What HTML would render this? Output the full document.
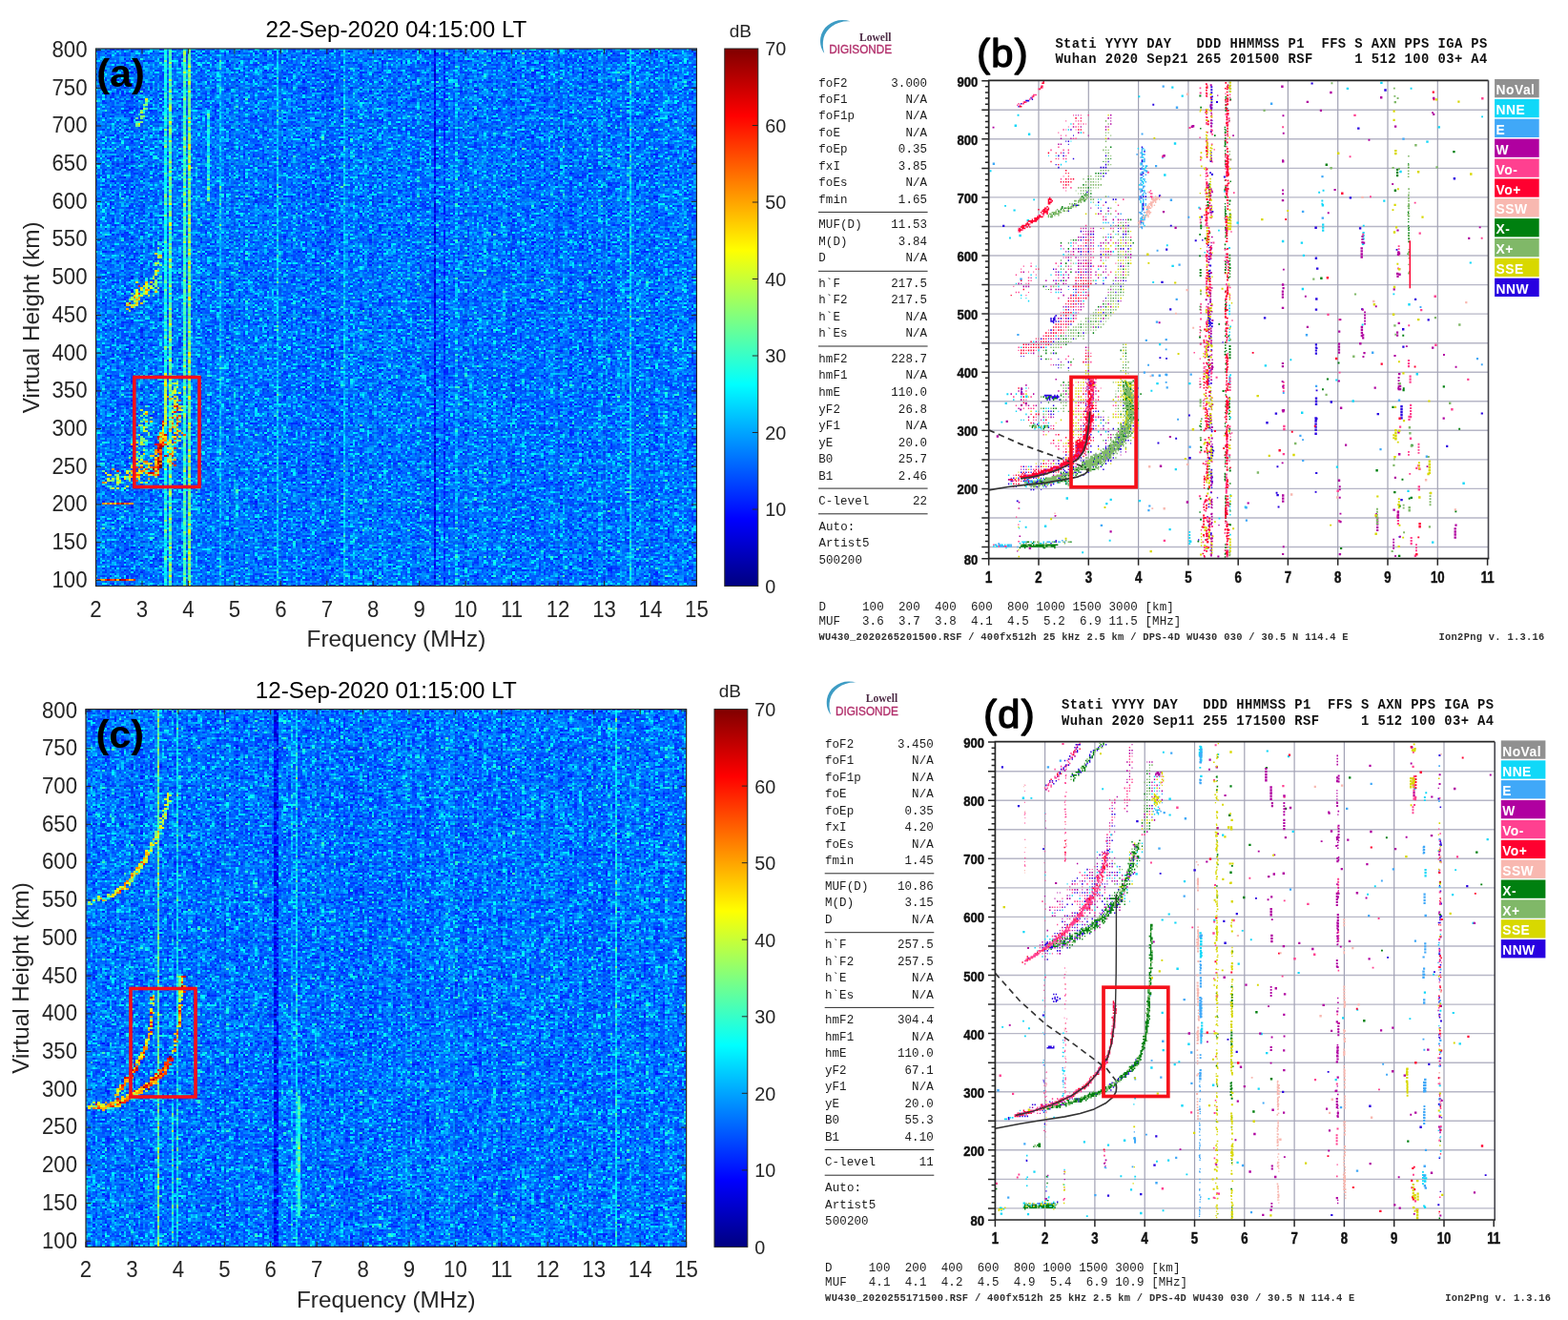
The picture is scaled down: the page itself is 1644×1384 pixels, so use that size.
<!DOCTYPE html>
<html lang="en"><head><meta charset="utf-8"><title>Ionogram comparison</title>
<style>html,body{margin:0;padding:0;background:#fff}body{width:1644px;height:1384px;overflow:hidden}svg{display:block}text{white-space:pre}</style>
</head><body>
<svg width="1644" height="1384" viewBox="0 0 1644 1384" xml:space="preserve">
<defs>
<filter id="ha" x="100" y="51" width="630" height="564" filterUnits="userSpaceOnUse" primitiveUnits="userSpaceOnUse" color-interpolation-filters="sRGB">
<feTurbulence type="fractalNoise" baseFrequency="1.7 1.9" numOctaves="1" seed="3" result="n"/>
<feColorMatrix in="n" type="matrix" values="1 0 0 0 0 1 0 0 0 0 1 0 0 0 0 0 0 0 0 1" result="g"/>
<feFlood x="100" y="51" width="1" height="1" flood-color="#fff" result="fa"/>
<feOffset in="fa" dx="0" dy="0" x="100" y="51" width="5" height="2" result="fa2"/>
<feTile in="fa2" result="ga"/>
<feComposite in="g" in2="ga" operator="in" result="sa"/>
<feConvolveMatrix in="sa" order="2 2" kernelMatrix="1 1 1 1" divisor="1" targetX="1" targetY="1" edgeMode="none" preserveAlpha="false" result="pa"/>
<feFlood x="102" y="51" width="1" height="1" flood-color="#fff" result="fb"/>
<feOffset in="fb" dx="0" dy="0" x="100" y="51" width="5" height="2" result="fb2"/>
<feTile in="fb2" result="gb"/>
<feComposite in="g" in2="gb" operator="in" result="sb"/>
<feConvolveMatrix in="sb" order="3 2" kernelMatrix="1 1 1 1 1 1" divisor="1" targetX="2" targetY="1" edgeMode="none" preserveAlpha="false" result="pb"/>
<feComposite in="pa" in2="pb" operator="over" result="pix"/>
<feComponentTransfer in="pix" result="pix"><feFuncR type="table" tableValues="0.386 0.407 0.429 0.461 0.5 0.564 0.657 0.743 0.814"/><feFuncG type="table" tableValues="0.386 0.407 0.429 0.461 0.5 0.564 0.657 0.743 0.814"/><feFuncB type="table" tableValues="0.386 0.407 0.429 0.461 0.5 0.564 0.657 0.743 0.814"/></feComponentTransfer><feComposite in="SourceGraphic" in2="pix" operator="arithmetic" k1="0" k2="1" k3="1.1" k4="-0.55" result="s"/>
<feGaussianBlur in="s" stdDeviation="0.5" result="s"/><feComponentTransfer in="s">
<feFuncR type="table" tableValues="0 0 0 0 0.5 1 1 1 0.5"/>
<feFuncG type="table" tableValues="0 0 0.5 1 1 1 0.5 0 0"/>
<feFuncB type="table" tableValues="0.5 1 1 1 0.5 0 0 0 0"/>
</feComponentTransfer>
</filter>
<linearGradient id="haj" x1="0" y1="1" x2="0" y2="0"><stop offset="0" stop-color="#000080"/><stop offset=".125" stop-color="#00f"/><stop offset=".375" stop-color="#0ff"/><stop offset=".625" stop-color="#ff0"/><stop offset=".875" stop-color="#f00"/><stop offset="1" stop-color="#800000"/></linearGradient>
<filter id="hc" x="90" y="743" width="630" height="564" filterUnits="userSpaceOnUse" primitiveUnits="userSpaceOnUse" color-interpolation-filters="sRGB">
<feTurbulence type="fractalNoise" baseFrequency="1.7 1.9" numOctaves="1" seed="11" result="n"/>
<feColorMatrix in="n" type="matrix" values="1 0 0 0 0 1 0 0 0 0 1 0 0 0 0 0 0 0 0 1" result="g"/>
<feFlood x="90" y="743" width="1" height="1" flood-color="#fff" result="fa"/>
<feOffset in="fa" dx="0" dy="0" x="90" y="743" width="5" height="2" result="fa2"/>
<feTile in="fa2" result="ga"/>
<feComposite in="g" in2="ga" operator="in" result="sa"/>
<feConvolveMatrix in="sa" order="2 2" kernelMatrix="1 1 1 1" divisor="1" targetX="1" targetY="1" edgeMode="none" preserveAlpha="false" result="pa"/>
<feFlood x="92" y="743" width="1" height="1" flood-color="#fff" result="fb"/>
<feOffset in="fb" dx="0" dy="0" x="90" y="743" width="5" height="2" result="fb2"/>
<feTile in="fb2" result="gb"/>
<feComposite in="g" in2="gb" operator="in" result="sb"/>
<feConvolveMatrix in="sb" order="3 2" kernelMatrix="1 1 1 1 1 1" divisor="1" targetX="2" targetY="1" edgeMode="none" preserveAlpha="false" result="pb"/>
<feComposite in="pa" in2="pb" operator="over" result="pix"/>
<feComponentTransfer in="pix" result="pix"><feFuncR type="table" tableValues="0.386 0.407 0.429 0.461 0.5 0.564 0.657 0.743 0.814"/><feFuncG type="table" tableValues="0.386 0.407 0.429 0.461 0.5 0.564 0.657 0.743 0.814"/><feFuncB type="table" tableValues="0.386 0.407 0.429 0.461 0.5 0.564 0.657 0.743 0.814"/></feComponentTransfer><feComposite in="SourceGraphic" in2="pix" operator="arithmetic" k1="0" k2="1" k3="1.1" k4="-0.55" result="s"/>
<feGaussianBlur in="s" stdDeviation="0.5" result="s"/><feComponentTransfer in="s">
<feFuncR type="table" tableValues="0 0 0 0 0.5 1 1 1 0.5"/>
<feFuncG type="table" tableValues="0 0 0.5 1 1 1 0.5 0 0"/>
<feFuncB type="table" tableValues="0.5 1 1 1 0.5 0 0 0 0"/>
</feComponentTransfer>
</filter>
<linearGradient id="hcj" x1="0" y1="1" x2="0" y2="0"><stop offset="0" stop-color="#000080"/><stop offset=".125" stop-color="#00f"/><stop offset=".375" stop-color="#0ff"/><stop offset=".625" stop-color="#ff0"/><stop offset=".875" stop-color="#f00"/><stop offset="1" stop-color="#800000"/></linearGradient>


</defs>
<rect width="1644" height="1384" fill="#fff"/>
<g filter="url(#ha)" shape-rendering="crispEdges">
<rect x="100" y="51" width="630" height="564" fill="#3c3c3c"/>
<path d="M137 51h3v564h-3zM477 51h3v564h-3zM570 51h2v564h-2zM610 51h2v564h-2z" fill="#373737"/>
<path d="M130 51h2v564h-2zM132 51h3v564h-3zM172 51h3v564h-3zM255 51h2v564h-2zM290 51h2v564h-2zM305 51h2v564h-2zM320 51h2v564h-2zM330 51h2v564h-2zM342 51h3v564h-3zM345 51h2v564h-2zM347 51h3v564h-3zM475 51h2v564h-2zM515 51h2v564h-2zM537 51h3v564h-3zM545 51h2v564h-2zM585 51h2v564h-2zM597 51h3v564h-3zM625 51h2v564h-2zM685 51h2v564h-2zM725 51h2v564h-2z" fill="#383838"/>
<path d="M115 51h2v564h-2zM117 51h3v564h-3zM122 51h3v564h-3zM135 51h2v564h-2zM147 51h3v564h-3zM157 51h3v564h-3zM162 51h3v564h-3zM170 51h2v564h-2zM180 51h2v564h-2zM197 51h3v564h-3zM210 51h2v564h-2zM215 51h2v564h-2zM222 51h3v564h-3zM225 51h2v564h-2zM235 51h2v564h-2zM240 51h2v564h-2zM242 51h3v564h-3zM250 51h2v564h-2zM275 51h2v564h-2zM280 51h2v564h-2zM297 51h3v564h-3zM312 51h3v564h-3zM317 51h3v564h-3zM335 51h2v564h-2zM337 51h3v564h-3zM355 51h2v564h-2zM357 51h3v564h-3zM365 51h2v564h-2zM387 51h3v564h-3zM395 51h2v564h-2zM400 51h2v564h-2zM407 51h3v564h-3zM425 51h2v564h-2zM432 51h3v564h-3zM447 51h3v564h-3zM452 51h3v564h-3zM482 51h3v564h-3zM485 51h2v564h-2zM490 51h2v564h-2zM500 51h2v564h-2zM512 51h3v564h-3zM520 51h2v564h-2zM532 51h3v564h-3zM535 51h2v564h-2zM552 51h3v564h-3zM557 51h3v564h-3zM565 51h2v564h-2zM582 51h3v564h-3zM595 51h2v564h-2zM617 51h3v564h-3zM620 51h2v564h-2zM622 51h3v564h-3zM632 51h3v564h-3zM637 51h3v564h-3zM640 51h2v564h-2zM642 51h3v564h-3zM665 51h2v564h-2zM675 51h2v564h-2zM682 51h3v564h-3zM687 51h3v564h-3zM700 51h2v564h-2zM722 51h3v564h-3z" fill="#3a3a3a"/>
<path d="M100 51h2v564h-2zM107 51h3v564h-3zM112 51h3v564h-3zM120 51h2v564h-2zM125 51h2v564h-2zM145 51h2v564h-2zM152 51h3v564h-3zM155 51h2v564h-2zM190 51h2v564h-2zM200 51h2v564h-2zM207 51h3v564h-3zM217 51h3v564h-3zM220 51h2v564h-2zM227 51h3v564h-3zM252 51h3v564h-3zM260 51h2v564h-2zM270 51h2v564h-2zM282 51h3v564h-3zM307 51h3v564h-3zM310 51h2v564h-2zM315 51h2v564h-2zM350 51h2v564h-2zM360 51h2v564h-2zM372 51h3v564h-3zM382 51h3v564h-3zM385 51h2v564h-2zM392 51h3v564h-3zM410 51h2v564h-2zM422 51h3v564h-3zM427 51h3v564h-3zM437 51h3v564h-3zM450 51h2v564h-2zM455 51h2v564h-2zM502 51h3v564h-3zM505 51h2v564h-2zM510 51h2v564h-2zM527 51h3v564h-3zM530 51h2v564h-2zM540 51h2v564h-2zM547 51h3v564h-3zM567 51h3v564h-3zM575 51h2v564h-2zM577 51h3v564h-3zM580 51h2v564h-2zM605 51h2v564h-2zM615 51h2v564h-2zM647 51h3v564h-3zM652 51h3v564h-3zM662 51h3v564h-3zM670 51h2v564h-2zM672 51h3v564h-3zM677 51h3v564h-3zM690 51h2v564h-2zM697 51h3v564h-3zM705 51h2v564h-2zM707 51h3v564h-3zM712 51h3v564h-3zM717 51h3v564h-3z" fill="#3e3e3e"/>
<path d="M160 51h2v564h-2zM165 51h2v564h-2zM182 51h3v564h-3zM185 51h2v564h-2zM192 51h3v564h-3zM232 51h3v564h-3zM247 51h3v564h-3zM257 51h3v564h-3zM325 51h2v564h-2zM362 51h3v564h-3zM402 51h3v564h-3zM405 51h2v564h-2zM492 51h3v564h-3zM507 51h3v564h-3zM517 51h3v564h-3zM630 51h2v564h-2zM635 51h2v564h-2z" fill="#404040"/>
<path d="M177 51h3v564h-3zM205 51h2v564h-2zM245 51h2v564h-2zM370 51h2v564h-2zM590 51h2v564h-2zM627 51h3v564h-3zM650 51h2v564h-2zM695 51h2v564h-2z" fill="#424242"/>
<path d="M105 51h2v564h-2zM715 51h2v564h-2z" fill="#434343"/>
<rect x="172" y="51" width="3" height="564" fill="#626262"/>
<rect x="177" y="51" width="3" height="564" fill="#757575"/>
<rect x="192" y="51" width="3" height="564" fill="#717171"/>
<rect x="197" y="51" width="3" height="564" fill="#808080"/>
<rect x="230" y="51" width="2" height="564" fill="#505050"/>
<rect x="290" y="51" width="2" height="564" fill="#545454"/>
<rect x="360" y="51" width="2" height="564" fill="#505050"/>
<rect x="455" y="51" width="2" height="564" fill="#1d1d1d"/>
<rect x="465" y="51" width="2" height="564" fill="#2c2c2c"/>
<rect x="477" y="51" width="3" height="564" fill="#494949"/>
<rect x="660" y="51" width="2" height="564" fill="#575757"/>
<rect x="172" y="391" width="3" height="54" fill="#8e8e8e"/>
<rect x="217" y="115" width="3" height="96" fill="#626262"/>
<path d="M115 528h2M120 528h2" stroke="#8e8e8e" stroke-width="2" fill="none"/><path d="M107 528h3M110 528h2" stroke="#afafaf" stroke-width="2" fill="none"/><path d="M130 528h2M135 528h2M137 528h3" stroke="#bababa" stroke-width="2" fill="none"/><path d="M117 528h3M125 528h2" stroke="#c5c5c5" stroke-width="2" fill="none"/><path d="M112 528h3M132 528h3" stroke="#d0d0d0" stroke-width="2" fill="none"/><path d="M122 528h3" stroke="#dbdbdb" stroke-width="2" fill="none"/><path d="M127 528h3" stroke="#e6e6e6" stroke-width="2" fill="none"/>
<path d="M105 608h2M117 608h3M137 608h3" stroke="#afafaf" stroke-width="2" fill="none"/><path d="M122 608h3M135 608h2" stroke="#bababa" stroke-width="2" fill="none"/><path d="M107 608h3" stroke="#c5c5c5" stroke-width="2" fill="none"/><path d="M110 608h2M115 608h2M127 608h3M132 608h3M140 608h2" stroke="#d0d0d0" stroke-width="2" fill="none"/><path d="M102 608h3M120 608h2" stroke="#dbdbdb" stroke-width="2" fill="none"/><path d="M112 608h3M125 608h2" stroke="#f0f0f0" stroke-width="2" fill="none"/><path d="M130 608h2" stroke="#fbfbfb" stroke-width="2" fill="none"/>
<path d="M120 494h2M137 494h3M140 496h2M127 500h3M137 506h3M112 510h3M115 512h2" stroke="#626262" stroke-width="2" fill="none"/><path d="M142 488h3M120 498h2M132 502h3M127 506h3" stroke="#6d6d6d" stroke-width="2" fill="none"/><path d="M125 496h2M132 500h3M122 508h3M115 510h2" stroke="#787878" stroke-width="2" fill="none"/><path d="M135 480h2M137 488h3M135 494h2M137 496h3M130 500h2M117 504h3M125 504h2M117 512h3M130 512h2" stroke="#838383" stroke-width="2" fill="none"/><path d="M110 496h2M122 498h3M122 500h3M112 502h3M112 504h3M115 504h2M122 504h3M135 504h2M122 506h3" stroke="#8e8e8e" stroke-width="2" fill="none"/><path d="M132 494h3M112 498h3M140 500h2M117 502h3M122 502h3M135 502h2M125 506h2M132 510h3M122 512h3" stroke="#999999" stroke-width="2" fill="none"/><path d="M132 496h3M135 500h2" stroke="#a4a4a4" stroke-width="2" fill="none"/><path d="M117 492h3M115 498h2M137 500h3M130 502h2M107 506h3M110 506h2" stroke="#afafaf" stroke-width="2" fill="none"/><path d="M122 494h3" stroke="#d0d0d0" stroke-width="2" fill="none"/>
<path d="M155 494h2" stroke="#626262" stroke-width="2" fill="none"/><path d="M142 480h3M152 490h3" stroke="#6d6d6d" stroke-width="2" fill="none"/><path d="M150 498h2M147 506h3" stroke="#787878" stroke-width="2" fill="none"/><path d="M147 488h3M137 490h3M150 492h2M157 492h3M152 494h3M145 496h2" stroke="#838383" stroke-width="2" fill="none"/><path d="M145 494h2M140 500h2M152 506h3" stroke="#8e8e8e" stroke-width="2" fill="none"/><path d="M145 484h2M155 486h2M155 490h2M145 492h2" stroke="#999999" stroke-width="2" fill="none"/><path d="M152 484h3M152 486h3M147 496h3M155 498h2M142 500h3M135 502h2M145 502h2" stroke="#a4a4a4" stroke-width="2" fill="none"/><path d="M147 494h3M142 496h3M145 500h2" stroke="#afafaf" stroke-width="2" fill="none"/><path d="M155 488h2M157 490h3M150 494h2M152 496h3M135 498h2M145 498h2M140 504h2" stroke="#bababa" stroke-width="2" fill="none"/><path d="M150 484h2M152 492h3M137 494h3M155 496h2M142 498h3M155 502h2M142 504h3" stroke="#c5c5c5" stroke-width="2" fill="none"/><path d="M142 490h3M147 490h3" stroke="#d0d0d0" stroke-width="2" fill="none"/><path d="M150 486h2" stroke="#fbfbfb" stroke-width="2" fill="none"/>
<path d="M150 438h2M155 446h2M147 448h3M157 450h3M147 452h3M142 456h3M152 464h3M145 466h2M147 466h3M152 466h3M145 470h2M150 470h2M142 478h3M147 480h3" stroke="#626262" stroke-width="2" fill="none"/><path d="M160 432h2M152 436h3M152 440h3M152 444h3M152 446h3M155 454h2M142 468h3M152 472h3M145 480h2M150 486h2M145 488h2" stroke="#6d6d6d" stroke-width="2" fill="none"/><path d="M152 426h3M147 450h3M147 458h3M147 460h3M150 460h2M142 462h3M147 462h3M152 462h3M145 476h2M142 480h3M140 482h2M147 484h3" stroke="#787878" stroke-width="2" fill="none"/><path d="M150 434h2M147 442h3M145 446h2M152 448h3M150 450h2M150 452h2M152 452h3M150 462h2M142 464h3M137 466h3M150 466h2M150 472h2M150 476h2M140 480h2M147 482h3" stroke="#838383" stroke-width="2" fill="none"/><path d="M147 436h3M157 438h3M150 440h2M157 442h3M147 446h3M150 448h2M145 456h2M155 456h2M147 464h3M147 478h3M142 482h3" stroke="#8e8e8e" stroke-width="2" fill="none"/><path d="M147 430h3M152 432h3M142 474h3M142 486h3" stroke="#999999" stroke-width="2" fill="none"/><path d="M152 434h3" stroke="#a4a4a4" stroke-width="2" fill="none"/><path d="M152 442h3" stroke="#afafaf" stroke-width="2" fill="none"/>
<path d="M170 484h2" stroke="#787878" stroke-width="2" fill="none"/><path d="M167 460h3M165 478h2M162 496h3M162 500h3" stroke="#838383" stroke-width="2" fill="none"/><path d="M167 464h3M157 486h3M157 498h3" stroke="#8e8e8e" stroke-width="2" fill="none"/><path d="M167 458h3M162 492h3" stroke="#999999" stroke-width="2" fill="none"/><path d="M172 458h3M162 480h3" stroke="#a4a4a4" stroke-width="2" fill="none"/><path d="M172 460h3M167 462h3M162 472h3M162 476h3M160 478h2M162 482h3M162 484h3M162 486h3M157 490h3M165 494h2M165 496h2M160 498h2" stroke="#afafaf" stroke-width="2" fill="none"/><path d="M170 462h2M172 462h3M165 466h2M167 472h3M162 474h3M157 478h3M162 488h3M160 490h2" stroke="#bababa" stroke-width="2" fill="none"/><path d="M170 458h2M170 460h2M170 466h2M167 478h3M167 480h3M165 482h2M167 482h3M167 486h3M162 490h3M162 498h3" stroke="#c5c5c5" stroke-width="2" fill="none"/><path d="M167 456h3M162 466h3M165 468h2M165 474h2M167 474h3M165 488h2M165 490h2M160 496h2M165 498h2" stroke="#d0d0d0" stroke-width="2" fill="none"/><path d="M172 456h3M165 460h2M172 466h3M165 486h2M162 494h3" stroke="#dbdbdb" stroke-width="2" fill="none"/><path d="M170 464h2M167 468h3M170 468h2M167 470h3M165 472h2" stroke="#e6e6e6" stroke-width="2" fill="none"/><path d="M165 458h2M167 466h3M165 470h2M167 476h3M165 480h2M165 484h2M167 490h3M165 492h2" stroke="#f0f0f0" stroke-width="2" fill="none"/><path d="M167 484h3M167 488h3M160 492h2M157 496h3" stroke="#fbfbfb" stroke-width="2" fill="none"/>
<path d="M172 446h3" stroke="#838383" stroke-width="2" fill="none"/><path d="M170 458h2" stroke="#8e8e8e" stroke-width="2" fill="none"/><path d="M167 456h3" stroke="#999999" stroke-width="2" fill="none"/><path d="M170 448h2M170 450h2M170 452h2" stroke="#a4a4a4" stroke-width="2" fill="none"/><path d="M170 454h2M170 456h2" stroke="#afafaf" stroke-width="2" fill="none"/><path d="M170 444h2" stroke="#bababa" stroke-width="2" fill="none"/><path d="M167 454h3" stroke="#c5c5c5" stroke-width="2" fill="none"/><path d="M170 442h2M170 446h2" stroke="#d0d0d0" stroke-width="2" fill="none"/>
<path d="M180 420h2M182 430h3M180 436h2M182 438h3M187 440h3M182 452h3M177 458h3M180 460h2M182 462h3M172 490h3M177 494h3" stroke="#626262" stroke-width="2" fill="none"/><path d="M180 410h2M185 434h2M180 446h2M185 464h2M175 472h2M177 474h3M172 482h3M172 484h3M175 486h2" stroke="#6d6d6d" stroke-width="2" fill="none"/><path d="M180 426h2M180 430h2M182 434h3M187 434h3M182 446h3M182 450h3M177 470h3M187 470h3M182 480h3" stroke="#787878" stroke-width="2" fill="none"/><path d="M185 416h2M190 426h2M187 430h3M185 454h2M180 470h2M180 472h2M182 474h3M177 478h3M175 480h2M180 482h2" stroke="#838383" stroke-width="2" fill="none"/><path d="M180 414h2M185 420h2M182 424h3M187 426h3M182 428h3M187 438h3M180 440h2M185 442h2M177 446h3M185 462h2M187 462h3M177 480h3M177 482h3M177 486h3" stroke="#8e8e8e" stroke-width="2" fill="none"/><path d="M182 422h3M187 428h3M190 430h2M180 442h2M177 450h3M187 458h3M177 464h3M175 466h2M175 484h2M172 492h3" stroke="#999999" stroke-width="2" fill="none"/><path d="M180 412h2M180 418h2M182 420h3M185 424h2M185 450h2M177 452h3M180 458h2M182 458h3M180 466h2M175 470h2M175 474h2M180 476h2" stroke="#a4a4a4" stroke-width="2" fill="none"/><path d="M182 412h3M180 432h2M182 436h3M187 442h3M185 446h2M180 448h2M182 448h3M182 454h3M177 462h3M175 464h2M175 482h2M182 482h3" stroke="#afafaf" stroke-width="2" fill="none"/><path d="M177 418h3M187 452h3M190 454h2M177 484h3" stroke="#bababa" stroke-width="2" fill="none"/><path d="M175 416h2M187 420h3M180 444h2M185 456h2M182 460h3M180 474h2M177 476h3M180 478h2M180 486h2" stroke="#c5c5c5" stroke-width="2" fill="none"/><path d="M182 416h3M182 426h3M182 432h3M187 436h3M185 440h2M185 452h2M192 456h3M182 464h3M182 488h3" stroke="#d0d0d0" stroke-width="2" fill="none"/><path d="M185 426h2M185 430h2M185 444h2M182 470h3" stroke="#dbdbdb" stroke-width="2" fill="none"/><path d="M180 438h2M172 478h3" stroke="#e6e6e6" stroke-width="2" fill="none"/><path d="M185 438h2" stroke="#f0f0f0" stroke-width="2" fill="none"/>
<path d="M180 414h2" stroke="#6d6d6d" stroke-width="2" fill="none"/><path d="M180 394h2M185 400h2M185 404h2M180 412h2M177 414h3" stroke="#787878" stroke-width="2" fill="none"/><path d="M177 400h3M182 402h3M185 402h2M182 406h3M177 410h3" stroke="#838383" stroke-width="2" fill="none"/><path d="M180 402h2M182 408h3M187 412h3M182 416h3" stroke="#8e8e8e" stroke-width="2" fill="none"/><path d="M177 404h3M185 406h2M182 410h3M182 412h3M185 418h2" stroke="#999999" stroke-width="2" fill="none"/>
<path d="M152 292h3M145 310h2" stroke="#626262" stroke-width="2" fill="none"/><path d="M152 294h3M155 300h2M140 304h2M150 308h2M140 322h2" stroke="#6d6d6d" stroke-width="2" fill="none"/><path d="M150 304h2M137 308h3M142 312h3" stroke="#787878" stroke-width="2" fill="none"/><path d="M152 300h3M147 304h3M147 308h3M140 314h2M142 316h3M150 316h2" stroke="#838383" stroke-width="2" fill="none"/><path d="M157 300h3M152 302h3M142 306h3M150 306h2M135 314h2M137 314h3M140 316h2M132 318h3M135 320h2M137 320h3M142 320h3M137 322h3M135 326h2" stroke="#8e8e8e" stroke-width="2" fill="none"/><path d="M142 296h3M157 302h3M152 306h3M142 308h3M140 310h2M142 310h3M147 310h3M155 310h2M137 312h3M147 318h3" stroke="#999999" stroke-width="2" fill="none"/><path d="M157 296h3M152 298h3M147 302h3M142 304h3M152 304h3M140 312h2M145 314h2M142 318h3M140 320h2" stroke="#a4a4a4" stroke-width="2" fill="none"/><path d="M150 300h2M155 304h2M152 308h3M132 320h3" stroke="#afafaf" stroke-width="2" fill="none"/><path d="M152 296h3M145 312h2M142 314h3M132 324h3" stroke="#bababa" stroke-width="2" fill="none"/><path d="M145 308h2" stroke="#c5c5c5" stroke-width="2" fill="none"/><path d="M145 300h2M135 318h2" stroke="#dbdbdb" stroke-width="2" fill="none"/>
<path d="M167 264h3M165 274h2M160 298h2" stroke="#626262" stroke-width="2" fill="none"/><path d="M165 264h2M170 280h2M165 282h2M165 296h2M167 296h3M160 310h2" stroke="#6d6d6d" stroke-width="2" fill="none"/><path d="M165 260h2M165 266h2M167 266h3M167 270h3M165 292h2M162 294h3M162 300h3" stroke="#787878" stroke-width="2" fill="none"/><path d="M170 262h2M162 278h3M162 286h3M160 290h2M167 290h3M162 296h3M162 298h3M162 304h3" stroke="#838383" stroke-width="2" fill="none"/><path d="M162 266h3M165 268h2M162 276h3M165 276h2M167 278h3M162 284h3M165 284h2M160 302h2M165 302h2" stroke="#8e8e8e" stroke-width="2" fill="none"/><path d="M165 270h2M162 288h3M160 292h2M162 306h3" stroke="#999999" stroke-width="2" fill="none"/><path d="M167 268h3" stroke="#a4a4a4" stroke-width="2" fill="none"/>
<path d="M155 106h2M150 118h2M145 128h2" stroke="#626262" stroke-width="2" fill="none"/><path d="M150 116h2M145 120h2M142 128h3M142 132h3" stroke="#6d6d6d" stroke-width="2" fill="none"/><path d="M152 106h3M152 108h3M152 114h3M147 122h3" stroke="#787878" stroke-width="2" fill="none"/><path d="M152 110h3M147 116h3M150 122h2M142 124h3M147 128h3M142 130h3M145 132h2" stroke="#838383" stroke-width="2" fill="none"/><path d="M152 104h3M150 110h2M150 114h2M147 118h3M147 124h3" stroke="#8e8e8e" stroke-width="2" fill="none"/><path d="M145 130h2" stroke="#999999" stroke-width="2" fill="none"/>
</g>
<path d="M100.5 568.7H730.4M100.5 529H730.4M100.5 489.3H730.4M100.5 449.6H730.4M100.5 409.9H730.4M100.5 370.2H730.4M100.5 330.5H730.4M100.5 290.8H730.4M100.5 251.1H730.4M100.5 211.4H730.4M100.5 171.7H730.4M100.5 132H730.4M100.5 92.3H730.4M149 51V614.5M197.4 51V614.5M245.9 51V614.5M294.3 51V614.5M342.8 51V614.5M391.2 51V614.5M439.7 51V614.5M488.1 51V614.5M536.6 51V614.5M585 51V614.5M633.5 51V614.5M681.9 51V614.5" stroke="#262626" stroke-opacity=".11" stroke-width="1" fill="none"/>
<path d="M100.5 608.4h5.5M730.4 608.4h-5.5M100.5 568.7h5.5M730.4 568.7h-5.5M100.5 529h5.5M730.4 529h-5.5M100.5 489.3h5.5M730.4 489.3h-5.5M100.5 449.6h5.5M730.4 449.6h-5.5M100.5 409.9h5.5M730.4 409.9h-5.5M100.5 370.2h5.5M730.4 370.2h-5.5M100.5 330.5h5.5M730.4 330.5h-5.5M100.5 290.8h5.5M730.4 290.8h-5.5M100.5 251.1h5.5M730.4 251.1h-5.5M100.5 211.4h5.5M730.4 211.4h-5.5M100.5 171.7h5.5M730.4 171.7h-5.5M100.5 132h5.5M730.4 132h-5.5M100.5 92.3h5.5M730.4 92.3h-5.5M100.5 52.6h5.5M730.4 52.6h-5.5M100.5 614.5v-5.5M100.5 51v5.5M149 614.5v-5.5M149 51v5.5M197.4 614.5v-5.5M197.4 51v5.5M245.9 614.5v-5.5M245.9 51v5.5M294.3 614.5v-5.5M294.3 51v5.5M342.8 614.5v-5.5M342.8 51v5.5M391.2 614.5v-5.5M391.2 51v5.5M439.7 614.5v-5.5M439.7 51v5.5M488.1 614.5v-5.5M488.1 51v5.5M536.6 614.5v-5.5M536.6 51v5.5M585 614.5v-5.5M585 51v5.5M633.5 614.5v-5.5M633.5 51v5.5M681.9 614.5v-5.5M681.9 51v5.5M730.4 614.5v-5.5M730.4 51v5.5" stroke="#262626" stroke-width="1" fill="none"/>
<rect x="100.5" y="51" width="629.9" height="563.5" fill="none" stroke="#262626" stroke-width="1.2"/>
<g font-family="'Liberation Sans',Arial,Helvetica,sans-serif" font-size="22.2" fill="#262626">
<g text-anchor="end">
<text transform="translate(91.5 615.7) scale(1 1.06)">100</text>
<text transform="translate(91.5 576) scale(1 1.06)">150</text>
<text transform="translate(91.5 536.3) scale(1 1.06)">200</text>
<text transform="translate(91.5 496.6) scale(1 1.06)">250</text>
<text transform="translate(91.5 456.9) scale(1 1.06)">300</text>
<text transform="translate(91.5 417.2) scale(1 1.06)">350</text>
<text transform="translate(91.5 377.5) scale(1 1.06)">400</text>
<text transform="translate(91.5 337.8) scale(1 1.06)">450</text>
<text transform="translate(91.5 298.1) scale(1 1.06)">500</text>
<text transform="translate(91.5 258.4) scale(1 1.06)">550</text>
<text transform="translate(91.5 218.7) scale(1 1.06)">600</text>
<text transform="translate(91.5 179) scale(1 1.06)">650</text>
<text transform="translate(91.5 139.3) scale(1 1.06)">700</text>
<text transform="translate(91.5 99.6) scale(1 1.06)">750</text>
<text transform="translate(91.5 59.9) scale(1 1.06)">800</text>
</g><g text-anchor="middle">
<text transform="translate(100.5 646.5) scale(1 1.06)">2</text>
<text transform="translate(149 646.5) scale(1 1.06)">3</text>
<text transform="translate(197.4 646.5) scale(1 1.06)">4</text>
<text transform="translate(245.9 646.5) scale(1 1.06)">5</text>
<text transform="translate(294.3 646.5) scale(1 1.06)">6</text>
<text transform="translate(342.8 646.5) scale(1 1.06)">7</text>
<text transform="translate(391.2 646.5) scale(1 1.06)">8</text>
<text transform="translate(439.7 646.5) scale(1 1.06)">9</text>
<text transform="translate(488.1 646.5) scale(1 1.06)">10</text>
<text transform="translate(536.6 646.5) scale(1 1.06)">11</text>
<text transform="translate(585 646.5) scale(1 1.06)">12</text>
<text transform="translate(633.5 646.5) scale(1 1.06)">13</text>
<text transform="translate(681.9 646.5) scale(1 1.06)">14</text>
<text transform="translate(730.4 646.5) scale(1 1.06)">15</text>
</g>
<text x="415.4" y="678.3" text-anchor="middle" font-size="24.3">Frequency (MHz)</text>
<text transform="translate(40.6 332.8) rotate(-90)" text-anchor="middle" font-size="24.3">Virtual Height (km)</text>
<text x="415.4" y="39" text-anchor="middle" font-size="24.2" fill="#000">22-Sep-2020 04:15:00 LT</text>
<rect x="759.8" y="51" width="35" height="563.5" fill="url(#haj)" stroke="#262626" stroke-width="1"/>
<path d="M794.8 534h-6M794.8 453.5h-6M794.8 373h-6M794.8 292.5h-6M794.8 212h-6M794.8 131.5h-6" stroke="#262626" stroke-width="1" fill="none"/>
<text transform="translate(802.3 621.9) scale(1 1.06)" font-size="19.8">0</text>
<text transform="translate(802.3 541.4) scale(1 1.06)" font-size="19.8">10</text>
<text transform="translate(802.3 460.9) scale(1 1.06)" font-size="19.8">20</text>
<text transform="translate(802.3 380.4) scale(1 1.06)" font-size="19.8">30</text>
<text transform="translate(802.3 299.9) scale(1 1.06)" font-size="19.8">40</text>
<text transform="translate(802.3 219.4) scale(1 1.06)" font-size="19.8">50</text>
<text transform="translate(802.3 138.9) scale(1 1.06)" font-size="19.8">60</text>
<text transform="translate(802.3 58.4) scale(1 1.06)" font-size="19.8">70</text>
<text x="776.3" y="38.5" text-anchor="middle" font-size="19">dB</text>
</g>
<rect x="140.8" y="395.5" width="68.2" height="115" fill="none" stroke="#f5101a" stroke-width="3.6"/>
<text x="101.2" y="90.9" font-family="'Liberation Sans',Arial,Helvetica,sans-serif" font-weight="bold" font-size="41.5" fill="#000">(a)</text>
<g filter="url(#hc)" shape-rendering="crispEdges">
<rect x="90" y="743" width="630" height="564" fill="#3c3c3c"/>
<path d="M235 743h2v564h-2zM247 743h3v564h-3zM312 743h3v564h-3zM432 743h3v564h-3zM632 743h3v564h-3zM675 743h2v564h-2z" fill="#373737"/>
<path d="M112 743h3v564h-3zM147 743h3v564h-3zM175 743h2v564h-2zM182 743h3v564h-3zM205 743h2v564h-2zM360 743h2v564h-2zM372 743h3v564h-3zM387 743h3v564h-3zM447 743h3v564h-3zM497 743h3v564h-3zM502 743h3v564h-3zM525 743h2v564h-2zM532 743h3v564h-3zM565 743h2v564h-2zM595 743h2v564h-2zM612 743h3v564h-3zM685 743h2v564h-2zM695 743h2v564h-2z" fill="#383838"/>
<path d="M97 743h3v564h-3zM110 743h2v564h-2zM120 743h2v564h-2zM127 743h3v564h-3zM142 743h3v564h-3zM150 743h2v564h-2zM167 743h3v564h-3zM195 743h2v564h-2zM217 743h3v564h-3zM220 743h2v564h-2zM225 743h2v564h-2zM227 743h3v564h-3zM245 743h2v564h-2zM255 743h2v564h-2zM257 743h3v564h-3zM270 743h2v564h-2zM275 743h2v564h-2zM280 743h2v564h-2zM302 743h3v564h-3zM322 743h3v564h-3zM332 743h3v564h-3zM337 743h3v564h-3zM340 743h2v564h-2zM352 743h3v564h-3zM355 743h2v564h-2zM362 743h3v564h-3zM365 743h2v564h-2zM367 743h3v564h-3zM370 743h2v564h-2zM375 743h2v564h-2zM377 743h3v564h-3zM385 743h2v564h-2zM392 743h3v564h-3zM400 743h2v564h-2zM402 743h3v564h-3zM412 743h3v564h-3zM415 743h2v564h-2zM417 743h3v564h-3zM420 743h2v564h-2zM437 743h3v564h-3zM445 743h2v564h-2zM450 743h2v564h-2zM452 743h3v564h-3zM460 743h2v564h-2zM480 743h2v564h-2zM482 743h3v564h-3zM485 743h2v564h-2zM487 743h3v564h-3zM510 743h2v564h-2zM512 743h3v564h-3zM522 743h3v564h-3zM545 743h2v564h-2zM555 743h2v564h-2zM562 743h3v564h-3zM575 743h2v564h-2zM587 743h3v564h-3zM597 743h3v564h-3zM602 743h3v564h-3zM615 743h2v564h-2zM642 743h3v564h-3zM645 743h2v564h-2zM647 743h3v564h-3zM692 743h3v564h-3zM710 743h2v564h-2zM712 743h3v564h-3zM715 743h2v564h-2z" fill="#3a3a3a"/>
<path d="M102 743h3v564h-3zM105 743h2v564h-2zM115 743h2v564h-2zM122 743h3v564h-3zM130 743h2v564h-2zM132 743h3v564h-3zM135 743h2v564h-2zM152 743h3v564h-3zM155 743h2v564h-2zM165 743h2v564h-2zM170 743h2v564h-2zM207 743h3v564h-3zM240 743h2v564h-2zM250 743h2v564h-2zM260 743h2v564h-2zM265 743h2v564h-2zM267 743h3v564h-3zM287 743h3v564h-3zM292 743h3v564h-3zM300 743h2v564h-2zM305 743h2v564h-2zM307 743h3v564h-3zM330 743h2v564h-2zM347 743h3v564h-3zM350 743h2v564h-2zM382 743h3v564h-3zM410 743h2v564h-2zM440 743h2v564h-2zM442 743h3v564h-3zM462 743h3v564h-3zM465 743h2v564h-2zM472 743h3v564h-3zM495 743h2v564h-2zM500 743h2v564h-2zM505 743h2v564h-2zM515 743h2v564h-2zM520 743h2v564h-2zM537 743h3v564h-3zM540 743h2v564h-2zM542 743h3v564h-3zM552 743h3v564h-3zM557 743h3v564h-3zM560 743h2v564h-2zM567 743h3v564h-3zM570 743h2v564h-2zM572 743h3v564h-3zM590 743h2v564h-2zM600 743h2v564h-2zM605 743h2v564h-2zM607 743h3v564h-3zM610 743h2v564h-2zM620 743h2v564h-2zM652 743h3v564h-3zM660 743h2v564h-2zM662 743h3v564h-3zM667 743h3v564h-3zM677 743h3v564h-3zM680 743h2v564h-2zM700 743h2v564h-2zM702 743h3v564h-3zM705 743h2v564h-2zM717 743h3v564h-3z" fill="#3e3e3e"/>
<path d="M95 743h2v564h-2zM117 743h3v564h-3zM162 743h3v564h-3zM180 743h2v564h-2zM237 743h3v564h-3zM295 743h2v564h-2zM335 743h2v564h-2zM407 743h3v564h-3zM430 743h2v564h-2zM457 743h3v564h-3zM467 743h3v564h-3zM475 743h2v564h-2zM517 743h3v564h-3zM547 743h3v564h-3zM582 743h3v564h-3zM640 743h2v564h-2zM682 743h3v564h-3z" fill="#404040"/>
<path d="M470 743h2v564h-2zM697 743h3v564h-3z" fill="#424242"/>
<path d="M425 743h2v564h-2z" fill="#434343"/>
<rect x="165" y="743" width="2" height="564" fill="#787878"/>
<rect x="185" y="743" width="2" height="564" fill="#5b5b5b"/>
<rect x="287" y="743" width="3" height="564" fill="#212121"/>
<rect x="290" y="743" width="2" height="564" fill="#242424"/>
<rect x="305" y="743" width="2" height="564" fill="#494949"/>
<rect x="310" y="743" width="2" height="564" fill="#575757"/>
<rect x="645" y="743" width="2" height="564" fill="#5b5b5b"/>
<rect x="180" y="1157" width="2" height="144" fill="#626262"/>
<rect x="312" y="1149" width="3" height="128" fill="#6d6d6d"/>
<rect x="187" y="1023" width="3" height="24" fill="#838383"/>
<path d="M125 1154h2M122 1158h3M115 1160h2M117 1160h3M112 1162h3" stroke="#787878" stroke-width="2" fill="none"/><path d="M95 1158h2M100 1160h2" stroke="#838383" stroke-width="2" fill="none"/><path d="M110 1156h2M122 1156h3M105 1158h2M95 1160h2M92 1162h3M107 1162h3" stroke="#8e8e8e" stroke-width="2" fill="none"/><path d="M97 1156h3M115 1156h2M117 1156h3M107 1158h3M117 1158h3M125 1158h2M97 1160h3M120 1160h2M125 1160h2M100 1162h2" stroke="#999999" stroke-width="2" fill="none"/><path d="M102 1156h3M102 1158h3M112 1158h3M92 1160h3M105 1160h2M107 1160h3M110 1160h2M107 1164h3" stroke="#a4a4a4" stroke-width="2" fill="none"/><path d="M115 1158h2M122 1160h3M97 1162h3M110 1162h2" stroke="#afafaf" stroke-width="2" fill="none"/><path d="M102 1160h3M112 1160h3M105 1162h2" stroke="#bababa" stroke-width="2" fill="none"/><path d="M100 1158h2M102 1162h3" stroke="#c5c5c5" stroke-width="2" fill="none"/>
<path d="M120 1150h2" stroke="#6d6d6d" stroke-width="2" fill="none"/><path d="M152 1096h3" stroke="#838383" stroke-width="2" fill="none"/><path d="M152 1092h3M150 1106h2M125 1144h2" stroke="#8e8e8e" stroke-width="2" fill="none"/><path d="M152 1094h3M135 1128h2M122 1144h3M122 1146h3" stroke="#999999" stroke-width="2" fill="none"/><path d="M152 1098h3M147 1106h3M147 1108h3M142 1112h3M137 1124h3M132 1134h3M122 1142h3" stroke="#a4a4a4" stroke-width="2" fill="none"/><path d="M150 1098h2M145 1108h2M145 1110h2M142 1114h3M145 1116h2M140 1120h2M137 1130h3M130 1132h2M125 1138h2M130 1138h2M125 1140h2M120 1148h2" stroke="#afafaf" stroke-width="2" fill="none"/><path d="M152 1100h3M150 1102h2M147 1110h3M145 1114h2M142 1118h3M140 1122h2M135 1130h2M132 1132h3M122 1148h3" stroke="#bababa" stroke-width="2" fill="none"/><path d="M150 1100h2M147 1104h3M150 1104h2M150 1108h2M140 1116h2M135 1126h2M130 1134h2M130 1136h2M125 1142h2M127 1142h3" stroke="#c5c5c5" stroke-width="2" fill="none"/><path d="M145 1112h2M137 1122h3M137 1128h3M127 1140h3" stroke="#d0d0d0" stroke-width="2" fill="none"/><path d="M140 1124h2M132 1130h3" stroke="#dbdbdb" stroke-width="2" fill="none"/><path d="M142 1122h3M127 1138h3" stroke="#e6e6e6" stroke-width="2" fill="none"/><path d="M142 1120h3M130 1130h2" stroke="#f0f0f0" stroke-width="2" fill="none"/>
<path d="M157 1068h3" stroke="#787878" stroke-width="2" fill="none"/><path d="M160 1054h2M152 1090h3" stroke="#838383" stroke-width="2" fill="none"/><path d="M157 1052h3M157 1078h3" stroke="#8e8e8e" stroke-width="2" fill="none"/><path d="M157 1074h3M155 1090h2" stroke="#999999" stroke-width="2" fill="none"/><path d="M160 1044h2M160 1062h2M157 1070h3" stroke="#a4a4a4" stroke-width="2" fill="none"/><path d="M160 1052h2M157 1058h3M157 1060h3M157 1066h3M155 1078h2M155 1084h2M157 1084h3" stroke="#afafaf" stroke-width="2" fill="none"/><path d="M157 1048h3M160 1048h2M157 1062h3M157 1076h3M155 1080h2M157 1082h3M155 1088h2" stroke="#bababa" stroke-width="2" fill="none"/><path d="M157 1046h3M160 1046h2M157 1072h3M155 1086h2" stroke="#c5c5c5" stroke-width="2" fill="none"/>
<path d="M115 1162h2" stroke="#6d6d6d" stroke-width="2" fill="none"/><path d="M120 1154h2M120 1158h2" stroke="#787878" stroke-width="2" fill="none"/><path d="M152 1144h3M140 1148h2M137 1152h3" stroke="#838383" stroke-width="2" fill="none"/><path d="M157 1134h3M135 1146h2M142 1148h3M137 1150h3M115 1156h2" stroke="#8e8e8e" stroke-width="2" fill="none"/><path d="M155 1136h2M147 1142h3M140 1146h2M145 1146h2M132 1148h3M127 1152h3M117 1156h3" stroke="#999999" stroke-width="2" fill="none"/><path d="M145 1142h2M150 1142h2M142 1144h3M127 1150h3M122 1154h3M127 1154h3M120 1156h2" stroke="#a4a4a4" stroke-width="2" fill="none"/><path d="M152 1136h3M145 1144h2M137 1146h3M142 1146h3M147 1146h3M137 1148h3M122 1156h3M130 1156h2M112 1160h3" stroke="#afafaf" stroke-width="2" fill="none"/><path d="M155 1138h2M155 1140h2M135 1148h2M132 1150h3M130 1152h2M130 1154h2M127 1156h3M117 1158h3" stroke="#bababa" stroke-width="2" fill="none"/><path d="M150 1138h2M147 1140h3M140 1144h2M147 1144h3M132 1152h3M125 1154h2M112 1158h3M122 1158h3" stroke="#c5c5c5" stroke-width="2" fill="none"/><path d="M157 1138h3M122 1152h3M135 1152h2M125 1156h2M115 1158h2M115 1160h2" stroke="#d0d0d0" stroke-width="2" fill="none"/><path d="M152 1140h3M135 1150h2M132 1154h3" stroke="#dbdbdb" stroke-width="2" fill="none"/><path d="M157 1136h3M152 1138h3M117 1160h3" stroke="#e6e6e6" stroke-width="2" fill="none"/><path d="M155 1142h2" stroke="#f0f0f0" stroke-width="2" fill="none"/><path d="M150 1140h2" stroke="#fbfbfb" stroke-width="2" fill="none"/>
<path d="M172 1122h3M167 1124h3M162 1128h3M157 1130h3M160 1134h2" stroke="#a4a4a4" stroke-width="2" fill="none"/><path d="M157 1134h3M162 1134h3M160 1136h2" stroke="#afafaf" stroke-width="2" fill="none"/><path d="M172 1120h3M167 1122h3M165 1130h2M157 1132h3" stroke="#bababa" stroke-width="2" fill="none"/><path d="M177 1110h3M175 1112h2M177 1116h3M172 1118h3M165 1122h2M167 1128h3M167 1130h3M162 1136h3" stroke="#c5c5c5" stroke-width="2" fill="none"/><path d="M172 1114h3M172 1124h3M170 1126h2M172 1126h3M170 1128h2M162 1132h3M157 1136h3" stroke="#d0d0d0" stroke-width="2" fill="none"/><path d="M177 1112h3M175 1114h2M172 1116h3M175 1116h2M175 1120h2M170 1122h2M160 1130h2M162 1130h3" stroke="#dbdbdb" stroke-width="2" fill="none"/><path d="M175 1110h2M180 1110h2M180 1112h2M175 1118h2M162 1126h3M160 1132h2" stroke="#e6e6e6" stroke-width="2" fill="none"/><path d="M155 1136h2" stroke="#f0f0f0" stroke-width="2" fill="none"/><path d="M177 1108h3M170 1120h2M167 1126h3M165 1128h2" stroke="#fbfbfb" stroke-width="2" fill="none"/>
<path d="M190 1032h2" stroke="#787878" stroke-width="2" fill="none"/><path d="M190 1042h2M187 1054h3M180 1104h2" stroke="#838383" stroke-width="2" fill="none"/><path d="M190 1028h2M187 1058h3M187 1068h3" stroke="#8e8e8e" stroke-width="2" fill="none"/><path d="M190 1038h2M190 1040h2M190 1048h2M187 1050h3M185 1076h2M187 1076h3M185 1086h2M182 1092h3M182 1096h3" stroke="#999999" stroke-width="2" fill="none"/><path d="M190 1026h2M190 1044h2M187 1048h3M187 1070h3M182 1084h3" stroke="#a4a4a4" stroke-width="2" fill="none"/><path d="M190 1054h2M187 1066h3M185 1080h2M180 1102h2" stroke="#afafaf" stroke-width="2" fill="none"/><path d="M190 1024h2M190 1030h2M192 1034h3M187 1064h3M185 1082h2M185 1092h2M182 1102h3" stroke="#bababa" stroke-width="2" fill="none"/><path d="M187 1056h3M187 1074h3M185 1084h2M185 1088h2M182 1100h3" stroke="#c5c5c5" stroke-width="2" fill="none"/><path d="M190 1036h2M187 1060h3M187 1062h3M187 1072h3" stroke="#d0d0d0" stroke-width="2" fill="none"/><path d="M192 1024h3M190 1034h2M192 1040h3M182 1090h3" stroke="#dbdbdb" stroke-width="2" fill="none"/>
<path d="M107 942h3M112 942h3M92 946h3M97 946h3" stroke="#626262" stroke-width="2" fill="none"/><path d="M117 938h3" stroke="#6d6d6d" stroke-width="2" fill="none"/><path d="M92 948h3M95 948h2" stroke="#787878" stroke-width="2" fill="none"/><path d="M112 938h3M112 940h3M102 942h3M110 944h2" stroke="#838383" stroke-width="2" fill="none"/><path d="M102 940h3M97 944h3M102 944h3M107 944h3" stroke="#8e8e8e" stroke-width="2" fill="none"/><path d="M115 940h2" stroke="#999999" stroke-width="2" fill="none"/><path d="M105 942h2" stroke="#bababa" stroke-width="2" fill="none"/>
<path d="M142 914h3" stroke="#6d6d6d" stroke-width="2" fill="none"/><path d="M135 926h2M120 938h2" stroke="#787878" stroke-width="2" fill="none"/><path d="M147 906h3M137 922h3M135 924h2M135 928h2M125 932h2" stroke="#838383" stroke-width="2" fill="none"/><path d="M152 896h3M152 902h3M147 910h3M145 912h2M140 918h2M137 924h3M127 930h3M120 934h2" stroke="#8e8e8e" stroke-width="2" fill="none"/><path d="M152 898h3M147 904h3M150 904h2M152 904h3M145 906h2M145 914h2M140 916h2M125 930h2M122 932h3M127 932h3M120 936h2M125 936h2" stroke="#999999" stroke-width="2" fill="none"/><path d="M150 902h2M145 908h2M147 908h3M142 912h3M142 916h3M137 920h3M130 928h2M130 930h2M130 932h2M122 934h3M117 938h3M117 940h3" stroke="#a4a4a4" stroke-width="2" fill="none"/><path d="M150 900h2M152 900h3M145 910h2M140 914h2M137 918h3M130 926h2M132 926h3M132 932h3" stroke="#afafaf" stroke-width="2" fill="none"/><path d="M150 906h2M142 910h3M137 916h3M135 922h2M125 934h2" stroke="#bababa" stroke-width="2" fill="none"/><path d="M132 924h3M122 936h3" stroke="#c5c5c5" stroke-width="2" fill="none"/>
<path d="M172 850h3M170 854h2M160 882h2M160 884h2" stroke="#626262" stroke-width="2" fill="none"/><path d="M162 880h3M155 892h2" stroke="#6d6d6d" stroke-width="2" fill="none"/><path d="M177 832h3M165 870h2M162 872h3M157 888h3M157 894h3" stroke="#787878" stroke-width="2" fill="none"/><path d="M175 842h2M172 852h3M172 856h3M167 862h3M170 862h2M165 868h2M167 874h3M157 884h3M157 890h3M152 898h3" stroke="#838383" stroke-width="2" fill="none"/><path d="M177 834h3M175 836h2M175 838h2M175 840h2M177 840h3M175 848h2M170 850h2M170 856h2M167 858h3M172 858h3M167 866h3M167 868h3M162 874h3M162 876h3M162 878h3M165 878h2M152 892h3M155 894h2" stroke="#8e8e8e" stroke-width="2" fill="none"/><path d="M175 834h2M172 838h3M172 844h3M172 848h3M172 854h3M170 860h2M170 864h2M170 868h2M165 872h2M157 886h3M160 886h2" stroke="#999999" stroke-width="2" fill="none"/><path d="M175 832h2M175 844h2M165 876h2M160 880h2M157 892h3M152 894h3" stroke="#a4a4a4" stroke-width="2" fill="none"/><path d="M155 896h2" stroke="#afafaf" stroke-width="2" fill="none"/><path d="M162 884h3" stroke="#bababa" stroke-width="2" fill="none"/>
</g>
<path d="M90 1261.5H719.6M90 1221.8H719.6M90 1182.1H719.6M90 1142.3H719.6M90 1102.6H719.6M90 1062.9H719.6M90 1023.2H719.6M90 983.5H719.6M90 943.8H719.6M90 904.1H719.6M90 864.3H719.6M90 824.6H719.6M90 784.9H719.6M138.4 743.6V1307.4M186.9 743.6V1307.4M235.3 743.6V1307.4M283.7 743.6V1307.4M332.2 743.6V1307.4M380.6 743.6V1307.4M429 743.6V1307.4M477.4 743.6V1307.4M525.9 743.6V1307.4M574.3 743.6V1307.4M622.7 743.6V1307.4M671.2 743.6V1307.4" stroke="#262626" stroke-opacity=".11" stroke-width="1" fill="none"/>
<path d="M90 1301.2h5.5M719.6 1301.2h-5.5M90 1261.5h5.5M719.6 1261.5h-5.5M90 1221.8h5.5M719.6 1221.8h-5.5M90 1182.1h5.5M719.6 1182.1h-5.5M90 1142.3h5.5M719.6 1142.3h-5.5M90 1102.6h5.5M719.6 1102.6h-5.5M90 1062.9h5.5M719.6 1062.9h-5.5M90 1023.2h5.5M719.6 1023.2h-5.5M90 983.5h5.5M719.6 983.5h-5.5M90 943.8h5.5M719.6 943.8h-5.5M90 904.1h5.5M719.6 904.1h-5.5M90 864.3h5.5M719.6 864.3h-5.5M90 824.6h5.5M719.6 824.6h-5.5M90 784.9h5.5M719.6 784.9h-5.5M90 745.2h5.5M719.6 745.2h-5.5M90 1307.4v-5.5M90 743.6v5.5M138.4 1307.4v-5.5M138.4 743.6v5.5M186.9 1307.4v-5.5M186.9 743.6v5.5M235.3 1307.4v-5.5M235.3 743.6v5.5M283.7 1307.4v-5.5M283.7 743.6v5.5M332.2 1307.4v-5.5M332.2 743.6v5.5M380.6 1307.4v-5.5M380.6 743.6v5.5M429 1307.4v-5.5M429 743.6v5.5M477.4 1307.4v-5.5M477.4 743.6v5.5M525.9 1307.4v-5.5M525.9 743.6v5.5M574.3 1307.4v-5.5M574.3 743.6v5.5M622.7 1307.4v-5.5M622.7 743.6v5.5M671.2 1307.4v-5.5M671.2 743.6v5.5M719.6 1307.4v-5.5M719.6 743.6v5.5" stroke="#262626" stroke-width="1" fill="none"/>
<rect x="90" y="743.6" width="629.6" height="563.8" fill="none" stroke="#262626" stroke-width="1.2"/>
<g font-family="'Liberation Sans',Arial,Helvetica,sans-serif" font-size="22.2" fill="#262626">
<g text-anchor="end">
<text transform="translate(81 1308.5) scale(1 1.06)">100</text>
<text transform="translate(81 1268.8) scale(1 1.06)">150</text>
<text transform="translate(81 1229.1) scale(1 1.06)">200</text>
<text transform="translate(81 1189.4) scale(1 1.06)">250</text>
<text transform="translate(81 1149.6) scale(1 1.06)">300</text>
<text transform="translate(81 1109.9) scale(1 1.06)">350</text>
<text transform="translate(81 1070.2) scale(1 1.06)">400</text>
<text transform="translate(81 1030.5) scale(1 1.06)">450</text>
<text transform="translate(81 990.8) scale(1 1.06)">500</text>
<text transform="translate(81 951.1) scale(1 1.06)">550</text>
<text transform="translate(81 911.4) scale(1 1.06)">600</text>
<text transform="translate(81 871.6) scale(1 1.06)">650</text>
<text transform="translate(81 831.9) scale(1 1.06)">700</text>
<text transform="translate(81 792.2) scale(1 1.06)">750</text>
<text transform="translate(81 752.5) scale(1 1.06)">800</text>
</g><g text-anchor="middle">
<text transform="translate(90 1339.4) scale(1 1.06)">2</text>
<text transform="translate(138.4 1339.4) scale(1 1.06)">3</text>
<text transform="translate(186.9 1339.4) scale(1 1.06)">4</text>
<text transform="translate(235.3 1339.4) scale(1 1.06)">5</text>
<text transform="translate(283.7 1339.4) scale(1 1.06)">6</text>
<text transform="translate(332.2 1339.4) scale(1 1.06)">7</text>
<text transform="translate(380.6 1339.4) scale(1 1.06)">8</text>
<text transform="translate(429 1339.4) scale(1 1.06)">9</text>
<text transform="translate(477.4 1339.4) scale(1 1.06)">10</text>
<text transform="translate(525.9 1339.4) scale(1 1.06)">11</text>
<text transform="translate(574.3 1339.4) scale(1 1.06)">12</text>
<text transform="translate(622.7 1339.4) scale(1 1.06)">13</text>
<text transform="translate(671.2 1339.4) scale(1 1.06)">14</text>
<text transform="translate(719.6 1339.4) scale(1 1.06)">15</text>
</g>
<text x="404.8" y="1371.2" text-anchor="middle" font-size="24.3">Frequency (MHz)</text>
<text transform="translate(30.2 1025.5) rotate(-90)" text-anchor="middle" font-size="24.3">Virtual Height (km)</text>
<text x="404.8" y="731.6" text-anchor="middle" font-size="24.2" fill="#000">12-Sep-2020 01:15:00 LT</text>
<rect x="749" y="743.6" width="34.8" height="563.8" fill="url(#hcj)" stroke="#262626" stroke-width="1"/>
<path d="M783.8 1226.9h-6M783.8 1146.3h-6M783.8 1065.8h-6M783.8 985.2h-6M783.8 904.7h-6M783.8 824.1h-6" stroke="#262626" stroke-width="1" fill="none"/>
<text transform="translate(791.3 1314.8) scale(1 1.06)" font-size="19.8">0</text>
<text transform="translate(791.3 1234.3) scale(1 1.06)" font-size="19.8">10</text>
<text transform="translate(791.3 1153.7) scale(1 1.06)" font-size="19.8">20</text>
<text transform="translate(791.3 1073.2) scale(1 1.06)" font-size="19.8">30</text>
<text transform="translate(791.3 992.6) scale(1 1.06)" font-size="19.8">40</text>
<text transform="translate(791.3 912.1) scale(1 1.06)" font-size="19.8">50</text>
<text transform="translate(791.3 831.5) scale(1 1.06)" font-size="19.8">60</text>
<text transform="translate(791.3 751) scale(1 1.06)" font-size="19.8">70</text>
<text x="765.4" y="731.1" text-anchor="middle" font-size="19">dB</text>
</g>
<rect x="137" y="1036.5" width="68" height="113.5" fill="none" stroke="#f5101a" stroke-width="3.6"/>
<text x="100.4" y="783.9" font-family="'Liberation Sans',Arial,Helvetica,sans-serif" font-weight="bold" font-size="41.5" fill="#000">(c)</text>
<g transform="translate(0 0)">
<path d="M891.5 22.3C876 17.5 862.5 27 860.3 39.5C859.4 46 861 51.5 864.3 55.8C862.6 50.5 862.3 45 863.6 39.8C866.3 29.5 877.5 21.2 891.5 22.3Z" fill="#3d9cc4"/>
<text x="934.4" y="42.6" text-anchor="end" font-family="'Liberation Serif','Times New Roman',serif" font-weight="bold" font-size="12.4" fill="#4d2c46" textLength="33.4" lengthAdjust="spacingAndGlyphs">Lowell</text>
<text x="869.2" y="56.2" font-family="'Liberation Sans',Arial,Helvetica,sans-serif" font-size="12.6" fill="#b2306c" stroke="#b2306c" stroke-width=".35" textLength="66" lengthAdjust="spacingAndGlyphs">DIGISONDE</text>
<g font-family="'Liberation Mono','Courier New',Courier,monospace" font-size="12.5" letter-spacing="0.1" fill="#1c1c1c">
<text x="858.2" y="90.5">foF2      3.000</text>
<text x="858.2" y="107.9">foF1        N/A</text>
<text x="858.2" y="125.4">foF1p       N/A</text>
<text x="858.2" y="142.9">foE         N/A</text>
<text x="858.2" y="160.3">foEp       0.35</text>
<text x="858.2" y="177.8">fxI        3.85</text>
<text x="858.2" y="195.2">foEs        N/A</text>
<text x="858.2" y="212.7">fmin       1.65</text>
<text x="858.2" y="239.4">MUF(D)    11.53</text>
<text x="858.2" y="256.8">M(D)       3.84</text>
<text x="858.2" y="274.3">D           N/A</text>
<text x="858.2" y="301">h`F       217.5</text>
<text x="858.2" y="318.4">h`F2      217.5</text>
<text x="858.2" y="335.9">h`E         N/A</text>
<text x="858.2" y="353.4">h`Es        N/A</text>
<text x="858.2" y="379.9">hmF2      228.7</text>
<text x="858.2" y="397.4">hmF1        N/A</text>
<text x="858.2" y="415">hmE       110.0</text>
<text x="858.2" y="432.5">yF2        26.8</text>
<text x="858.2" y="450.1">yF1         N/A</text>
<text x="858.2" y="467.6">yE         20.0</text>
<text x="858.2" y="485.1">B0         25.7</text>
<text x="858.2" y="502.6">B1         2.46</text>
<text x="858.2" y="528.9">C-level      22</text>
<text x="858.4" y="555.9">Auto:</text>
<text x="858.4" y="573.2">Artist5</text>
<text x="858.4" y="590.5">500200</text>
<text x="858.4" y="640">D     100  200  400  600  800 1000 1500 3000 [km]</text>
<text x="858.4" y="654.6">MUF   3.6  3.7  3.8  4.1  4.5  5.2  6.9 11.5 [MHz]</text>
</g>
<path d="M858 222.4H972.6M858 284.3H972.6M858 363H972.6M858 512.1H972.6M858 538.8H972.6" stroke="#2a2a2a" stroke-width="1" fill="none"/>
<g font-family="'Liberation Mono','Courier New',Courier,monospace" font-weight="bold" font-size="10.4" letter-spacing="0.3" fill="#303030">
<text x="858.4" y="670.6">WU430_2020265201500.RSF / 400fx512h 25 kHz 2.5 km / DPS-4D WU430 030 / 30.5 N 114.4 E</text>
<text x="1508.5" y="670.6">Ion2Png v. 1.3.16</text>
</g>
<g font-family="'Liberation Mono','Courier New',Courier,monospace" font-weight="bold" font-size="13.8" letter-spacing="0.44" fill="#111">
<text x="1106.4" y="50">Stati YYYY DAY   DDD HHMMSS P1  FFS S AXN PPS IGA PS</text>
<text x="1106.4" y="66.3">Wuhan 2020 Sep21 265 201500 RSF     1 512 100 03+ A4</text>
</g>
</g>
<rect x="1036.7" y="84.3" width="523.8" height="501.3" fill="#fff"/>
<path d="M1036.7 573.5H1560.5M1036.7 543H1560.5M1036.7 512.4H1560.5M1036.7 481.9H1560.5M1036.7 451.3H1560.5M1036.7 420.8H1560.5M1036.7 390.2H1560.5M1036.7 359.7H1560.5M1036.7 329.1H1560.5M1036.7 298.6H1560.5M1036.7 268H1560.5M1036.7 237.5H1560.5M1036.7 206.9H1560.5M1036.7 176.4H1560.5M1036.7 145.8H1560.5M1036.7 115.3H1560.5" stroke="#b6b6c6" stroke-width="1.4" fill="none"/>
<path d="M1089 84.3V585.6M1141.3 84.3V585.6M1193.6 84.3V585.6M1245.9 84.3V585.6M1298.2 84.3V585.6M1350.4 84.3V585.6M1402.7 84.3V585.6M1455 84.3V585.6M1507.3 84.3V585.6" stroke="#a2a2b4" stroke-width="1.2" fill="none"/>
<path d="M1125 142.1h1M1117.2 148.2h1M1119.8 151.3h1M1151.1 218.2h1M1177.2 230.4h1M1172 239.5h1M1143.3 251.7h1M1145.9 257.8h1M1153.7 260.9h1M1156.4 260.9h1M1159 266.9h1M1169.4 294.3h1M1179.9 294.3h1M1166.8 297.4h1M1119.8 300.4h1M1125 303.5h1M1111.9 306.5h1M1127.6 315.6h1M1130.2 318.7h1M1156.4 321.7h1M1125 324.8h1M1127.6 327.8h1M1114.6 330.9h1M1140.7 337h1M1117.2 352.2h1M1098.9 355.2h1M1101.5 361.3h1M1070.2 373.5h1M1072.8 373.5h1M1109.3 376.5h1M1106.7 382.6h1M1109.3 385.7h1M1192.9 407h1M1091.1 422.2h1M1145.9 431.3h1M1153.7 437.4h1M1148.5 446.5h1M1135.5 449.6h1M1185.1 464.8h1M1159 467.8h1M1166.8 467.8h1M1135.5 473.9h1M1174.6 473.9h1M1125 477h1M1132.8 483.1h1M1159 483.1h1M1091.1 486.1h1M1106.7 486.1h1M1072.8 492.2h1M1080.6 492.2h1M1130.2 495.2h1M1132.8 495.2h1M1059.7 501.3h1M1085.8 501.3h1M1091.1 501.3h1M1093.7 501.3h1M1088.4 504.4h1M1064.9 510.5h1M1085.8 510.5h1M1091.1 513.5h1" stroke="#2800e0" stroke-width="1.2" fill="none"/>
<path d="M1114.5 160.4h1.2M1161.5 169.5h1.2M1106.6 172.6h1.2M1153.6 181.7h1.2M1171.9 242.6h1.2M1177.1 248.7h1.2M1185 257.8h1.2M1132.7 260.9h1.2M1119.7 263.9h1.2M1132.7 266.9h1.2M1158.9 279.1h1.2M1104 282.2h1.2M1109.2 285.2h1.2M1106.6 294.3h1.2M1148.4 297.4h1.2M1096.2 300.4h1.2M1127.5 306.5h1.2M1169.3 306.5h1.2M1158.9 312.6h1.2M1117.1 321.7h1.2M1119.7 324.8h1.2M1153.6 337h1.2M1151 343h1.2M1124.9 355.2h1.2M1109.2 382.6h1.2M1138 413.1h1.2M1192.8 416.1h1.2M1138 425.2h1.2M1098.8 431.3h1.2M1151 431.3h1.2M1104 434.4h1.2M1156.3 446.5h1.2M1161.5 452.6h1.2M1135.4 455.7h1.2M1158.9 461.8h1.2M1151 467.8h1.2M1161.5 467.8h1.2M1114.5 480h1.2M1080.5 489.2h1.2M1088.3 489.2h1.2M1080.5 495.2h1.2M1104 495.2h1.2M1093.6 498.3h1.2M1135.4 498.3h1.2M1067.4 501.3h1.2M1096.2 510.5h1.2" stroke="#2800e0" stroke-width="1.4" fill="none"/>
<path d="M1080.4 102.6h1.4M1081.7 104.1h1.4M1075.2 105.6h1.4M1076.5 105.6h1.4M1077.8 105.6h1.4M1070 108.7h1.4M1067.4 111.7h1.4M1122.2 136h1.4M1119.6 148.2h1.4M1196.7 154.3h1.4M1199.3 158.9h1.4M1109.2 163.4h1.4M1114.4 163.4h1.4M1158.8 163.4h1.4M1124.8 166.5h1.4M1196.7 168h1.4M1196.7 169.5h1.4M1158.8 172.6h1.4M1109.2 175.6h1.4M1153.6 175.6h1.4M1156.2 175.6h1.4M1158.8 175.6h1.4M1195.4 177.1h1.4M1158.8 181.7h1.4M1198 181.7h1.4M1195.4 183.2h1.4M1196.7 183.2h1.4M1156.2 184.8h1.4M1196.7 200h1.4M1139.2 201.5h1.4M1195.4 206.1h1.4M1198 206.1h1.4M1200.6 206.1h1.4M1195.4 207.6h1.4M1166.6 209.1h1.4M1169.2 209.1h1.4M1151 212.1h1.4M1158.8 212.1h1.4M1198 213.7h1.4M1124.8 215.2h1.4M1127.4 215.2h1.4M1128.8 215.2h1.4M1198 215.2h1.4M1161.4 218.2h1.4M1198 218.2h1.4M1198 219.8h1.4M1119.6 221.3h1.4M1153.6 221.3h1.4M1195.4 231.9h1.4M1195.4 233.5h1.4M1182.3 236.5h1.4M1132.7 242.6h1.4M1143.1 245.6h1.4M1145.7 245.6h1.4M1177.1 245.6h1.4M1179.7 245.6h1.4M1135.3 248.7h1.4M1164 248.7h1.4M1132.7 251.7h1.4M1137.9 257.8h1.4M1130.1 260.9h1.4M1174.5 260.9h1.4M1177.1 260.9h1.4M1182.3 260.9h1.4M1132.7 263.9h1.4M1140.5 263.9h1.4M1153.6 266.9h1.4M1119.6 273h1.4M1143.1 279.1h1.4M1174.5 279.1h1.4M1130.1 285.2h1.4M1137.9 285.2h1.4M1132.7 291.3h1.4M1158.8 291.3h1.4M1111.8 294.3h1.4M1177.1 294.3h1.4M1156.2 297.4h1.4M1174.5 300.4h1.4M1127.4 303.5h1.4M1124.8 309.6h1.4M1171.8 315.6h1.4M1156.2 327.8h1.4M1106.5 330.9h1.4M1105.2 332.4h1.4M1101.3 333.9h1.4M1103.9 333.9h1.4M1105.2 333.9h1.4M1111.8 333.9h1.4M1119.6 333.9h1.4M1101.3 335.4h1.4M1103.9 335.4h1.4M1105.2 335.4h1.4M1101.3 337h1.4M1102.6 337h1.4M1103.9 337h1.4M1106.5 337h1.4M1109.2 337h1.4M1103.9 338.5h1.4M1122.2 340h1.4M1101.3 346.1h1.4M1135.3 349.1h1.4M1090.9 355.2h1.4M1109.2 355.2h1.4M1103.9 358.3h1.4M1090.9 364.3h1.4M1103.9 370.4h1.4M1090.9 376.5h1.4M1119.6 379.6h1.4M1119.6 385.7h1.4M1148.3 394.8h1.4M1140.5 397.8h1.4M1094.8 414.6h1.4M1096.1 414.6h1.4M1097.4 414.6h1.4M1098.7 414.6h1.4M1100 414.6h1.4M1101.3 414.6h1.4M1105.2 414.6h1.4M1107.9 414.6h1.4M1096.1 416.1h1.4M1100 416.1h1.4M1102.6 416.1h1.4M1103.9 416.1h1.4M1105.2 416.1h1.4M1106.5 416.1h1.4M1107.9 416.1h1.4M1109.2 416.1h1.4M1098.7 417.6h1.4M1100 417.6h1.4M1102.6 417.6h1.4M1103.9 417.6h1.4M1107.9 417.6h1.4M1097.4 419.1h1.4M1100 419.1h1.4M1110.5 419.1h1.4M1103.9 425.2h1.4M1177.1 425.2h1.4M1101.3 431.3h1.4M1137.9 431.3h1.4M1148.3 431.3h1.4M1101.3 434.4h1.4M1156.2 440.4h1.4M1177.1 443.5h1.4M1087 445h1.4M1135.3 446.5h1.4M1177.1 446.5h1.4M1187.5 446.5h1.4M1098.7 448.1h1.4M1145.7 449.6h1.4M1166.6 449.6h1.4M1175.8 449.6h1.4M1178.4 449.6h1.4M1184.9 449.6h1.4M1178.4 454.1h1.4M1143.1 455.7h1.4M1179.7 457.2h1.4M1169.2 458.7h1.4M1171.8 458.7h1.4M1173.2 458.7h1.4M1179.7 461.8h1.4M1182.3 461.8h1.4M1170.5 463.3h1.4M1175.8 463.3h1.4M1171.8 464.8h1.4M1127.4 467.8h1.4M1143.1 467.8h1.4M1174.5 467.8h1.4M1158.8 469.4h1.4M1130.1 470.9h1.4M1158.8 470.9h1.4M1161.4 470.9h1.4M1167.9 470.9h1.4M1173.2 470.9h1.4M1174.5 470.9h1.4M1143.1 473.9h1.4M1162.7 473.9h1.4M1153.6 475.5h1.4M1166.6 475.5h1.4M1117 477h1.4M1148.3 477h1.4M1158.8 477h1.4M1122.2 480h1.4M1132.7 480h1.4M1151 480h1.4M1160.1 480h1.4M1166.6 480h1.4M1147 481.5h1.4M1156.2 481.5h1.4M1161.4 481.5h1.4M1109.2 483.1h1.4M1135.3 483.1h1.4M1161.4 483.1h1.4M1164 483.1h1.4M1145.7 484.6h1.4M1109.2 486.1h1.4M1136.6 486.1h1.4M1151 486.1h1.4M1158.8 486.1h1.4M1072.6 489.2h1.4M1119.6 489.2h1.4M1124.8 489.2h1.4M1145.7 489.2h1.4M1153.6 489.2h1.4M1096.1 492.2h1.4M1114.4 492.2h1.4M1122.2 492.2h1.4M1124.8 492.2h1.4M1156.2 492.2h1.4M1115.7 493.7h1.4M1070 495.2h1.4M1075.2 495.2h1.4M1117 495.2h1.4M1118.3 495.2h1.4M1126.1 495.2h1.4M1127.4 495.2h1.4M1140.5 495.2h1.4M1111.8 496.8h1.4M1114.4 498.3h1.4M1117 498.3h1.4M1122.2 498.3h1.4M1062.1 501.3h1.4M1083 501.3h1.4M1109.2 501.3h1.4M1110.5 501.3h1.4M1076.5 502.9h1.4M1115.7 502.9h1.4M1059.5 504.4h1.4M1072.6 504.4h1.4M1075.2 504.4h1.4M1080.4 504.4h1.4M1087 504.4h1.4M1092.2 504.4h1.4M1101.3 504.4h1.4M1077.8 505.9h1.4M1081.7 505.9h1.4M1085.7 505.9h1.4M1087 505.9h1.4M1056.9 507.4h1.4M1079.1 507.4h1.4M1085.7 507.4h1.4M1088.3 507.4h1.4M1090.9 507.4h1.4M1092.2 507.4h1.4M1103.9 507.4h1.4M1080.4 508.9h1.4M1094.8 508.9h1.4M1101.3 508.9h1.4M1087 510.5h1.4M1080.4 513.5h1.4M1083 513.5h1.4M1106.5 566.8h1.4M1106.5 568.3h1.4M1101.3 569.8h1.4" stroke="#2800e0" stroke-width="1.6" fill="none"/>
<path d="M1270.1 126.4h1.4M1270.1 129.5h1.4M1269.3 160h1.4M1269.3 163h1.4M1266.1 196.8h1.4M1269.2 223h1.4M1260.1 251.8h1.4M1267.3 259.6h1.4M1269.2 261h1.4M1267.3 262.6h1.4M1267.3 265.7h1.4M1267.3 268.7h1.4M1267.3 271.8h1.4M1268.5 315.8h1.4M1266.8 328.7h1.4M1267.1 331.9h1.4M1269.2 354.2h1.4M1267.8 355.2h1.4M1281.4 358.9h1.4M1269.3 361.2h1.4M1268.9 362.5h1.4M1266.9 428.9h1.4M1269.7 444.5h1.4M1269.7 447.5h1.4M1269.7 450.6h1.4M1269.3 496.9h1.4M1269.8 508.3h1.4M1269.8 511.3h1.4M1275.8 521.9h1.4M1269 560.7h1.4M1256 566h1.4M1269.6 575.1h1.4M1269.6 578.1h1.4M1269.6 581.2h1.4" stroke="#2800e0" stroke-width="1.4" fill="none"/>
<path d="M1270.2 101.4h1.7M1269.1 101.8h1.7M1268.4 112h1.7M1269 167h1.7M1268.6 169.1h1.7M1268.2 181.2h1.7M1270.2 182.5h1.7M1266 248h1.7M1266 251.1h1.7M1266 254.1h1.7M1266 257.2h1.7M1267.8 283.5h1.7M1267.5 283.8h1.7M1266.8 284h1.7M1267.5 286.9h1.7M1266.8 287h1.7M1267.5 289.9h1.7M1266.8 290.1h1.7M1267.5 293h1.7M1266.1 326.6h1.7M1266.1 329.6h1.7M1266.1 332.7h1.7M1268 334.7h1.7M1266.6 336.1h1.7M1267.3 336.5h1.7M1268 337.7h1.7M1268.3 338.8h1.7M1266.6 339.1h1.7M1268 340.8h1.7M1266.6 342.2h1.7M1266.6 345.2h1.7M1266.6 348.3h1.7M1268.7 352.6h1.7M1269.4 357.2h1.7M1269.4 398.5h1.7M1269.1 401.9h1.7M1268.2 410.6h1.7M1268.6 418.6h1.7M1268.1 434h1.7M1266.9 439.5h1.7M1266.9 442.5h1.7M1266.9 445.6h1.7M1266.9 448.6h1.7M1269.8 452.3h1.7M1271.5 472.6h1.7M1269.4 474.4h1.7M1269.4 477.5h1.7M1269.4 480.5h1.7M1267.6 481.4h1.7M1269.5 492.7h1.7M1269.5 495.7h1.7M1269.5 498.8h1.7M1270.2 500.4h1.7M1269.5 501.8h1.7M1269.5 504.9h1.7M1266.6 528.5h1.7M1266.6 531.5h1.7M1265.3 542.1h1.7M1269 559.2h1.7" stroke="#2800e0" stroke-width="1.7" fill="none"/>
<path d="M1208.3 109.7h1.9M1226.8 236.6h1.9M1463.6 261.9h1.9M1427.1 324.1h1.9M1379.6 365.1h1.9M1215.4 375.1h1.9M1222.1 375.9h1.9M1379.6 409.4h1.9M1246 435.5h1.9M1232.2 459.8h1.9M1213.5 464.5h1.9M1338.5 489.2h1.9M1378.6 515.9h1.9M1337.6 516.7h1.9M1065.8 525.4h1.9M1339.6 531.5h1.9M1466.5 562.9h1.9" stroke="#2800e0" stroke-width="1.9" fill="none"/>
<path d="M1269.3 91.2h2M1269.3 94.3h2M1269.3 97.3h2M1269.4 104.2h2M1275 107h2M1269.4 107.2h2M1269.4 110.3h2M1269.4 113.3h2M1268.9 113.5h2M1268.9 138.1h2M1269.9 182.9h2M1282.9 185.5h2M1270.3 221.9h2M1259.1 227.4h2M1252.7 252.2h2M1268.2 271.2h2M1268.1 278.5h2M1266.7 284.1h2M1266.7 287.1h2M1266.7 290.2h2M1266.4 326.8h2M1266.4 329.9h2M1266.4 332.9h2M1265.8 334.7h2M1265.8 337.7h2M1269.7 339.1h2M1269.7 342.2h2M1269.2 367.2h2M1266.5 374h2M1268.2 388.5h2M1266.4 390.3h2M1266.4 393.4h2M1266.4 396.4h2M1266 398.9h2M1266.4 399.5h2M1266.4 402.5h2M1070.2 407.8h2M1070.2 411.3h2M1069.9 412.6h2M1270.1 468.7h2M1270.1 471.7h2M1268.8 472.1h2M1267.6 474.1h2M1270.1 474.8h2M1270.1 477.8h2M1266.8 480.2h2M1268.8 496.5h2M1269.8 504.7h2M1269 516.3h2M1266.6 551.3h2" stroke="#2800e0" stroke-width="2" fill="none"/>
<path d="M1374.5 87.5h2.2M1214.9 205.3h2.2M1051.1 236.8h2.2M1222.1 261.6h2.2M1483 313.8h2.2M1226.1 324.4h2.2M1496.6 335.3h2.2M1378.8 361.4h2.2M1470.3 363.6h2.2M1378.8 364.5h2.2M1378.8 367.5h2.2M1378.8 370.6h2.2M1552.7 433.5h2.2M1516.1 467.9h2.2M1379.1 496h2.2" stroke="#2800e0" stroke-width="2.2" fill="none"/>
<path d="M1451.3 94.5h2.4M1423.1 134.6h2.4M1523.7 187.3h2.4M1414.7 207.4h2.4M1378.4 238.8h2.4M1424.9 239.4h2.4M1378.7 270.7h2.4M1380 281.6h2.4M1217.3 295.9h2.4M1379.1 313.5h2.4M1378.8 324.6h2.4M1324.9 333.4h2.4M1470 345.2h2.4M1378.8 417.6h2.4M1378.8 420.6h2.4M1394.6 421.5h2.4M1378.8 423.7h2.4M1468.3 426.2h2.4M1468.3 429.2h2.4M1468.3 432.3h2.4M1336.7 433.6h2.4M1443.6 434.1h2.4M1468.3 435.3h2.4M1468.3 438.4h2.4M1378.4 438.5h2.4M1379.1 439h2.4M1378.4 441.5h2.4M1327.3 443.2h2.4M1378.4 444.6h2.4M1378.4 447.6h2.4M1378.4 450.7h2.4M1378.4 454.7h2.4M1246.3 480.3h2.4M1338.4 519.1h2.4M1468.3 524.1h2.4" stroke="#2800e0" stroke-width="2.4" fill="none"/>
<path d="M1122.4 148.2h1M1098.9 163.4h1M1106.7 163.4h1M1151.1 209.1h1M1148.5 215.2h1M1153.7 218.2h1M1169.4 257.8h1M1156.4 273h1M1085.8 279.1h1M1117.2 288.2h1M1156.4 291.3h1M1119.8 303.5h1M1140.7 303.5h1M1125 306.5h1M1070.2 312.6h1M1075.4 312.6h1M1114.6 324.8h1M1122.4 330.9h1M1078 370.4h1M1109.3 431.3h1M1125 498.3h1" stroke="#10d8f8" stroke-width="1.2" fill="none"/>
<path d="M1122.3 130h1.2M1153.6 209.1h1.2M1143.2 212.1h1.2M1151 215.2h1.2M1156.3 233.5h1.2M1169.3 245.6h1.2M1111.8 260.9h1.2M1127.5 276.1h1.2M1111.8 285.2h1.2M1101.4 288.2h1.2M1085.7 291.3h1.2M1064.8 297.4h1.2M1109.2 306.5h1.2M1130.1 309.6h1.2M1075.3 407h1.2M1098.8 428.3h1.2M1070.1 440.4h1.2M1072.7 440.4h1.2M1109.2 504.4h1.2M1093.6 510.5h1.2" stroke="#10d8f8" stroke-width="1.4" fill="none"/>
<path d="M1068.6 546.7h1.3M1067.9 553.9h1.3" stroke="#10d8f8" stroke-width="1.3" fill="none"/>
<path d="M1119.6 136h1.4M1132.7 139.1h1.4M1192.7 155.8h1.4M1199.3 157.4h1.4M1196.7 160.4h1.4M1198 161.9h1.4M1196.7 165h1.4M1198 165h1.4M1198 168h1.4M1117 169.5h1.4M1111.8 172.6h1.4M1195.4 172.6h1.4M1200.6 174.1h1.4M1200.6 175.6h1.4M1199.3 177.1h1.4M1200.6 178.7h1.4M1195.4 187.8h1.4M1198 187.8h1.4M1196.7 189.3h1.4M1199.3 189.3h1.4M1198 190.8h1.4M1198 192.4h1.4M1194.1 193.9h1.4M1196.7 193.9h1.4M1195.4 198.4h1.4M1198 200h1.4M1199.3 200h1.4M1198 204.5h1.4M1195.4 210.6h1.4M1198 210.6h1.4M1195.4 212.1h1.4M1196.7 219.8h1.4M1201.9 219.8h1.4M1200.6 225.8h1.4M1199.3 227.4h1.4M1195.4 228.9h1.4M1196.7 230.4h1.4M1198 230.4h1.4M1158.8 233.5h1.4M1196.7 233.5h1.4M1199.3 236.5h1.4M1161.4 248.7h1.4M1122.2 254.8h1.4M1122.2 257.8h1.4M1166.6 263.9h1.4M1114.4 266.9h1.4M1111.8 279.1h1.4M1151 282.2h1.4M1080.4 288.2h1.4M1111.8 288.2h1.4M1148.3 294.3h1.4M1156.2 294.3h1.4M1109.2 300.4h1.4M1106.5 306.5h1.4M1135.3 306.5h1.4M1070 309.6h1.4M1077.8 315.6h1.4M1135.3 315.6h1.4M1124.8 327.8h1.4M1122.2 333.9h1.4M1106.5 352.2h1.4M1083 358.3h1.4M1070 364.3h1.4M1096.1 364.3h1.4M1088.3 367.4h1.4M1064.8 413.1h1.4M1070 416.1h1.4M1062.1 419.1h1.4M1096.1 428.3h1.4M1064.8 431.3h1.4M1085.7 431.3h1.4M1093.5 431.3h1.4M1075.2 434.4h1.4M1093.5 440.4h1.4M1148.3 440.4h1.4M1088.3 443.5h1.4M1098.7 443.5h1.4M1153.6 443.5h1.4M1084.3 445h1.4M1093.5 446.5h1.4M1098.7 446.5h1.4M1088.3 448.1h1.4M1089.6 448.1h1.4M1093.5 448.1h1.4M1084.3 449.6h1.4M1090.9 449.6h1.4M1151 452.6h1.4M1158.8 452.6h1.4M1122.2 477h1.4M1077.8 489.2h1.4M1056.9 498.3h1.4M1077.8 502.9h1.4M1087 502.9h1.4M1089.6 502.9h1.4M1093.5 502.9h1.4M1111.8 502.9h1.4M1118.3 502.9h1.4M1073.9 504.4h1.4M1079.1 504.4h1.4M1081.7 504.4h1.4M1110.5 504.4h1.4M1076.5 505.9h1.4M1080.4 505.9h1.4M1103.9 505.9h1.4M1117 505.9h1.4M1120.9 505.9h1.4M1059.5 507.4h1.4M1098.7 507.4h1.4M1075.2 508.9h1.4M1075.2 510.5h1.4M1071.3 568.3h1.4M1072.6 568.3h1.4M1073.9 568.3h1.4M1080.4 568.3h1.4M1093.5 568.3h1.4M1100 568.3h1.4M1110.5 568.3h1.4M1068.7 569.8h1.4M1083 569.8h1.4M1089.6 569.8h1.4M1090.9 569.8h1.4M1042.6 571.3h1.4M1049.1 571.3h1.4M1050.4 571.3h1.4M1053 571.3h1.4M1055.6 571.3h1.4M1058.2 571.3h1.4M1041.2 572.9h1.4M1043.9 572.9h1.4M1045.2 572.9h1.4M1055.6 572.9h1.4M1058.2 572.9h1.4M1054.3 574.4h1.4" stroke="#10d8f8" stroke-width="1.6" fill="none"/>
<path d="M1262.5 264.7h1.4M1288.5 345.2h1.4M1264.9 345.8h1.4M1288.5 348.3h1.4M1288.5 351.3h1.4M1288.5 354.4h1.4M1287.6 356.7h1.4M1288.5 357.4h1.4M1287.9 430.1h1.4M1288.9 522.1h1.4M1288.9 525.1h1.4M1288.9 528.2h1.4M1288.9 531.2h1.4M1288.9 534.3h1.4M1289.1 539.7h1.4M1263.1 565.7h1.4M1288.5 573.8h1.4M1288.5 576.9h1.4" stroke="#10d8f8" stroke-width="1.4" fill="none"/>
<path d="M1277.1 241.6h1.7M1288.3 320.3h1.7M1288.3 323.3h1.7M1288.3 326.4h1.7M1288.3 329.4h1.7M1289.3 342.3h1.7M1289.3 393.2h1.7M1289.2 437.9h1.7M1289.3 519.1h1.7M1277.6 543.6h1.7M1289 560.6h1.7" stroke="#10d8f8" stroke-width="1.7" fill="none"/>
<path d="M1478.6 92.7h1.9M1193.4 101.3h1.9M1066.6 120.8h1.9M1553.1 122.4h1.9M1037.6 179.3h1.9M1386.6 199.7h1.9M1382.2 201.8h1.9M1083.2 209.4h1.9M1385.4 210.5h1.9M1385.4 213.6h1.9M1053.1 215.9h1.9M1428.8 236.6h1.9M1058 249.5h1.9M1222.8 257.2h1.9M1208.2 296h1.9M1460.4 308.4h1.9M1427.7 340.5h1.9M1352.4 377.2h1.9M1206.4 409.7h1.9M1055.4 413.3h1.9M1049.4 442.6h1.9M1478.3 522.1h1.9M1074.7 552.7h1.9M1246.3 557.9h1.9M1246.3 561h1.9M1246.3 564h1.9M1162.7 566.8h1.9M1246.3 567.1h1.9M1246.3 570.1h1.9M1134.2 579.2h1.9" stroke="#10d8f8" stroke-width="1.9" fill="none"/>
<path d="M1289.1 93.1h2M1285.6 113.7h2M1283.1 200.6h2M1256.3 217.8h2M1288 260h2M1288.3 395.2h2M1288.3 395.9h2M1288.3 398.3h2M1288.3 401.3h2M1288 477.7h2" stroke="#10d8f8" stroke-width="2" fill="none"/>
<path d="M1228.2 91.6h2.2M1238.6 100.7h2.2M1450.2 210.6h2.2M1062.5 220.5h2.2M1296.5 233.6h2.2M1386.1 235.6h2.2M1386.1 238.7h2.2M1386.1 241.7h2.2M1428.5 244.2h2.2M1428.5 247.2h2.2M1428.5 250.3h2.2M1365.8 267.9h2.2M1540.7 275.5h2.2M1215 361.1h2.2M1400.2 398.5h2.2M1400.8 489.7h2.2M1231.7 492.2h2.2M1475.4 514.9h2.2M1163.6 523.8h2.2M1159.2 528.2h2.2M1304.7 531.7h2.2M1225.5 555.1h2.2" stroke="#10d8f8" stroke-width="2.2" fill="none"/>
<path d="M1447.2 86.9h2.4M1411.7 92.9h2.4M1063.6 131.7h2.4M1507.6 133.4h2.4M1077.9 140.7h2.4M1495.3 148.6h2.4M1230.8 150.5h2.4M1467.3 180h2.4M1220.1 183.5h2.4M1385.7 215.3h2.4M1076.6 231.1h2.4M1068.4 247h2.4M1343.9 253h2.4M1363.7 254.6h2.4M1427.9 255.7h2.4M1228.4 278.9h2.4M1364.7 303h2.4M1476.3 319.2h2.4M1325.7 383.4h2.4M1484.6 392.2h2.4M1212.3 402.1h2.4M1246.1 402.1h2.4M1075.1 415.7h2.4M1417.5 420.5h2.4M1053.6 422.9h2.4M1364 432.7h2.4M1075.6 506.1h2.4M1533.4 506.7h2.4M1117.6 522.5h2.4M1193.7 525.1h2.4M1094.9 551.7h2.4M1247 567.7h2.4M1501 568.6h2.4" stroke="#10d8f8" stroke-width="2.4" fill="none"/>
<path d="M1159 227.4h1" stroke="#40a8f8" stroke-width="1.2" fill="none"/>
<path d="M1161.5 206.1h1.2M1161.5 224.3h1.2M1169.3 227.4h1.2M1161.5 245.6h1.2" stroke="#40a8f8" stroke-width="1.4" fill="none"/>
<path d="M1068.1 533.2h1.3M1066.3 573.5h1.3" stroke="#40a8f8" stroke-width="1.3" fill="none"/>
<path d="M1196.7 155.8h1.4M1198 155.8h1.4M1196.7 157.4h1.4M1196.7 158.9h1.4M1195.4 160.4h1.4M1191.4 161.9h1.4M1196.7 161.9h1.4M1199.3 161.9h1.4M1196.7 163.4h1.4M1195.4 165h1.4M1199.3 166.5h1.4M1199.3 168h1.4M1198 169.5h1.4M1199.3 169.5h1.4M1195.4 171.1h1.4M1196.7 171.1h1.4M1196.7 172.6h1.4M1198 174.1h1.4M1201.9 174.1h1.4M1196.7 175.6h1.4M1196.7 177.1h1.4M1198 177.1h1.4M1199.3 178.7h1.4M1196.7 180.2h1.4M1198 180.2h1.4M1195.4 181.7h1.4M1196.7 181.7h1.4M1200.6 183.2h1.4M1198 184.8h1.4M1195.4 186.3h1.4M1196.7 186.3h1.4M1199.3 187.8h1.4M1195.4 189.3h1.4M1196.7 190.8h1.4M1200.6 190.8h1.4M1195.4 192.4h1.4M1195.4 193.9h1.4M1198 195.4h1.4M1199.3 195.4h1.4M1198 196.9h1.4M1194.1 198.4h1.4M1196.7 198.4h1.4M1195.4 200h1.4M1195.4 201.5h1.4M1199.3 201.5h1.4M1198 203h1.4M1200.6 203h1.4M1196.7 204.5h1.4M1194.1 206.1h1.4M1194.1 207.6h1.4M1196.7 207.6h1.4M1194.1 209.1h1.4M1198 209.1h1.4M1200.6 209.1h1.4M1198 212.1h1.4M1196.7 213.7h1.4M1200.6 213.7h1.4M1196.7 215.2h1.4M1200.6 215.2h1.4M1196.7 216.7h1.4M1198 216.7h1.4M1196.7 218.2h1.4M1196.7 221.3h1.4M1194.1 222.8h1.4M1195.4 222.8h1.4M1199.3 222.8h1.4M1174.5 224.3h1.4M1195.4 224.3h1.4M1196.7 224.3h1.4M1198 225.8h1.4M1196.7 227.4h1.4M1196.7 228.9h1.4M1199.3 228.9h1.4M1195.4 230.4h1.4M1199.3 230.4h1.4M1161.4 233.5h1.4M1166.6 233.5h1.4M1198 233.5h1.4M1195.4 235h1.4M1198 235h1.4M1164 236.5h1.4M1195.4 238h1.4M1196.7 238h1.4M1196.7 239.5h1.4M1151 257.8h1.4M1114.4 502.9h1.4M1076.5 504.4h1.4M1084.3 504.4h1.4M1107.9 505.9h1.4M1118.3 507.4h1.4M1113.1 566.8h1.4M1075.2 568.3h1.4M1097.4 568.3h1.4M1098.7 568.3h1.4M1103.9 568.3h1.4M1109.2 568.3h1.4M1115.7 568.3h1.4M1046.5 569.8h1.4M1072.6 569.8h1.4M1093.5 569.8h1.4M1043.9 571.3h1.4M1046.5 571.3h1.4M1047.8 571.3h1.4M1056.9 571.3h1.4M1059.5 571.3h1.4M1047.8 572.9h1.4M1049.1 572.9h1.4M1050.4 572.9h1.4M1051.7 572.9h1.4M1056.9 572.9h1.4M1059.5 572.9h1.4" stroke="#40a8f8" stroke-width="1.6" fill="none"/>
<path d="M1196.6 140.5h1.9M1245.4 227.7h1.9M1212.6 262.7h1.9M1488.5 322h1.9M1221.7 366.4h1.9M1552.8 382.2h1.9M1203.1 382.8h1.9M1221.3 392.7h1.9M1221.7 400.9h1.9M1344.8 412h1.9M1234.1 439.8h1.9M1365.1 461.1h1.9" stroke="#40a8f8" stroke-width="1.9" fill="none"/>
<path d="M1218.6 90.6h2.2M1217.9 165.1h2.2M1211 174.2h2.2M1201.2 179.6h2.2M1385.4 185.2h2.2M1235.5 277.7h2.2M1232.6 313.9h2.2M1066.3 351h2.2M1221.6 356.2h2.2M1200.7 356.9h2.2M1547.9 376.1h2.2M1198.8 390.7h2.2M1247.6 392.6h2.2M1379 404.9h2.2M1222.6 406.4h2.2M1362.3 456.9h2.2M1446.4 471.2h2.2M1365.1 483h2.2M1204.2 530.5h2.2M1203.3 535.1h2.2M1305.8 545.6h2.2" stroke="#40a8f8" stroke-width="2.2" fill="none"/>
<path d="M1331.9 108.7h2.4M1232.8 112.8h2.4M1470.3 145.6h2.4M1040.7 171.7h2.4M1226.7 209.8h2.4M1364.9 221.9h2.4M1385.6 228.6h2.4M1069.3 292.6h2.4M1211.8 337.6h2.4M1368.8 351.3h2.4M1438 369.7h2.4M1221.9 393h2.4M1207.3 393.6h2.4M1214.6 393.7h2.4M1465.8 419.8h2.4M1246.4 468.6h2.4M1494.7 478.7h2.4M1305.4 532.3h2.4M1153.7 550.9h2.4" stroke="#40a8f8" stroke-width="2.4" fill="none"/>
<path d="M1164.2 166.5h1M1156.4 169.5h1M1153.7 184.8h1M1151.1 187.8h1M1143.3 196.9h1M1140.7 200h1M1132.8 203h1M1143.3 206.1h1M1179.9 248.7h1M1119.8 254.8h1M1172 270h1M1117.2 279.1h1M1182.5 279.1h1M1111.9 282.2h1M1109.3 297.4h1M1098.9 303.5h1M1148.5 324.8h1M1164.2 324.8h1M1153.7 330.9h1M1119.8 352.2h1M1109.3 358.3h1M1179.9 373.5h1M1174.6 376.5h1M1179.9 382.6h1M1177.2 385.7h1M1117.2 403.9h1M1177.2 407h1M1190.3 407h1M1172 410h1M1190.3 410h1M1187.7 416.1h1M1098.9 422.2h1M1179.9 425.2h1M1192.9 428.3h1M1119.8 431.3h1M1185.1 434.4h1" stroke="#008010" stroke-width="1.2" fill="none"/>
<path d="M1161.5 166.5h1.2M1138 203h1.2M1171.9 236.5h1.2M1177.1 236.5h1.2M1182.4 263.9h1.2M1182.4 270h1.2M1174.5 306.5h1.2M1166.7 312.6h1.2M1164.1 327.8h1.2M1143.2 337h1.2M1132.7 340h1.2M1122.3 346.1h1.2M1127.5 346.1h1.2M1130.1 352.2h1.2M1104 367.4h1.2M1119.7 403.9h1.2M1114.5 416.1h1.2M1093.6 428.3h1.2M1104 431.3h1.2M1156.3 470.9h1.2M1111.8 495.2h1.2" stroke="#008010" stroke-width="1.4" fill="none"/>
<path d="M1284.6 103.5h1.3M1284.6 106.5h1.3M1284.6 109.6h1.3M1284.4 110.2h1.3M1284.6 112.6h1.3M1284.4 113.3h1.3M1284.6 115.7h1.3M1284.4 116.3h1.3M1283.6 135.6h1.3M1284.6 136.3h1.3M1284.2 138.2h1.3M1283.9 139h1.3M1284.1 145.2h1.3M1283.7 147.6h1.3M1283.3 153.1h1.3M1284 158h1.3M1284 161h1.3M1284 164.1h1.3M1476 172h1.3M1284.7 174.5h1.3M1476.1 175.4h1.3M1283.7 189.1h1.3M1284.4 195.8h1.3M1283.6 198.2h1.3M1283.8 206.1h1.3M1283.9 213.6h1.3M1476.5 215.5h1.3M1476.8 215.9h1.3M1283.9 216.7h1.3M1284.2 218.1h1.3M1476.5 218.6h1.3M1283.9 219.7h1.3M1284.2 221.1h1.3M1475.8 222.4h1.3M1283.9 222.8h1.3M1476.1 223.6h1.3M1284.2 224.2h1.3M1285 224.7h1.3M1283.9 225.8h1.3M1476.1 226.6h1.3M1284.2 227.2h1.3M1476.1 229.7h1.3M1284.2 230.3h1.3M1476.1 232.7h1.3M1476.1 236.6h1.3M1476.6 238.7h1.3M1476.1 239.7h1.3M1476.2 246.5h1.3M1284.3 248.7h1.3M1283.7 260.5h1.3M1284.4 276.5h1.3M1284 315h1.3M1284.5 319.6h1.3M1283.9 319.7h1.3M1283.9 347.1h1.3M1284.3 351.9h1.3M1284 352.4h1.3M1285.1 367.6h1.3M1284.4 371.5h1.3M1284.6 381.1h1.3M1284.3 387h1.3M1284.3 390h1.3M1284.3 409.3h1.3M1284.5 414h1.3M1284.6 420.7h1.3M1284.6 423.8h1.3M1284.2 426h1.3M1284 432.6h1.3M1283.9 444h1.3M1283.9 447h1.3M1284.3 474h1.3M1284.3 477h1.3M1283.6 477.1h1.3M1283.9 479.6h1.3M1284.3 480.1h1.3M1284.3 483.1h1.3M1284.1 484.9h1.3M1283.9 489h1.3M1283.7 496.5h1.3M1284.3 521.8h1.3M1284.4 522.9h1.3M1284.7 534.2h1.3M1284.7 537.2h1.3M1284.7 540.3h1.3M1284.7 543.3h1.3M1284.7 546.4h1.3M1283.8 581h1.3M1283.8 584h1.3" stroke="#008010" stroke-width="1.3" fill="none"/>
<path d="M1164 154.3h1.4M1148.3 181.7h1.4M1151 181.7h1.4M1156.2 181.7h1.4M1140.5 187.8h1.4M1135.3 193.9h1.4M1140.5 196.9h1.4M1143.1 203h1.4M1136.6 204.5h1.4M1139.2 204.5h1.4M1134 206.1h1.4M1135.3 207.6h1.4M1136.6 210.6h1.4M1126.1 213.7h1.4M1130.1 215.2h1.4M1113.1 216.7h1.4M1113.1 218.2h1.4M1115.7 218.2h1.4M1119.6 218.2h1.4M1122.2 218.2h1.4M1111.8 219.8h1.4M1109.2 221.3h1.4M1103.9 224.3h1.4M1101.3 227.4h1.4M1182.3 230.4h1.4M1184.9 230.4h1.4M1182.3 242.6h1.4M1124.8 251.7h1.4M1127.4 251.7h1.4M1184.9 251.7h1.4M1111.8 254.8h1.4M1187.5 254.8h1.4M1171.8 257.8h1.4M1119.6 260.9h1.4M1117 276.1h1.4M1182.3 276.1h1.4M1177.1 282.2h1.4M1122.2 285.2h1.4M1177.1 291.3h1.4M1114.4 294.3h1.4M1093.5 300.4h1.4M1174.5 303.5h1.4M1156.2 318.7h1.4M1151 321.7h1.4M1158.8 321.7h1.4M1158.8 330.9h1.4M1148.3 337h1.4M1132.7 343h1.4M1148.3 343h1.4M1130.1 349.1h1.4M1145.7 349.1h1.4M1111.8 352.2h1.4M1114.4 355.2h1.4M1117 355.2h1.4M1117 361.3h1.4M1096.1 367.4h1.4M1174.5 367.4h1.4M1096.1 370.4h1.4M1106.5 370.4h1.4M1179.7 370.4h1.4M1090.9 373.5h1.4M1096.1 376.5h1.4M1122.2 379.6h1.4M1179.7 394.8h1.4M1187.5 399.4h1.4M1114.4 400.9h1.4M1177.1 400.9h1.4M1179.7 400.9h1.4M1179.7 402.4h1.4M1183.6 402.4h1.4M1184.9 402.4h1.4M1177.1 403.9h1.4M1181 403.9h1.4M1177.1 405.4h1.4M1181 405.4h1.4M1182.3 407h1.4M1184.9 407h1.4M1179.7 408.5h1.4M1184.9 408.5h1.4M1117 410h1.4M1181 410h1.4M1187.5 410h1.4M1178.4 411.5h1.4M1178.4 413.1h1.4M1179.7 413.1h1.4M1195.4 413.1h1.4M1111.8 414.6h1.4M1093.5 416.1h1.4M1098.7 416.1h1.4M1101.3 416.1h1.4M1182.3 416.1h1.4M1183.6 416.1h1.4M1096.1 417.6h1.4M1097.4 417.6h1.4M1105.2 417.6h1.4M1106.5 417.6h1.4M1179.7 417.6h1.4M1181 417.6h1.4M1103.9 419.1h1.4M1177.1 419.1h1.4M1179.7 419.1h1.4M1186.2 419.1h1.4M1183.6 420.7h1.4M1186.2 420.7h1.4M1184.9 422.2h1.4M1183.6 423.7h1.4M1181 425.2h1.4M1182.3 425.2h1.4M1186.2 425.2h1.4M1187.5 425.2h1.4M1184.9 426.8h1.4M1103.9 428.3h1.4M1106.5 428.3h1.4M1177.1 428.3h1.4M1186.2 428.3h1.4M1187.5 428.3h1.4M1181 429.8h1.4M1182.3 429.8h1.4M1184.9 429.8h1.4M1179.7 431.3h1.4M1174.5 434.4h1.4M1182.3 434.4h1.4M1186.2 434.4h1.4M1182.3 435.9h1.4M1184.9 437.4h1.4M1187.5 437.4h1.4M1183.6 438.9h1.4M1187.5 438.9h1.4M1182.3 440.4h1.4M1192.7 440.4h1.4M1174.5 445h1.4M1179.7 445h1.4M1181 445h1.4M1081.7 446.5h1.4M1083 446.5h1.4M1088.3 446.5h1.4M1094.8 446.5h1.4M1097.4 446.5h1.4M1182.3 446.5h1.4M1184.9 446.5h1.4M1081.7 448.1h1.4M1094.8 448.1h1.4M1182.3 448.1h1.4M1093.5 449.6h1.4M1171.8 449.6h1.4M1182.3 449.6h1.4M1178.4 451.1h1.4M1175.8 452.6h1.4M1183.6 452.6h1.4M1186.2 454.1h1.4M1174.5 455.7h1.4M1177.1 455.7h1.4M1173.2 457.2h1.4M1177.1 457.2h1.4M1178.4 457.2h1.4M1171.8 460.2h1.4M1177.1 460.2h1.4M1174.5 461.8h1.4M1166.6 463.3h1.4M1169.2 463.3h1.4M1169.2 466.3h1.4M1162.7 467.8h1.4M1164 470.9h1.4M1171.8 470.9h1.4M1140.5 473.9h1.4M1162.7 477h1.4M1151 478.5h1.4M1154.9 478.5h1.4M1144.4 480h1.4M1147 480h1.4M1153.6 480h1.4M1162.7 480h1.4M1145.7 483.1h1.4M1135.3 484.6h1.4M1151 484.6h1.4M1134 487.6h1.4M1135.3 487.6h1.4M1144.4 487.6h1.4M1154.9 487.6h1.4M1136.6 489.2h1.4M1137.9 489.2h1.4M1148.3 489.2h1.4M1124.8 490.7h1.4M1130.1 490.7h1.4M1136.6 490.7h1.4M1137.9 490.7h1.4M1127.4 492.2h1.4M1128.8 492.2h1.4M1134 492.2h1.4M1144.4 492.2h1.4M1145.7 492.2h1.4M1147 492.2h1.4M1130.1 493.7h1.4M1114.4 495.2h1.4M1122.2 495.2h1.4M1131.4 495.2h1.4M1123.5 496.8h1.4M1128.8 496.8h1.4M1119.6 498.3h1.4M1127.4 498.3h1.4M1113.1 499.8h1.4M1115.7 499.8h1.4M1096.1 501.3h1.4M1117 501.3h1.4M1094.8 502.9h1.4M1110.5 502.9h1.4M1089.6 504.4h1.4M1090.9 504.4h1.4M1103.9 504.4h1.4M1105.2 504.4h1.4M1107.9 504.4h1.4M1111.8 504.4h1.4M1113.1 504.4h1.4M1115.7 504.4h1.4M1117 504.4h1.4M1119.6 504.4h1.4M1084.3 505.9h1.4M1090.9 505.9h1.4M1092.2 505.9h1.4M1093.5 505.9h1.4M1100 505.9h1.4M1109.2 505.9h1.4M1076.5 507.4h1.4M1087 507.4h1.4M1094.8 507.4h1.4M1117 507.4h1.4M1073.9 508.9h1.4M1076.5 568.3h1.4M1077.8 568.3h1.4M1083 568.3h1.4M1105.2 568.3h1.4M1122.2 568.3h1.4M1081.7 569.8h1.4M1071.3 571.3h1.4M1072.6 571.3h1.4M1073.9 571.3h1.4M1075.2 571.3h1.4M1077.8 571.3h1.4M1079.1 571.3h1.4M1080.4 571.3h1.4M1083 571.3h1.4M1085.7 571.3h1.4M1087 571.3h1.4M1088.3 571.3h1.4M1089.6 571.3h1.4M1090.9 571.3h1.4M1092.2 571.3h1.4M1093.5 571.3h1.4M1096.1 571.3h1.4M1097.4 571.3h1.4M1098.7 571.3h1.4M1100 571.3h1.4M1101.3 571.3h1.4M1102.6 571.3h1.4M1103.9 571.3h1.4M1105.2 571.3h1.4M1106.5 571.3h1.4M1107.9 571.3h1.4M1070 572.9h1.4M1071.3 572.9h1.4M1072.6 572.9h1.4M1073.9 572.9h1.4M1075.2 572.9h1.4M1076.5 572.9h1.4M1079.1 572.9h1.4M1080.4 572.9h1.4M1081.7 572.9h1.4M1083 572.9h1.4M1084.3 572.9h1.4M1085.7 572.9h1.4M1087 572.9h1.4M1088.3 572.9h1.4M1089.6 572.9h1.4M1090.9 572.9h1.4M1092.2 572.9h1.4M1093.5 572.9h1.4M1096.1 572.9h1.4M1097.4 572.9h1.4M1101.3 572.9h1.4M1102.6 572.9h1.4M1103.9 572.9h1.4M1105.2 572.9h1.4M1068.7 574.4h1.4M1073.9 574.4h1.4M1093.5 574.4h1.4M1094.8 574.4h1.4M1105.2 574.4h1.4" stroke="#008010" stroke-width="1.6" fill="none"/>
<path d="M1288.2 126.4h1.4M1258.1 134.8h1.4M1289.5 190.2h1.4M1288.5 214.3h1.4M1267.8 244.3h1.4M1288.8 267.4h1.4M1288.5 267.6h1.4M1288.8 270.5h1.4M1288.8 273.5h1.4M1288.8 276.6h1.4M1288.9 277.9h1.4M1288.9 281h1.4M1288.9 284h1.4M1288.9 287.1h1.4M1288.9 290.1h1.4M1258.2 346.5h1.4M1258.3 360.3h1.4M1266.3 374.3h1.4M1266.3 377.3h1.4M1266.3 380.4h1.4M1266.3 383.4h1.4M1266.6 384.8h1.4M1288.5 427.4h1.4M1288.5 430.5h1.4M1288.5 433.5h1.4M1287.5 434h1.4M1288.5 436.6h1.4M1259.2 439.1h1.4M1288.5 439.6h1.4M1258.5 441.4h1.4M1258.5 444.4h1.4M1258.5 447.5h1.4M1267.5 448h1.4M1258.5 450.5h1.4M1288.6 451.2h1.4M1288.6 454.2h1.4M1289.6 461.3h1.4M1258.1 468.5h1.4M1265.4 472.5h1.4M1265.4 475.5h1.4M1267.2 485.7h1.4M1267.2 488.8h1.4M1288.7 491h1.4M1267.2 491.8h1.4M1267.2 494.9h1.4M1267.2 497.9h1.4M1289.1 507h1.4M1289.2 535.9h1.4M1257.4 537h1.4M1258.3 544.4h1.4M1288.1 549.8h1.4M1266.9 562.7h1.4" stroke="#008010" stroke-width="1.4" fill="none"/>
<path d="M1284.5 101.8h1.6M1283.6 133.5h1.6M1283.9 138.9h1.6M1283.9 142h1.6M1283.9 145h1.6M1283.9 148.1h1.6M1283.8 149.6h1.6M1283.9 151.1h1.6M1283.9 153.4h1.6M1283.9 168.9h1.6M1283.9 172h1.6M1284.3 196.6h1.6M1283.5 199.1h1.6M1284.4 207h1.6M1284.1 221.2h1.6M1284.1 223.8h1.6M1284.1 224.3h1.6M1284 238.9h1.6M1284.5 240.9h1.6M1476.3 241.2h1.6M1284.5 244h1.6M1476.3 244.3h1.6M1284.5 247h1.6M1476.3 247.3h1.6M1476.3 250.4h1.6M1476.3 253.4h1.6M1283.7 256.4h1.6M1476.5 264.3h1.6M1475.5 266.3h1.6M1284.2 274.2h1.6M1284.2 277.2h1.6M1284.2 280.3h1.6M1283.8 282.9h1.6M1284.2 283.3h1.6M1283.8 285.9h1.6M1284.3 305.5h1.6M1284.4 318.8h1.6M1284.4 321.8h1.6M1283.9 324.1h1.6M1284.4 324.9h1.6M1284.4 339.5h1.6M1284.5 339.9h1.6M1284 359h1.6M1284 362h1.6M1284 365.1h1.6M1283.6 368.7h1.6M1283.6 371.8h1.6M1284.1 371.8h1.6M1284.7 381.6h1.6M1284 454.5h1.6M1284.1 468h1.6M1283.8 497.6h1.6M1283.5 499.7h1.6M1283.9 500.4h1.6M1283.8 500.6h1.6M1283.5 502.8h1.6M1283.8 503.7h1.6M1284.4 520.1h1.6M1284.4 523.1h1.6M1284.4 526.2h1.6M1284.3 527.4h1.6M1284.3 530.4h1.6M1284.3 533.5h1.6M1284.3 536.5h1.6M1284.3 539.6h1.6M1284.2 571h1.6M1284.2 574.1h1.6M1284.2 577.1h1.6M1284.2 580.2h1.6" stroke="#008010" stroke-width="1.6" fill="none"/>
<path d="M1258.3 112.6h1.7M1272.9 142.1h1.7M1265.9 215.8h1.7M1288.2 230.3h1.7M1258.4 233.4h1.7M1258.4 236.4h1.7M1258.4 239.5h1.7M1257.3 245.9h1.7M1257.2 268.3h1.7M1287.2 291.2h1.7M1257.6 321.5h1.7M1257.6 324.5h1.7M1277.4 339.9h1.7M1287.4 352.4h1.7M1257.7 402.9h1.7M1288.2 417.2h1.7M1288.2 420.3h1.7M1288.2 423.3h1.7M1288.2 426.4h1.7M1267.8 437.1h1.7M1257.3 446.6h1.7M1288.5 449.7h1.7M1258.1 461.3h1.7M1258.6 469.1h1.7M1258.6 472.1h1.7M1257.9 522.8h1.7M1288.8 528.7h1.7M1258.2 544.8h1.7M1255.5 567.6h1.7M1265.1 574.6h1.7" stroke="#008010" stroke-width="1.7" fill="none"/>
<path d="M1470.3 351.8h1.9M1402.6 380.5h1.9M1470.8 407.1h1.9M1386 408.3h1.9M1529.2 449.7h1.9M1469.5 502.7h1.9M1476.7 522.8h1.9M1525.4 536.3h1.9" stroke="#008010" stroke-width="1.9" fill="none"/>
<path d="M1257.4 100.6h2M1289.1 104.6h2M1267.2 193.3h2M1267.2 196.3h2M1267.2 199.4h2M1267.2 202.4h2M1267.2 205.5h2M1288.5 210.6h2M1265.5 211.9h2M1265.5 215h2M1265.5 218h2M1288.7 224.4h2M1288.7 227.4h2M1258.3 237.5h2M1262.8 250.1h2M1288.5 281.1h2M1257.7 283h2M1257.7 286h2M1257.7 289.1h2M1257.1 353.4h2M1288.5 363.1h2M1288.5 366.1h2M1288.5 369.2h2M1288.5 372.2h2M1288.5 375.3h2M1281.6 410.1h2M1288.7 493.4h2M1265.9 512.4h2M1288.9 550.3h2" stroke="#008010" stroke-width="2" fill="none"/>
<path d="M1464 178.1h2.2M1464 181.1h2.2M1464 184.2h2.2M1390.9 397.5h2.2M1512.7 405.3h2.2M1470.5 409.2h2.2M1459.4 426.8h2.2M1466.5 530.7h2.2M1405 575h2.2" stroke="#008010" stroke-width="2.2" fill="none"/>
<path d="M1523.2 159.1h2.4M1389.6 172.8h2.4M1461.7 199.7h2.4M1384.2 291.7h2.4M1479.2 467h2.4M1442.4 493.3h2.4M1461.1 516.1h2.4M1478.6 521.9h2.4M1465.9 582.9h2.4" stroke="#008010" stroke-width="2.4" fill="none"/>
<path d="M1125 120.8h1M1132.8 120.8h1M1117.2 126.9h1M1132.8 130h1M1138.1 130h1M1119.8 133h1M1117.2 136h1M1127.6 136h1M1109.3 139.1h1M1111.9 142.1h1M1114.6 184.8h1M1117.2 200h1M1172 233.5h1M1140.7 248.7h1M1135.5 254.8h1M1140.7 254.8h1M1125 257.8h1M1135.5 266.9h1M1140.7 266.9h1M1140.7 270h1M1080.6 276.1h1M1122.4 276.1h1M1169.4 276.1h1M1109.3 279.1h1M1070.2 282.2h1M1078 285.2h1M1083.2 285.2h1M1085.8 288.2h1M1109.3 291.3h1M1075.4 297.4h1M1062.3 300.4h1M1078 306.5h1M1101.5 306.5h1M1140.7 306.5h1M1075.4 309.6h1M1122.4 324.8h1M1111.9 327.8h1M1130.2 327.8h1M1098.9 346.1h1M1106.7 346.1h1M1117.2 346.1h1M1109.3 349.1h1M1088.4 355.2h1M1088.4 358.3h1M1140.7 364.3h1M1085.8 367.4h1M1143.3 370.4h1M1088.4 373.5h1M1101.5 382.6h1M1125 403.9h1M1070.2 407h1M1078 407h1M1153.7 407h1M1135.5 410h1M1138.1 416.1h1M1127.6 425.2h1M1130.2 428.3h1M1140.7 428.3h1M1132.8 431.3h1M1085.8 437.4h1M1098.9 437.4h1M1083.2 440.4h1M1096.3 443.5h1M1153.7 449.6h1M1098.9 452.6h1M1130.2 452.6h1M1143.3 458.7h1M1109.3 464.8h1M1117.2 467.8h1M1140.7 467.8h1M1138.1 470.9h1M1119.8 477h1M1098.9 486.1h1M1114.6 489.2h1M1122.4 489.2h1M1062.3 498.3h1M1106.7 498.3h1" stroke="#ff4090" stroke-width="1.2" fill="none"/>
<path d="M1127.5 126.9h1.2M1130.1 126.9h1.2M1135.4 130h1.2M1117.1 142.1h1.2M1117.1 163.4h1.2M1109.2 166.5h1.2M1119.7 187.8h1.2M1156.3 215.2h1.2M1153.6 224.3h1.2M1143.2 239.5h1.2M1166.7 239.5h1.2M1164.1 245.6h1.2M1124.9 254.8h1.2M1130.1 257.8h1.2M1138 260.9h1.2M1122.3 263.9h1.2M1145.8 263.9h1.2M1153.6 263.9h1.2M1164.1 266.9h1.2M1122.3 270h1.2M1158.9 270h1.2M1072.7 279.1h1.2M1156.3 279.1h1.2M1085.7 282.2h1.2M1119.7 282.2h1.2M1064.8 288.2h1.2M1161.5 288.2h1.2M1143.2 291.3h1.2M1080.5 294.3h1.2M1130.1 303.5h1.2M1064.8 306.5h1.2M1130.1 321.7h1.2M1119.7 330.9h1.2M1114.5 333.9h1.2M1114.5 337h1.2M1093.6 361.3h1.2M1067.4 367.4h1.2M1101.4 376.5h1.2M1117.1 376.5h1.2M1148.4 400.9h1.2M1138 407h1.2M1075.3 410h1.2M1075.3 419.1h1.2M1075.3 422.2h1.2M1148.4 422.2h1.2M1064.8 425.2h1.2M1075.3 425.2h1.2M1166.7 425.2h1.2M1072.7 428.3h1.2M1127.5 431.3h1.2M1169.3 434.4h1.2M1135.4 437.4h1.2M1085.7 440.4h1.2M1135.4 440.4h1.2M1093.6 443.5h1.2M1124.9 446.5h1.2M1101.4 449.6h1.2M1161.5 449.6h1.2M1093.6 452.6h1.2M1093.6 455.7h1.2M1101.4 464.8h1.2M1114.5 473.9h1.2M1075.3 489.2h1.2M1062.2 504.4h1.2M1062.2 510.5h1.2" stroke="#ff4090" stroke-width="1.4" fill="none"/>
<path d="M1284.3 98.1h1.3M1284.3 120h1.3M1283.9 140.9h1.3M1284 164.9h1.3M1284 167.9h1.3M1284 171h1.3M1284 174h1.3M1284 177.1h1.3M1284.6 188.9h1.3M1283.6 261.7h1.3M1283.7 262.1h1.3M1283.4 273.3h1.3M1284.2 345.9h1.3M1284.9 455.7h1.3M1106.3 540.6h1.3M1065 542.2h1.3M1284 548.1h1.3M1067.2 550.1h1.3" stroke="#ff4090" stroke-width="1.3" fill="none"/>
<path d="M1090.9 90.4h1.4M1092.2 91.9h1.4M1088.3 93.4h1.4M1083 99.5h1.4M1084.3 99.5h1.4M1085.7 99.5h1.4M1081.7 101h1.4M1081.7 102.6h1.4M1079.1 104.1h1.4M1072.6 107.1h1.4M1075.2 107.1h1.4M1067.4 108.7h1.4M1071.3 108.7h1.4M1072.6 108.7h1.4M1066.1 110.2h1.4M1068.7 110.2h1.4M1140.5 120.8h1.4M1132.7 123.9h1.4M1124.8 130h1.4M1130.1 130h1.4M1127.4 133h1.4M1114.4 136h1.4M1124.8 145.2h1.4M1127.4 145.2h1.4M1109.2 154.3h1.4M1101.3 157.4h1.4M1114.4 157.4h1.4M1119.6 157.4h1.4M1111.8 160.4h1.4M1119.6 160.4h1.4M1114.4 166.5h1.4M1117 166.5h1.4M1111.8 187.8h1.4M1114.4 196.9h1.4M1122.2 196.9h1.4M1205.8 200h1.4M1204.5 201.5h1.4M1205.8 203h1.4M1207.1 203h1.4M1205.8 206.1h1.4M1207.1 206.1h1.4M1207.1 207.6h1.4M1177.1 209.1h1.4M1101.3 210.6h1.4M1171.8 215.2h1.4M1096.1 219.8h1.4M1169.2 221.3h1.4M1092.2 224.3h1.4M1088.3 225.8h1.4M1093.5 225.8h1.4M1156.2 227.4h1.4M1156.2 230.4h1.4M1079.1 235h1.4M1137.9 236.5h1.4M1075.2 238h1.4M1067.4 239.5h1.4M1132.7 239.5h1.4M1164 239.5h1.4M1179.7 239.5h1.4M1071.3 241.1h1.4M1067.4 242.6h1.4M1137.9 245.6h1.4M1184.9 248.7h1.4M1164 251.7h1.4M1145.7 254.8h1.4M1132.7 257.8h1.4M1135.3 260.9h1.4M1169.2 260.9h1.4M1135.3 263.9h1.4M1137.9 263.9h1.4M1158.8 263.9h1.4M1124.8 266.9h1.4M1117 270h1.4M1143.1 270h1.4M1145.7 270h1.4M1161.4 270h1.4M1143.1 273h1.4M1153.6 273h1.4M1106.5 276.1h1.4M1135.3 276.1h1.4M1080.4 279.1h1.4M1137.9 279.1h1.4M1145.7 279.1h1.4M1151 279.1h1.4M1132.7 282.2h1.4M1143.1 282.2h1.4M1070 285.2h1.4M1164 285.2h1.4M1106.5 288.2h1.4M1135.3 288.2h1.4M1143.1 288.2h1.4M1077.8 291.3h1.4M1077.8 294.3h1.4M1109.2 294.3h1.4M1077.8 297.4h1.4M1101.3 300.4h1.4M1132.7 303.5h1.4M1067.4 306.5h1.4M1109.2 312.6h1.4M1119.6 318.7h1.4M1127.4 324.8h1.4M1130.1 324.8h1.4M1093.5 352.2h1.4M1090.9 361.3h1.4M1067.4 364.3h1.4M1111.8 364.3h1.4M1137.9 367.4h1.4M1140.5 370.4h1.4M1119.6 373.5h1.4M1143.1 379.6h1.4M1122.2 382.6h1.4M1137.9 397.8h1.4M1143.1 397.8h1.4M1144.4 397.8h1.4M1148.3 397.8h1.4M1141.8 399.4h1.4M1145.7 399.4h1.4M1144.4 400.9h1.4M1147 402.4h1.4M1141.8 405.4h1.4M1144.4 405.4h1.4M1135.3 407h1.4M1143.1 407h1.4M1144.4 407h1.4M1145.7 407h1.4M1148.3 407h1.4M1145.7 408.5h1.4M1143.1 410h1.4M1072.6 413.1h1.4M1144.4 413.1h1.4M1140.5 414.6h1.4M1145.7 414.6h1.4M1062.1 416.1h1.4M1080.4 416.1h1.4M1130.1 416.1h1.4M1151 416.1h1.4M1171.8 416.1h1.4M1144.4 417.6h1.4M1137.9 419.1h1.4M1144.4 419.1h1.4M1143.1 420.7h1.4M1130.1 422.2h1.4M1143.1 423.7h1.4M1144.4 423.7h1.4M1083 425.2h1.4M1169.2 425.2h1.4M1077.8 428.3h1.4M1080.4 428.3h1.4M1083 428.3h1.4M1137.9 428.3h1.4M1139.2 428.3h1.4M1137.9 429.8h1.4M1141.8 429.8h1.4M1130.1 431.3h1.4M1140.5 431.3h1.4M1139.2 435.9h1.4M1141.8 435.9h1.4M1127.4 437.4h1.4M1148.3 437.4h1.4M1139.2 438.9h1.4M1140.5 438.9h1.4M1132.7 440.4h1.4M1135.3 443.5h1.4M1139.2 443.5h1.4M1140.5 443.5h1.4M1145.7 443.5h1.4M1139.2 445h1.4M1141.8 445h1.4M1103.9 446.5h1.4M1143.1 448.1h1.4M1136.6 449.6h1.4M1141.8 454.1h1.4M1106.5 455.7h1.4M1140.5 457.2h1.4M1124.8 458.7h1.4M1132.7 458.7h1.4M1161.4 458.7h1.4M1111.8 461.8h1.4M1136.6 461.8h1.4M1103.9 464.8h1.4M1136.6 466.3h1.4M1106.5 467.8h1.4M1109.2 467.8h1.4M1122.2 467.8h1.4M1109.2 470.9h1.4M1132.7 470.9h1.4M1098.7 483.1h1.4M1096.1 486.1h1.4M1101.3 486.1h1.4M1070 489.2h1.4M1085.7 489.2h1.4M1083 492.2h1.4M1088.3 492.2h1.4M1111.8 498.3h1.4M1080.4 501.3h1.4M1041.2 571.3h1.4M1046.5 572.9h1.4M1053 572.9h1.4M1054.3 572.9h1.4" stroke="#ff4090" stroke-width="1.6" fill="none"/>
<path d="M1288.8 90.6h1.4M1288.9 99.2h1.4M1264.9 101.1h1.4M1288.9 102.3h1.4M1288.9 105.3h1.4M1286 109.6h1.4M1269.8 120h1.4M1285.6 121.1h1.4M1269.8 123.1h1.4M1286.3 125h1.4M1257.4 144.2h1.4M1285.7 145.7h1.4M1264.8 149.9h1.4M1285.5 153.7h1.4M1285.5 156.7h1.4M1272.5 156.9h1.4M1270.3 169.8h1.4M1263.7 175.9h1.4M1263.7 178.9h1.4M1264.5 181.1h1.4M1263.7 182h1.4M1265 184.7h1.4M1263.7 185h1.4M1263.7 188.1h1.4M1284.6 194.6h1.4M1286.2 195.9h1.4M1286.2 198.9h1.4M1286.2 202h1.4M1263.4 203h1.4M1286.2 205h1.4M1263.9 231.3h1.4M1263.9 234.4h1.4M1287 238.1h1.4M1290.3 243h1.4M1265 258.9h1.4M1264.8 262.8h1.4M1285 272.6h1.4M1285 275.6h1.4M1285 278.7h1.4M1285 281.7h1.4M1265.5 285.6h1.4M1269.1 298.6h1.4M1269.1 301.7h1.4M1285.9 303h1.4M1269.1 304.7h1.4M1264.4 304.8h1.4M1288.8 309.7h1.4M1288.8 312.8h1.4M1291.3 336h1.4M1287.1 341h1.4M1257.6 342.7h1.4M1263.8 345.7h1.4M1257.6 345.8h1.4M1257.6 348.8h1.4M1285.7 350.5h1.4M1257.6 351.9h1.4M1285.7 353.5h1.4M1286.2 355.1h1.4M1285.7 356.6h1.4M1251.5 369.7h1.4M1286.6 370.8h1.4M1257.6 376.1h1.4M1263.6 384.4h1.4M1261.9 384.6h1.4M1263.6 387.5h1.4M1263.6 390.5h1.4M1263.6 393.6h1.4M1257.5 396.9h1.4M1257.5 400h1.4M1285.2 401.5h1.4M1286.3 402.7h1.4M1257.5 403h1.4M1258 405.6h1.4M1257.5 406.1h1.4M1284.8 411.1h1.4M1262.4 418.3h1.4M1261.3 419.7h1.4M1261.3 422.8h1.4M1261.3 425.8h1.4M1267.9 426.3h1.4M1261.3 428.9h1.4M1264.7 432.4h1.4M1264.7 435.5h1.4M1269 437.1h1.4M1264.7 438.5h1.4M1264.7 441.6h1.4M1290.9 454h1.4M1289.3 455h1.4M1285.6 457h1.4M1289.3 458.1h1.4M1285.6 460.1h1.4M1289.3 461.1h1.4M1285.6 463.1h1.4M1285.6 465h1.4M1285.6 466.2h1.4M1285.6 468h1.4M1285.6 469.2h1.4M1285.6 471.1h1.4M1286.3 473.4h1.4M1265.6 474h1.4M1285.6 474.1h1.4M1286.3 476.5h1.4M1265.6 477h1.4M1285.6 477.2h1.4M1285.3 478.5h1.4M1286.3 479.5h1.4M1265.6 480.1h1.4M1286.3 482.6h1.4M1265.6 483.1h1.4M1288.3 483.3h1.4M1265.3 483.6h1.4M1263.6 483.8h1.4M1286.3 485.6h1.4M1265.6 486.2h1.4M1265.3 486.6h1.4M1262.8 486.7h1.4M1265.8 488.3h1.4M1269 494.1h1.4M1263.9 500.5h1.4M1287.5 509.2h1.4M1285.3 515.2h1.4M1269.6 515.6h1.4M1284.9 533.7h1.4M1258.8 555.7h1.4M1288.3 555.7h1.4M1261.6 562.6h1.4M1286.7 577.3h1.4M1285.4 580.6h1.4M1285.4 583.7h1.4" stroke="#ff4090" stroke-width="1.4" fill="none"/>
<path d="M1284.1 142h1.6M1283.5 228.8h1.6M1284.9 266.4h1.6M1284.2 455.8h1.6M1284.3 467.4h1.6M1067.4 533h1.6M1283.6 558.9h1.6M1067.3 567.7h1.6M1283.6 577h1.6" stroke="#ff4090" stroke-width="1.6" fill="none"/>
<path d="M1263.9 87.8h1.7M1257.6 92.3h1.7M1286.9 92.4h1.7M1284.5 107.1h1.7M1264.1 116.7h1.7M1285.4 119.3h1.7M1264.1 119.7h1.7M1285.4 122.3h1.7M1263.8 122.8h1.7M1264.1 122.8h1.7M1285.4 125.4h1.7M1264.1 125.8h1.7M1285.4 128.4h1.7M1264.1 128.9h1.7M1264.1 130h1.7M1285.4 131.5h1.7M1269.1 136h1.7M1269.1 139h1.7M1270.2 140.8h1.7M1264.8 146.3h1.7M1264.8 149.4h1.7M1285.8 149.7h1.7M1269.8 151.4h1.7M1265 152.4h1.7M1285.5 162.3h1.7M1258 164.5h1.7M1289.2 167.4h1.7M1258 167.6h1.7M1286.1 174.5h1.7M1286.3 178h1.7M1292.9 202.1h1.7M1257.5 218.5h1.7M1257.6 219.1h1.7M1269.1 225.3h1.7M1269.1 228.3h1.7M1264.9 229.2h1.7M1257.8 230.4h1.7M1257.8 233.4h1.7M1265.1 236.7h1.7M1285.9 242.2h1.7M1269.5 259.9h1.7M1285.1 261.5h1.7M1268.7 270.9h1.7M1286.4 300.2h1.7M1288.8 301.5h1.7M1286.6 308.1h1.7M1284 313.7h1.7M1258.3 318.9h1.7M1269.6 320.5h1.7M1264.3 321.6h1.7M1258.3 322h1.7M1264.3 324.7h1.7M1258.3 325h1.7M1264.3 327.7h1.7M1258.3 328.1h1.7M1265 336.4h1.7M1286 337.2h1.7M1263.9 337.6h1.7M1265.4 345h1.7M1286.1 353.5h1.7M1264.1 357h1.7M1264.1 360h1.7M1264.1 363.1h1.7M1264.1 366.1h1.7M1269.1 368.2h1.7M1262.7 368.7h1.7M1264.1 369.2h1.7M1262.7 371.7h1.7M1262.7 374.8h1.7M1285.9 379h1.7M1261.3 380.9h1.7M1285.9 382.1h1.7M1285.9 385.1h1.7M1269.1 385.8h1.7M1261.5 386h1.7M1261.9 386h1.7M1269.1 388.9h1.7M1261.5 389h1.7M1261.9 389.1h1.7M1266.1 389.4h1.7M1263.8 391.2h1.7M1269.1 391.9h1.7M1261.5 392.1h1.7M1261.9 392.1h1.7M1266.1 392.4h1.7M1269.1 395h1.7M1261.5 395.1h1.7M1261.9 395.2h1.7M1266.1 395.5h1.7M1269.1 398h1.7M1266.1 398.5h1.7M1266.1 401.6h1.7M1285.7 408.5h1.7M1269.8 417.1h1.7M1264.4 417.6h1.7M1263.5 425.1h1.7M1262.8 427.8h1.7M1285.1 449h1.7M1286.4 455.9h1.7M1270 484h1.7M1263.9 496.1h1.7M1285 501.2h1.7M1261.9 503.2h1.7M1264.9 524.8h1.7M1262.4 525.3h1.7M1261.9 526.8h1.7M1261.3 528.9h1.7M1261.2 531.8h1.7M1286 535.4h1.7M1286.4 566.1h1.7M1260.5 568.3h1.7M1285.1 570.3h1.7M1286.5 581.2h1.7" stroke="#ff4090" stroke-width="1.7" fill="none"/>
<path d="M1344.2 133.2h1.9M1414.6 164.3h1.9M1202.9 180.8h1.9M1436 206.2h1.9M1482.7 212.6h1.9M1428.2 245.8h1.9M1552.7 249.8h1.9M1465.7 258.1h1.9M1465.7 261.1h1.9M1465.7 264.2h1.9M1465.7 267.2h1.9M1465.1 281.5h1.9M1476.3 341.2h1.9M1403.6 390.6h1.9M1344.8 400.9h1.9M1344.8 404h1.9M1344.8 407h1.9M1344.8 410.1h1.9M1486.5 465.8h1.9M1486.5 468.8h1.9M1486.5 471.9h1.9M1476 473.9h1.9M1486.5 474.9h1.9M1476 476.9h1.9M1477.3 496.9h1.9M1484 571.1h1.9M1484 574.2h1.9M1484 577.2h1.9" stroke="#ff4090" stroke-width="1.9" fill="none"/>
<path d="M1257.7 97.6h2M1264.4 98.4h2M1286.4 120.6h2M1287.6 124.2h2M1287.6 127.2h2M1286.3 130.4h2M1269.8 136.7h2M1263.9 148.1h2M1285.9 164.5h2M1285.3 173.7h2M1285.3 176.8h2M1285.3 179.8h2M1264.4 181.7h2M1285.3 182.9h2M1264.3 191.1h2M1264.3 194.2h2M1264.3 197.2h2M1284.9 197.8h2M1262.8 199.4h2M1269.5 200.3h2M1284.6 200.7h2M1264.4 224.7h2M1264.4 227.8h2M1285.9 230.4h2M1264.4 230.8h2M1264.4 233.9h2M1263.6 235.9h2M1285.8 240.1h2M1271.4 254.5h2M1265.1 264h2M1263.6 268.9h2M1284.3 269.7h2M1263.6 291.5h2M1264 294.7h2M1264.1 297.3h2M1264 297.7h2M1284.9 298.3h2M1264 300.8h2M1264 303.8h2M1264 306.9h2M1258.1 334.5h2M1264.5 338.3h2M1264.1 338.9h2M1263.1 352.5h2M1269 357.5h2M1261.6 359.2h2M1257.8 360.7h2M1262.2 363.4h2M1263.4 370.6h2M1265 381.8h2M1269.5 390.7h2M1274.6 395.7h2M1288.6 396.8h2M1288.6 399.8h2M1288.6 402.9h2M1288.6 405.9h2M1288.6 409h2M1069.9 412.4h2M1286.6 417.8h2M1286.6 420.8h2M1264 442.2h2M1288.4 447.3h2M1285.7 456.9h2M1285.7 460h2M1262.6 460.9h2M1285.7 463h2M1285.7 466.1h2M1286 466.6h2M1285.7 469.1h2M1285.9 469.1h2M1285.9 472.2h2M1257.4 474.2h2M1288.3 477.3h2M1263.8 486.6h2M1284.9 497.4h2M1284.9 500.4h2M1284.9 503.5h2M1285.6 503.7h2M1284.9 506.5h2M1284.8 507.6h2M1284.9 509.6h2M1284.8 510.7h2M1284.8 513.7h2M1284.7 515.8h2M1284.8 516.8h2M1256.9 520.2h2M1286.2 527.3h2M1287.2 527.4h2M1287.2 530.4h2M1263.2 535.6h2M1264.6 542.5h2M1264.6 545.6h2M1285.2 547.4h2M1285.2 550.4h2M1269.9 552h2M1264.3 561.1h2M1269.4 567.4h2M1261.9 573.9h2M1261.9 576.9h2M1285.8 577.2h2M1285.2 577.9h2M1285.8 579.3h2M1285.8 580.2h2M1268.6 581.6h2M1285.8 582.3h2M1285.8 583.3h2M1262 583.7h2" stroke="#ff4090" stroke-width="2" fill="none"/>
<path d="M1246.4 134h2.2M1487.6 244.6h2.2M1489.1 325.2h2.2M1391.4 329.9h2.2M1403.4 335.2h2.2M1475.9 378h2.2M1475.9 381.1h2.2M1475.9 384.1h2.2M1477.5 394.6h2.2M1477.5 397.7h2.2M1538.2 397.8h2.2M1477.5 400.7h2.2M1478 424.9h2.2M1478 428h2.2M1478 431h2.2M1478 434.1h2.2M1476.4 436.8h2.2M1478 437.1h2.2M1476.4 439.8h2.2M1467 447.6h2.2M1484.2 490.9h2.2M1464.8 536.9h2.2M1464.8 539.9h2.2M1464.8 543h2.2M1464.8 546h2.2M1464.8 549.1h2.2M1478.6 564h2.2M1478.6 567.1h2.2M1478.6 570.1h2.2" stroke="#ff4090" stroke-width="2.2" fill="none"/>
<path d="M1553.1 103.3h2.4M1419.3 120.9h2.4M1218.1 164h2.4M1503.5 310.8h2.4M1504.2 361.8h2.4M1521.2 429.2h2.4M1345.2 446.9h2.4M1345.2 450h2.4M1477.8 459.7h2.4M1344.7 476.1h2.4M1486.2 488.2h2.4M1487.2 491.8h2.4M1486.6 510.4h2.4M1486.6 513.4h2.4M1401.5 514.8h2.4M1464.2 541.8h2.4M1403 546.2h2.4M1219.7 566.9h2.4M1482.7 582.7h2.4" stroke="#ff4090" stroke-width="2.4" fill="none"/>
<path d="M1130.2 133h1M1135.5 139.1h1M1106.7 160.4h1M1106.7 166.5h1M1117.2 181.7h1M1119.8 181.7h1M1119.8 184.8h1M1117.2 196.9h1M1135.5 257.8h1M1145.9 260.9h1M1138.1 270h1M1140.7 273h1M1088.4 282.2h1M1130.2 288.2h1M1138.1 291.3h1M1140.7 294.3h1M1143.3 294.3h1M1130.2 297.4h1M1132.8 297.4h1M1138.1 303.5h1M1132.8 306.5h1M1125 312.6h1M1132.8 312.6h1M1117.2 318.7h1M1135.5 318.7h1M1127.6 330.9h1M1114.6 343h1M1114.6 346.1h1M1098.9 349.1h1M1109.3 352.2h1M1085.8 355.2h1M1104.1 355.2h1M1080.6 361.3h1M1085.8 361.3h1M1078 364.3h1M1075.4 367.4h1M1143.3 373.5h1M1140.7 379.6h1M1145.9 394.8h1M1145.9 397.8h1M1130.2 400.9h1M1140.7 400.9h1M1145.9 416.1h1M1072.8 419.1h1M1148.5 419.1h1M1135.5 431.3h1M1130.2 443.5h1M1148.5 449.6h1M1130.2 458.7h1M1145.9 461.8h1M1125 464.8h1M1114.6 467.8h1M1125 467.8h1M1122.4 470.9h1M1138.1 473.9h1M1091.1 492.2h1M1106.7 495.2h1M1109.3 495.2h1M1067.5 504.4h1M1070.2 504.4h1M1064.9 507.4h1" stroke="#ff0030" stroke-width="1.2" fill="none"/>
<path d="M1132.7 126.9h1.2M1132.7 136h1.2M1101.4 169.5h1.2M1109.2 172.6h1.2M1122.3 187.8h1.2M1111.8 190.8h1.2M1114.5 190.8h1.2M1122.3 190.8h1.2M1114.5 193.9h1.2M1119.7 193.9h1.2M1143.2 248.7h1.2M1140.6 251.7h1.2M1143.2 260.9h1.2M1127.5 291.3h1.2M1130.1 291.3h1.2M1135.4 291.3h1.2M1135.4 294.3h1.2M1138 297.4h1.2M1130.1 306.5h1.2M1059.6 309.6h1.2M1132.7 309.6h1.2M1135.4 312.6h1.2M1122.3 315.6h1.2M1122.3 318.7h1.2M1122.3 321.7h1.2M1114.5 327.8h1.2M1111.8 330.9h1.2M1127.5 333.9h1.2M1111.8 337h1.2M1124.9 337h1.2M1109.2 340h1.2M1114.5 340h1.2M1104 343h1.2M1117.1 343h1.2M1111.8 349.1h1.2M1114.5 349.1h1.2M1101.4 352.2h1.2M1104 352.2h1.2M1096.2 355.2h1.2M1091 358.3h1.2M1088.3 361.3h1.2M1096.2 361.3h1.2M1085.7 364.3h1.2M1072.7 370.4h1.2M1075.3 370.4h1.2M1138 370.4h1.2M1145.8 419.1h1.2M1151 419.1h1.2M1072.7 422.2h1.2M1135.4 422.2h1.2M1148.4 425.2h1.2M1143.2 431.3h1.2M1080.5 434.4h1.2M1077.9 440.4h1.2M1104 449.6h1.2M1117.1 458.7h1.2M1127.5 464.8h1.2M1117.1 470.9h1.2M1127.5 470.9h1.2M1117.1 489.2h1.2M1093.6 492.2h1.2M1077.9 495.2h1.2M1064.8 498.3h1.2M1070.1 498.3h1.2" stroke="#ff0030" stroke-width="1.4" fill="none"/>
<path d="M1284.2 147.2h1.3M1284.4 147.7h1.3M1284.1 306.5h1.3M1284.7 344.3h1.3M1283.6 437.5h1.3M1284.6 453.6h1.3M1284.5 466.8h1.3M1284 486.4h1.3M1284.5 511.6h1.3M1284.1 534.2h1.3M1284.1 537.3h1.3M1284.1 540.3h1.3M1284.1 543.4h1.3M1284.1 546.4h1.3M1284.2 554.6h1.3" stroke="#ff0030" stroke-width="1.3" fill="none"/>
<path d="M1093.5 85.8h1.4M1092.2 87.3h1.4M1093.5 87.3h1.4M1092.2 90.4h1.4M1090.9 91.9h1.4M1089.6 93.4h1.4M1083 101h1.4M1073.9 107.1h1.4M1068.7 111.7h1.4M1070 111.7h1.4M1127.4 123.9h1.4M1130.1 136h1.4M1098.7 160.4h1.4M1117 178.7h1.4M1117 187.8h1.4M1124.8 187.8h1.4M1117 190.8h1.4M1119.6 190.8h1.4M1117 193.9h1.4M1100 207.6h1.4M1098.7 209.1h1.4M1100 209.1h1.4M1101.3 209.1h1.4M1098.7 210.6h1.4M1102.6 210.6h1.4M1098.7 212.1h1.4M1100 212.1h1.4M1101.3 212.1h1.4M1098.7 213.7h1.4M1100 213.7h1.4M1097.4 216.7h1.4M1094.8 218.2h1.4M1096.1 218.2h1.4M1098.7 218.2h1.4M1088.3 219.8h1.4M1093.5 219.8h1.4M1094.8 219.8h1.4M1097.4 219.8h1.4M1098.7 219.8h1.4M1092.2 221.3h1.4M1093.5 221.3h1.4M1094.8 221.3h1.4M1096.1 221.3h1.4M1097.4 221.3h1.4M1090.9 222.8h1.4M1093.5 222.8h1.4M1094.8 222.8h1.4M1096.1 222.8h1.4M1097.4 222.8h1.4M1093.5 224.3h1.4M1097.4 224.3h1.4M1089.6 225.8h1.4M1087 227.4h1.4M1088.3 227.4h1.4M1089.6 227.4h1.4M1090.9 227.4h1.4M1092.2 227.4h1.4M1084.3 228.9h1.4M1085.7 228.9h1.4M1087 228.9h1.4M1088.3 228.9h1.4M1081.7 230.4h1.4M1084.3 230.4h1.4M1085.7 230.4h1.4M1087 230.4h1.4M1077.8 231.9h1.4M1079.1 231.9h1.4M1080.4 231.9h1.4M1081.7 231.9h1.4M1083 231.9h1.4M1084.3 231.9h1.4M1085.7 231.9h1.4M1076.5 233.5h1.4M1080.4 233.5h1.4M1081.7 233.5h1.4M1075.2 235h1.4M1076.5 235h1.4M1077.8 235h1.4M1071.3 236.5h1.4M1072.6 236.5h1.4M1073.9 236.5h1.4M1075.2 236.5h1.4M1077.8 236.5h1.4M1070 238h1.4M1071.3 238h1.4M1072.6 238h1.4M1076.5 238h1.4M1079.1 238h1.4M1068.7 239.5h1.4M1071.3 239.5h1.4M1072.6 239.5h1.4M1073.9 239.5h1.4M1067.4 241.1h1.4M1068.7 241.1h1.4M1070 241.1h1.4M1068.7 242.6h1.4M1137.9 251.7h1.4M1137.9 254.8h1.4M1137.9 276.1h1.4M1132.7 285.2h1.4M1070 294.3h1.4M1127.4 294.3h1.4M1132.7 294.3h1.4M1137.9 294.3h1.4M1135.3 297.4h1.4M1140.5 297.4h1.4M1143.1 297.4h1.4M1124.8 300.4h1.4M1127.4 300.4h1.4M1130.1 300.4h1.4M1132.7 300.4h1.4M1140.5 300.4h1.4M1072.6 303.5h1.4M1135.3 303.5h1.4M1122.2 309.6h1.4M1127.4 309.6h1.4M1140.5 309.6h1.4M1122.2 312.6h1.4M1127.4 312.6h1.4M1130.1 312.6h1.4M1137.9 312.6h1.4M1119.6 315.6h1.4M1124.8 315.6h1.4M1130.1 315.6h1.4M1127.4 318.7h1.4M1124.8 321.7h1.4M1117 324.8h1.4M1117 327.8h1.4M1119.6 327.8h1.4M1122.2 327.8h1.4M1117 330.9h1.4M1119.6 337h1.4M1122.2 337h1.4M1106.5 340h1.4M1111.8 340h1.4M1117 340h1.4M1106.5 343h1.4M1109.2 343h1.4M1103.9 346.1h1.4M1109.2 346.1h1.4M1111.8 346.1h1.4M1096.1 349.1h1.4M1103.9 349.1h1.4M1106.5 349.1h1.4M1096.1 352.2h1.4M1098.7 352.2h1.4M1093.5 355.2h1.4M1080.4 358.3h1.4M1093.5 358.3h1.4M1096.1 358.3h1.4M1101.3 358.3h1.4M1072.6 361.3h1.4M1075.2 361.3h1.4M1083 361.3h1.4M1098.7 361.3h1.4M1072.6 364.3h1.4M1075.2 364.3h1.4M1080.4 364.3h1.4M1083 364.3h1.4M1088.3 364.3h1.4M1093.5 364.3h1.4M1070 367.4h1.4M1072.6 367.4h1.4M1077.8 367.4h1.4M1080.4 367.4h1.4M1083 367.4h1.4M1070 370.4h1.4M1137.9 373.5h1.4M1140.5 373.5h1.4M1137.9 376.5h1.4M1135.3 379.6h1.4M1141.8 396.3h1.4M1143.1 396.3h1.4M1144.4 396.3h1.4M1141.8 397.8h1.4M1143.1 399.4h1.4M1144.4 399.4h1.4M1143.1 400.9h1.4M1145.7 400.9h1.4M1139.2 402.4h1.4M1144.4 402.4h1.4M1145.7 402.4h1.4M1140.5 403.9h1.4M1141.8 403.9h1.4M1143.1 403.9h1.4M1144.4 403.9h1.4M1143.1 405.4h1.4M1145.7 405.4h1.4M1067.4 407h1.4M1141.8 407h1.4M1143.1 408.5h1.4M1144.4 408.5h1.4M1137.9 410h1.4M1140.5 410h1.4M1141.8 410h1.4M1144.4 410h1.4M1145.7 410h1.4M1151 410h1.4M1140.5 411.5h1.4M1141.8 411.5h1.4M1135.3 413.1h1.4M1140.5 413.1h1.4M1141.8 413.1h1.4M1143.1 413.1h1.4M1145.7 413.1h1.4M1143.1 414.6h1.4M1072.6 416.1h1.4M1140.5 416.1h1.4M1143.1 416.1h1.4M1144.4 416.1h1.4M1141.8 417.6h1.4M1143.1 417.6h1.4M1140.5 419.1h1.4M1141.8 419.1h1.4M1143.1 419.1h1.4M1139.2 420.7h1.4M1140.5 420.7h1.4M1141.8 420.7h1.4M1140.5 422.2h1.4M1141.8 422.2h1.4M1143.1 422.2h1.4M1140.5 423.7h1.4M1141.8 423.7h1.4M1070 425.2h1.4M1130.1 425.2h1.4M1140.5 425.2h1.4M1143.1 425.2h1.4M1144.4 425.2h1.4M1145.7 425.2h1.4M1139.2 426.8h1.4M1140.5 426.8h1.4M1144.4 426.8h1.4M1141.8 428.3h1.4M1143.1 428.3h1.4M1144.4 428.3h1.4M1145.7 428.3h1.4M1148.3 428.3h1.4M1140.5 429.8h1.4M1143.1 429.8h1.4M1136.6 431.3h1.4M1139.2 431.3h1.4M1141.8 431.3h1.4M1139.2 432.8h1.4M1140.5 432.8h1.4M1143.1 432.8h1.4M1085.7 434.4h1.4M1088.3 434.4h1.4M1135.3 434.4h1.4M1139.2 434.4h1.4M1140.5 434.4h1.4M1141.8 434.4h1.4M1143.1 434.4h1.4M1145.7 434.4h1.4M1140.5 435.9h1.4M1143.1 435.9h1.4M1144.4 435.9h1.4M1145.7 435.9h1.4M1083 437.4h1.4M1136.6 437.4h1.4M1137.9 437.4h1.4M1139.2 437.4h1.4M1140.5 437.4h1.4M1143.1 437.4h1.4M1144.4 437.4h1.4M1137.9 438.9h1.4M1141.8 438.9h1.4M1143.1 438.9h1.4M1144.4 438.9h1.4M1096.1 440.4h1.4M1137.9 440.4h1.4M1139.2 440.4h1.4M1140.5 440.4h1.4M1141.8 440.4h1.4M1143.1 440.4h1.4M1144.4 440.4h1.4M1145.7 440.4h1.4M1139.2 442h1.4M1140.5 442h1.4M1141.8 442h1.4M1143.1 442h1.4M1144.4 442h1.4M1080.4 443.5h1.4M1137.9 443.5h1.4M1141.8 443.5h1.4M1143.1 443.5h1.4M1136.6 445h1.4M1140.5 445h1.4M1143.1 445h1.4M1137.9 446.5h1.4M1139.2 446.5h1.4M1140.5 446.5h1.4M1141.8 446.5h1.4M1143.1 446.5h1.4M1137.9 448.1h1.4M1139.2 448.1h1.4M1140.5 448.1h1.4M1141.8 448.1h1.4M1132.7 449.6h1.4M1137.9 449.6h1.4M1139.2 449.6h1.4M1140.5 449.6h1.4M1141.8 449.6h1.4M1143.1 449.6h1.4M1144.4 449.6h1.4M1136.6 451.1h1.4M1137.9 451.1h1.4M1139.2 451.1h1.4M1140.5 451.1h1.4M1141.8 451.1h1.4M1143.1 451.1h1.4M1135.3 452.6h1.4M1137.9 452.6h1.4M1139.2 452.6h1.4M1140.5 452.6h1.4M1141.8 452.6h1.4M1143.1 452.6h1.4M1137.9 454.1h1.4M1139.2 454.1h1.4M1140.5 454.1h1.4M1109.2 455.7h1.4M1132.7 455.7h1.4M1136.6 455.7h1.4M1137.9 455.7h1.4M1139.2 455.7h1.4M1140.5 455.7h1.4M1135.3 457.2h1.4M1136.6 457.2h1.4M1137.9 457.2h1.4M1139.2 457.2h1.4M1141.8 457.2h1.4M1135.3 458.7h1.4M1136.6 458.7h1.4M1137.9 458.7h1.4M1139.2 458.7h1.4M1140.5 458.7h1.4M1141.8 458.7h1.4M1131.4 460.2h1.4M1135.3 460.2h1.4M1136.6 460.2h1.4M1137.9 460.2h1.4M1139.2 460.2h1.4M1140.5 460.2h1.4M1141.8 460.2h1.4M1103.9 461.8h1.4M1128.8 461.8h1.4M1130.1 461.8h1.4M1131.4 461.8h1.4M1134 461.8h1.4M1137.9 461.8h1.4M1139.2 461.8h1.4M1140.5 461.8h1.4M1143.1 461.8h1.4M1127.4 463.3h1.4M1128.8 463.3h1.4M1131.4 463.3h1.4M1132.7 463.3h1.4M1134 463.3h1.4M1135.3 463.3h1.4M1136.6 463.3h1.4M1137.9 463.3h1.4M1139.2 463.3h1.4M1119.6 464.8h1.4M1128.8 464.8h1.4M1130.1 464.8h1.4M1131.4 464.8h1.4M1132.7 464.8h1.4M1134 464.8h1.4M1135.3 464.8h1.4M1136.6 464.8h1.4M1137.9 464.8h1.4M1139.2 464.8h1.4M1140.5 464.8h1.4M1141.8 464.8h1.4M1127.4 466.3h1.4M1128.8 466.3h1.4M1130.1 466.3h1.4M1131.4 466.3h1.4M1132.7 466.3h1.4M1134 466.3h1.4M1135.3 466.3h1.4M1137.9 466.3h1.4M1139.2 466.3h1.4M1128.8 467.8h1.4M1130.1 467.8h1.4M1131.4 467.8h1.4M1132.7 467.8h1.4M1134 467.8h1.4M1135.3 467.8h1.4M1136.6 467.8h1.4M1137.9 467.8h1.4M1127.4 469.4h1.4M1128.8 469.4h1.4M1130.1 469.4h1.4M1131.4 469.4h1.4M1132.7 469.4h1.4M1134 469.4h1.4M1135.3 469.4h1.4M1136.6 469.4h1.4M1137.9 469.4h1.4M1124.8 470.9h1.4M1128.8 470.9h1.4M1131.4 470.9h1.4M1134 470.9h1.4M1135.3 470.9h1.4M1136.6 470.9h1.4M1139.2 470.9h1.4M1127.4 472.4h1.4M1128.8 472.4h1.4M1130.1 472.4h1.4M1131.4 472.4h1.4M1132.7 472.4h1.4M1134 472.4h1.4M1135.3 472.4h1.4M1136.6 472.4h1.4M1117 473.9h1.4M1127.4 473.9h1.4M1128.8 473.9h1.4M1131.4 473.9h1.4M1132.7 473.9h1.4M1134 473.9h1.4M1127.4 475.5h1.4M1130.1 475.5h1.4M1132.7 475.5h1.4M1134 475.5h1.4M1136.6 475.5h1.4M1126.1 477h1.4M1127.4 477h1.4M1128.8 477h1.4M1130.1 477h1.4M1131.4 477h1.4M1132.7 477h1.4M1124.8 478.5h1.4M1126.1 478.5h1.4M1127.4 478.5h1.4M1128.8 478.5h1.4M1130.1 478.5h1.4M1131.4 478.5h1.4M1135.3 478.5h1.4M1119.6 480h1.4M1124.8 480h1.4M1126.1 480h1.4M1128.8 480h1.4M1117 481.5h1.4M1119.6 481.5h1.4M1120.9 481.5h1.4M1122.2 481.5h1.4M1123.5 481.5h1.4M1126.1 481.5h1.4M1127.4 481.5h1.4M1128.8 481.5h1.4M1114.4 483.1h1.4M1117 483.1h1.4M1119.6 483.1h1.4M1120.9 483.1h1.4M1122.2 483.1h1.4M1124.8 483.1h1.4M1127.4 483.1h1.4M1114.4 484.6h1.4M1115.7 484.6h1.4M1117 484.6h1.4M1118.3 484.6h1.4M1119.6 484.6h1.4M1120.9 484.6h1.4M1123.5 484.6h1.4M1093.5 486.1h1.4M1111.8 486.1h1.4M1113.1 486.1h1.4M1114.4 486.1h1.4M1115.7 486.1h1.4M1117 486.1h1.4M1118.3 486.1h1.4M1119.6 486.1h1.4M1120.9 486.1h1.4M1122.2 486.1h1.4M1124.8 486.1h1.4M1110.5 487.6h1.4M1111.8 487.6h1.4M1113.1 487.6h1.4M1114.4 487.6h1.4M1115.7 487.6h1.4M1117 487.6h1.4M1118.3 487.6h1.4M1090.9 489.2h1.4M1103.9 489.2h1.4M1105.2 489.2h1.4M1106.5 489.2h1.4M1107.9 489.2h1.4M1109.2 489.2h1.4M1111.8 489.2h1.4M1113.1 489.2h1.4M1101.3 490.7h1.4M1102.6 490.7h1.4M1103.9 490.7h1.4M1106.5 490.7h1.4M1107.9 490.7h1.4M1109.2 490.7h1.4M1110.5 490.7h1.4M1111.8 490.7h1.4M1085.7 492.2h1.4M1094.8 492.2h1.4M1097.4 492.2h1.4M1098.7 492.2h1.4M1100 492.2h1.4M1101.3 492.2h1.4M1102.6 492.2h1.4M1105.2 492.2h1.4M1106.5 492.2h1.4M1107.9 492.2h1.4M1109.2 492.2h1.4M1111.8 492.2h1.4M1084.3 493.7h1.4M1088.3 493.7h1.4M1090.9 493.7h1.4M1092.2 493.7h1.4M1093.5 493.7h1.4M1094.8 493.7h1.4M1096.1 493.7h1.4M1097.4 493.7h1.4M1098.7 493.7h1.4M1100 493.7h1.4M1101.3 493.7h1.4M1102.6 493.7h1.4M1103.9 493.7h1.4M1105.2 493.7h1.4M1109.2 493.7h1.4M1072.6 495.2h1.4M1083 495.2h1.4M1085.7 495.2h1.4M1088.3 495.2h1.4M1089.6 495.2h1.4M1090.9 495.2h1.4M1092.2 495.2h1.4M1093.5 495.2h1.4M1096.1 495.2h1.4M1098.7 495.2h1.4M1100 495.2h1.4M1101.3 495.2h1.4M1071.3 496.8h1.4M1081.7 496.8h1.4M1083 496.8h1.4M1084.3 496.8h1.4M1085.7 496.8h1.4M1087 496.8h1.4M1088.3 496.8h1.4M1089.6 496.8h1.4M1092.2 496.8h1.4M1093.5 496.8h1.4M1094.8 496.8h1.4M1096.1 496.8h1.4M1097.4 496.8h1.4M1067.4 498.3h1.4M1072.6 498.3h1.4M1073.9 498.3h1.4M1075.2 498.3h1.4M1077.8 498.3h1.4M1079.1 498.3h1.4M1080.4 498.3h1.4M1081.7 498.3h1.4M1083 498.3h1.4M1084.3 498.3h1.4M1085.7 498.3h1.4M1087 498.3h1.4M1088.3 498.3h1.4M1090.9 498.3h1.4M1068.7 499.8h1.4M1070 499.8h1.4M1071.3 499.8h1.4M1072.6 499.8h1.4M1073.9 499.8h1.4M1075.2 499.8h1.4M1076.5 499.8h1.4M1077.8 499.8h1.4M1079.1 499.8h1.4M1080.4 499.8h1.4M1081.7 499.8h1.4M1083 499.8h1.4M1084.3 499.8h1.4M1085.7 499.8h1.4M1088.3 499.8h1.4M1070 501.3h1.4M1071.3 501.3h1.4M1072.6 501.3h1.4M1073.9 501.3h1.4M1077.8 501.3h1.4M1079.1 501.3h1.4M1058.2 502.9h1.4M1059.5 502.9h1.4M1060.8 502.9h1.4M1063.5 502.9h1.4M1067.4 502.9h1.4M1073.9 502.9h1.4M1064.8 504.4h1.4M1077.8 504.4h1.4M1062.1 507.4h1.4M1067.4 507.4h1.4" stroke="#ff0030" stroke-width="1.6" fill="none"/>
<path d="M1265.2 90.1h1.4M1285.8 91h1.4M1286.7 91.3h1.4M1285.7 113.4h1.4M1263.9 115.2h1.4M1264 116h1.4M1285.7 116.5h1.4M1285.7 119.5h1.4M1285.7 122.6h1.4M1265 123.2h1.4M1285.8 123.7h1.4M1285.7 125.6h1.4M1265.2 138.7h1.4M1286.7 142.6h1.4M1286 149.3h1.4M1265.3 150.4h1.4M1265.6 184.2h1.4M1264.5 196.3h1.4M1267 198.6h1.4M1267 201.6h1.4M1285.5 204.7h1.4M1264.2 215.5h1.4M1264.2 218.6h1.4M1264.2 221.6h1.4M1264.2 224.7h1.4M1262.1 225.5h1.4M1285.6 227h1.4M1266.9 239h1.4M1266.9 242h1.4M1265.2 242.2h1.4M1266.9 245.1h1.4M1265.3 247.2h1.4M1266.9 248.1h1.4M1265.3 250.3h1.4M1266.9 251.2h1.4M1265.3 253.3h1.4M1265.3 256.4h1.4M1286 272.6h1.4M1264.5 273.2h1.4M1286.2 288.1h1.4M1265 294.6h1.4M1284.5 305.3h1.4M1286.8 306.6h1.4M1267.6 323.8h1.4M1267.8 332.7h1.4M1285 337.8h1.4M1285 340.9h1.4M1285 343.9h1.4M1285.4 344.7h1.4M1267.2 345.7h1.4M1285 347h1.4M1264.1 347.3h1.4M1285.4 347.7h1.4M1267.2 348.7h1.4M1285 350h1.4M1285.4 350.8h1.4M1267.2 351.8h1.4M1285.4 353.8h1.4M1267.2 354.8h1.4M1285.4 356.9h1.4M1267.2 357.9h1.4M1261.8 358.6h1.4M1285.3 358.9h1.4M1265.3 372.3h1.4M1286 374.6h1.4M1286.7 375.5h1.4M1286.5 376.7h1.4M1285.1 377.7h1.4M1286.7 378.6h1.4M1285.6 379.9h1.4M1286.7 381.6h1.4M1285.6 382.9h1.4M1286.7 384.7h1.4M1285.6 386h1.4M1264.5 388.6h1.4M1285.6 389h1.4M1261.6 394.6h1.4M1261.6 397.6h1.4M1265.6 398.7h1.4M1261.6 400.7h1.4M1265.6 401.7h1.4M1285 403.5h1.4M1261.6 403.7h1.4M1263.7 406.1h1.4M1261.6 406.8h1.4M1263.7 409.2h1.4M1263.7 412.2h1.4M1263.7 415.3h1.4M1285.7 416.6h1.4M1285.7 419.6h1.4M1285.7 422.7h1.4M1286.6 423.5h1.4M1285.3 427.7h1.4M1263.8 427.7h1.4M1263.2 429.3h1.4M1285.3 430.8h1.4M1265.2 431.4h1.4M1263.2 432.3h1.4M1285.3 433.8h1.4M1264.6 434.6h1.4M1263.2 435.4h1.4M1285.3 436.9h1.4M1264.5 438.1h1.4M1263.2 438.4h1.4M1285.3 439.9h1.4M1264.5 441.1h1.4M1263.2 441.5h1.4M1264.5 444.2h1.4M1287 445.9h1.4M1286.6 446.2h1.4M1286.1 446.9h1.4M1264.5 447.2h1.4M1285.6 447.6h1.4M1287 448.9h1.4M1264.4 449.4h1.4M1285.6 450.7h1.4M1285.6 453.7h1.4M1285.3 456.1h1.4M1285.6 456.8h1.4M1285.6 459.8h1.4M1267.6 465.8h1.4M1264.7 472h1.4M1264.9 474.3h1.4M1285.4 479.7h1.4M1285.2 480h1.4M1285.8 480.6h1.4M1285.4 482.8h1.4M1285.7 483.3h1.4M1285.8 483.6h1.4M1285.4 485.8h1.4M1285.7 486.3h1.4M1285.8 486.7h1.4M1285.8 489.7h1.4M1289.4 490.3h1.4M1264.5 491.4h1.4M1285.8 492.8h1.4M1264.5 494.5h1.4M1261.9 499.4h1.4M1266.1 501.8h1.4M1261.9 502.5h1.4M1263.6 503h1.4M1261.9 505.5h1.4M1261.9 508.6h1.4M1261.9 511.6h1.4M1285.1 520.3h1.4M1285.1 523.4h1.4M1285 524.2h1.4M1285.1 526.4h1.4M1284.9 526.9h1.4M1285.1 529.5h1.4M1284.9 530h1.4M1261.8 531.5h1.4M1285.1 532.5h1.4M1284.9 533h1.4M1261.8 534.6h1.4M1284.9 536.1h1.4M1284.9 539.1h1.4M1261.8 543.1h1.4M1286.1 549.5h1.4M1287.6 555.5h1.4M1287.6 558.6h1.4M1286 559h1.4M1266.5 561.4h1.4M1287.6 561.6h1.4M1286 562h1.4M1264.2 562.2h1.4M1287.6 564.7h1.4M1286.1 573.9h1.4M1285.7 581.7h1.4M1261.8 582.8h1.4" stroke="#ff0030" stroke-width="1.4" fill="none"/>
<path d="M1284 92.7h1.6M1284.1 104.9h1.6M1284.1 162.4h1.6M1284.4 188.7h1.6M1284.5 194.5h1.6M1284.5 197.8h1.6M1284.8 253.3h1.6M1284.3 333h1.6M1284.4 375.3h1.6M1283.7 477.5h1.6M1283.8 555.5h1.6" stroke="#ff0030" stroke-width="1.6" fill="none"/>
<path d="M1284.4 86.8h1.7M1264.1 88.5h1.7M1286.6 89.3h1.7M1264.1 91.6h1.7M1285.8 93.4h1.7M1264.1 94.6h1.7M1285.8 96.5h1.7M1264.1 97.7h1.7M1264.1 100.7h1.7M1268.8 102.7h1.7M1286.5 104.5h1.7M1284.6 110.3h1.7M1285.5 113.9h1.7M1263.4 117.9h1.7M1286.2 128.5h1.7M1286.2 131.5h1.7M1286.2 131.9h1.7M1286.2 134.6h1.7M1286.2 135h1.7M1286.2 137.6h1.7M1286.2 138h1.7M1286.2 140.7h1.7M1264.4 153.9h1.7M1264.1 154.9h1.7M1264.7 155.5h1.7M1286.2 155.8h1.7M1264.1 158h1.7M1264.7 158.6h1.7M1286.3 159.2h1.7M1264.7 161.6h1.7M1264.7 164.7h1.7M1286.6 171.5h1.7M1285.8 172.1h1.7M1286.2 174h1.7M1286.6 174.6h1.7M1285.8 175.2h1.7M1286.2 177.1h1.7M1286.2 180.1h1.7M1286.6 189.4h1.7M1287.6 192h1.7M1286.6 192.5h1.7M1286.1 194.3h1.7M1265.5 196.6h1.7M1284.5 198.8h1.7M1268.1 199.6h1.7M1268.1 202.6h1.7M1268.1 205.7h1.7M1286.4 206.9h1.7M1268.1 208.7h1.7M1267.5 209.9h1.7M1286.4 209.9h1.7M1285.8 209.9h1.7M1267.5 212.9h1.7M1286.4 213h1.7M1267.5 216h1.7M1286.4 216h1.7M1264.5 218.4h1.7M1286.4 219.1h1.7M1285 227.3h1.7M1285.5 230.1h1.7M1285 230.4h1.7M1263.3 230.9h1.7M1284.9 232.3h1.7M1285.3 233h1.7M1285 233.4h1.7M1285.3 236h1.7M1285 236.5h1.7M1285.3 239.1h1.7M1285 239.5h1.7M1285.6 241h1.7M1285.3 242.1h1.7M1267.3 243.2h1.7M1285.6 244.1h1.7M1285.3 245.2h1.7M1285.6 247.1h1.7M1265.3 248.5h1.7M1285.6 250.2h1.7M1264.4 252.1h1.7M1285.6 253.2h1.7M1266 254.4h1.7M1264.4 255.1h1.7M1286.2 260.9h1.7M1264.7 267.9h1.7M1264.7 271h1.7M1287.1 273.9h1.7M1264.7 274h1.7M1287.1 277h1.7M1264.6 280h1.7M1287.1 280h1.7M1264.6 283.1h1.7M1287.1 283.1h1.7M1264.6 286.1h1.7M1287.1 286.1h1.7M1284 286.5h1.7M1266.1 286.6h1.7M1264.6 289.2h1.7M1266.1 289.7h1.7M1264.6 292.2h1.7M1266.1 292.7h1.7M1286.3 304h1.7M1286 308.1h1.7M1284.8 310.9h1.7M1284.8 313.4h1.7M1284.8 314h1.7M1284.8 317h1.7M1284.8 320.1h1.7M1266 323h1.7M1266 326.1h1.7M1266 329.1h1.7M1286 333.7h1.7M1285.6 339h1.7M1264.6 340.1h1.7M1264.6 342.4h1.7M1286.2 344.2h1.7M1261.5 356.8h1.7M1265.5 359.9h1.7M1285.2 372h1.7M1285.6 375.2h1.7M1285.4 380.1h1.7M1264.1 380.6h1.7M1285.3 387.3h1.7M1285.3 390.3h1.7M1285.3 393.4h1.7M1264.5 394.6h1.7M1285.3 396.4h1.7M1265.2 397.5h1.7M1285.3 399.5h1.7M1265.2 400.6h1.7M1262.8 401.5h1.7M1265.2 403.6h1.7M1286.4 405h1.7M1265.2 406.7h1.7M1284.5 409.9h1.7M1285 415.7h1.7M1285.9 422.8h1.7M1285.9 425.9h1.7M1284.7 426.5h1.7M1285.9 428.9h1.7M1264.5 429.8h1.7M1284.7 430.3h1.7M1285.9 432h1.7M1284.7 433.3h1.7M1264.9 433.7h1.7M1265.8 435.9h1.7M1284.7 436.4h1.7M1265.8 439h1.7M1284.7 439.4h1.7M1265.8 442h1.7M1284.7 442.5h1.7M1265.8 445.1h1.7M1264.4 445.9h1.7M1265.8 448.1h1.7M1261.8 451.3h1.7M1285.4 454.9h1.7M1285.4 458h1.7M1266.6 458.9h1.7M1285.4 461h1.7M1285.7 465.8h1.7M1285.3 467.7h1.7M1285.7 468.8h1.7M1264.2 469.9h1.7M1285.7 471.9h1.7M1285.4 472h1.7M1267.2 473.5h1.7M1285.4 474.7h1.7M1285.7 474.9h1.7M1265.8 479.5h1.7M1286.3 480.3h1.7M1260.8 486h1.7M1286.2 503.1h1.7M1264.1 503.3h1.7M1264.2 520.2h1.7M1286.4 520.4h1.7M1286.4 523.4h1.7M1263 525.8h1.7M1286.4 526.5h1.7M1286.4 529.5h1.7M1285.5 537.5h1.7M1285.9 539.1h1.7M1265.6 547.1h1.7M1286.7 549.8h1.7M1286.7 556.2h1.7M1285.9 558.6h1.7M1265.1 559.3h1.7M1285.9 561.6h1.7M1285.3 562.3h1.7M1265.1 562.3h1.7M1267.1 563.5h1.7M1285.9 564.7h1.7M1265.1 565.4h1.7M1285.9 567.7h1.7M1265.1 568.4h1.7M1285.9 570.8h1.7M1264.3 573.4h1.7M1264.3 577.8h1.7M1260.5 580.5h1.7" stroke="#ff0030" stroke-width="1.7" fill="none"/>
<path d="M1502.5 104.3h1.9M1347.2 230h1.9M1312.7 369.9h1.9M1482.6 384.5h1.9M1377.8 446.8h1.9M1353.8 452.8h1.9M1486.3 563.4h1.9" stroke="#ff0030" stroke-width="1.9" fill="none"/>
<path d="M1264.5 92.1h2M1286.1 100.1h2M1286.1 103.2h2M1286.1 106.2h2M1286.1 109.3h2M1284.7 114.1h2M1286.5 115.9h2M1264.2 117.7h2M1286.5 118.9h2M1265.7 127.2h2M1285 129.3h2M1265.7 130.3h2M1264.4 158.5h2M1286.6 163.6h2M1285.6 165.7h2M1286.6 166.7h2M1285.6 168.8h2M1285 168.9h2M1286.6 169.7h2M1285.6 171.8h2M1285 172h2M1286.4 174.7h2M1285 175h2M1264.4 177.5h2M1286.4 177.8h2M1286.4 180.8h2M1285.3 181.3h2M1287 182.7h2M1286.4 183.9h2M1285.3 184.4h2M1264.4 192.5h2M1286.5 197.9h2M1285.6 200.3h2M1264.5 202.8h2M1285.1 203.1h2M1264.5 205.9h2M1264.5 208.9h2M1266 218.1h2M1263.8 219.4h2M1263.8 222.4h2M1265.8 223.5h2M1263.8 225.5h2M1263.8 228.5h2M1263.8 231.6h2M1284.5 232.8h2M1265.4 244.9h2M1265.4 248h2M1264.9 250.7h2M1268.2 259.2h2M1268.2 262.3h2M1268.2 265.3h2M1285.9 266.6h2M1264.1 267.6h2M1268.2 268.4h2M1285.9 269.7h2M1286 290.3h2M1267.5 292.1h2M1286 293.4h2M1267.5 295.1h2M1267.5 298.2h2M1267.5 301.2h2M1264.9 301.4h2M1286.2 301.8h2M1265.4 303h2M1267.5 304.3h2M1286.2 304.8h2M1285.8 307.3h2M1268 307.8h2M1286.2 307.9h2M1265.2 309.9h2M1285.2 310.2h2M1283.9 323.1h2M1285.6 325.1h2M1283.9 326.2h2M1267 328.2h2M1283.9 329.2h2M1283.9 332.3h2M1262.2 345.4h2M1264.8 346.7h2M1285.3 373.2h2M1266.8 377.5h2M1267 382.9h2M1267 385.9h2M1285.5 387.5h2M1265 388.3h2M1264.8 388.3h2M1264.2 390.5h2M1265 391.3h2M1264.2 399.9h2M1264.7 402.3h2M1287 402.4h2M1285.5 407.3h2M1286.4 409h2M1267.2 411.1h2M1285.2 421h2M1286.7 421.6h2M1264.3 423.4h2M1285.2 424h2M1286.7 424.7h2M1286.7 427.7h2M1263.2 449.6h2M1272.9 451.9h2M1285.1 452.5h2M1285.1 455.5h2M1285.9 457.4h2M1264.8 464.2h2M1264.8 467.2h2M1282.1 470.1h2M1265.1 473h2M1262.3 473.4h2M1284.8 474.3h2M1284.8 475.4h2M1265 489.3h2M1265 492.3h2M1285.8 492.6h2M1265 495.4h2M1265 498.4h2M1262 501.4h2M1265 501.5h2M1285.9 505h2M1285.9 508h2M1266.9 510h2M1285.9 511.1h2M1267 511.2h2M1266.6 523.2h2M1263.4 524.2h2M1263.9 529.7h2M1284.2 532.5h2M1263.9 532.7h2M1284.2 535.6h2M1284.2 538.6h2M1261.1 540.5h2M1284.2 541.7h2M1262.7 543.1h2M1267.2 543.5h2M1261.1 543.6h2M1267.2 546.5h2M1261.1 546.6h2M1267.2 549.6h2M1261.1 549.7h2M1285.5 551.9h2M1259.7 552.6h2M1267.2 552.6h2M1261.1 552.7h2M1286.2 554.9h2M1266.3 555.3h2M1267.2 555.7h2M1263.9 556.5h2M1263.9 559.6h2M1261 560.9h2M1263.5 566.2h2M1265.4 568.2h2M1266 574h2M1285.6 578.8h2M1285 579.9h2" stroke="#ff0030" stroke-width="2" fill="none"/>
<path d="M1501.7 96.7h2.2M1447.6 381.6h2.2" stroke="#ff0030" stroke-width="2.2" fill="none"/>
<path d="M1406.1 202.7h2.4M1390.7 291.3h2.4M1400 376h2.4M1466.4 438.7h2.4M1340.5 472.3h2.4M1487.4 549.2h2.4M1487.4 552.2h2.4M1484.1 581.3h2.4" stroke="#ff0030" stroke-width="2.4" fill="none"/>
<path d="M1105.3 538.1h1.3M1105.5 538.3h1.3" stroke="#f8b8b0" stroke-width="1.3" fill="none"/>
<path d="M1203.2 201.5h1.4M1211 206.1h1.4M1216.3 206.1h1.4M1208.4 207.6h1.4M1211 207.6h1.4M1212.3 207.6h1.4M1213.6 207.6h1.4M1207.1 209.1h1.4M1208.4 209.1h1.4M1209.7 209.1h1.4M1211 209.1h1.4M1212.3 209.1h1.4M1214.9 209.1h1.4M1208.4 210.6h1.4M1209.7 210.6h1.4M1211 210.6h1.4M1205.8 212.1h1.4M1207.1 212.1h1.4M1208.4 212.1h1.4M1211 212.1h1.4M1204.5 213.7h1.4M1205.8 213.7h1.4M1207.1 213.7h1.4M1203.2 215.2h1.4M1205.8 215.2h1.4M1207.1 215.2h1.4M1209.7 215.2h1.4M1199.3 216.7h1.4M1201.9 216.7h1.4M1203.2 216.7h1.4M1204.5 216.7h1.4M1207.1 216.7h1.4M1201.9 218.2h1.4M1203.2 218.2h1.4M1204.5 218.2h1.4M1205.8 218.2h1.4M1203.2 219.8h1.4M1201.9 221.3h1.4M1203.2 221.3h1.4M1204.5 221.3h1.4M1200.6 222.8h1.4M1201.9 222.8h1.4M1203.2 222.8h1.4M1204.5 222.8h1.4M1205.8 222.8h1.4M1201.9 224.3h1.4M1204.5 224.3h1.4M1199.3 225.8h1.4M1201.9 225.8h1.4M1203.2 225.8h1.4M1198 227.4h1.4M1200.6 227.4h1.4M1203.2 227.4h1.4M1198 228.9h1.4M1194.1 231.9h1.4M1196.7 231.9h1.4M1198 231.9h1.4M1192.7 233.5h1.4M1194.1 233.5h1.4M1194.1 235h1.4M1194.1 238h1.4" stroke="#f8b8b0" stroke-width="1.6" fill="none"/>
<path d="M1232 328.8h1.9M1250.2 343.7h1.9M1205.5 394.4h1.9M1207.3 533.1h1.9" stroke="#f8b8b0" stroke-width="1.9" fill="none"/>
<path d="M1536.2 317.1h2.2M1524.7 534.4h2.2" stroke="#f8b8b0" stroke-width="2.2" fill="none"/>
<path d="M1243.8 98.7h2.4M1427.3 206.9h2.4M1243.5 304.1h2.4M1439.1 316h2.4M1243.9 486.9h2.4M1204 489.2h2.4M1493.9 503.3h2.4M1353 518.5h2.4M1401 521.5h2.4M1219.5 533.2h2.4" stroke="#f8b8b0" stroke-width="2.4" fill="none"/>
<path d="M1127.6 120.8h1M1130.2 120.8h1M1164.2 126.9h1M1140.7 142.1h1M1143.3 218.2h1M1179.9 230.4h1M1179.9 233.5h1M1169.4 236.5h1M1179.9 236.5h1M1153.7 239.5h1M1135.5 242.6h1M1138.1 242.6h1M1135.5 245.6h1M1159 248.7h1M1135.5 251.7h1M1145.9 251.7h1M1177.2 251.7h1M1127.6 254.8h1M1172 254.8h1M1140.7 257.8h1M1114.6 260.9h1M1143.3 263.9h1M1156.4 263.9h1M1122.4 266.9h1M1138.1 266.9h1M1182.5 266.9h1M1114.6 270h1M1130.2 270h1M1132.8 270h1M1135.5 270h1M1132.8 273h1M1132.8 279.1h1M1135.5 282.2h1M1140.7 282.2h1M1159 282.2h1M1159 285.2h1M1138.1 288.2h1M1140.7 288.2h1M1080.6 291.3h1M1130.2 294.3h1M1172 294.3h1M1117.2 297.4h1M1161.6 306.5h1M1156.4 315.6h1M1174.6 315.6h1M1127.6 321.7h1M1135.5 321.7h1M1151.1 324.8h1M1080.6 370.4h1M1111.9 379.6h1M1104.1 382.6h1M1138.1 400.9h1M1138.1 422.2h1M1098.9 434.4h1M1104.1 437.4h1M1156.4 437.4h1M1091.1 440.4h1M1101.5 446.5h1M1172 452.6h1M1135.5 461.8h1M1174.6 477h1M1070.2 492.2h1M1104.1 492.2h1M1119.8 501.3h1" stroke="#b000a0" stroke-width="1.2" fill="none"/>
<path d="M1164.1 123.9h1.2M1132.7 133h1.2M1161.5 133h1.2M1122.3 145.2h1.2M1111.8 151.3h1.2M1174.5 230.4h1.2M1135.4 239.5h1.2M1138 239.5h1.2M1174.5 239.5h1.2M1140.6 242.6h1.2M1138 248.7h1.2M1130.1 251.7h1.2M1153.6 254.8h1.2M1169.3 254.8h1.2M1111.8 257.8h1.2M1143.2 257.8h1.2M1127.5 260.9h1.2M1117.1 263.9h1.2M1179.8 263.9h1.2M1143.2 266.9h1.2M1185 270h1.2M1135.4 273h1.2M1174.5 276.1h1.2M1119.7 279.1h1.2M1106.6 282.2h1.2M1122.3 282.2h1.2M1106.6 285.2h1.2M1148.4 285.2h1.2M1109.2 288.2h1.2M1114.5 288.2h1.2M1119.7 288.2h1.2M1148.4 288.2h1.2M1177.1 288.2h1.2M1140.6 291.3h1.2M1151 291.3h1.2M1104 294.3h1.2M1174.5 294.3h1.2M1070.1 297.4h1.2M1164.1 303.5h1.2M1135.4 309.6h1.2M1138 309.6h1.2M1119.7 312.6h1.2M1132.7 315.6h1.2M1114.5 321.7h1.2M1132.7 324.8h1.2M1111.8 343h1.2M1145.8 343h1.2M1106.6 355.2h1.2M1098.8 358.3h1.2M1114.5 403.9h1.2M1114.5 410h1.2M1070.1 413.1h1.2M1122.3 413.1h1.2M1148.4 413.1h1.2M1119.7 416.1h1.2M1117.1 419.1h1.2M1132.7 422.2h1.2M1083.1 443.5h1.2M1132.7 446.5h1.2M1145.8 458.7h1.2M1124.9 473.9h1.2M1179.8 473.9h1.2M1127.5 486.1h1.2M1098.8 489.2h1.2M1101.4 489.2h1.2M1127.5 489.2h1.2M1075.3 492.2h1.2M1101.4 507.4h1.2" stroke="#b000a0" stroke-width="1.4" fill="none"/>
<path d="M1105.5 540.8h1.3M1105.8 541.2h1.3M1066.1 577.8h1.3" stroke="#b000a0" stroke-width="1.3" fill="none"/>
<path d="M1164 120.8h1.4M1161.4 123.9h1.4M1164 130h1.4M1124.8 133h1.4M1158.8 133h1.4M1158.8 136h1.4M1130.1 139.1h1.4M1111.8 145.2h1.4M1161.4 145.2h1.4M1109.2 151.3h1.4M1161.4 221.3h1.4M1151 224.3h1.4M1171.8 224.3h1.4M1158.8 230.4h1.4M1166.6 230.4h1.4M1171.8 230.4h1.4M1145.7 239.5h1.4M1143.1 242.6h1.4M1145.7 242.6h1.4M1179.7 242.6h1.4M1140.5 245.6h1.4M1130.1 248.7h1.4M1132.7 248.7h1.4M1145.7 248.7h1.4M1158.8 251.7h1.4M1143.1 254.8h1.4M1156.2 254.8h1.4M1161.4 254.8h1.4M1179.7 254.8h1.4M1153.6 257.8h1.4M1124.8 260.9h1.4M1140.5 260.9h1.4M1124.8 263.9h1.4M1130.1 263.9h1.4M1161.4 263.9h1.4M1164 263.9h1.4M1184.9 266.9h1.4M1119.6 270h1.4M1127.4 270h1.4M1153.6 270h1.4M1179.7 270h1.4M1130.1 273h1.4M1137.9 273h1.4M1111.8 276.1h1.4M1130.1 276.1h1.4M1132.7 276.1h1.4M1140.5 276.1h1.4M1143.1 276.1h1.4M1130.1 279.1h1.4M1135.3 279.1h1.4M1140.5 279.1h1.4M1153.6 279.1h1.4M1177.1 279.1h1.4M1130.1 282.2h1.4M1137.9 282.2h1.4M1072.6 285.2h1.4M1117 285.2h1.4M1127.4 285.2h1.4M1135.3 285.2h1.4M1140.5 285.2h1.4M1143.1 285.2h1.4M1156.2 285.2h1.4M1177.1 285.2h1.4M1132.7 288.2h1.4M1114.4 291.3h1.4M1119.6 291.3h1.4M1169.2 291.3h1.4M1096.1 294.3h1.4M1117 294.3h1.4M1067.4 297.4h1.4M1106.5 297.4h1.4M1114.4 297.4h1.4M1127.4 297.4h1.4M1072.6 300.4h1.4M1075.2 300.4h1.4M1077.8 300.4h1.4M1135.3 300.4h1.4M1137.9 300.4h1.4M1101.3 303.5h1.4M1106.5 303.5h1.4M1109.2 303.5h1.4M1111.8 303.5h1.4M1137.9 306.5h1.4M1114.4 309.6h1.4M1124.8 318.7h1.4M1132.7 318.7h1.4M1161.4 318.7h1.4M1119.6 321.7h1.4M1132.7 321.7h1.4M1153.6 321.7h1.4M1164 321.7h1.4M1124.8 330.9h1.4M1109.2 333.9h1.4M1117 333.9h1.4M1124.8 333.9h1.4M1156.2 333.9h1.4M1117 337h1.4M1119.6 340h1.4M1101.3 349.1h1.4M1101.3 355.2h1.4M1085.7 358.3h1.4M1077.8 361.3h1.4M1137.9 364.3h1.4M1083 370.4h1.4M1137.9 379.6h1.4M1140.5 388.7h1.4M1106.5 397.8h1.4M1141.8 400.9h1.4M1147 400.9h1.4M1141.8 402.4h1.4M1143.1 402.4h1.4M1075.2 403.9h1.4M1139.2 405.4h1.4M1147 405.4h1.4M1119.6 407h1.4M1140.5 407h1.4M1139.2 408.5h1.4M1067.4 410h1.4M1070 410h1.4M1109.2 410h1.4M1148.3 410h1.4M1145.7 411.5h1.4M1059.5 413.1h1.4M1083 413.1h1.4M1117 413.1h1.4M1144.4 414.6h1.4M1145.7 417.6h1.4M1070 419.1h1.4M1144.4 422.2h1.4M1137.9 423.7h1.4M1077.8 425.2h1.4M1085.7 425.2h1.4M1141.8 425.2h1.4M1141.8 426.8h1.4M1067.4 428.3h1.4M1141.8 432.8h1.4M1077.8 437.4h1.4M1093.5 437.4h1.4M1101.3 437.4h1.4M1145.7 437.4h1.4M1151 437.4h1.4M1161.4 443.5h1.4M1145.7 446.5h1.4M1156.2 449.6h1.4M1153.6 455.7h1.4M1164 455.7h1.4M1164 458.7h1.4M1158.8 464.8h1.4M1130.1 473.9h1.4M1128.8 475.5h1.4M1131.4 475.5h1.4M1137.9 477h1.4M1123.5 480h1.4M1127.4 480h1.4M1130.1 480h1.4M1124.8 481.5h1.4M1103.9 483.1h1.4M1123.5 483.1h1.4M1110.5 489.2h1.4M1105.2 490.7h1.4M1119.6 492.2h1.4M1094.8 495.2h1.4M1073.9 496.8h1.4M1090.9 496.8h1.4M1076.5 498.3h1.4M1089.6 498.3h1.4M1103.9 498.3h1.4M1087 499.8h1.4M1056.9 502.9h1.4M1060.8 504.4h1.4" stroke="#b000a0" stroke-width="1.6" fill="none"/>
<path d="M1276 100.1h1.4M1269.7 110h1.4M1269.4 165.7h1.4M1269.7 168.8h1.4M1269.2 197.9h1.4M1269.3 215.5h1.4M1268.8 218.5h1.4M1269.3 218.5h1.4M1270.2 222.9h1.4M1269.3 254.5h1.4M1269.3 257.6h1.4M1269.3 260.6h1.4M1270.1 302h1.4M1266.2 318.8h1.4M1270 319.8h1.4M1268.8 320.3h1.4M1266.2 321.9h1.4M1268.8 323.4h1.4M1266.2 324.9h1.4M1268.8 326.4h1.4M1270 326.7h1.4M1266.2 328h1.4M1266.9 329.4h1.4M1268.8 329.5h1.4M1266.2 331h1.4M1269.8 372h1.4M1268.1 373h1.4M1270.4 377.3h1.4M1268.8 409.7h1.4M1269.6 426.2h1.4M1268.9 426.5h1.4M1269.6 428.9h1.4M1269.6 429.2h1.4M1268.5 441.5h1.4M1268.5 449.1h1.4M1269.1 463h1.4M1270.2 465.7h1.4M1270.1 523.4h1.4M1270.1 526.5h1.4M1269.2 527.1h1.4M1270.1 529.5h1.4M1270.1 532.6h1.4M1277.3 550.6h1.4M1270.2 561.5h1.4M1270.2 564.5h1.4M1270.2 567.6h1.4M1269.5 567.9h1.4M1269.5 570.9h1.4M1269.5 574h1.4M1269.5 577h1.4M1269.5 580.1h1.4" stroke="#b000a0" stroke-width="1.4" fill="none"/>
<path d="M1067.7 526.8h1.6M1068.5 562.3h1.6" stroke="#b000a0" stroke-width="1.6" fill="none"/>
<path d="M1268.4 110.3h1.7M1269.3 112.6h1.7M1269.2 115.4h1.7M1269.2 118.5h1.7M1269.2 121.5h1.7M1269.4 132.7h1.7M1292.2 142.1h1.7M1270.2 201.3h1.7M1268.6 204.8h1.7M1269.9 248.5h1.7M1266.5 268.8h1.7M1266.5 271.9h1.7M1266.5 274.9h1.7M1266.5 278h1.7M1266.2 288.8h1.7M1269 347.2h1.7M1269 359.6h1.7M1266.3 363.2h1.7M1268.5 435.3h1.7M1268.5 438.3h1.7M1268.5 441.4h1.7M1266 465.3h1.7M1269.1 474.4h1.7M1269.5 500.3h1.7M1268.9 501.1h1.7M1268.9 504.1h1.7M1270.1 506.3h1.7M1269.4 525.8h1.7M1269.4 528.8h1.7M1269.4 531.9h1.7M1269.8 538.6h1.7M1269.2 539.1h1.7M1269.8 541.7h1.7M1269.8 544.7h1.7M1266.2 546.9h1.7M1269.8 547.8h1.7M1269.2 549.7h1.7M1268.5 577h1.7M1269.1 582.7h1.7" stroke="#b000a0" stroke-width="1.7" fill="none"/>
<path d="M1501.1 118.1h1.9M1344.5 121.3h1.9M1040.6 133.6h1.9M1344.8 139.7h1.9M1434.5 146.8h1.9M1344.1 168.3h1.9M1459.2 193h1.9M1344.1 199.5h1.9M1344.2 203.2h1.9M1391.8 223.3h1.9M1550.7 238.4h1.9M1344.9 282.6h1.9M1367.9 310.7h1.9M1441.8 321.3h1.9M1430.1 327.4h1.9M1430.1 330.5h1.9M1430.1 333.5h1.9M1404.5 335.1h1.9M1430.1 336.6h1.9M1214.7 338.3h1.9M1430.1 339.6h1.9M1473.9 363.1h1.9M1513 372h1.9M1428.5 374h1.9M1525.6 384.8h1.9M1465.6 395.9h1.9M1465.6 396.1h1.9M1465.6 399.1h1.9M1343.7 400h1.9M1465.6 402.2h1.9M1465.6 405.2h1.9M1465.2 407.3h1.9M1465.6 408.3h1.9M1343.8 430.3h1.9M1343.7 485.4h1.9M1495.6 489.1h1.9M1403.8 510.2h1.9M1403.8 513.2h1.9M1403.8 521.8h1.9M1404.5 538.6h1.9M1442.2 538.9h1.9M1442.2 541.9h1.9M1467 562.6h1.9M1460.2 565.6h1.9M1460.2 568.6h1.9M1460.2 571.7h1.9M1344.8 573.3h1.9M1460.2 574.7h1.9M1462.1 583h1.9" stroke="#b000a0" stroke-width="1.9" fill="none"/>
<path d="M1268.7 89.3h2M1268.9 109.7h2M1269 115.2h2M1268.9 126.2h2M1268.9 129.3h2M1268.9 132.3h2M1268.6 167.7h2M1265.8 194.4h2M1268.5 198.9h2M1268.2 220h2M1268.3 222.6h2M1284.5 241.3h2M1268.9 266.6h2M1286.4 274.8h2M1268.9 286.1h2M1266.6 306.4h2M1268.1 307.6h2M1266.8 310.5h2M1268.1 310.6h2M1268.1 313.7h2M1263.7 314.3h2M1268.1 316.7h2M1270.3 336.1h2M1268.5 344.4h2M1268.8 349.8h2M1267 353.4h2M1265.6 358h2M1265.6 361.1h2M1265.6 364.1h2M1265.6 367.2h2M1269.8 380.8h2M1268.1 381.7h2M1269.8 383.9h2M1270.4 385.1h2M1269.8 386.9h2M1070.1 407.6h2M1070.4 413.3h2M1267.3 415.1h2M1270.2 423.9h2M1070.1 424.8h2M1069.2 429.6h2M1268.8 440.5h2M1269.9 448.1h2M1269.7 459.5h2M1268.9 468h2M1269 483.3h2M1268.8 508.7h2M1269 524.8h2M1269.7 564.2h2M1269 564.7h2M1269.3 571.5h2M1276.4 583.5h2" stroke="#b000a0" stroke-width="2" fill="none"/>
<path d="M1383.8 115.9h2.2M1502.1 119.9h2.2M1398.5 199h2.2M1218.9 222.2h2.2M1231.5 238.9h2.2M1464.4 241.5h2.2M1427.4 248h2.2M1539.1 249.9h2.2M1427.4 251h2.2M1427.4 254.1h2.2M1429 254.7h2.2M1465 264.5h2.2M1464.8 266.9h2.2M1466 282h2.2M1464.4 289.8h2.2M1344.5 302.1h2.2M1460.6 303.4h2.2M1343.8 305.6h2.2M1343.8 308.6h2.2M1343.8 311.7h2.2M1427.6 324.7h2.2M1465.6 338.9h2.2M1369.8 342.8h2.2M1403.1 347.7h2.2M1464 348.6h2.2M1428.1 351.4h2.2M1464 351.7h2.2M1428.1 354.4h2.2M1402.9 360.6h2.2M1402.9 363.6h2.2M1402.9 366.7h2.2M1402.9 369.7h2.2M1429.4 370.2h2.2M1461.4 373h2.2M1343.8 381h2.2M1343.8 384.1h2.2M1402.7 399.5h2.2M1344.2 405.3h2.2M1440.6 406.7h2.2M1074.7 423.2h2.2M1344.3 431.5h2.2M1512.6 438.7h2.2M1465.3 453.3h2.2M1225.8 458h2.2M1410 466.6h2.2M1461.8 500.9h2.2M1307.6 527.5h2.2M1443.1 543.6h2.2M1443.1 546.7h2.2M1404.4 547.1h2.2M1443.1 549.7h2.2M1525.4 550.6h2.2M1443.1 552.8h2.2M1443.1 555.8h2.2M1163.5 557.4h2.2M1344 581h2.2" stroke="#b000a0" stroke-width="2.2" fill="none"/>
<path d="M1343.2 90.7h2.4M1394.2 97h2.4M1447 102.3h2.4M1502 102.9h2.4M1369.7 106.9h2.4M1249.9 132.2h2.4M1461.9 132.6h2.4M1248.7 132.7h2.4M1219.4 163.2h2.4M1344 169.2h2.4M1343.8 210.1h2.4M1426.5 260.4h2.4M1426.5 263.4h2.4M1465.8 265.7h2.4M1426.5 266.5h2.4M1426.5 269.5h2.4M1464 287h2.4M1466.3 287.8h2.4M1343.9 298.5h2.4M1343.8 322.9h2.4M1426.7 343h2.4M1426.7 346h2.4M1426.7 349.1h2.4M1426.7 352.1h2.4M1425.1 360.3h2.4M1501 364.6h2.4M1466 392.1h2.4M1466.8 404.9h2.4M1466.8 408h2.4M1404.9 427.7h2.4M1344.7 430.2h2.4M1054.6 441.9h2.4M1044.7 457.5h2.4M1466 476.3h2.4M1215.8 488.8h2.4M1402.8 503.7h2.4M1344 519.5h2.4M1344 522.6h2.4M1344 525.6h2.4M1243.7 526.5h2.4M1460.4 534.6h2.4M1464.7 536.6h2.4M1464.7 539.7h2.4M1464.7 542.7h2.4M1524.5 554.4h2.4M1524.5 557.5h2.4M1524.5 560.5h2.4M1524.5 563.6h2.4M1078.7 574.9h2.4M1403.7 581.1h2.4" stroke="#b000a0" stroke-width="2.4" fill="none"/>
<path d="M1159 139.1h1M1159 142.1h1M1164.2 142.1h1M1159 160.4h1M1164.2 163.4h1M1164.2 172.6h1M1148.5 187.8h1M1148.5 190.8h1M1151.1 190.8h1M1140.7 193.9h1M1145.9 196.9h1M1148.5 196.9h1M1151.1 196.9h1M1127.6 200h1M1130.2 203h1M1132.8 206.1h1M1177.2 233.5h1M1182.5 233.5h1M1166.8 236.5h1M1122.4 251.7h1M1182.5 251.7h1M1177.2 254.8h1M1185.1 263.9h1M1177.2 270h1M1159 273h1M1179.9 273h1M1179.9 279.1h1M1182.5 282.2h1M1172 285.2h1M1169.4 297.4h1M1174.6 297.4h1M1106.7 300.4h1M1166.8 300.4h1M1169.4 300.4h1M1172 300.4h1M1096.3 303.5h1M1166.8 309.6h1M1177.2 309.6h1M1161.6 312.6h1M1172 312.6h1M1169.4 315.6h1M1169.4 318.7h1M1145.9 327.8h1M1161.6 327.8h1M1143.3 330.9h1M1132.8 337h1M1156.4 337h1M1159 337h1M1153.7 340h1M1135.5 343h1M1130.2 346.1h1M1135.5 346.1h1M1143.3 346.1h1M1145.9 346.1h1M1148.5 346.1h1M1117.2 349.1h1M1119.8 349.1h1M1132.8 349.1h1M1138.1 349.1h1M1140.7 349.1h1M1127.6 352.2h1M1119.8 355.2h1M1106.7 358.3h1M1122.4 358.3h1M1104.1 361.3h1M1106.7 361.3h1M1111.9 361.3h1M1177.2 370.4h1M1111.9 385.7h1M1119.8 388.7h1M1182.5 391.7h1M1190.3 400.9h1M1119.8 410h1M1169.4 410h1M1169.4 413.1h1M1117.2 416.1h1M1190.3 416.1h1M1114.6 419.1h1M1114.6 422.2h1M1190.3 422.2h1M1192.9 425.2h1M1111.9 428.3h1M1169.4 428.3h1M1190.3 428.3h1M1088.4 431.3h1M1172 431.3h1M1096.3 434.4h1M1096.3 437.4h1M1161.6 437.4h1M1190.3 440.4h1M1179.9 446.5h1M1190.3 458.7h1M1161.6 461.8h1M1140.7 480h1M1135.5 486.1h1M1138.1 492.2h1M1151.1 492.2h1M1085.8 504.4h1" stroke="#80b868" stroke-width="1.2" fill="none"/>
<path d="M1161.5 130h1.2M1161.5 139.1h1.2M1158.9 157.4h1.2M1161.5 157.4h1.2M1161.5 163.4h1.2M1158.9 178.7h1.2M1143.2 184.8h1.2M1148.4 184.8h1.2M1135.4 187.8h1.2M1145.8 187.8h1.2M1153.6 187.8h1.2M1138 190.8h1.2M1140.6 190.8h1.2M1132.7 200h1.2M1138 200h1.2M1143.2 200h1.2M1140.6 203h1.2M1145.8 212.1h1.2M1164.1 218.2h1.2M1158.9 224.3h1.2M1182.4 239.5h1.2M1182.4 245.6h1.2M1182.4 248.7h1.2M1171.9 251.7h1.2M1158.9 254.8h1.2M1179.8 257.8h1.2M1119.7 266.9h1.2M1174.5 266.9h1.2M1174.5 270h1.2M1122.3 273h1.2M1124.9 276.1h1.2M1171.9 276.1h1.2M1179.8 276.1h1.2M1122.3 279.1h1.2M1171.9 279.1h1.2M1114.5 282.2h1.2M1174.5 282.2h1.2M1169.3 288.2h1.2M1179.8 291.3h1.2M1177.1 297.4h1.2M1177.1 300.4h1.2M1161.5 303.5h1.2M1166.7 303.5h1.2M1169.3 303.5h1.2M1171.9 306.5h1.2M1174.5 309.6h1.2M1158.9 315.6h1.2M1161.5 315.6h1.2M1158.9 318.7h1.2M1153.6 324.8h1.2M1158.9 324.8h1.2M1166.7 324.8h1.2M1164.1 330.9h1.2M1143.2 333.9h1.2M1145.8 333.9h1.2M1158.9 333.9h1.2M1161.5 333.9h1.2M1130.1 340h1.2M1138 340h1.2M1124.9 343h1.2M1140.6 343h1.2M1132.7 346.1h1.2M1138 346.1h1.2M1140.6 346.1h1.2M1127.5 349.1h1.2M1122.3 352.2h1.2M1132.7 352.2h1.2M1111.8 355.2h1.2M1127.5 355.2h1.2M1135.4 355.2h1.2M1111.8 358.3h1.2M1114.5 361.3h1.2M1177.1 361.3h1.2M1104 364.3h1.2M1106.6 364.3h1.2M1109.2 364.3h1.2M1093.6 367.4h1.2M1124.9 376.5h1.2M1179.8 379.6h1.2M1114.5 382.6h1.2M1177.1 382.6h1.2M1179.8 385.7h1.2M1166.7 400.9h1.2M1114.5 407h1.2M1171.9 407h1.2M1122.3 419.1h1.2M1174.5 419.1h1.2M1117.1 422.2h1.2M1114.5 425.2h1.2M1171.9 425.2h1.2M1179.8 458.7h1.2M1164.1 464.8h1.2M1177.1 464.8h1.2M1145.8 477h1.2" stroke="#80b868" stroke-width="1.4" fill="none"/>
<path d="M1476.6 201.8h1.3M1476.2 205.5h1.3M1476.2 208.6h1.3M1476.3 218.2h1.3M1476.3 221.3h1.3M1476.3 224.3h1.3M1475.7 224.7h1.3M1475.5 225.7h1.3M1477 226.6h1.3M1476.4 226.8h1.3M1475.7 237.6h1.3M1476.6 246.3h1.3M1476.4 247.7h1.3M1476.6 249.4h1.3M1476.5 261.6h1.3M1476.5 264.6h1.3M1475.7 266h1.3M1476.5 267.7h1.3M1476.5 270.7h1.3M1476.2 277.3h1.3M1476.9 285h1.3M1476.2 286.1h1.3" stroke="#80b868" stroke-width="1.3" fill="none"/>
<path d="M1158.8 126.9h1.4M1158.8 148.2h1.4M1158.8 154.3h1.4M1156.2 157.4h1.4M1161.4 160.4h1.4M1158.8 166.5h1.4M1158.8 169.5h1.4M1161.4 172.6h1.4M1153.6 178.7h1.4M1156.2 178.7h1.4M1161.4 178.7h1.4M1140.5 184.8h1.4M1151 184.8h1.4M1143.1 187.8h1.4M1143.1 190.8h1.4M1145.7 190.8h1.4M1137.9 193.9h1.4M1143.1 193.9h1.4M1145.7 193.9h1.4M1148.3 193.9h1.4M1151 193.9h1.4M1153.6 193.9h1.4M1130.1 196.9h1.4M1132.7 196.9h1.4M1135.3 196.9h1.4M1137.9 196.9h1.4M1135.3 200h1.4M1135.3 203h1.4M1137.9 204.5h1.4M1135.3 206.1h1.4M1137.9 206.1h1.4M1140.5 206.1h1.4M1158.8 206.1h1.4M1132.7 207.6h1.4M1139.2 207.6h1.4M1131.4 209.1h1.4M1132.7 209.1h1.4M1134 209.1h1.4M1135.3 209.1h1.4M1136.6 209.1h1.4M1137.9 209.1h1.4M1143.1 209.1h1.4M1145.7 209.1h1.4M1126.1 210.6h1.4M1127.4 210.6h1.4M1130.1 210.6h1.4M1131.4 210.6h1.4M1132.7 210.6h1.4M1135.3 210.6h1.4M1130.1 212.1h1.4M1132.7 212.1h1.4M1120.9 213.7h1.4M1123.5 213.7h1.4M1127.4 213.7h1.4M1123.5 215.2h1.4M1126.1 215.2h1.4M1119.6 216.7h1.4M1122.2 216.7h1.4M1123.5 216.7h1.4M1124.8 216.7h1.4M1127.4 216.7h1.4M1111.8 218.2h1.4M1117 218.2h1.4M1118.3 218.2h1.4M1120.9 218.2h1.4M1107.9 219.8h1.4M1114.4 219.8h1.4M1119.6 219.8h1.4M1106.5 221.3h1.4M1110.5 221.3h1.4M1114.4 221.3h1.4M1115.7 221.3h1.4M1118.3 221.3h1.4M1102.6 222.8h1.4M1103.9 222.8h1.4M1105.2 222.8h1.4M1106.5 222.8h1.4M1109.2 222.8h1.4M1110.5 222.8h1.4M1111.8 222.8h1.4M1100 224.3h1.4M1101.3 224.3h1.4M1105.2 224.3h1.4M1106.5 224.3h1.4M1107.9 224.3h1.4M1109.2 224.3h1.4M1164 224.3h1.4M1098.7 225.8h1.4M1101.3 225.8h1.4M1102.6 225.8h1.4M1105.2 225.8h1.4M1109.2 225.8h1.4M1098.7 227.4h1.4M1102.6 227.4h1.4M1174.5 233.5h1.4M1166.6 242.6h1.4M1177.1 242.6h1.4M1171.8 245.6h1.4M1156.2 248.7h1.4M1166.6 248.7h1.4M1174.5 248.7h1.4M1179.7 251.7h1.4M1174.5 257.8h1.4M1182.3 257.8h1.4M1171.8 260.9h1.4M1171.8 263.9h1.4M1161.4 266.9h1.4M1171.8 266.9h1.4M1179.7 266.9h1.4M1111.8 273h1.4M1182.3 285.2h1.4M1153.6 288.2h1.4M1174.5 288.2h1.4M1182.3 288.2h1.4M1171.8 291.3h1.4M1174.5 291.3h1.4M1145.7 294.3h1.4M1166.6 294.3h1.4M1171.8 297.4h1.4M1103.9 300.4h1.4M1164 300.4h1.4M1171.8 303.5h1.4M1164 306.5h1.4M1166.6 306.5h1.4M1177.1 306.5h1.4M1161.4 309.6h1.4M1164 309.6h1.4M1169.2 309.6h1.4M1171.8 309.6h1.4M1164 312.6h1.4M1169.2 312.6h1.4M1164 315.6h1.4M1166.6 315.6h1.4M1164 318.7h1.4M1171.8 318.7h1.4M1169.2 321.7h1.4M1161.4 324.8h1.4M1169.2 324.8h1.4M1148.3 327.8h1.4M1158.8 327.8h1.4M1145.7 330.9h1.4M1148.3 330.9h1.4M1151 330.9h1.4M1137.9 333.9h1.4M1140.5 333.9h1.4M1148.3 333.9h1.4M1153.6 333.9h1.4M1137.9 337h1.4M1145.7 337h1.4M1151 337h1.4M1135.3 340h1.4M1140.5 340h1.4M1143.1 340h1.4M1145.7 340h1.4M1151 340h1.4M1156.2 340h1.4M1119.6 343h1.4M1127.4 343h1.4M1130.1 343h1.4M1137.9 343h1.4M1143.1 343h1.4M1153.6 343h1.4M1119.6 346.1h1.4M1124.8 346.1h1.4M1122.2 349.1h1.4M1124.8 349.1h1.4M1114.4 352.2h1.4M1124.8 352.2h1.4M1135.3 352.2h1.4M1122.2 355.2h1.4M1114.4 358.3h1.4M1117 358.3h1.4M1119.6 358.3h1.4M1109.2 361.3h1.4M1101.3 364.3h1.4M1177.1 364.3h1.4M1179.7 364.3h1.4M1179.7 367.4h1.4M1101.3 370.4h1.4M1098.7 376.5h1.4M1179.7 376.5h1.4M1182.3 379.6h1.4M1111.8 382.6h1.4M1182.3 385.7h1.4M1174.5 388.7h1.4M1179.7 388.7h1.4M1175.8 399.4h1.4M1179.7 399.4h1.4M1119.6 400.9h1.4M1178.4 400.9h1.4M1182.3 400.9h1.4M1183.6 400.9h1.4M1184.9 400.9h1.4M1186.2 400.9h1.4M1188.8 400.9h1.4M1181 402.4h1.4M1111.8 403.9h1.4M1173.2 403.9h1.4M1178.4 403.9h1.4M1179.7 403.9h1.4M1186.2 403.9h1.4M1178.4 405.4h1.4M1182.3 405.4h1.4M1117 407h1.4M1122.2 407h1.4M1178.4 407h1.4M1179.7 407h1.4M1181 407h1.4M1183.6 407h1.4M1191.4 407h1.4M1177.1 408.5h1.4M1178.4 408.5h1.4M1181 408.5h1.4M1182.3 408.5h1.4M1183.6 408.5h1.4M1186.2 408.5h1.4M1178.4 410h1.4M1179.7 410h1.4M1182.3 410h1.4M1183.6 410h1.4M1179.7 411.5h1.4M1181 411.5h1.4M1182.3 411.5h1.4M1183.6 411.5h1.4M1184.9 411.5h1.4M1186.2 411.5h1.4M1111.8 413.1h1.4M1114.4 413.1h1.4M1119.6 413.1h1.4M1177.1 413.1h1.4M1181 413.1h1.4M1182.3 413.1h1.4M1183.6 413.1h1.4M1184.9 413.1h1.4M1186.2 413.1h1.4M1175.8 414.6h1.4M1179.7 414.6h1.4M1181 414.6h1.4M1182.3 414.6h1.4M1183.6 414.6h1.4M1184.9 414.6h1.4M1187.5 414.6h1.4M1190.1 414.6h1.4M1090.9 416.1h1.4M1122.2 416.1h1.4M1169.2 416.1h1.4M1179.7 416.1h1.4M1184.9 416.1h1.4M1186.2 416.1h1.4M1188.8 416.1h1.4M1183.6 417.6h1.4M1184.9 417.6h1.4M1186.2 417.6h1.4M1187.5 417.6h1.4M1111.8 419.1h1.4M1181 419.1h1.4M1182.3 419.1h1.4M1179.7 420.7h1.4M1181 420.7h1.4M1182.3 420.7h1.4M1111.8 422.2h1.4M1177.1 422.2h1.4M1178.4 422.2h1.4M1179.7 422.2h1.4M1181 422.2h1.4M1182.3 422.2h1.4M1183.6 422.2h1.4M1187.5 422.2h1.4M1192.7 422.2h1.4M1178.4 423.7h1.4M1179.7 423.7h1.4M1181 423.7h1.4M1182.3 423.7h1.4M1184.9 423.7h1.4M1186.2 423.7h1.4M1192.7 423.7h1.4M1117 425.2h1.4M1122.2 425.2h1.4M1183.6 425.2h1.4M1184.9 425.2h1.4M1179.7 426.8h1.4M1181 426.8h1.4M1182.3 426.8h1.4M1183.6 426.8h1.4M1186.2 426.8h1.4M1187.5 426.8h1.4M1090.9 428.3h1.4M1101.3 428.3h1.4M1114.4 428.3h1.4M1171.8 428.3h1.4M1178.4 428.3h1.4M1179.7 428.3h1.4M1181 428.3h1.4M1182.3 428.3h1.4M1183.6 428.3h1.4M1183.6 429.8h1.4M1186.2 429.8h1.4M1188.8 429.8h1.4M1096.1 431.3h1.4M1114.4 431.3h1.4M1156.2 431.3h1.4M1177.1 431.3h1.4M1182.3 431.3h1.4M1183.6 431.3h1.4M1184.9 431.3h1.4M1186.2 431.3h1.4M1187.5 431.3h1.4M1190.1 431.3h1.4M1179.7 432.8h1.4M1182.3 432.8h1.4M1183.6 432.8h1.4M1184.9 432.8h1.4M1186.2 432.8h1.4M1187.5 432.8h1.4M1188.8 432.8h1.4M1093.5 434.4h1.4M1179.7 434.4h1.4M1183.6 434.4h1.4M1187.5 434.4h1.4M1188.8 434.4h1.4M1178.4 435.9h1.4M1181 435.9h1.4M1183.6 435.9h1.4M1184.9 435.9h1.4M1186.2 435.9h1.4M1179.7 437.4h1.4M1182.3 437.4h1.4M1183.6 437.4h1.4M1186.2 437.4h1.4M1188.8 437.4h1.4M1179.7 438.9h1.4M1181 438.9h1.4M1184.9 438.9h1.4M1186.2 438.9h1.4M1188.8 438.9h1.4M1153.6 440.4h1.4M1181 440.4h1.4M1184.9 440.4h1.4M1186.2 440.4h1.4M1187.5 440.4h1.4M1178.4 442h1.4M1181 442h1.4M1182.3 442h1.4M1183.6 442h1.4M1184.9 442h1.4M1186.2 442h1.4M1158.8 443.5h1.4M1178.4 443.5h1.4M1181 443.5h1.4M1182.3 443.5h1.4M1184.9 443.5h1.4M1187.5 443.5h1.4M1083 445h1.4M1182.3 445h1.4M1183.6 445h1.4M1184.9 445h1.4M1079.1 446.5h1.4M1084.3 446.5h1.4M1085.7 446.5h1.4M1090.9 446.5h1.4M1096.1 446.5h1.4M1174.5 446.5h1.4M1175.8 446.5h1.4M1178.4 446.5h1.4M1183.6 446.5h1.4M1084.3 448.1h1.4M1085.7 448.1h1.4M1090.9 448.1h1.4M1097.4 448.1h1.4M1174.5 448.1h1.4M1175.8 448.1h1.4M1177.1 448.1h1.4M1178.4 448.1h1.4M1179.7 448.1h1.4M1181 448.1h1.4M1183.6 448.1h1.4M1184.9 448.1h1.4M1174.5 449.6h1.4M1177.1 449.6h1.4M1179.7 449.6h1.4M1181 449.6h1.4M1173.2 451.1h1.4M1174.5 451.1h1.4M1175.8 451.1h1.4M1177.1 451.1h1.4M1179.7 451.1h1.4M1181 451.1h1.4M1182.3 451.1h1.4M1173.2 452.6h1.4M1174.5 452.6h1.4M1177.1 452.6h1.4M1178.4 452.6h1.4M1179.7 452.6h1.4M1181 452.6h1.4M1182.3 452.6h1.4M1184.9 452.6h1.4M1170.5 454.1h1.4M1173.2 454.1h1.4M1174.5 454.1h1.4M1175.8 454.1h1.4M1177.1 454.1h1.4M1179.7 454.1h1.4M1181 454.1h1.4M1182.3 454.1h1.4M1183.6 454.1h1.4M1161.4 455.7h1.4M1166.6 455.7h1.4M1169.2 455.7h1.4M1170.5 455.7h1.4M1171.8 455.7h1.4M1173.2 455.7h1.4M1175.8 455.7h1.4M1178.4 455.7h1.4M1179.7 455.7h1.4M1182.3 455.7h1.4M1184.9 455.7h1.4M1170.5 457.2h1.4M1171.8 457.2h1.4M1174.5 457.2h1.4M1175.8 457.2h1.4M1181 457.2h1.4M1182.3 457.2h1.4M1183.6 457.2h1.4M1184.9 457.2h1.4M1167.9 458.7h1.4M1170.5 458.7h1.4M1174.5 458.7h1.4M1175.8 458.7h1.4M1177.1 458.7h1.4M1178.4 458.7h1.4M1181 458.7h1.4M1182.3 458.7h1.4M1164 460.2h1.4M1169.2 460.2h1.4M1170.5 460.2h1.4M1173.2 460.2h1.4M1174.5 460.2h1.4M1175.8 460.2h1.4M1178.4 460.2h1.4M1179.7 460.2h1.4M1156.2 461.8h1.4M1164 461.8h1.4M1166.6 461.8h1.4M1169.2 461.8h1.4M1171.8 461.8h1.4M1173.2 461.8h1.4M1175.8 461.8h1.4M1177.1 461.8h1.4M1178.4 461.8h1.4M1184.9 461.8h1.4M1165.3 463.3h1.4M1167.9 463.3h1.4M1171.8 463.3h1.4M1173.2 463.3h1.4M1174.5 463.3h1.4M1177.1 463.3h1.4M1178.4 463.3h1.4M1166.6 464.8h1.4M1167.9 464.8h1.4M1169.2 464.8h1.4M1170.5 464.8h1.4M1173.2 464.8h1.4M1174.5 464.8h1.4M1175.8 464.8h1.4M1179.7 464.8h1.4M1162.7 466.3h1.4M1164 466.3h1.4M1165.3 466.3h1.4M1166.6 466.3h1.4M1167.9 466.3h1.4M1170.5 466.3h1.4M1171.8 466.3h1.4M1173.2 466.3h1.4M1174.5 466.3h1.4M1175.8 466.3h1.4M1177.1 466.3h1.4M1164 467.8h1.4M1165.3 467.8h1.4M1167.9 467.8h1.4M1169.2 467.8h1.4M1170.5 467.8h1.4M1171.8 467.8h1.4M1173.2 467.8h1.4M1177.1 467.8h1.4M1161.4 469.4h1.4M1162.7 469.4h1.4M1164 469.4h1.4M1165.3 469.4h1.4M1166.6 469.4h1.4M1167.9 469.4h1.4M1170.5 469.4h1.4M1171.8 469.4h1.4M1173.2 469.4h1.4M1179.7 469.4h1.4M1160.1 470.9h1.4M1162.7 470.9h1.4M1165.3 470.9h1.4M1166.6 470.9h1.4M1169.2 470.9h1.4M1170.5 470.9h1.4M1153.6 472.4h1.4M1157.5 472.4h1.4M1158.8 472.4h1.4M1160.1 472.4h1.4M1161.4 472.4h1.4M1162.7 472.4h1.4M1164 472.4h1.4M1165.3 472.4h1.4M1166.6 472.4h1.4M1167.9 472.4h1.4M1169.2 472.4h1.4M1171.8 472.4h1.4M1154.9 473.9h1.4M1156.2 473.9h1.4M1157.5 473.9h1.4M1158.8 473.9h1.4M1160.1 473.9h1.4M1161.4 473.9h1.4M1164 473.9h1.4M1165.3 473.9h1.4M1166.6 473.9h1.4M1169.2 473.9h1.4M1148.3 475.5h1.4M1152.3 475.5h1.4M1154.9 475.5h1.4M1156.2 475.5h1.4M1157.5 475.5h1.4M1158.8 475.5h1.4M1160.1 475.5h1.4M1161.4 475.5h1.4M1162.7 475.5h1.4M1164 475.5h1.4M1165.3 475.5h1.4M1167.9 475.5h1.4M1170.5 475.5h1.4M1147 477h1.4M1149.6 477h1.4M1151 477h1.4M1152.3 477h1.4M1153.6 477h1.4M1156.2 477h1.4M1157.5 477h1.4M1160.1 477h1.4M1161.4 477h1.4M1164 477h1.4M1166.6 477h1.4M1143.1 478.5h1.4M1144.4 478.5h1.4M1147 478.5h1.4M1148.3 478.5h1.4M1149.6 478.5h1.4M1152.3 478.5h1.4M1153.6 478.5h1.4M1156.2 478.5h1.4M1157.5 478.5h1.4M1158.8 478.5h1.4M1160.1 478.5h1.4M1161.4 478.5h1.4M1162.7 478.5h1.4M1164 478.5h1.4M1137.9 480h1.4M1139.2 480h1.4M1143.1 480h1.4M1145.7 480h1.4M1148.3 480h1.4M1149.6 480h1.4M1152.3 480h1.4M1154.9 480h1.4M1156.2 480h1.4M1157.5 480h1.4M1158.8 480h1.4M1161.4 480h1.4M1164 480h1.4M1169.2 480h1.4M1141.8 481.5h1.4M1143.1 481.5h1.4M1144.4 481.5h1.4M1145.7 481.5h1.4M1148.3 481.5h1.4M1149.6 481.5h1.4M1151 481.5h1.4M1152.3 481.5h1.4M1153.6 481.5h1.4M1154.9 481.5h1.4M1157.5 481.5h1.4M1158.8 481.5h1.4M1160.1 481.5h1.4M1137.9 483.1h1.4M1139.2 483.1h1.4M1140.5 483.1h1.4M1141.8 483.1h1.4M1143.1 483.1h1.4M1144.4 483.1h1.4M1147 483.1h1.4M1148.3 483.1h1.4M1149.6 483.1h1.4M1151 483.1h1.4M1152.3 483.1h1.4M1153.6 483.1h1.4M1156.2 483.1h1.4M1157.5 483.1h1.4M1134 484.6h1.4M1136.6 484.6h1.4M1137.9 484.6h1.4M1139.2 484.6h1.4M1140.5 484.6h1.4M1141.8 484.6h1.4M1143.1 484.6h1.4M1144.4 484.6h1.4M1147 484.6h1.4M1148.3 484.6h1.4M1149.6 484.6h1.4M1152.3 484.6h1.4M1153.6 484.6h1.4M1154.9 484.6h1.4M1157.5 484.6h1.4M1134 486.1h1.4M1137.9 486.1h1.4M1139.2 486.1h1.4M1140.5 486.1h1.4M1141.8 486.1h1.4M1143.1 486.1h1.4M1144.4 486.1h1.4M1145.7 486.1h1.4M1147 486.1h1.4M1148.3 486.1h1.4M1149.6 486.1h1.4M1152.3 486.1h1.4M1153.6 486.1h1.4M1156.2 486.1h1.4M1136.6 487.6h1.4M1137.9 487.6h1.4M1139.2 487.6h1.4M1140.5 487.6h1.4M1141.8 487.6h1.4M1143.1 487.6h1.4M1145.7 487.6h1.4M1147 487.6h1.4M1148.3 487.6h1.4M1149.6 487.6h1.4M1130.1 489.2h1.4M1132.7 489.2h1.4M1134 489.2h1.4M1135.3 489.2h1.4M1139.2 489.2h1.4M1140.5 489.2h1.4M1141.8 489.2h1.4M1143.1 489.2h1.4M1151 489.2h1.4M1127.4 490.7h1.4M1128.8 490.7h1.4M1131.4 490.7h1.4M1132.7 490.7h1.4M1134 490.7h1.4M1135.3 490.7h1.4M1140.5 490.7h1.4M1141.8 490.7h1.4M1143.1 490.7h1.4M1145.7 490.7h1.4M1148.3 490.7h1.4M1149.6 490.7h1.4M1151 490.7h1.4M1123.5 492.2h1.4M1126.1 492.2h1.4M1130.1 492.2h1.4M1131.4 492.2h1.4M1132.7 492.2h1.4M1135.3 492.2h1.4M1136.6 492.2h1.4M1139.2 492.2h1.4M1140.5 492.2h1.4M1141.8 492.2h1.4M1143.1 492.2h1.4M1120.9 493.7h1.4M1122.2 493.7h1.4M1123.5 493.7h1.4M1126.1 493.7h1.4M1127.4 493.7h1.4M1128.8 493.7h1.4M1139.2 493.7h1.4M1140.5 493.7h1.4M1141.8 493.7h1.4M1143.1 493.7h1.4M1119.6 495.2h1.4M1120.9 495.2h1.4M1123.5 495.2h1.4M1124.8 495.2h1.4M1113.1 496.8h1.4M1114.4 496.8h1.4M1115.7 496.8h1.4M1117 496.8h1.4M1118.3 496.8h1.4M1119.6 496.8h1.4M1120.9 496.8h1.4M1122.2 496.8h1.4M1124.8 496.8h1.4M1127.4 496.8h1.4M1107.9 498.3h1.4M1109.2 498.3h1.4M1110.5 498.3h1.4M1113.1 498.3h1.4M1115.7 498.3h1.4M1118.3 498.3h1.4M1120.9 498.3h1.4M1132.7 498.3h1.4M1102.6 499.8h1.4M1103.9 499.8h1.4M1105.2 499.8h1.4M1106.5 499.8h1.4M1107.9 499.8h1.4M1109.2 499.8h1.4M1110.5 499.8h1.4M1111.8 499.8h1.4M1114.4 499.8h1.4M1117 499.8h1.4M1119.6 499.8h1.4M1097.4 501.3h1.4M1098.7 501.3h1.4M1100 501.3h1.4M1101.3 501.3h1.4M1102.6 501.3h1.4M1103.9 501.3h1.4M1105.2 501.3h1.4M1106.5 501.3h1.4M1111.8 501.3h1.4M1113.1 501.3h1.4M1114.4 501.3h1.4M1115.7 501.3h1.4M1124.8 501.3h1.4M1090.9 502.9h1.4M1096.1 502.9h1.4M1097.4 502.9h1.4M1098.7 502.9h1.4M1100 502.9h1.4M1101.3 502.9h1.4M1102.6 502.9h1.4M1103.9 502.9h1.4M1105.2 502.9h1.4M1106.5 502.9h1.4M1107.9 502.9h1.4M1109.2 502.9h1.4M1113.1 502.9h1.4M1117 502.9h1.4M1093.5 504.4h1.4M1094.8 504.4h1.4M1096.1 504.4h1.4M1097.4 504.4h1.4M1098.7 504.4h1.4M1100 504.4h1.4M1102.6 504.4h1.4M1106.5 504.4h1.4M1114.4 504.4h1.4M1073.9 505.9h1.4M1075.2 505.9h1.4M1083 505.9h1.4M1088.3 505.9h1.4M1089.6 505.9h1.4M1094.8 505.9h1.4M1096.1 505.9h1.4M1097.4 505.9h1.4M1098.7 505.9h1.4M1101.3 505.9h1.4M1102.6 505.9h1.4M1110.5 505.9h1.4M1118.3 505.9h1.4M1080.4 507.4h1.4M1081.7 507.4h1.4M1083 507.4h1.4M1084.3 507.4h1.4M1089.6 507.4h1.4M1093.5 507.4h1.4M1096.1 507.4h1.4M1097.4 507.4h1.4M1119.6 507.4h1.4M1079.1 508.9h1.4M1081.7 508.9h1.4M1083 508.9h1.4M1084.3 508.9h1.4M1085.7 508.9h1.4M1088.3 508.9h1.4M1089.6 508.9h1.4M1092.2 508.9h1.4M1093.5 508.9h1.4M1097.4 508.9h1.4M1119.6 508.9h1.4M1080.4 510.5h1.4M1083 510.5h1.4M1084.3 510.5h1.4M1088.3 510.5h1.4M1117 566.8h1.4M1084.3 568.3h1.4M1087 568.3h1.4M1088.3 568.3h1.4M1102.6 568.3h1.4M1114.4 568.3h1.4M1119.6 568.3h1.4M1120.9 568.3h1.4M1075.2 569.8h1.4M1088.3 569.8h1.4M1096.1 569.8h1.4M1115.7 569.8h1.4M1070 571.3h1.4M1076.5 571.3h1.4M1084.3 571.3h1.4M1094.8 571.3h1.4M1077.8 572.9h1.4M1094.8 572.9h1.4M1098.7 572.9h1.4M1100 572.9h1.4" stroke="#80b868" stroke-width="1.6" fill="none"/>
<path d="M1288.6 158.8h1.4M1288.6 161.9h1.4M1288.2 299.9h1.4M1289 581.1h1.4" stroke="#80b868" stroke-width="1.4" fill="none"/>
<path d="M1476.1 163.7h1.6M1475.9 173.1h1.6M1475.9 176.1h1.6M1475.9 179.2h1.6M1475.9 182.2h1.6M1475.9 185.3h1.6M1476.3 198.1h1.6M1476.1 204.3h1.6M1476.2 207.7h1.6M1476.2 210.7h1.6M1476.2 213.8h1.6M1476.5 215.1h1.6M1475.6 216.3h1.6M1476.2 216.8h1.6M1476 226.4h1.6M1476.2 286.7h1.6" stroke="#80b868" stroke-width="1.6" fill="none"/>
<path d="M1289 92.8h1.7M1289.7 167.3h1.7M1288.3 406h1.7M1288.4 479.6h1.7" stroke="#80b868" stroke-width="1.7" fill="none"/>
<path d="M1395.5 87.2h1.9M1460.9 92.6h1.9M1461.4 100.9h1.9M1464.6 103h1.9M1462.3 350.8h1.9M1460.9 481.5h1.9M1498.6 517h1.9M1498.6 520.1h1.9M1498.6 523.1h1.9M1498.6 526.2h1.9M1498.6 529.2h1.9M1470.7 529.6h1.9M1470.7 532.6h1.9M1443 533.8h1.9M1443 536.8h1.9M1443 539.9h1.9M1471.1 558.3h1.9" stroke="#80b868" stroke-width="1.9" fill="none"/>
<path d="M1288.4 86.6h2M1288.4 89.7h2M1288.4 92.7h2M1288.4 95.8h2M1288.3 270.9h2M1258 305.2h2M1258 308.2h2M1288.9 356.2h2M1257.6 419.3h2M1257.8 421.3h2M1257.6 422.4h2M1257.6 425.4h2M1257.8 458.9h2M1288.2 579.3h2M1288.2 582.3h2" stroke="#80b868" stroke-width="2" fill="none"/>
<path d="M1324.5 115.9h2.2M1505.4 175.4h2.2M1459.5 176h2.2M1465.7 177h2.2M1376.2 292.6h2.2M1419.9 308.5h2.2M1503.8 333.1h2.2M1389.5 413.8h2.2M1496.6 479h2.2M1460.3 487.8h2.2M1497.8 552.3h2.2M1458.6 578h2.2" stroke="#80b868" stroke-width="2.2" fill="none"/>
<path d="M1461.6 107.1h2.4M1483.2 152.2h2.4M1394.4 176.3h2.4M1529.1 340.5h2.4M1461.2 341.4h2.4M1418.1 373.8h2.4M1466.5 402.2h2.4M1519 422.8h2.4M1476.7 448.3h2.4M1477.2 454.2h2.4M1357 465h2.4M1478.7 467.6h2.4M1317.7 495.5h2.4M1476.5 532.2h2.4M1476.5 535.3h2.4M1442.8 542.8h2.4M1442.8 545.8h2.4M1442.8 548.9h2.4" stroke="#80b868" stroke-width="2.4" fill="none"/>
<path d="M1169.4 212.1h1M1174.6 236.5h1M1185.1 242.6h1M1185.1 254.8h1M1177.2 266.9h1M1185.1 273h1M1174.6 285.2h1M1179.9 285.2h1M1172 288.2h1M1166.8 318.7h1M1166.8 327.8h1M1156.4 330.9h1M1161.6 330.9h1M1148.5 340h1M1177.2 379.6h1M1177.2 388.7h1M1135.5 397.8h1M1127.6 400.9h1M1132.8 400.9h1M1130.2 403.9h1M1148.5 403.9h1M1174.6 407h1M1174.6 413.1h1M1187.7 413.1h1M1078 416.1h1M1130.2 419.1h1M1172 419.1h1M1187.7 419.1h1M1174.6 422.2h1M1174.6 425.2h1M1190.3 425.2h1M1135.5 428.3h1M1169.4 431.3h1M1174.6 431.3h1M1138.1 434.4h1M1125 440.4h1M1106.7 443.5h1M1130.2 446.5h1M1192.9 446.5h1M1127.6 455.7h1M1127.6 461.8h1M1132.8 461.8h1M1114.6 464.8h1M1085.8 486.1h1M1067.5 495.2h1M1075.4 501.3h1M1083.2 504.4h1" stroke="#d8d800" stroke-width="1.2" fill="none"/>
<path d="M1161.5 120.8h1.2M1156.3 239.5h1.2M1182.4 254.8h1.2M1174.5 263.9h1.2M1177.1 263.9h1.2M1171.9 273h1.2M1174.5 273h1.2M1177.1 273h1.2M1182.4 273h1.2M1177.1 276.1h1.2M1179.8 282.2h1.2M1169.3 285.2h1.2M1161.5 321.7h1.2M1166.7 321.7h1.2M1171.9 321.7h1.2M1151 333.9h1.2M1140.6 367.4h1.2M1177.1 373.5h1.2M1140.6 376.5h1.2M1138 382.6h1.2M1140.6 385.7h1.2M1138 391.7h1.2M1174.5 397.8h1.2M1169.3 400.9h1.2M1132.7 403.9h1.2M1135.4 403.9h1.2M1130.1 407h1.2M1187.6 407h1.2M1127.5 410h1.2M1127.5 416.1h1.2M1145.8 422.2h1.2M1132.7 428.3h1.2M1127.5 434.4h1.2M1132.7 434.4h1.2M1171.9 434.4h1.2M1177.1 434.4h1.2M1190.2 434.4h1.2M1177.1 437.4h1.2M1161.5 440.4h1.2M1177.1 440.4h1.2M1124.9 443.5h1.2M1171.9 443.5h1.2M1192.8 443.5h1.2M1127.5 449.6h1.2M1132.7 452.6h1.2M1096.2 455.7h1.2M1124.9 455.7h1.2M1119.7 473.9h1.2M1164.1 486.1h1.2" stroke="#d8d800" stroke-width="1.4" fill="none"/>
<path d="M1067.2 552.7h1.3M1067.3 576.7h1.3" stroke="#d8d800" stroke-width="1.3" fill="none"/>
<path d="M1161.4 136h1.4M1158.8 145.2h1.4M1137.9 224.3h1.4M1148.3 224.3h1.4M1177.1 239.5h1.4M1174.5 251.7h1.4M1166.6 254.8h1.4M1174.5 254.8h1.4M1158.8 257.8h1.4M1164 257.8h1.4M1177.1 257.8h1.4M1158.8 260.9h1.4M1161.4 260.9h1.4M1184.9 260.9h1.4M1156.2 266.9h1.4M1156.2 276.1h1.4M1184.9 276.1h1.4M1171.8 282.2h1.4M1151 288.2h1.4M1179.7 288.2h1.4M1177.1 303.5h1.4M1174.5 312.6h1.4M1156.2 324.8h1.4M1151 327.8h1.4M1153.6 327.8h1.4M1179.7 361.3h1.4M1177.1 367.4h1.4M1140.5 382.6h1.4M1137.9 388.7h1.4M1140.5 391.7h1.4M1179.7 391.7h1.4M1178.4 399.4h1.4M1135.3 400.9h1.4M1171.8 400.9h1.4M1174.5 400.9h1.4M1181 400.9h1.4M1182.3 402.4h1.4M1145.7 403.9h1.4M1171.8 403.9h1.4M1174.5 403.9h1.4M1182.3 403.9h1.4M1184.9 403.9h1.4M1187.5 403.9h1.4M1190.1 403.9h1.4M1183.6 405.4h1.4M1184.9 405.4h1.4M1127.4 407h1.4M1132.7 407h1.4M1130.1 410h1.4M1132.7 410h1.4M1174.5 410h1.4M1177.1 410h1.4M1184.9 410h1.4M1075.2 413.1h1.4M1127.4 413.1h1.4M1130.1 413.1h1.4M1178.4 414.6h1.4M1186.2 414.6h1.4M1132.7 416.1h1.4M1174.5 416.1h1.4M1177.1 416.1h1.4M1181 416.1h1.4M1178.4 417.6h1.4M1182.3 417.6h1.4M1124.8 419.1h1.4M1132.7 419.1h1.4M1135.3 419.1h1.4M1166.6 419.1h1.4M1178.4 419.1h1.4M1183.6 419.1h1.4M1184.9 419.1h1.4M1184.9 420.7h1.4M1127.4 422.2h1.4M1169.2 422.2h1.4M1186.2 422.2h1.4M1127.4 428.3h1.4M1184.9 428.3h1.4M1187.5 429.8h1.4M1080.4 431.3h1.4M1124.8 431.3h1.4M1181 431.3h1.4M1181 432.8h1.4M1124.8 434.4h1.4M1130.1 434.4h1.4M1151 434.4h1.4M1166.6 434.4h1.4M1181 434.4h1.4M1132.7 437.4h1.4M1166.6 437.4h1.4M1169.2 437.4h1.4M1171.8 437.4h1.4M1174.5 437.4h1.4M1181 437.4h1.4M1182.3 438.9h1.4M1111.8 440.4h1.4M1130.1 440.4h1.4M1179.7 440.4h1.4M1179.7 442h1.4M1127.4 443.5h1.4M1174.5 443.5h1.4M1179.7 443.5h1.4M1186.2 443.5h1.4M1178.4 445h1.4M1127.4 446.5h1.4M1151 446.5h1.4M1181 446.5h1.4M1190.1 446.5h1.4M1130.1 449.6h1.4M1183.6 449.6h1.4M1187.5 449.6h1.4M1190.1 449.6h1.4M1124.8 452.6h1.4M1187.5 452.6h1.4M1130.1 455.7h1.4M1187.5 458.7h1.4M1109.2 461.8h1.4M1119.6 461.8h1.4M1117 464.8h1.4M1119.6 467.8h1.4M1151 470.9h1.4M1179.7 470.9h1.4M1117 480h1.4M1093.5 483.1h1.4M1103.9 486.1h1.4M1093.5 489.2h1.4M1096.1 489.2h1.4M1077.8 492.2h1.4M1064.8 501.3h1.4M1088.3 501.3h1.4" stroke="#d8d800" stroke-width="1.6" fill="none"/>
<path d="M1289.2 93.4h1.4M1269.5 105.6h1.4M1257.6 116.9h1.4M1264.1 138.4h1.4M1264.1 141.5h1.4M1288.6 144.3h1.4M1264.1 144.5h1.4M1269.8 152.5h1.4M1270.1 155.8h1.4M1257.9 183.9h1.4M1267.3 200.9h1.4M1257.7 202.6h1.4M1267.3 203.9h1.4M1267.3 207h1.4M1268 228h1.4M1267 250.4h1.4M1267 253.4h1.4M1258.1 260.6h1.4M1270.5 265.1h1.4M1285.1 286.3h1.4M1266.2 288.3h1.4M1270.2 290.2h1.4M1266.2 291.4h1.4M1267.2 292h1.4M1266.2 294.4h1.4M1287.7 298h1.4M1264.7 301.3h1.4M1288.6 308.3h1.4M1288.6 311.3h1.4M1288.6 314.4h1.4M1290.8 317.8h1.4M1267.7 322.7h1.4M1267.7 325.8h1.4M1267.7 328.8h1.4M1265.9 331.8h1.4M1267.7 331.9h1.4M1265.9 334.8h1.4M1265.9 337.9h1.4M1265.9 340.9h1.4M1267.7 344.4h1.4M1269.3 354.5h1.4M1265 358.1h1.4M1264.5 358.7h1.4M1265.5 359.3h1.4M1269 361.7h1.4M1268.5 368.3h1.4M1261.3 370.7h1.4M1261.3 373.7h1.4M1268.6 382.1h1.4M1268.7 406.5h1.4M1268.7 409.6h1.4M1268.7 412.6h1.4M1262.8 414.9h1.4M1268.7 415.7h1.4M1270 417.3h1.4M1264.1 417.7h1.4M1268.7 418.7h1.4M1270 420.3h1.4M1270 423.4h1.4M1270 426.4h1.4M1269.4 427.6h1.4M1270 429.5h1.4M1289.5 431.6h1.4M1258.2 441.8h1.4M1283.1 456.8h1.4M1289.1 470.2h1.4M1268.7 471.8h1.4M1269.6 472.7h1.4M1269.6 475.8h1.4M1269.6 478.8h1.4M1269.6 481.9h1.4M1266.5 489.4h1.4M1269.3 495.2h1.4M1265.8 497.4h1.4M1265.3 497.6h1.4M1269.3 498.3h1.4M1267.4 500.8h1.4M1264.4 503.8h1.4M1267.4 503.8h1.4M1264.5 505.8h1.4M1267.4 506.9h1.4M1267.4 509.9h1.4M1258.9 559.8h1.4M1258.9 562.8h1.4M1258.9 565.9h1.4M1258.9 568.9h1.4M1269.3 569h1.4M1258.9 572h1.4" stroke="#d8d800" stroke-width="1.4" fill="none"/>
<path d="M1067.5 583.6h1.6" stroke="#d8d800" stroke-width="1.6" fill="none"/>
<path d="M1289.3 86.7h1.7M1289.3 89.7h1.7M1289.3 92.8h1.7M1289.3 95.8h1.7M1258.2 115.4h1.7M1264.3 118.1h1.7M1264.6 142.5h1.7M1264.6 145.6h1.7M1264.6 148.6h1.7M1265.4 150.7h1.7M1264.6 151.7h1.7M1265.4 153.8h1.7M1268.6 155.2h1.7M1265.4 156.8h1.7M1268.5 157.9h1.7M1268.6 158.3h1.7M1265.4 159.9h1.7M1258.6 160.1h1.7M1268.5 160.9h1.7M1268.6 161.3h1.7M1264.5 162.8h1.7M1268.6 164.4h1.7M1268.6 167.4h1.7M1258.9 174.4h1.7M1288.8 176.9h1.7M1268.2 187.5h1.7M1268.2 190.5h1.7M1268.2 193.6h1.7M1268.2 196.6h1.7M1268.2 199.7h1.7M1263.9 201.6h1.7M1269.6 216.8h1.7M1269.6 219.8h1.7M1264.6 245.4h1.7M1264.6 248.4h1.7M1264.6 251.5h1.7M1264.9 253.9h1.7M1265.5 283.1h1.7M1264.1 302.2h1.7M1258 304.3h1.7M1269.7 318.9h1.7M1269 322.8h1.7M1269 325.5h1.7M1263.9 327.3h1.7M1288.7 343.8h1.7M1266.5 361.9h1.7M1269.8 362.4h1.7M1264.7 389.1h1.7M1262 392.1h1.7M1266.3 395.5h1.7M1260.8 397.2h1.7M1261.7 413.4h1.7M1264.9 417.5h1.7M1288.6 418.2h1.7M1261.3 428h1.7M1268.7 443.6h1.7M1265.9 446.9h1.7M1267.2 460.9h1.7M1267.2 463.9h1.7M1288 470.2h1.7M1266.9 482.9h1.7M1266.9 486h1.7M1264.5 499.8h1.7M1264.5 502.8h1.7M1267 505.7h1.7M1266.5 506.6h1.7M1267.8 521.7h1.7M1267.8 524.8h1.7M1289.1 525.6h1.7M1267.8 527.8h1.7M1273 547.1h1.7M1270.8 562.4h1.7M1269.8 570.5h1.7M1269.8 573.5h1.7M1264.8 574.6h1.7M1263.6 575.3h1.7M1269.8 576.6h1.7M1269.8 579.6h1.7" stroke="#d8d800" stroke-width="1.7" fill="none"/>
<path d="M1209.4 144.9h1.9M1464.9 198.3h1.9M1459.5 220.1h1.9M1349.3 221h1.9M1203.4 275.9h1.9M1464.4 276.7h1.9M1234.6 371h1.9M1465.9 379.2h1.9M1460.3 456.2h1.9M1460.3 459.3h1.9M1464.8 463.6h1.9M1486.9 485.2h1.9M1486.9 488.3h1.9M1486.9 491.3h1.9M1465.8 523.1h1.9M1465.8 526.2h1.9M1465.8 529.2h1.9M1157.5 532h1.9M1465.8 532.3h1.9M1101.2 544.3h1.9M1394.2 550.6h1.9M1466.5 550.7h1.9M1470.2 563.6h1.9M1116.6 564.8h1.9" stroke="#d8d800" stroke-width="1.9" fill="none"/>
<path d="M1287.9 91.7h2M1268.5 99.1h2M1264.6 115.1h2M1268.4 116h2M1269.3 122.2h2M1264.5 125.9h2M1258.5 165.4h2M1262 176.7h2M1263.6 198.2h2M1264.4 206.2h2M1268.9 209.8h2M1263.6 220.1h2M1288.4 220.3h2M1289.3 225.4h2M1269.6 227.2h2M1257.2 227.7h2M1286.8 228h2M1289.3 228.5h2M1286.8 231.1h2M1289.3 231.5h2M1286.8 234.1h2M1288.9 234.2h2M1289.3 234.6h2M1286.8 237.2h2M1288.9 237.3h2M1289.3 237.6h2M1264.7 239.1h2M1286.8 240.2h2M1288.9 240.3h2M1264.7 242.2h2M1264.6 277.7h2M1280.6 302.7h2M1264.2 307.6h2M1266.9 310h2M1263.8 325.2h2M1267.7 331.9h2M1264.2 345.4h2M1266.7 353.1h2M1266.4 361.3h2M1264.3 363.1h2M1269.4 363.3h2M1263.5 365.2h2M1264 367.7h2M1264 370.8h2M1264.3 371.4h2M1264 373.8h2M1268.7 374.4h2M1264.2 394h2M1264.2 396h2M1266.6 405.5h2M1264.3 421.4h2M1266.6 422.4h2M1269.4 423.4h2M1267.4 425.6h2M1268.3 434h2M1263.9 436.3h2M1268.3 437.1h2M1268.3 440.1h2M1268.3 443.2h2M1287.7 452h2M1269 456.4h2M1262.6 463.9h2M1261.6 465.5h2M1288.2 466.9h2M1288.2 470h2M1269.2 470.2h2M1265.1 472.8h2M1269.2 473.3h2M1269.2 476.3h2M1269.2 479.4h2M1268.9 482.8h2M1265.4 485.6h2M1265.3 517.6h2M1289.6 520h2M1262.4 552.7h2M1263.8 553.4h2M1292.1 554.3h2M1262.4 555.8h2M1266.9 558.2h2M1266.9 561.3h2M1266.9 564.3h2M1288.8 565.5h2M1288.8 568.6h2M1288.8 571.6h2M1262.1 572.1h2M1288.8 574.7h2M1288.8 577.7h2M1258.1 581.4h2" stroke="#d8d800" stroke-width="2" fill="none"/>
<path d="M1528.3 106.6h2.2M1460.5 116.6h2.2M1460.5 125.8h2.2M1461.5 214.8h2.2M1490.4 227.7h2.2M1463 238.4h2.2M1231.1 296.5h2.2M1470.3 391.3h2.2M1497.3 420.5h2.2M1461.9 426.9h2.2M1470.9 441.2h2.2M1329.7 477.8h2.2M1241.8 481h2.2M1443.2 520.5h2.2M1465.3 529.1h2.2M1465.5 573h2.2" stroke="#d8d800" stroke-width="2.2" fill="none"/>
<path d="M1504.9 104.4h2.4M1462.1 158.1h2.4M1402 160.8h2.4M1462.1 161.1h2.4M1485.9 180.2h2.4M1541.1 182.5h2.4M1322.1 230.1h2.4M1460.8 243.5h2.4M1202.1 266.8h2.4M1465.9 282.2h2.4M1460.8 301h2.4M1439.7 319.2h2.4M1459.9 329.8h2.4M1486 335.1h2.4M1317.5 415.1h2.4M1249.7 450.3h2.4M1462.2 451.2h2.4M1465.9 451.7h2.4M1462.2 454.2h2.4M1462.2 457.3h2.4M1462.2 460.3h2.4M1355.3 477h2.4M1461.3 479.1h2.4M1497.6 483.6h2.4M1497.6 486.7h2.4M1497.6 489.7h2.4M1497.6 492.8h2.4M1497.6 495.8h2.4M1496.4 497h2.4M1498.9 517h2.4M1487.1 521.5h2.4M1441.3 540.5h2.4M1441.5 559.8h2.4M1205.5 578.1h2.4" stroke="#d8d800" stroke-width="2.4" fill="none"/>
<path d="M1478.3 252.3V302.3" stroke="#ff0030" stroke-width="1.5" fill="none"/>
<path d="M1036.7 513.8L1056.8 510.5L1076.8 508.1L1096.9 506.1L1117 502.7L1130.4 499.8L1137.7 496.7L1141.1 493.7L1141.3 492.1L1140.5 491.1" stroke="#333" stroke-width="1.7" fill="none" stroke-linejoin="round"/>
<path d="M1070.1 501.8L1083.5 499.8L1096.9 496.7L1110.3 492.1L1121 487.1L1130.4 481L1135.7 473.7L1139.1 463L1141.1 449.6L1142.1 438.9L1142.7 431.5" stroke="#333" stroke-width="1.7" fill="none" stroke-linejoin="round"/>
<path d="M1036.7 450.9L1070.1 465.6L1096.9 475.3L1117 482.4L1131.7 487.7L1141.1 493.5" stroke="#333" stroke-width="1.7" fill="none" stroke-dasharray="6.5 4.5"/>
<path d="M1036.7 585.6V84.3H1560.5" stroke="#262626" stroke-width="1.7" fill="none"/>
<path d="M1560.5 84.3V585.6" stroke="#46464e" stroke-width="1.6" fill="none"/><path d="M1561.3 585.6H1035.9" stroke="#262626" stroke-width="1.7" fill="none"/>
<path d="M1036.7 585.8h-7.4M1036.7 579.6h-3.8M1036.7 573.5h-7.4M1036.7 567.4h-3.8M1036.7 561.3h-3.8M1036.7 555.2h-3.8M1036.7 549.1h-3.8M1036.7 543h-7.4M1036.7 536.9h-3.8M1036.7 530.8h-3.8M1036.7 524.6h-3.8M1036.7 518.5h-3.8M1036.7 512.4h-7.4M1036.7 506.3h-3.8M1036.7 500.2h-3.8M1036.7 494.1h-3.8M1036.7 488h-3.8M1036.7 481.9h-7.4M1036.7 475.8h-3.8M1036.7 469.7h-3.8M1036.7 463.6h-3.8M1036.7 457.4h-3.8M1036.7 451.3h-7.4M1036.7 445.2h-3.8M1036.7 439.1h-3.8M1036.7 433h-3.8M1036.7 426.9h-3.8M1036.7 420.8h-7.4M1036.7 414.7h-3.8M1036.7 408.6h-3.8M1036.7 402.5h-3.8M1036.7 396.3h-3.8M1036.7 390.2h-7.4M1036.7 384.1h-3.8M1036.7 378h-3.8M1036.7 371.9h-3.8M1036.7 365.8h-3.8M1036.7 359.7h-7.4M1036.7 353.6h-3.8M1036.7 347.5h-3.8M1036.7 341.4h-3.8M1036.7 335.2h-3.8M1036.7 329.1h-7.4M1036.7 323h-3.8M1036.7 316.9h-3.8M1036.7 310.8h-3.8M1036.7 304.7h-3.8M1036.7 298.6h-7.4M1036.7 292.5h-3.8M1036.7 286.4h-3.8M1036.7 280.2h-3.8M1036.7 274.1h-3.8M1036.7 268h-7.4M1036.7 261.9h-3.8M1036.7 255.8h-3.8M1036.7 249.7h-3.8M1036.7 243.6h-3.8M1036.7 237.5h-7.4M1036.7 231.4h-3.8M1036.7 225.3h-3.8M1036.7 219.2h-3.8M1036.7 213h-3.8M1036.7 206.9h-7.4M1036.7 200.8h-3.8M1036.7 194.7h-3.8M1036.7 188.6h-3.8M1036.7 182.5h-3.8M1036.7 176.4h-7.4M1036.7 170.3h-3.8M1036.7 164.2h-3.8M1036.7 158.1h-3.8M1036.7 151.9h-3.8M1036.7 145.8h-7.4M1036.7 139.7h-3.8M1036.7 133.6h-3.8M1036.7 127.5h-3.8M1036.7 121.4h-3.8M1036.7 115.3h-7.4M1036.7 109.2h-3.8M1036.7 103.1h-3.8M1036.7 96.9h-3.8M1036.7 90.8h-3.8M1036.7 84.7h-7.4M1036.7 585.6v7.2M1089 585.6v7.2M1141.3 585.6v7.2M1193.6 585.6v7.2M1245.9 585.6v7.2M1298.2 585.6v7.2M1350.4 585.6v7.2M1402.7 585.6v7.2M1455 585.6v7.2M1507.3 585.6v7.2M1559.6 585.6v7.2" stroke="#262626" stroke-width="1.5" fill="none"/>
<g font-family="'Liberation Sans',Arial,Helvetica,sans-serif" font-weight="bold" font-size="15.3" fill="#111" stroke="#111" stroke-width=".45">
<g text-anchor="end">
<text transform="translate(1025.4 591.8) scale(.86 1)">80</text>
<text transform="translate(1025.4 518.4) scale(.86 1)">200</text>
<text transform="translate(1025.4 457.3) scale(.86 1)">300</text>
<text transform="translate(1025.4 396.2) scale(.86 1)">400</text>
<text transform="translate(1025.4 335.1) scale(.86 1)">500</text>
<text transform="translate(1025.4 274) scale(.86 1)">600</text>
<text transform="translate(1025.4 212.9) scale(.86 1)">700</text>
<text transform="translate(1025.4 151.8) scale(.86 1)">800</text>
<text transform="translate(1025.4 90.7) scale(.86 1)">900</text>
</g><g text-anchor="middle">
<text transform="translate(1036.7 610.8) scale(.86 1.03)">1</text>
<text transform="translate(1089 610.8) scale(.86 1.03)">2</text>
<text transform="translate(1141.3 610.8) scale(.86 1.03)">3</text>
<text transform="translate(1193.6 610.8) scale(.86 1.03)">4</text>
<text transform="translate(1245.9 610.8) scale(.86 1.03)">5</text>
<text transform="translate(1298.2 610.8) scale(.86 1.03)">6</text>
<text transform="translate(1350.4 610.8) scale(.86 1.03)">7</text>
<text transform="translate(1402.7 610.8) scale(.86 1.03)">8</text>
<text transform="translate(1455 610.8) scale(.86 1.03)">9</text>
<text transform="translate(1507.3 610.8) scale(.86 1.03)">10</text>
<text transform="translate(1559.6 610.8) scale(.86 1.03)">11</text>
</g></g>
<g font-family="'Liberation Sans',Arial,Helvetica,sans-serif" font-weight="bold" font-size="13.8" letter-spacing=".5" fill="#fff">
<rect x="1567.1" y="83" width="46.6" height="19.3" fill="#909090"/>
<text x="1568.6" y="99.2">NoVal</text>
<rect x="1567.1" y="103.9" width="46.6" height="19.3" fill="#10d8f8"/>
<text x="1568.6" y="120.1">NNE</text>
<rect x="1567.1" y="124.7" width="46.6" height="19.3" fill="#40a8f8"/>
<text x="1568.6" y="140.9">E</text>
<rect x="1567.1" y="145.6" width="46.6" height="19.3" fill="#b000a0"/>
<text x="1568.6" y="161.8">W</text>
<rect x="1567.1" y="166.5" width="46.6" height="19.3" fill="#ff4090"/>
<text x="1568.6" y="182.7">Vo-</text>
<rect x="1567.1" y="187.4" width="46.6" height="19.3" fill="#ff0030"/>
<text x="1568.6" y="203.6">Vo+</text>
<rect x="1567.1" y="208.2" width="46.6" height="19.3" fill="#f8b8b0"/>
<text x="1568.6" y="224.4">SSW</text>
<rect x="1567.1" y="229.1" width="46.6" height="19.3" fill="#008010"/>
<text x="1568.6" y="245.3">X-</text>
<rect x="1567.1" y="250" width="46.6" height="19.3" fill="#80b868"/>
<text x="1568.6" y="266.2">X+</text>
<rect x="1567.1" y="270.8" width="46.6" height="19.3" fill="#d8d800"/>
<text x="1568.6" y="287">SSE</text>
<rect x="1567.1" y="291.7" width="46.6" height="19.3" fill="#2800e0"/>
<text x="1568.6" y="307.9">NNW</text>
</g>
<rect x="1123" y="395.4" width="68.1" height="115.3" fill="none" stroke="#f5101a" stroke-width="3.7"/>
<text x="1024.2" y="70" font-family="'Liberation Sans',Arial,Helvetica,sans-serif" font-size="41.5" letter-spacing="1.3" fill="#000" stroke="#000" stroke-width="1.4" stroke-linejoin="round">(b)</text>
<g transform="translate(6.7 693.4)">
<path d="M891.5 22.3C876 17.5 862.5 27 860.3 39.5C859.4 46 861 51.5 864.3 55.8C862.6 50.5 862.3 45 863.6 39.8C866.3 29.5 877.5 21.2 891.5 22.3Z" fill="#3d9cc4"/>
<text x="934.4" y="42.6" text-anchor="end" font-family="'Liberation Serif','Times New Roman',serif" font-weight="bold" font-size="12.4" fill="#4d2c46" textLength="33.4" lengthAdjust="spacingAndGlyphs">Lowell</text>
<text x="869.2" y="56.2" font-family="'Liberation Sans',Arial,Helvetica,sans-serif" font-size="12.6" fill="#b2306c" stroke="#b2306c" stroke-width=".35" textLength="66" lengthAdjust="spacingAndGlyphs">DIGISONDE</text>
<g font-family="'Liberation Mono','Courier New',Courier,monospace" font-size="12.5" letter-spacing="0.1" fill="#1c1c1c">
<text x="858.2" y="90.5">foF2      3.450</text>
<text x="858.2" y="107.9">foF1        N/A</text>
<text x="858.2" y="125.4">foF1p       N/A</text>
<text x="858.2" y="142.9">foE         N/A</text>
<text x="858.2" y="160.3">foEp       0.35</text>
<text x="858.2" y="177.8">fxI        4.20</text>
<text x="858.2" y="195.2">foEs        N/A</text>
<text x="858.2" y="212.7">fmin       1.45</text>
<text x="858.2" y="239.4">MUF(D)    10.86</text>
<text x="858.2" y="256.8">M(D)       3.15</text>
<text x="858.2" y="274.3">D           N/A</text>
<text x="858.2" y="301">h`F       257.5</text>
<text x="858.2" y="318.4">h`F2      257.5</text>
<text x="858.2" y="335.9">h`E         N/A</text>
<text x="858.2" y="353.4">h`Es        N/A</text>
<text x="858.2" y="379.9">hmF2      304.4</text>
<text x="858.2" y="397.4">hmF1        N/A</text>
<text x="858.2" y="415">hmE       110.0</text>
<text x="858.2" y="432.5">yF2        67.1</text>
<text x="858.2" y="450.1">yF1         N/A</text>
<text x="858.2" y="467.6">yE         20.0</text>
<text x="858.2" y="485.1">B0         55.3</text>
<text x="858.2" y="502.6">B1         4.10</text>
<text x="858.2" y="528.9">C-level      11</text>
<text x="858.4" y="555.9">Auto:</text>
<text x="858.4" y="573.2">Artist5</text>
<text x="858.4" y="590.5">500200</text>
<text x="858.4" y="640">D     100  200  400  600  800 1000 1500 3000 [km]</text>
<text x="858.4" y="654.6">MUF   4.1  4.1  4.2  4.5  4.9  5.4  6.9 10.9 [MHz]</text>
</g>
<path d="M858 222.4H972.6M858 284.3H972.6M858 363H972.6M858 512.1H972.6M858 538.8H972.6" stroke="#2a2a2a" stroke-width="1" fill="none"/>
<g font-family="'Liberation Mono','Courier New',Courier,monospace" font-weight="bold" font-size="10.4" letter-spacing="0.3" fill="#303030">
<text x="858.4" y="670.6">WU430_2020255171500.RSF / 400fx512h 25 kHz 2.5 km / DPS-4D WU430 030 / 30.5 N 114.4 E</text>
<text x="1508.5" y="670.6">Ion2Png v. 1.3.16</text>
</g>
<g font-family="'Liberation Mono','Courier New',Courier,monospace" font-weight="bold" font-size="13.8" letter-spacing="0.44" fill="#111">
<text x="1106.4" y="50">Stati YYYY DAY   DDD HHMMSS P1  FFS S AXN PPS IGA PS</text>
<text x="1106.4" y="66.3">Wuhan 2020 Sep11 255 171500 RSF     1 512 100 03+ A4</text>
</g>
</g>
<rect x="1043.4" y="777.7" width="523.8" height="501.3" fill="#fff"/>
<path d="M1043.4 1266.9H1567.2M1043.4 1236.4H1567.2M1043.4 1205.8H1567.2M1043.4 1175.3H1567.2M1043.4 1144.7H1567.2M1043.4 1114.2H1567.2M1043.4 1083.6H1567.2M1043.4 1053.1H1567.2M1043.4 1022.5H1567.2M1043.4 992H1567.2M1043.4 961.4H1567.2M1043.4 930.9H1567.2M1043.4 900.3H1567.2M1043.4 869.8H1567.2M1043.4 839.2H1567.2M1043.4 808.7H1567.2" stroke="#b6b6c6" stroke-width="1.4" fill="none"/>
<path d="M1095.6 777.7V1279M1147.9 777.7V1279M1200.2 777.7V1279M1252.5 777.7V1279M1304.8 777.7V1279M1357.1 777.7V1279M1409.4 777.7V1279M1461.7 777.7V1279M1514 777.7V1279" stroke="#a2a2b4" stroke-width="1.2" fill="none"/>
<path d="M1094.5 1135.7h0.9" stroke="#2800e0" stroke-width="0.9" fill="none"/>
<path d="M1165.6 847.7h1M1207.4 856.8h1M1168.2 866h1M1155.2 902.5h1M1160.4 902.5h1M1123.8 923.8h1M1136.9 923.8h1M1147.3 923.8h1M1157.8 926.9h1M1160.4 926.9h1M1121.2 939h1M1173.5 942.1h1M1113.4 945.1h1M1142.1 948.2h1M1144.7 948.2h1M1116 951.2h1M1108.2 954.3h1M1110.8 954.3h1M1136.9 963.4h1M1116 972.5h1M1123.8 972.5h1M1134.3 972.5h1M1108.2 990.8h1M1113.4 990.8h1M1108.2 993.8h1M1095.1 996.9h1M1123.8 1152.1h1M1079.4 1161.2h1M1069 1167.3h1" stroke="#2800e0" stroke-width="1.2" fill="none"/>
<path d="M1093.7 1116.8h1.1M1093.5 1132.3h1.1M1095.4 1164.4h1.1" stroke="#2800e0" stroke-width="1.1" fill="none"/>
<path d="M1165.5 866h1.2M1160.3 884.2h1.2M1162.9 890.3h1.2M1160.3 899.5h1.2M1149.8 908.6h1.2M1173.4 908.6h1.2M1183.8 914.7h1.2M1170.7 917.7h1.2M1128.9 920.8h1.2M1142 920.8h1.2M1144.6 926.9h1.2M1149.8 926.9h1.2M1155.1 926.9h1.2M1170.7 926.9h1.2M1144.6 929.9h1.2M1126.3 936h1.2M1128.9 936h1.2M1134.2 936h1.2M1136.8 936h1.2M1149.8 936h1.2M1139.4 939h1.2M1165.5 945.1h1.2M1168.1 951.2h1.2M1131.6 963.4h1.2M1134.2 969.5h1.2M1149.8 969.5h1.2M1126.3 972.5h1.2M1105.4 978.6h1.2M1108.1 978.6h1.2M1121.1 978.6h1.2M1113.3 981.6h1.2M1128.9 984.7h1.2M1113.3 987.7h1.2M1121.1 1152.1h1.2M1100.2 1155.2h1.2M1092.4 1164.3h1.2" stroke="#2800e0" stroke-width="1.4" fill="none"/>
<path d="M1509.6 882.7h1.3M1508.8 928.3h1.3M1509.3 962.2h1.3M1507.7 967.5h1.3M1508.5 994.4h1.3M1508.9 1002.7h1.3M1509.5 1019.7h1.3M1508.4 1026.2h1.3M1509 1027.8h1.3M1508.1 1085h1.3M1508.2 1087.4h1.3M1093.7 1133.8h1.3M1093.7 1166.2h1.3M1510.9 1171.9h1.3M1094.7 1178.5h1.3M1508.7 1182.7h1.3M1509.5 1185.6h1.3M1509 1194.8h1.3M1096.3 1248.8h1.3M1509.6 1249.3h1.3" stroke="#2800e0" stroke-width="1.3" fill="none"/>
<path d="M1127.6 780.7h1.4M1130.2 780.7h1.4M1131.5 780.7h1.4M1158.9 780.7h1.4M1155 782.3h1.4M1126.3 783.8h1.4M1128.9 783.8h1.4M1151.1 783.8h1.4M1128.9 786.8h1.4M1145.8 786.8h1.4M1149.8 786.8h1.4M1128.9 788.4h1.4M1143.2 788.4h1.4M1141.9 791.4h1.4M1121 792.9h1.4M1141.9 792.9h1.4M1143.2 794.4h1.4M1119.7 796h1.4M1123.6 796h1.4M1115.8 797.5h1.4M1141.9 797.5h1.4M1141.9 799h1.4M1139.3 800.5h1.4M1117.1 802.1h1.4M1119.7 802.1h1.4M1138 802.1h1.4M1114.5 805.1h1.4M1111.9 806.6h1.4M1114.5 806.6h1.4M1130.2 806.6h1.4M1131.5 808.1h1.4M1110.6 809.7h1.4M1132.8 809.7h1.4M1110.6 811.2h1.4M1130.2 811.2h1.4M1123.6 812.7h1.4M1100.1 818.8h1.4M1102.8 818.8h1.4M1106.7 818.8h1.4M1104.1 821.8h1.4M1096.2 823.4h1.4M1207.2 844.7h1.4M1165.4 853.8h1.4M1168.1 853.8h1.4M1160.2 881.2h1.4M1165.4 881.2h1.4M1190.3 888.8h1.4M1160.2 891.8h1.4M1161.5 891.8h1.4M1160.2 894.9h1.4M1152.4 896.4h1.4M1187.6 901h1.4M1187.6 902.5h1.4M1165.4 905.5h1.4M1185 907.1h1.4M1139.3 911.6h1.4M1152.4 914.7h1.4M1165.4 914.7h1.4M1170.7 914.7h1.4M1187.6 916.2h1.4M1139.3 917.7h1.4M1181.1 917.7h1.4M1185 917.7h1.4M1144.5 920.8h1.4M1147.2 920.8h1.4M1182.4 922.3h1.4M1126.3 923.8h1.4M1134.1 926.9h1.4M1147.2 926.9h1.4M1177.2 931.4h1.4M1172 932.9h1.4M1144.5 939h1.4M1155 939h1.4M1162.8 939h1.4M1174.6 939h1.4M1162.8 942.1h1.4M1175.9 943.6h1.4M1136.7 945.1h1.4M1155 945.1h1.4M1174.6 945.1h1.4M1118.4 948.2h1.4M1123.6 948.2h1.4M1157.6 948.2h1.4M1162.8 948.2h1.4M1170.7 948.2h1.4M1172 948.2h1.4M1164.1 949.7h1.4M1162.8 951.2h1.4M1170.7 951.2h1.4M1155 954.3h1.4M1162.8 954.3h1.4M1156.3 955.8h1.4M1126.3 957.3h1.4M1128.9 957.3h1.4M1162.8 957.3h1.4M1168.1 957.3h1.4M1153.7 958.8h1.4M1118.4 960.3h1.4M1157.6 960.3h1.4M1128.9 963.4h1.4M1144.5 963.4h1.4M1113.2 966.4h1.4M1139.3 966.4h1.4M1148.5 966.4h1.4M1149.8 966.4h1.4M1118.4 969.5h1.4M1128.9 969.5h1.4M1143.2 969.5h1.4M1140.6 971h1.4M1128.9 975.6h1.4M1131.5 975.6h1.4M1134.1 978.6h1.4M1135.4 978.6h1.4M1141.9 978.6h1.4M1128.9 980.1h1.4M1134.1 980.1h1.4M1121 981.6h1.4M1128.9 981.6h1.4M1123.6 983.2h1.4M1126.3 983.2h1.4M1118.4 984.7h1.4M1121 986.2h1.4M1097.5 987.7h1.4M1115.8 987.7h1.4M1096.2 989.3h1.4M1097.5 989.3h1.4M1094.9 990.8h1.4M1096.2 990.8h1.4M1114.5 990.8h1.4M1101.4 992.3h1.4M1102.8 992.3h1.4M1092.3 993.8h1.4M1100.1 993.8h1.4M1101.4 993.8h1.4M1102.8 993.8h1.4M1118.4 993.8h1.4M1097.5 996.9h1.4M1108 996.9h1.4M1110.6 996.9h1.4M1097.5 1006h1.4M1104.1 1042.5h1.4M1106.7 1042.5h1.4M1105.4 1045.6h1.4M1108 1045.6h1.4M1102.8 1047.1h1.4M1105.4 1047.1h1.4M1110.6 1047.1h1.4M1106.7 1048.6h1.4M1108 1048.6h1.4M1104.1 1050.1h1.4M1106.7 1050.1h1.4M1098.8 1097.3h1.4M1100.1 1097.3h1.4M1101.4 1097.3h1.4M1104.1 1097.3h1.4M1097.5 1098.8h1.4M1098.8 1098.8h1.4M1100.1 1098.8h1.4M1101.4 1098.8h1.4M1102.8 1098.8h1.4M1104.1 1098.8h1.4M1190.3 1111h1.4M1191.6 1114.1h1.4M1187.6 1117.1h1.4M1185 1123.2h1.4M1182.4 1124.7h1.4M1182.4 1126.2h1.4M1179.8 1127.8h1.4M1177.2 1129.3h1.4M1172 1130.8h1.4M1174.6 1130.8h1.4M1172 1132.3h1.4M1165.4 1135.4h1.4M1169.4 1135.4h1.4M1162.8 1136.9h1.4M1166.7 1139.9h1.4M1157.6 1143h1.4M1164.1 1143h1.4M1148.5 1147.5h1.4M1127.6 1152.1h1.4M1130.2 1152.1h1.4M1130.2 1153.6h1.4M1130.2 1155.2h1.4M1081.9 1158.2h1.4M1084.5 1158.2h1.4M1111.9 1158.2h1.4M1114.5 1158.2h1.4M1100.1 1162.8h1.4M1068.8 1170.4h1.4M1071.4 1170.4h1.4M1074 1170.4h1.4M1076.6 1170.4h1.4M1108 1260.2h1.4M1088.4 1261.7h1.4M1094.9 1261.7h1.4M1083.2 1263.2h1.4" stroke="#2800e0" stroke-width="1.6" fill="none"/>
<path d="M1509.5 846.2h1.6M1509.9 884h1.6M1509.7 902.4h1.6M1509.2 902.5h1.6M1509.6 934.4h1.6M1509.1 967.5h1.6M1509.6 1011.8h1.6M1508.3 1046.1h1.6M1508.1 1050.7h1.6M1509.7 1054.9h1.6M1508.7 1066.7h1.6M1509 1077.7h1.6M1508.7 1088.4h1.6M1509.7 1102.3h1.6M1508.9 1159h1.6M1508.5 1214.3h1.6M1075.6 1216.5h1.6M1075.7 1217.3h1.6" stroke="#2800e0" stroke-width="1.6" fill="none"/>
<path d="M1056.8 1171.9h1.8M1056.8 1173.4h1.8" stroke="#2800e0" stroke-width="1.8" fill="none"/>
<path d="M1093.1 890.1h1.9M1215.7 915.9h1.9M1316 941.9h1.9M1454.1 1003.9h1.9M1503 1019.1h1.9M1286.5 1089.9h1.9M1391.7 1123.9h1.9M1556.7 1232.1h1.9" stroke="#2800e0" stroke-width="1.9" fill="none"/>
<path d="M1508.4 791.9h2M1507.5 837.6h2M1508.9 881.6h2M1509.4 885.4h2M1509.8 885.9h2M1509.9 947.4h2M1510.1 960.4h2M1509.1 961.4h2M1509.2 964.2h2M1508.2 1000.3h2M1509.7 1055h2M1508.3 1063.8h2M1509.9 1070.6h2M1509.2 1109.4h2M1508.9 1117.3h2M1507.8 1157.8h2M1507.3 1263.2h2" stroke="#2800e0" stroke-width="2" fill="none"/>
<path d="M1049.8 804.3h2.2M1066.9 845.1h2.2M1537.2 929.1h2.2M1295.7 958.2h2.2M1282.2 965.9h2.2M1092.8 1064.5h2.2M1295.6 1102.8h2.2M1497.2 1115.9h2.2M1344.1 1144.8h2.2M1211.2 1191.3h2.2M1160.9 1253.6h2.2M1395.2 1274h2.2" stroke="#2800e0" stroke-width="2.2" fill="none"/>
<path d="M1191.2 861.1h2.4M1251.4 912.4h2.4M1283.4 988.7h2.4M1223.8 1069.3h2.4M1435.2 1159.7h2.4M1488.4 1181.8h2.4M1209.3 1221.6h2.4M1195 1252.1h2.4" stroke="#2800e0" stroke-width="2.4" fill="none"/>
<path d="M1095 852.6h0.9M1095.1 961.9h0.9M1093.3 1082.6h0.9M1095.3 1083.6h0.9M1094.8 1117.2h0.9M1094.6 1181.5h0.9" stroke="#10d8f8" stroke-width="0.9" fill="none"/>
<path d="M1215.2 820.3h1M1215.2 823.4h1M1210 829.4h1M1215.2 829.4h1M1212.6 832.5h1M1165.6 917.7h1M1186.5 923.8h1M1142.1 929.9h1M1142.1 932.9h1M1183.9 945.1h1M1147.3 951.2h1M1136.9 954.3h1M1131.7 969.5h1M1102.9 984.7h1M1087.3 996.9h1M1069 1164.3h1" stroke="#10d8f8" stroke-width="1.2" fill="none"/>
<path d="M1095.3 917.6h1.1M1095.2 1022.2h1.1M1094.3 1027.8h1.1" stroke="#10d8f8" stroke-width="1.1" fill="none"/>
<path d="M1215.1 814.2h1.2M1149.8 893.4h1.2M1183.8 896.4h1.2M1160.3 920.8h1.2M1162.9 920.8h1.2M1168.1 920.8h1.2M1118.5 926.9h1.2M1142 936h1.2M1176 936h1.2M1178.6 939h1.2M1134.2 948.2h1.2M1126.3 969.5h1.2M1100.2 999.9h1.2M1113.3 1149.1h1.2" stroke="#10d8f8" stroke-width="1.4" fill="none"/>
<path d="M1509 886.1h1.3M1507.9 913.2h1.3M1509.8 975.7h1.3M1509.7 979.7h1.3M1508.5 1037.6h1.3M1092.7 1048.9h1.3M1509.9 1051.8h1.3M1094.3 1066.2h1.3M1508.1 1075.6h1.3M1114.4 1093.2h1.3M1114.1 1098.6h1.3M1113.7 1103.3h1.3M1114.5 1103.6h1.3M1093.1 1114.2h1.3M1114.6 1123.7h1.3M1114.1 1125.8h1.3M1114.4 1130.1h1.3M1114.3 1137.1h1.3M1114.3 1139.8h1.3M1188.2 1157.8h1.3M1094 1165.2h1.3M1509.4 1166h1.3M1507.6 1185.4h1.3M1509.8 1191.8h1.3M1188.3 1193.5h1.3M1115.4 1226.5h1.3M1115.2 1230.7h1.3M1097.9 1234.2h1.3M1189.4 1236.3h1.3M1096.8 1244.3h1.3M1099.1 1254.8h1.3M1096 1258h1.3" stroke="#10d8f8" stroke-width="1.3" fill="none"/>
<path d="M1209.8 814.2h1.4M1209.8 820.3h1.4M1209.8 826.4h1.4M1207.2 832.5h1.4M1209.8 841.6h1.4M1213.8 846.2h1.4M1209.8 847.7h1.4M1212.5 849.2h1.4M1213.8 849.2h1.4M1213.8 852.3h1.4M1209.8 853.8h1.4M1213.8 853.8h1.4M1196.8 884.2h1.4M1162.8 893.4h1.4M1165.4 893.4h1.4M1191.6 893.4h1.4M1196.8 893.4h1.4M1194.2 899.5h1.4M1191.6 905.5h1.4M1170.7 908.6h1.4M1136.7 914.7h1.4M1149.8 914.7h1.4M1157.6 914.7h1.4M1173.3 914.7h1.4M1178.5 917.7h1.4M1152.4 929.9h1.4M1144.5 932.9h1.4M1181.1 932.9h1.4M1152.4 936h1.4M1123.6 939h1.4M1131.5 942.1h1.4M1178.5 942.1h1.4M1113.2 954.3h1.4M1147.2 954.3h1.4M1102.8 957.3h1.4M1097.5 981.6h1.4M1094.9 984.7h1.4M1100.1 984.7h1.4M1084.5 993.8h1.4M1092.3 1003h1.4M1092.3 1260.2h1.4M1104.1 1260.2h1.4M1096.2 1261.7h1.4M1098.8 1261.7h1.4M1075.3 1263.2h1.4M1077.9 1263.2h1.4M1080.5 1263.2h1.4M1088.4 1263.2h1.4M1105.4 1263.2h1.4M1072.7 1264.7h1.4M1080.5 1264.7h1.4M1094.9 1264.7h1.4M1100.1 1264.7h1.4M1101.4 1264.7h1.4M1047.9 1266.3h1.4M1049.2 1266.3h1.4M1091 1266.3h1.4M1104.1 1266.3h1.4M1051.8 1267.8h1.4M1049.2 1269.3h1.4" stroke="#10d8f8" stroke-width="1.6" fill="none"/>
<path d="M1507.4 892.3h1.6M1507.6 990.8h1.6M1508.1 1065h1.6M1114.1 1083.3h1.6M1113.7 1107.5h1.6M1113.5 1122.1h1.6M1115.2 1122.9h1.6M1114.1 1146.8h1.6M1113.7 1148.8h1.6M1509.2 1158.5h1.6M1509.8 1206.9h1.6M1075.9 1211.6h1.6M1076.4 1234.3h1.6M1075.3 1236.2h1.6M1114.8 1242.2h1.6M1075.9 1243.2h1.6M1098.7 1255.6h1.6M1096.4 1258.4h1.6" stroke="#10d8f8" stroke-width="1.6" fill="none"/>
<path d="M1189.2 1151.5h1.8M1058.1 1171.9h1.8M1060.7 1171.9h1.8M1052.9 1173.4h1.8M1054.2 1173.4h1.8M1189.3 1233.7h1.8" stroke="#10d8f8" stroke-width="1.8" fill="none"/>
<path d="M1257.3 782.8h1.9M1258 782.9h1.9M1218.9 788.8h1.9M1257.4 804.9h1.9M1155.2 827.2h1.9M1494.3 831.3h1.9M1492.9 836h1.9M1080.4 836.9h1.9M1492.9 839.1h1.9M1164.2 875.3h1.9M1525.2 912.1h1.9M1440.8 929.3h1.9M1433.1 937.7h1.9M1301.8 975.9h1.9M1310.8 985.3h1.9M1502.1 1021.8h1.9M1257.3 1053.6h1.9M1422.3 1058.9h1.9M1477.4 1068.1h1.9M1072 1070.6h1.9M1050.2 1076.9h1.9M1078 1078.3h1.9M1258.5 1079.7h1.9M1258.5 1082.8h1.9M1258.5 1085.8h1.9M1073.9 1086.4h1.9M1258.5 1088.9h1.9M1258.5 1091.9h1.9M1235.4 1113.2h1.9M1104.2 1171.6h1.9M1212 1217.7h1.9M1491 1228.9h1.9M1243.4 1231.4h1.9M1491 1232h1.9M1174.4 1233.2h1.9M1491 1235h1.9M1491 1238.1h1.9M1491 1241.1h1.9M1266.5 1256.9h1.9M1218.6 1269.3h1.9M1138.8 1275.1h1.9" stroke="#10d8f8" stroke-width="1.9" fill="none"/>
<path d="M1508.6 929.9h2M1509.3 1059.7h2M1508.7 1138.2h2M1509.5 1181.8h2" stroke="#10d8f8" stroke-width="2" fill="none"/>
<path d="M1256.8 786.1h2.2M1327.7 787.5h2.2M1258.2 788.6h2.2M1256.8 789.2h2.2M1276 791h2.2M1256.7 791.2h2.2M1256.8 792.2h2.2M1349.9 793.2h2.2M1225.5 854.5h2.2M1354.6 871.9h2.2M1281.1 875.7h2.2M1558.6 880.2h2.2M1493.5 912.2h2.2M1493.5 915.2h2.2M1493.5 918.3h2.2M1240.9 924.2h2.2M1522 938.1h2.2M1224.6 958.5h2.2M1217.6 964.5h2.2M1272.2 964.8h2.2M1231.3 967.5h2.2M1543.5 967.9h2.2M1072.3 977.1h2.2M1257.7 983h2.2M1257.8 994.2h2.2M1257.8 997.2h2.2M1257.8 1000.3h2.2M1257.8 1003.3h2.2M1297.6 1010.6h2.2M1360.5 1020h2.2M1492.8 1040.7h2.2M1258.2 1057h2.2M1217.6 1061.9h2.2M1522.7 1062h2.2M1407 1067.3h2.2M1259.1 1072.5h2.2M1259.1 1075.5h2.2M1259.1 1078.6h2.2M1259.1 1081.6h2.2M1218.6 1101.2h2.2M1230.6 1116.1h2.2M1399.6 1132.1h2.2M1318.6 1141.6h2.2M1135.8 1197.3h2.2M1160.9 1200.6h2.2M1224 1216.6h2.2M1296.5 1218.9h2.2M1083.4 1228.6h2.2M1184.9 1247.4h2.2M1492.1 1264.5h2.2M1493 1265.9h2.2M1076.9 1273.1h2.2" stroke="#10d8f8" stroke-width="2.2" fill="none"/>
<path d="M1257.9 783.4h2.4M1258.1 785h2.4M1258.1 788.1h2.4M1258.1 791.1h2.4M1258.1 794.2h2.4M1258.1 797.2h2.4M1258.2 813.9h2.4M1482.1 826.7h2.4M1071.7 836.8h2.4M1225.4 837.8h2.4M1190.4 916.4h2.4M1257.4 978.4h2.4M1258.1 981.1h2.4M1257.4 981.5h2.4M1258.1 984.1h2.4M1258.1 987.2h2.4M1258.1 990.2h2.4M1258.3 999.1h2.4M1205.8 999.3h2.4M1258.3 1002.1h2.4M1233.4 1015.8h2.4M1321.4 1084h2.4M1529.5 1094.4h2.4M1245.2 1094.8h2.4M1327 1104.1h2.4M1206.2 1119.5h2.4M1270.9 1137.8h2.4M1238.3 1159.2h2.4M1072.6 1167.6h2.4M1177.9 1195.8h2.4M1493 1232.4h2.4M1493.9 1235.4h2.4M1493 1235.4h2.4M1493 1238.5h2.4M1072.6 1261.6h2.4M1195.1 1272h2.4M1048.7 1272.6h2.4" stroke="#10d8f8" stroke-width="2.4" fill="none"/>
<path d="M1095.1 1084.1h0.9" stroke="#40a8f8" stroke-width="0.9" fill="none"/>
<path d="M1217.9 841.6h1" stroke="#40a8f8" stroke-width="1.2" fill="none"/>
<path d="M1094 1084.8h1.1M1093.7 1111.6h1.1" stroke="#40a8f8" stroke-width="1.1" fill="none"/>
<path d="M1204.7 823.4h1.2M1217.8 832.5h1.2M1215.1 835.5h1.2" stroke="#40a8f8" stroke-width="1.4" fill="none"/>
<path d="M1508.4 998.9h1.3M1507.3 1009.3h1.3M1508.5 1050.1h1.3M1094.2 1061.1h1.3M1113.9 1090.6h1.3M1257.3 1128.5h1.3M1114.1 1132.5h1.3M1257.2 1134.2h1.3M1114.4 1134.9h1.3M1257.3 1137.9h1.3M1256.9 1138.9h1.3M1257.6 1139.6h1.3M1257.8 1143.5h1.3M1094 1143.6h1.3M1257.4 1144.3h1.3M1257.7 1152.5h1.3M1257.3 1154.6h1.3M1257.2 1160.1h1.3M1257.4 1162.1h1.3M1257.7 1163.2h1.3M1256.9 1163.3h1.3M1257.2 1163.6h1.3M1257.7 1165.6h1.3M1257.6 1167.6h1.3M1257.5 1173.1h1.3M1257 1177.4h1.3M1257.3 1179.1h1.3M1257.3 1179.6h1.3M1257.2 1180.1h1.3M1509.1 1182.3h1.3M1257.3 1183.1h1.3M1257.1 1183.4h1.3M1257.5 1184.6h1.3M1257 1186.8h1.3M1188.7 1186.8h1.3M1257.3 1190.3h1.3M1509.2 1192.9h1.3M1257.7 1195h1.3M1257 1198.2h1.3M1257.4 1199.9h1.3M1257.5 1201.4h1.3M1257.4 1201.7h1.3M1257 1203.5h1.3M1257 1205.2h1.3M1257.4 1210.9h1.3M1256.8 1211.7h1.3M1257.2 1212.3h1.3M1257 1213.4h1.3M1257.8 1214.5h1.3M1257.4 1216.4h1.3M1159 1224.6h1.3M1257.6 1225.6h1.3M1257 1228.1h1.3M1257.4 1229h1.3M1257.3 1236.4h1.3M1257.4 1239.9h1.3M1257.2 1246.7h1.3M1257 1247.6h1.3M1257.1 1248.2h1.3M1257.2 1253h1.3M1258.2 1254.8h1.3M1258 1255.7h1.3M1257.6 1257.6h1.3M1257.5 1260.1h1.3M1257.4 1265.8h1.3M1257.6 1266.3h1.3M1257 1268.5h1.3M1257.2 1270h1.3M1257.1 1271.8h1.3M1257.1 1273.3h1.3M1256.9 1275.3h1.3" stroke="#40a8f8" stroke-width="1.3" fill="none"/>
<path d="M1211.1 849.2h1.4M1215.1 849.2h1.4M1208.5 850.8h1.4M1212.5 850.8h1.4M1216.4 850.8h1.4M1212.5 852.3h1.4M1081.9 1261.7h1.4M1087.1 1261.7h1.4M1089.7 1261.7h1.4M1092.3 1261.7h1.4M1101.4 1261.7h1.4M1102.8 1261.7h1.4M1105.4 1261.7h1.4" stroke="#40a8f8" stroke-width="1.6" fill="none"/>
<path d="M1508.3 803.1h1.6M1508.1 840.1h1.6M1508.9 899.8h1.6M1508.8 929.8h1.6M1508 988.5h1.6M1509.6 1091.1h1.6M1113.5 1119.8h1.6M1508.4 1129.8h1.6M1113.6 1133.6h1.6M1508.7 1213.3h1.6" stroke="#40a8f8" stroke-width="1.6" fill="none"/>
<path d="M1188.8 1129.8h1.8M1189.4 1131.7h1.8M1186.6 1223.3h1.8M1157.7 1224.1h1.8" stroke="#40a8f8" stroke-width="1.8" fill="none"/>
<path d="M1257.5 793.2h1.9M1257.4 817.4h1.9M1257.4 820.4h1.9M1491.6 888.5h1.9M1491.6 891.5h1.9M1491.6 894.6h1.9M1447.9 923.5h1.9M1257.6 1008h1.9M1257.6 1011.1h1.9M1258.1 1012h1.9M1257.6 1014.1h1.9M1258.1 1015.1h1.9M1257.6 1017.2h1.9M1257.6 1020.2h1.9M1258.7 1047.3h1.9M1258.7 1050.4h1.9M1258.4 1081.3h1.9M1258.4 1084.3h1.9M1258.4 1087.4h1.9M1491.5 1089.6h1.9M1258.4 1090.4h1.9M1258.4 1093.5h1.9M1492.4 1100.8h1.9M1257.7 1106.1h1.9M1257.7 1109.1h1.9M1206.6 1111.9h1.9M1449.2 1115.7h1.9M1257.6 1126h1.9M1453.1 1126.7h1.9M1323.7 1156.5h1.9M1492.5 1160h1.9M1492.5 1163h1.9M1492.5 1166.1h1.9M1492.5 1169.1h1.9M1492.5 1172.2h1.9M1201 1189.6h1.9" stroke="#40a8f8" stroke-width="1.9" fill="none"/>
<path d="M1508.4 880.1h2M1509.3 1016.5h2M1508.8 1048.9h2M1509.3 1090.7h2M1507.9 1094.4h2M1509.3 1103.5h2M1508.4 1117.7h2M1508.7 1151.8h2M1508.1 1152.4h2M1188.6 1193h2M1188.6 1194.1h2M1189 1194.2h2M1189.1 1195.8h2M1189 1196h2M1189 1197.7h2" stroke="#40a8f8" stroke-width="2" fill="none"/>
<path d="M1258.5 786.3h2.2M1258.5 789.3h2.2M1227.1 789.7h2.2M1257.6 790.3h2.2M1258.5 792.4h2.2M1257.6 793.4h2.2M1257.6 796.4h2.2M1110.7 797.6h2.2M1257.6 818h2.2M1257.6 821.1h2.2M1436.6 821.9h2.2M1219.6 852.1h2.2M1492 887.9h2.2M1492 891h2.2M1492 894h2.2M1351.9 932.7h2.2M1492.5 937.7h2.2M1240.6 939.6h2.2M1492.5 940.7h2.2M1492.5 943.8h2.2M1492.5 946.8h2.2M1434.1 960.1h2.2M1482.8 986.7h2.2M1493.2 989.3h2.2M1493.2 992.4h2.2M1493.2 995.4h2.2M1493.2 998.5h2.2M1491.5 1003.5h2.2M1492 1015.7h2.2M1257.8 1025.3h2.2M1257.8 1028.3h2.2M1257.8 1031.4h2.2M1257.8 1034.4h2.2M1204.5 1043.7h2.2M1257.6 1122.1h2.2M1216.2 1129.7h2.2M1248.3 1135.9h2.2M1492.6 1142.6h2.2M1492.1 1165.8h2.2M1492.1 1168.9h2.2M1492.1 1171.9h2.2M1492.1 1175h2.2M1492.1 1178h2.2M1073.2 1199.3h2.2M1493.9 1205.9h2.2M1232.1 1213.9h2.2M1147.3 1253.2h2.2M1056.1 1255.7h2.2M1310.9 1271.1h2.2" stroke="#40a8f8" stroke-width="2.2" fill="none"/>
<path d="M1257.4 799.1h2.4M1257.7 799.4h2.4M1097.7 804.4h2.4M1411 847.9h2.4M1241.7 858.2h2.4M1214.3 889.6h2.4M1153.9 909.4h2.4M1459.7 911.4h2.4M1493.5 960h2.4M1258.4 980.8h2.4M1257.8 982.5h2.4M1491.3 1018.6h2.4M1491.3 1021.6h2.4M1491.9 1021.9h2.4M1491.3 1024.7h2.4M1257.3 1046.1h2.4M1240.5 1048.1h2.4M1492 1048.4h2.4M1257.3 1049.2h2.4M1492 1051.5h2.4M1257.3 1052.2h2.4M1258.1 1053.5h2.4M1257.3 1055.3h2.4M1258.1 1056.6h2.4M1257.3 1057.3h2.4M1257.3 1058.3h2.4M1258.1 1059.6h2.4M1257.3 1060.3h2.4M1258.1 1062.7h2.4M1257.3 1063.4h2.4M1258.1 1065.7h2.4M1257.3 1066.4h2.4M1258.5 1085.7h2.4M1218.1 1091.7h2.4M1248 1103.5h2.4M1257.2 1125.1h2.4M1257.2 1128.2h2.4M1257.2 1131.2h2.4M1493.1 1131.9h2.4M1493.1 1135h2.4M1492 1135h2.4M1493.1 1138h2.4M1492 1138.1h2.4M1493.1 1141.1h2.4M1492 1141.1h2.4M1045.3 1143.3h2.4M1493.1 1144.1h2.4M1492 1144.2h2.4M1404.8 1161.1h2.4M1301.9 1222h2.4M1492.5 1222.8h2.4M1421.8 1227.6h2.4M1492.2 1232.7h2.4M1211.3 1240.3h2.4M1492.7 1243.2h2.4M1493.6 1245.6h2.4" stroke="#40a8f8" stroke-width="2.4" fill="none"/>
<path d="M1204.8 802.1h1M1202.2 808.1h1M1204.8 814.2h1M1202.2 823.4h1M1202.2 832.5h1M1202.2 838.6h1M1204.8 838.6h1M1199.6 859.9h1M1202.2 866h1M1194.3 902.5h1M1165.6 939h1M1155.2 963.4h1M1139.5 969.5h1M1139.5 978.6h1M1136.9 981.6h1M1131.7 984.7h1M1113.4 993.8h1" stroke="#008010" stroke-width="1.2" fill="none"/>
<path d="M1202.1 844.7h1.2M1204.7 847.7h1.2M1202.1 856.8h1.2M1196.9 887.3h1.2M1173.4 920.8h1.2M1168.1 936h1.2M1168.1 939h1.2M1160.3 945.1h1.2M1149.8 972.5h1.2M1134.2 984.7h1.2M1121.1 990.8h1.2M1121.1 993.8h1.2" stroke="#008010" stroke-width="1.4" fill="none"/>
<path d="M1275.3 813.8h1.3M1274.7 814.6h1.3M1275.4 815.1h1.3M1275.5 818.7h1.3M1275.3 828h1.3M1275.4 881.9h1.3M1275.1 891.3h1.3M1275.9 897.6h1.3M1275.4 898.5h1.3M1276.3 906.5h1.3M1274.7 973.9h1.3M1275 977.2h1.3M1274.7 1041.3h1.3M1291.1 1060.4h1.3M1275.6 1065.1h1.3M1275.5 1065.3h1.3M1276.1 1066.6h1.3M1276.3 1084.4h1.3M1274.8 1086.1h1.3M1290.4 1112.2h1.3M1290.6 1135h1.3M1275.2 1136.8h1.3M1290.6 1138h1.3M1275.8 1139h1.3M1290.6 1141.1h1.3M1290.6 1144.1h1.3M1275.4 1164.3h1.3M1290.9 1171.5h1.3M1274.8 1176.2h1.3M1290.6 1181.9h1.3M1509.7 1196.5h1.3M1275.6 1206.4h1.3M1290.9 1216.4h1.3M1290.9 1219.4h1.3M1097.4 1240.5h1.3M1291 1266h1.3M1291 1269h1.3M1291 1272.1h1.3M1276.1 1272.6h1.3M1291 1275.1h1.3" stroke="#008010" stroke-width="1.3" fill="none"/>
<path d="M1156.3 779.2h1.4M1153.7 780.7h1.4M1156.3 780.7h1.4M1152.4 782.3h1.4M1149.8 785.3h1.4M1151.1 785.3h1.4M1147.2 786.8h1.4M1145.8 788.4h1.4M1145.8 789.9h1.4M1145.8 791.4h1.4M1144.5 792.9h1.4M1141.9 794.4h1.4M1144.5 794.4h1.4M1138 797.5h1.4M1140.6 797.5h1.4M1139.3 799h1.4M1134.1 803.6h1.4M1135.4 803.6h1.4M1138 803.6h1.4M1135.4 805.1h1.4M1136.7 805.1h1.4M1136.7 806.6h1.4M1130.2 808.1h1.4M1134.1 808.1h1.4M1136.7 808.1h1.4M1127.6 809.7h1.4M1128.9 809.7h1.4M1130.2 809.7h1.4M1131.5 809.7h1.4M1123.6 811.2h1.4M1202 811.2h1.4M1125 812.7h1.4M1126.3 812.7h1.4M1127.6 812.7h1.4M1130.2 812.7h1.4M1122.3 814.2h1.4M1125 814.2h1.4M1126.3 815.7h1.4M1125 817.3h1.4M1125 818.8h1.4M1204.6 820.3h1.4M1204.6 826.4h1.4M1199.4 832.5h1.4M1202 847.7h1.4M1202 850.8h1.4M1196.8 862.9h1.4M1204.6 862.9h1.4M1204.6 866h1.4M1204.6 869h1.4M1199.4 872.1h1.4M1194.2 881.2h1.4M1186.3 882.7h1.4M1192.9 884.2h1.4M1188.9 885.8h1.4M1190.3 887.3h1.4M1191.6 887.3h1.4M1191.6 888.8h1.4M1192.9 888.8h1.4M1188.9 890.3h1.4M1192.9 890.3h1.4M1191.6 891.8h1.4M1186.3 893.4h1.4M1187.6 893.4h1.4M1188.9 893.4h1.4M1187.6 894.9h1.4M1188.9 894.9h1.4M1190.3 894.9h1.4M1187.6 897.9h1.4M1191.6 897.9h1.4M1192.9 897.9h1.4M1187.6 899.5h1.4M1192.9 899.5h1.4M1183.7 901h1.4M1186.3 901h1.4M1191.6 902.5h1.4M1182.4 905.5h1.4M1185 905.5h1.4M1186.3 905.5h1.4M1187.6 905.5h1.4M1183.7 907.1h1.4M1187.6 907.1h1.4M1183.7 908.6h1.4M1186.3 908.6h1.4M1187.6 908.6h1.4M1183.7 910.1h1.4M1185 910.1h1.4M1182.4 911.6h1.4M1186.3 911.6h1.4M1188.9 911.6h1.4M1182.4 913.2h1.4M1183.7 913.2h1.4M1185 913.2h1.4M1186.3 914.7h1.4M1181.1 916.2h1.4M1182.4 916.2h1.4M1183.7 916.2h1.4M1179.8 917.7h1.4M1183.7 917.7h1.4M1179.8 920.8h1.4M1181.1 920.8h1.4M1182.4 920.8h1.4M1179.8 922.3h1.4M1175.9 923.8h1.4M1178.5 923.8h1.4M1179.8 923.8h1.4M1181.1 923.8h1.4M1175.9 926.9h1.4M1181.1 926.9h1.4M1183.7 926.9h1.4M1175.9 928.4h1.4M1177.2 928.4h1.4M1178.5 928.4h1.4M1179.8 928.4h1.4M1174.6 929.9h1.4M1175.9 931.4h1.4M1179.8 931.4h1.4M1177.2 932.9h1.4M1178.5 932.9h1.4M1177.2 934.5h1.4M1170.7 936h1.4M1173.3 936h1.4M1174.6 936h1.4M1181.1 936h1.4M1174.6 937.5h1.4M1175.9 937.5h1.4M1170.7 939h1.4M1173.3 939h1.4M1169.4 940.6h1.4M1172 940.6h1.4M1174.6 940.6h1.4M1175.9 940.6h1.4M1157.6 942.1h1.4M1164.1 942.1h1.4M1165.4 942.1h1.4M1166.7 942.1h1.4M1168.1 942.1h1.4M1169.4 942.1h1.4M1170.7 942.1h1.4M1172 942.1h1.4M1169.4 943.6h1.4M1172 943.6h1.4M1174.6 943.6h1.4M1170.7 945.1h1.4M1175.9 945.1h1.4M1164.1 946.6h1.4M1166.7 946.6h1.4M1169.4 946.6h1.4M1172 946.6h1.4M1160.2 948.2h1.4M1164.1 948.2h1.4M1165.4 948.2h1.4M1166.7 948.2h1.4M1173.3 948.2h1.4M1178.5 948.2h1.4M1161.5 949.7h1.4M1165.4 949.7h1.4M1166.7 949.7h1.4M1170.7 949.7h1.4M1161.5 951.2h1.4M1164.1 951.2h1.4M1165.4 951.2h1.4M1169.4 951.2h1.4M1158.9 952.7h1.4M1164.1 952.7h1.4M1165.4 952.7h1.4M1157.6 954.3h1.4M1158.9 954.3h1.4M1164.1 954.3h1.4M1165.4 954.3h1.4M1166.7 954.3h1.4M1160.2 955.8h1.4M1161.5 955.8h1.4M1162.8 955.8h1.4M1164.1 955.8h1.4M1160.2 957.3h1.4M1164.1 957.3h1.4M1156.3 958.8h1.4M1158.9 958.8h1.4M1161.5 958.8h1.4M1155 960.3h1.4M1160.2 960.3h1.4M1161.5 960.3h1.4M1155 961.9h1.4M1156.3 961.9h1.4M1157.6 961.9h1.4M1152.4 963.4h1.4M1153.7 963.4h1.4M1157.6 963.4h1.4M1158.9 963.4h1.4M1147.2 964.9h1.4M1148.5 964.9h1.4M1149.8 964.9h1.4M1151.1 964.9h1.4M1152.4 964.9h1.4M1155 964.9h1.4M1156.3 964.9h1.4M1147.2 966.4h1.4M1155 966.4h1.4M1157.6 966.4h1.4M1144.5 967.9h1.4M1145.8 967.9h1.4M1148.5 967.9h1.4M1149.8 967.9h1.4M1156.3 967.9h1.4M1144.5 969.5h1.4M1147.2 969.5h1.4M1148.5 969.5h1.4M1205.9 969.5h1.4M1207.2 969.5h1.4M1143.2 971h1.4M1144.5 971h1.4M1147.2 971h1.4M1148.5 971h1.4M1149.8 971h1.4M1151.1 971h1.4M1205.9 971h1.4M1207.2 971h1.4M1138 972.5h1.4M1140.6 972.5h1.4M1141.9 972.5h1.4M1145.8 972.5h1.4M1147.2 972.5h1.4M1205.9 972.5h1.4M1132.8 974h1.4M1134.1 974h1.4M1138 974h1.4M1139.3 974h1.4M1140.6 974h1.4M1143.2 974h1.4M1147.2 974h1.4M1205.9 974h1.4M1207.2 974h1.4M1134.1 975.6h1.4M1135.4 975.6h1.4M1136.7 975.6h1.4M1138 975.6h1.4M1139.3 975.6h1.4M1140.6 975.6h1.4M1141.9 975.6h1.4M1205.9 975.6h1.4M1131.5 977.1h1.4M1132.8 977.1h1.4M1135.4 977.1h1.4M1139.3 977.1h1.4M1143.2 977.1h1.4M1126.3 978.6h1.4M1127.6 978.6h1.4M1128.9 978.6h1.4M1131.5 978.6h1.4M1132.8 978.6h1.4M1136.7 978.6h1.4M1205.9 978.6h1.4M1121 980.1h1.4M1130.2 980.1h1.4M1131.5 980.1h1.4M1205.9 980.1h1.4M1122.3 981.6h1.4M1123.6 981.6h1.4M1204.6 981.6h1.4M1205.9 981.6h1.4M1113.2 983.2h1.4M1115.8 983.2h1.4M1118.4 983.2h1.4M1121 983.2h1.4M1122.3 983.2h1.4M1127.6 983.2h1.4M1128.9 983.2h1.4M1131.5 983.2h1.4M1205.9 983.2h1.4M1207.2 983.2h1.4M1117.1 984.7h1.4M1121 984.7h1.4M1122.3 984.7h1.4M1123.6 984.7h1.4M1205.9 984.7h1.4M1207.2 984.7h1.4M1102.8 986.2h1.4M1108 986.2h1.4M1111.9 986.2h1.4M1114.5 986.2h1.4M1115.8 986.2h1.4M1125 986.2h1.4M1126.3 986.2h1.4M1205.9 986.2h1.4M1114.5 987.7h1.4M1118.4 987.7h1.4M1119.7 987.7h1.4M1126.3 987.7h1.4M1207.2 987.7h1.4M1104.1 989.3h1.4M1106.7 989.3h1.4M1113.2 989.3h1.4M1114.5 989.3h1.4M1115.8 989.3h1.4M1117.1 989.3h1.4M1207.2 989.3h1.4M1104.1 990.8h1.4M1109.3 990.8h1.4M1123.6 990.8h1.4M1204.6 990.8h1.4M1205.9 990.8h1.4M1104.1 992.3h1.4M1105.4 992.3h1.4M1106.7 992.3h1.4M1108 992.3h1.4M1113.2 992.3h1.4M1205.9 992.3h1.4M1204.6 993.8h1.4M1205.9 993.8h1.4M1101.4 995.3h1.4M1205.9 995.3h1.4M1205.9 996.9h1.4M1205.9 998.4h1.4M1207.2 998.4h1.4M1205.9 999.9h1.4M1204.6 1001.4h1.4M1205.9 1001.4h1.4M1207.2 1001.4h1.4M1207.2 1003h1.4M1204.6 1004.5h1.4M1205.9 1004.5h1.4M1207.2 1004.5h1.4M1205.9 1006h1.4M1207.2 1006h1.4M1205.9 1007.5h1.4M1205.9 1010.6h1.4M1205.9 1012.1h1.4M1204.6 1015.1h1.4M1205.9 1015.1h1.4M1207.2 1015.1h1.4M1205.9 1018.2h1.4M1204.6 1019.7h1.4M1205.9 1019.7h1.4M1204.6 1021.2h1.4M1204.6 1022.7h1.4M1205.9 1022.7h1.4M1204.6 1025.8h1.4M1205.9 1025.8h1.4M1205.9 1027.3h1.4M1204.6 1028.8h1.4M1205.9 1030.4h1.4M1205.9 1031.9h1.4M1204.6 1033.4h1.4M1204.6 1034.9h1.4M1204.6 1036.4h1.4M1203.3 1038h1.4M1203.3 1039.5h1.4M1203.3 1041h1.4M1204.6 1041h1.4M1205.9 1041h1.4M1204.6 1042.5h1.4M1205.9 1042.5h1.4M1203.3 1045.6h1.4M1203.3 1047.1h1.4M1204.6 1047.1h1.4M1203.3 1048.6h1.4M1202 1050.1h1.4M1203.3 1050.1h1.4M1204.6 1050.1h1.4M1203.3 1051.7h1.4M1204.6 1051.7h1.4M1203.3 1053.2h1.4M1204.6 1053.2h1.4M1203.3 1054.7h1.4M1204.6 1054.7h1.4M1204.6 1056.2h1.4M1202 1057.7h1.4M1203.3 1057.7h1.4M1203.3 1059.3h1.4M1204.6 1059.3h1.4M1203.3 1060.8h1.4M1203.3 1062.3h1.4M1202 1063.8h1.4M1203.3 1063.8h1.4M1202 1065.4h1.4M1203.3 1065.4h1.4M1204.6 1065.4h1.4M1203.3 1066.9h1.4M1202 1068.4h1.4M1204.6 1068.4h1.4M1202 1069.9h1.4M1203.3 1069.9h1.4M1200.7 1071.4h1.4M1202 1071.4h1.4M1203.3 1071.4h1.4M1200.7 1073h1.4M1202 1073h1.4M1203.3 1073h1.4M1202 1074.5h1.4M1200.7 1076h1.4M1202 1076h1.4M1203.3 1076h1.4M1200.7 1077.5h1.4M1202 1077.5h1.4M1200.7 1079.1h1.4M1202 1079.1h1.4M1202 1080.6h1.4M1200.7 1082.1h1.4M1202 1082.1h1.4M1200.7 1083.6h1.4M1200.7 1085.1h1.4M1198.1 1086.7h1.4M1199.4 1086.7h1.4M1200.7 1086.7h1.4M1200.7 1088.2h1.4M1198.1 1089.7h1.4M1199.4 1089.7h1.4M1200.7 1089.7h1.4M1199.4 1091.2h1.4M1200.7 1091.2h1.4M1198.1 1092.8h1.4M1199.4 1092.8h1.4M1196.8 1094.3h1.4M1198.1 1094.3h1.4M1199.4 1094.3h1.4M1198.1 1095.8h1.4M1196.8 1097.3h1.4M1198.1 1097.3h1.4M1198.1 1098.8h1.4M1199.4 1098.8h1.4M1196.8 1100.4h1.4M1198.1 1100.4h1.4M1195.5 1101.9h1.4M1196.8 1101.9h1.4M1195.5 1103.4h1.4M1195.5 1104.9h1.4M1196.8 1104.9h1.4M1194.2 1106.5h1.4M1195.5 1106.5h1.4M1194.2 1108h1.4M1195.5 1108h1.4M1191.6 1109.5h1.4M1192.9 1109.5h1.4M1194.2 1109.5h1.4M1194.2 1111h1.4M1195.5 1111h1.4M1190.3 1112.5h1.4M1191.6 1112.5h1.4M1192.9 1112.5h1.4M1188.9 1114.1h1.4M1190.3 1114.1h1.4M1192.9 1114.1h1.4M1188.9 1115.6h1.4M1190.3 1115.6h1.4M1191.6 1115.6h1.4M1192.9 1115.6h1.4M1186.3 1117.1h1.4M1188.9 1117.1h1.4M1190.3 1117.1h1.4M1183.7 1118.6h1.4M1185 1118.6h1.4M1186.3 1118.6h1.4M1187.6 1118.6h1.4M1185 1120.1h1.4M1186.3 1120.1h1.4M1188.9 1120.1h1.4M1183.7 1121.7h1.4M1186.3 1121.7h1.4M1187.6 1121.7h1.4M1181.1 1123.2h1.4M1182.4 1123.2h1.4M1183.7 1123.2h1.4M1186.3 1123.2h1.4M1178.5 1124.7h1.4M1179.8 1124.7h1.4M1181.1 1124.7h1.4M1177.2 1126.2h1.4M1178.5 1126.2h1.4M1179.8 1126.2h1.4M1181.1 1126.2h1.4M1174.6 1127.8h1.4M1175.9 1127.8h1.4M1178.5 1127.8h1.4M1173.3 1129.3h1.4M1174.6 1129.3h1.4M1175.9 1129.3h1.4M1178.5 1129.3h1.4M1179.8 1129.3h1.4M1175.9 1130.8h1.4M1170.7 1132.3h1.4M1174.6 1132.3h1.4M1169.4 1133.8h1.4M1172 1133.8h1.4M1164.1 1136.9h1.4M1168.1 1136.9h1.4M1169.4 1136.9h1.4M1164.1 1138.4h1.4M1165.4 1138.4h1.4M1168.1 1138.4h1.4M1158.9 1139.9h1.4M1161.5 1139.9h1.4M1162.8 1139.9h1.4M1164.1 1139.9h1.4M1158.9 1141.5h1.4M1162.8 1141.5h1.4M1153.7 1143h1.4M1155 1143h1.4M1156.3 1143h1.4M1160.2 1143h1.4M1151.1 1144.5h1.4M1152.4 1144.5h1.4M1153.7 1144.5h1.4M1155 1144.5h1.4M1157.6 1144.5h1.4M1158.9 1144.5h1.4M1141.9 1146h1.4M1144.5 1146h1.4M1145.8 1146h1.4M1147.2 1146h1.4M1148.5 1146h1.4M1149.8 1146h1.4M1151.1 1146h1.4M1152.4 1146h1.4M1155 1146h1.4M1156.3 1146h1.4M1140.6 1147.5h1.4M1141.9 1147.5h1.4M1143.2 1147.5h1.4M1144.5 1147.5h1.4M1145.8 1147.5h1.4M1147.2 1147.5h1.4M1149.8 1147.5h1.4M1136.7 1149.1h1.4M1139.3 1149.1h1.4M1140.6 1149.1h1.4M1143.2 1149.1h1.4M1144.5 1149.1h1.4M1145.8 1149.1h1.4M1148.5 1149.1h1.4M1135.4 1150.6h1.4M1136.7 1150.6h1.4M1138 1150.6h1.4M1140.6 1150.6h1.4M1143.2 1150.6h1.4M1126.3 1152.1h1.4M1128.9 1152.1h1.4M1131.5 1152.1h1.4M1132.8 1152.1h1.4M1134.1 1152.1h1.4M1135.4 1152.1h1.4M1136.7 1152.1h1.4M1139.3 1152.1h1.4M1118.4 1153.6h1.4M1119.7 1153.6h1.4M1126.3 1153.6h1.4M1127.6 1153.6h1.4M1128.9 1153.6h1.4M1131.5 1153.6h1.4M1132.8 1153.6h1.4M1134.1 1153.6h1.4M1138 1153.6h1.4M1119.7 1155.2h1.4M1122.3 1155.2h1.4M1125 1155.2h1.4M1126.3 1155.2h1.4M1127.6 1155.2h1.4M1131.5 1155.2h1.4M1132.8 1155.2h1.4M1109.3 1156.7h1.4M1113.2 1156.7h1.4M1114.5 1156.7h1.4M1117.1 1156.7h1.4M1119.7 1156.7h1.4M1121 1156.7h1.4M1122.3 1156.7h1.4M1123.6 1156.7h1.4M1110.6 1158.2h1.4M1115.8 1158.2h1.4M1117.1 1158.2h1.4M1102.8 1159.7h1.4M1106.7 1159.7h1.4M1108 1159.7h1.4M1109.3 1159.7h1.4M1110.6 1159.7h1.4M1117.1 1159.7h1.4M1101.4 1161.2h1.4M1102.8 1161.2h1.4M1106.7 1161.2h1.4M1108 1161.2h1.4M1110.6 1161.2h1.4M1093.6 1162.8h1.4M1097.5 1162.8h1.4M1098.8 1162.8h1.4M1088.4 1199.3h1.4M1089.7 1199.3h1.4M1087.1 1200.8h1.4M1088.4 1200.8h1.4M1089.7 1200.8h1.4M1083.2 1202.3h1.4M1088.4 1202.3h1.4M1089.7 1202.3h1.4M1044 1246.5h1.4M1104.1 1261.7h1.4M1074 1263.2h1.4M1076.6 1263.2h1.4M1081.9 1263.2h1.4M1084.5 1263.2h1.4M1085.8 1263.2h1.4M1089.7 1263.2h1.4M1093.6 1263.2h1.4M1096.2 1263.2h1.4M1097.5 1263.2h1.4M1098.8 1263.2h1.4M1100.1 1263.2h1.4M1101.4 1263.2h1.4M1102.8 1263.2h1.4M1074 1264.7h1.4M1077.9 1264.7h1.4M1079.2 1264.7h1.4M1081.9 1264.7h1.4M1084.5 1264.7h1.4M1085.8 1264.7h1.4M1088.4 1264.7h1.4M1089.7 1264.7h1.4M1091 1264.7h1.4M1092.3 1264.7h1.4M1093.6 1264.7h1.4M1096.2 1264.7h1.4M1097.5 1264.7h1.4M1098.8 1264.7h1.4M1102.8 1264.7h1.4M1104.1 1264.7h1.4M1072.7 1266.3h1.4M1074 1266.3h1.4M1075.3 1266.3h1.4M1076.6 1266.3h1.4M1079.2 1266.3h1.4M1080.5 1266.3h1.4M1081.9 1266.3h1.4M1083.2 1266.3h1.4M1084.5 1266.3h1.4M1085.8 1266.3h1.4M1088.4 1266.3h1.4M1092.3 1266.3h1.4M1093.6 1266.3h1.4M1096.2 1266.3h1.4M1097.5 1266.3h1.4M1098.8 1266.3h1.4M1100.1 1266.3h1.4M1101.4 1266.3h1.4M1102.8 1266.3h1.4M1105.4 1266.3h1.4M1074 1267.8h1.4" stroke="#008010" stroke-width="1.6" fill="none"/>
<path d="M1275.9 793.7h1.6M1275.6 824.6h1.6M1274.9 828.5h1.6M1275.8 895.9h1.6M1275.1 929h1.6M1275.6 939h1.6M1275.5 941h1.6M1289.8 1050.6h1.6M1275.4 1087.9h1.6M1290 1088.5h1.6M1290.4 1089.5h1.6M1290.4 1092.6h1.6M1290.4 1095.6h1.6M1290.4 1098.7h1.6M1290.4 1101.7h1.6M1274.7 1117.6h1.6M1291.9 1118.1h1.6M1096.7 1233.6h1.6M1290.3 1246.6h1.6M1097.9 1258.8h1.6M1097.8 1262.8h1.6M1508.5 1277.4h1.6" stroke="#008010" stroke-width="1.6" fill="none"/>
<path d="M1452.9 878.2h1.9M1290.9 907.9h1.9M1552.3 927.4h1.9M1448 996.6h1.9" stroke="#008010" stroke-width="1.9" fill="none"/>
<path d="M1508.9 925.1h2M1509 959h2M1291.1 997.7h2M1290.5 1034.8h2M1290.8 1042.9h2M1290.8 1046h2M1290.8 1049h2M1290.8 1052.1h2M1290.8 1055.1h2M1290.3 1082.6h2M1290.3 1085.6h2M1290.3 1088.7h2M1290.3 1091.7h2M1290.3 1094.8h2M1289.6 1135.8h2M1289.6 1138.8h2M1290.4 1141.3h2M1289.6 1141.9h2M1289.6 1144.9h2M1289.6 1148h2M1290.6 1151.7h2" stroke="#008010" stroke-width="2" fill="none"/>
<path d="M1326.8 805h2.2M1289.4 824.4h2.2M1475.2 1196.7h2.2" stroke="#008010" stroke-width="2.2" fill="none"/>
<path d="M1414 815.4h2.4M1346.8 847.9h2.4M1288 854.7h2.4M1309.2 885.9h2.4M1547.1 893.6h2.4M1289.3 914.8h2.4M1303 941h2.4M1316.2 1061.3h2.4M1429.1 1070.3h2.4M1331.8 1131.2h2.4M1313.2 1165.5h2.4" stroke="#008010" stroke-width="2.4" fill="none"/>
<path d="M1074.4 823.3h0.9M1073.9 829.4h0.9M1116.7 839.4h0.9M1116 840.9h0.9M1116.7 851.2h0.9M1073.9 851.8h0.9M1116.3 856.9h0.9M1074.4 857.6h0.9M1096 860.8h0.9M1116.1 868.9h0.9M1115.9 874h0.9M1117.7 880.6h0.9M1094.5 886.9h0.9M1117.2 888.1h0.9M1073.8 893.6h0.9M1117.2 894h0.9M1116.4 898.9h0.9M1074.1 903.4h0.9M1094.5 904.7h0.9M1074.1 906.4h0.9M1073.8 907.7h0.9M1074.5 908.2h0.9M1095.7 953.1h0.9M1095.5 953.2h0.9M1095.3 965.4h0.9M1116.4 1021.5h0.9M1116.6 1032h0.9M1116.7 1037.2h0.9M1117 1043.2h0.9M1115.9 1043.5h0.9M1095 1046.3h0.9M1094.5 1049.2h0.9M1117.3 1049.3h0.9M1095.4 1055.1h0.9M1116.5 1057.8h0.9M1115.6 1067.2h0.9M1118.2 1068.2h0.9M1094.8 1083.2h0.9M1116.8 1096.3h0.9M1117 1110.7h0.9M1116.2 1119.7h0.9M1096.6 1124.6h0.9M1116.3 1127.3h0.9M1096.6 1130.4h0.9M1095.7 1135.8h0.9M1096.8 1136.3h0.9M1096.3 1138.9h0.9M1095.9 1143.4h0.9M1117.3 1144.2h0.9M1096.8 1149.4h0.9M1095.6 1150.6h0.9M1096.2 1153.6h0.9M1096.5 1154.3h0.9M1096.7 1165.2h0.9M1096.2 1166.4h0.9M1096.9 1175.4h0.9" stroke="#ff4090" stroke-width="0.9" fill="none"/>
<path d="M1186.5 792.9h1M1181.3 826.4h1M1178.7 841.6h1M1215.2 847.7h1M1168.2 856.8h1M1163 869h1M1165.6 875.1h1M1163 887.3h1M1155.2 899.5h1M1142.1 911.6h1M1144.7 911.6h1M1160.4 914.7h1M1155.2 920.8h1M1165.6 920.8h1M1142.1 923.8h1M1129 926.9h1M1152.6 926.9h1M1134.3 929.9h1M1118.6 932.9h1M1134.3 939h1M1147.3 942.1h1M1129 948.2h1M1110.8 951.2h1M1121.2 960.3h1M1118.6 963.4h1M1131.7 966.4h1M1118.6 978.6h1M1102.9 990.8h1M1092.5 999.9h1M1108.2 999.9h1M1116 1146h1M1121.2 1146h1M1110.8 1152.1h1M1095.1 1158.2h1" stroke="#ff4090" stroke-width="1.2" fill="none"/>
<path d="M1117.2 812.3h1.1M1116.9 815.9h1.1M1117.4 830.6h1.1M1115.7 841.3h1.1M1073.8 841.3h1.1M1116.4 843.9h1.1M1116.7 848.3h1.1M1116.4 851.3h1.1M1074.3 852.9h1.1M1095.6 853.3h1.1M1073.7 854.3h1.1M1074 863h1.1M1116.6 864.3h1.1M1074.2 880.2h1.1M1117.5 887h1.1M1095 892.7h1.1M1116.5 894.6h1.1M1116.3 894.9h1.1M1116.4 896.9h1.1M1074.2 899.6h1.1M1074.1 907.8h1.1M1095.4 914.4h1.1M1095.4 923.3h1.1M1095.3 947.9h1.1M1115.9 1015h1.1M1115.7 1021.7h1.1M1095.8 1024.2h1.1M1095.5 1024.9h1.1M1094.3 1033.1h1.1M1116.4 1036.8h1.1M1094 1038.3h1.1M1116.8 1042.2h1.1M1116.1 1044.2h1.1M1116.5 1078.1h1.1M1116.9 1078.6h1.1M1117.6 1081.6h1.1M1116.7 1095.1h1.1M1116.2 1101.4h1.1M1116.4 1109.2h1.1M1117 1113.4h1.1M1096.8 1124h1.1M1116.7 1129.8h1.1M1116.1 1135.4h1.1M1116.3 1136.8h1.1M1094.4 1138.1h1.1M1115.9 1143.6h1.1M1096 1144.9h1.1M1094.1 1145.8h1.1M1094.5 1146.5h1.1M1095.4 1149.9h1.1M1095.7 1186.8h1.1" stroke="#ff4090" stroke-width="1.1" fill="none"/>
<path d="M1183.8 799h1.2M1183.8 808.1h1.2M1186.4 817.3h1.2M1209.9 823.4h1.2M1183.8 829.4h1.2M1181.2 835.5h1.2M1162.9 838.6h1.2M1181.2 841.6h1.2M1168.1 847.7h1.2M1204.7 853.8h1.2M1165.5 856.8h1.2M1162.9 872.1h1.2M1165.5 902.5h1.2M1147.2 908.6h1.2M1160.3 911.6h1.2M1131.6 914.7h1.2M1142 917.7h1.2M1136.8 920.8h1.2M1139.4 920.8h1.2M1152.5 923.8h1.2M1155.1 923.8h1.2M1121.1 929.9h1.2M1123.7 936h1.2M1157.7 936h1.2M1136.8 939h1.2M1113.3 942.1h1.2M1134.2 945.1h1.2M1131.6 948.2h1.2M1105.4 951.2h1.2M1108.1 951.2h1.2M1134.2 951.2h1.2M1139.4 963.4h1.2M1108.1 969.5h1.2M1121.1 987.7h1.2M1089.8 993.8h1.2M1102.8 999.9h1.2M1087.2 1167.3h1.2" stroke="#ff4090" stroke-width="1.4" fill="none"/>
<path d="M1402 867.2h1.3M1508 869.2h1.3M1508.1 893.7h1.3M1403 981h1.3M1403 984h1.3M1403 987.1h1.3M1510.7 1009.1h1.3M1115.3 1025.2h1.3M1508.5 1029.9h1.3M1116.2 1031.9h1.3M1115.9 1052.9h1.3M1116.7 1072.8h1.3M1509.8 1086.1h1.3M1116 1088.9h1.3M1115.9 1091h1.3M1508.8 1096.6h1.3M1115.8 1102.6h1.3M1116.7 1131h1.3M1116.5 1131.9h1.3M1116.3 1140.3h1.3M1116.6 1144.9h1.3M1509.4 1155h1.3M1510.1 1157.1h1.3M1509.2 1182.1h1.3M1094.1 1185.3h1.3M1157.4 1207.4h1.3M1158 1218.8h1.3M1401.5 1221.1h1.3M1115.3 1230.9h1.3M1115.5 1247.2h1.3" stroke="#ff4090" stroke-width="1.3" fill="none"/>
<path d="M1131.5 779.2h1.4M1128.9 782.3h1.4M1127.6 783.8h1.4M1183.7 783.8h1.4M1127.6 788.4h1.4M1122.3 789.9h1.4M1125 789.9h1.4M1123.6 791.4h1.4M1183.7 792.9h1.4M1122.3 794.4h1.4M1121 796h1.4M1183.7 796h1.4M1118.4 797.5h1.4M1119.7 799h1.4M1186.3 799h1.4M1121 800.5h1.4M1118.4 802.1h1.4M1111.9 803.6h1.4M1105.4 806.6h1.4M1113.2 806.6h1.4M1117.1 806.6h1.4M1109.3 809.7h1.4M1109.3 812.7h1.4M1105.4 814.2h1.4M1109.3 814.2h1.4M1105.4 815.7h1.4M1106.7 815.7h1.4M1109.3 817.3h1.4M1183.7 817.3h1.4M1186.3 820.3h1.4M1217.7 820.3h1.4M1098.8 821.8h1.4M1097.5 823.4h1.4M1098.8 823.4h1.4M1101.4 823.4h1.4M1183.7 823.4h1.4M1101.4 824.9h1.4M1094.9 826.4h1.4M1097.5 826.4h1.4M1178.5 826.4h1.4M1183.7 826.4h1.4M1098.8 829.4h1.4M1181.1 829.4h1.4M1181.1 832.5h1.4M1168.1 838.6h1.4M1178.5 838.6h1.4M1181.1 838.6h1.4M1183.7 838.6h1.4M1165.4 841.6h1.4M1162.8 847.7h1.4M1178.5 847.7h1.4M1204.6 850.8h1.4M1165.4 859.9h1.4M1162.8 866h1.4M1160.2 875.1h1.4M1196.8 875.1h1.4M1199.4 875.1h1.4M1162.8 884.2h1.4M1160.2 890.3h1.4M1160.2 893.4h1.4M1157.6 894.9h1.4M1158.9 894.9h1.4M1161.5 894.9h1.4M1158.9 896.4h1.4M1158.9 897.9h1.4M1157.6 899.5h1.4M1160.2 901h1.4M1158.9 902.5h1.4M1157.6 904h1.4M1158.9 904h1.4M1156.3 905.5h1.4M1157.6 905.5h1.4M1160.2 905.5h1.4M1158.9 907.1h1.4M1155 908.6h1.4M1155 910.1h1.4M1153.7 911.6h1.4M1155 911.6h1.4M1156.3 911.6h1.4M1151.1 913.2h1.4M1152.4 913.2h1.4M1155 913.2h1.4M1156.3 913.2h1.4M1153.7 914.7h1.4M1156.3 914.7h1.4M1152.4 916.2h1.4M1153.7 916.2h1.4M1134.1 917.7h1.4M1136.7 917.7h1.4M1151.1 917.7h1.4M1155 917.7h1.4M1148.5 919.2h1.4M1149.8 919.2h1.4M1156.3 919.2h1.4M1151.1 920.8h1.4M1149.8 922.3h1.4M1151.1 922.3h1.4M1144.5 923.8h1.4M1149.8 923.8h1.4M1151.1 923.8h1.4M1151.1 925.3h1.4M1153.7 925.3h1.4M1126.3 926.9h1.4M1139.3 926.9h1.4M1148.5 926.9h1.4M1148.5 928.4h1.4M1151.1 929.9h1.4M1144.5 931.4h1.4M1147.2 931.4h1.4M1148.5 931.4h1.4M1149.8 931.4h1.4M1151.1 931.4h1.4M1123.6 932.9h1.4M1149.8 932.9h1.4M1152.4 932.9h1.4M1144.5 934.5h1.4M1147.2 934.5h1.4M1148.5 934.5h1.4M1149.8 934.5h1.4M1145.8 936h1.4M1145.8 937.5h1.4M1148.5 937.5h1.4M1151.1 937.5h1.4M1141.9 939h1.4M1143.2 939h1.4M1147.2 939h1.4M1141.9 940.6h1.4M1143.2 940.6h1.4M1144.5 940.6h1.4M1136.7 942.1h1.4M1143.2 942.1h1.4M1144.5 942.1h1.4M1145.8 942.1h1.4M1152.4 942.1h1.4M1138 943.6h1.4M1139.3 943.6h1.4M1140.6 943.6h1.4M1143.2 943.6h1.4M1147.2 943.6h1.4M1092.3 945.1h1.4M1126.3 945.1h1.4M1128.9 945.1h1.4M1138 945.1h1.4M1139.3 945.1h1.4M1140.6 945.1h1.4M1141.9 945.1h1.4M1143.2 945.1h1.4M1139.3 946.6h1.4M1140.6 946.6h1.4M1141.9 946.6h1.4M1143.2 946.6h1.4M1144.5 946.6h1.4M1110.6 948.2h1.4M1136.7 948.2h1.4M1139.3 948.2h1.4M1135.4 949.7h1.4M1136.7 949.7h1.4M1138 949.7h1.4M1140.6 949.7h1.4M1141.9 949.7h1.4M1102.8 951.2h1.4M1136.7 951.2h1.4M1138 951.2h1.4M1139.3 951.2h1.4M1140.6 951.2h1.4M1132.8 952.7h1.4M1134.1 952.7h1.4M1135.4 952.7h1.4M1136.7 952.7h1.4M1138 952.7h1.4M1140.6 952.7h1.4M1134.1 954.3h1.4M1135.4 954.3h1.4M1141.9 954.3h1.4M1144.5 954.3h1.4M1132.8 955.8h1.4M1134.1 955.8h1.4M1132.8 957.3h1.4M1134.1 957.3h1.4M1136.7 957.3h1.4M1147.2 957.3h1.4M1128.9 958.8h1.4M1130.2 958.8h1.4M1131.5 958.8h1.4M1132.8 958.8h1.4M1134.1 958.8h1.4M1128.9 960.3h1.4M1130.2 960.3h1.4M1131.5 960.3h1.4M1132.8 960.3h1.4M1135.4 960.3h1.4M1127.6 961.9h1.4M1130.2 961.9h1.4M1131.5 961.9h1.4M1125 963.4h1.4M1126.3 963.4h1.4M1127.6 963.4h1.4M1125 964.9h1.4M1127.6 964.9h1.4M1128.9 964.9h1.4M1130.2 964.9h1.4M1123.6 966.4h1.4M1125 966.4h1.4M1126.3 966.4h1.4M1127.6 966.4h1.4M1122.3 967.9h1.4M1123.6 967.9h1.4M1125 967.9h1.4M1126.3 967.9h1.4M1122.3 969.5h1.4M1123.6 969.5h1.4M1125 969.5h1.4M1121 971h1.4M1123.6 971h1.4M1117.1 972.5h1.4M1118.4 972.5h1.4M1119.7 972.5h1.4M1121 972.5h1.4M1117.1 974h1.4M1119.7 974h1.4M1113.2 975.6h1.4M1115.8 975.6h1.4M1117.1 975.6h1.4M1118.4 975.6h1.4M1119.7 975.6h1.4M1121 975.6h1.4M1114.5 977.1h1.4M1115.8 977.1h1.4M1117.1 977.1h1.4M1118.4 977.1h1.4M1111.9 978.6h1.4M1114.5 978.6h1.4M1111.9 980.1h1.4M1114.5 980.1h1.4M1115.8 980.1h1.4M1102.8 981.6h1.4M1106.7 981.6h1.4M1109.3 981.6h1.4M1110.6 981.6h1.4M1111.9 981.6h1.4M1115.8 981.6h1.4M1106.7 983.2h1.4M1108 983.2h1.4M1110.6 983.2h1.4M1111.9 983.2h1.4M1104.1 984.7h1.4M1106.7 984.7h1.4M1104.1 986.2h1.4M1105.4 986.2h1.4M1106.7 986.2h1.4M1110.6 986.2h1.4M1102.8 987.7h1.4M1104.1 987.7h1.4M1106.7 987.7h1.4M1108 987.7h1.4M1098.8 989.3h1.4M1101.4 989.3h1.4M1102.8 989.3h1.4M1105.4 989.3h1.4M1097.5 990.8h1.4M1100.1 990.8h1.4M1101.4 990.8h1.4M1097.5 992.3h1.4M1100.1 992.3h1.4M1093.6 993.8h1.4M1094.9 993.8h1.4M1096.2 993.8h1.4M1097.5 993.8h1.4M1098.8 993.8h1.4M1092.3 995.3h1.4M1093.6 995.3h1.4M1096.2 995.3h1.4M1088.4 996.9h1.4M1089.7 996.9h1.4M1091 996.9h1.4M1093.6 996.9h1.4M1089.7 998.4h1.4M1084.5 999.9h1.4M1085.8 999.9h1.4M1087.1 999.9h1.4M1088.4 999.9h1.4M1083.2 1001.4h1.4M1084.5 1001.4h1.4M1085.8 1001.4h1.4M1087.1 1001.4h1.4M1080.5 1003h1.4M1081.9 1003h1.4M1083.2 1003h1.4M1084.5 1003h1.4M1076.6 1004.5h1.4M1079.2 1004.5h1.4M1080.5 1004.5h1.4M1081.9 1004.5h1.4M1075.3 1006h1.4M1077.9 1006h1.4M1074 1007.5h1.4M1075.3 1007.5h1.4M1076.6 1007.5h1.4M1074 1010.6h1.4M1168.1 1051.7h1.4M1166.7 1053.2h1.4M1168.1 1053.2h1.4M1168.1 1054.7h1.4M1169.4 1054.7h1.4M1168.1 1056.2h1.4M1166.7 1057.7h1.4M1168.1 1059.3h1.4M1169.4 1060.8h1.4M1166.7 1065.4h1.4M1166.7 1066.9h1.4M1168.1 1068.4h1.4M1166.7 1071.4h1.4M1168.1 1073h1.4M1168.1 1074.5h1.4M1165.4 1076h1.4M1168.1 1076h1.4M1168.1 1077.5h1.4M1165.4 1079.1h1.4M1165.4 1080.6h1.4M1166.7 1082.1h1.4M1164.1 1083.6h1.4M1166.7 1085.1h1.4M1165.4 1088.2h1.4M1165.4 1091.2h1.4M1165.4 1092.8h1.4M1165.4 1094.3h1.4M1162.8 1097.3h1.4M1164.1 1097.3h1.4M1161.5 1101.9h1.4M1161.5 1104.9h1.4M1162.8 1104.9h1.4M1161.5 1106.5h1.4M1158.9 1108h1.4M1160.2 1108h1.4M1156.3 1111h1.4M1160.2 1112.5h1.4M1156.3 1114.1h1.4M1158.9 1114.1h1.4M1155 1115.6h1.4M1157.6 1115.6h1.4M1158.9 1115.6h1.4M1157.6 1117.1h1.4M1152.4 1118.6h1.4M1153.7 1118.6h1.4M1156.3 1118.6h1.4M1151.1 1120.1h1.4M1153.7 1120.1h1.4M1155 1120.1h1.4M1156.3 1120.1h1.4M1151.1 1121.7h1.4M1152.4 1121.7h1.4M1153.7 1121.7h1.4M1151.1 1123.2h1.4M1147.2 1126.2h1.4M1148.5 1126.2h1.4M1148.5 1127.8h1.4M1147.2 1129.3h1.4M1141.9 1130.8h1.4M1144.5 1130.8h1.4M1143.2 1132.3h1.4M1144.5 1132.3h1.4M1140.6 1133.8h1.4M1140.6 1135.4h1.4M1141.9 1135.4h1.4M1143.2 1135.4h1.4M1135.4 1138.4h1.4M1139.3 1138.4h1.4M1140.6 1138.4h1.4M1138 1139.9h1.4M1134.1 1141.5h1.4M1135.4 1141.5h1.4M1127.6 1143h1.4M1128.9 1143h1.4M1131.5 1143h1.4M1132.8 1143h1.4M1126.3 1144.5h1.4M1128.9 1144.5h1.4M1132.8 1144.5h1.4M1128.9 1146h1.4M1123.6 1147.5h1.4M1125 1147.5h1.4M1118.4 1149.1h1.4M1119.7 1149.1h1.4M1121 1149.1h1.4M1123.6 1149.1h1.4M1114.5 1150.6h1.4M1117.1 1150.6h1.4M1118.4 1150.6h1.4M1119.7 1150.6h1.4M1121 1150.6h1.4M1122.3 1150.6h1.4M1123.6 1150.6h1.4M1102.8 1152.1h1.4M1108 1152.1h1.4M1111.9 1152.1h1.4M1114.5 1152.1h1.4M1117.1 1152.1h1.4M1109.3 1153.6h1.4M1113.2 1153.6h1.4M1105.4 1155.2h1.4M1105.4 1156.7h1.4M1097.5 1158.2h1.4M1100.1 1158.2h1.4M1101.4 1158.2h1.4M1104.1 1158.2h1.4M1105.4 1158.2h1.4M1106.7 1158.2h1.4M1108 1158.2h1.4M1091 1159.7h1.4M1093.6 1159.7h1.4M1096.2 1159.7h1.4M1098.8 1159.7h1.4M1100.1 1159.7h1.4M1101.4 1159.7h1.4M1087.1 1161.2h1.4M1091 1161.2h1.4M1093.6 1161.2h1.4M1096.2 1161.2h1.4M1100.1 1161.2h1.4M1085.8 1162.8h1.4M1087.1 1162.8h1.4M1088.4 1162.8h1.4M1089.7 1162.8h1.4M1092.3 1162.8h1.4M1077.9 1164.3h1.4M1079.2 1164.3h1.4M1080.5 1164.3h1.4M1081.9 1164.3h1.4M1083.2 1164.3h1.4M1084.5 1164.3h1.4M1085.8 1164.3h1.4M1089.7 1164.3h1.4M1072.7 1165.8h1.4M1075.3 1165.8h1.4M1066.2 1167.3h1.4M1072.7 1167.3h1.4M1074 1167.3h1.4M1076.6 1167.3h1.4M1079.2 1167.3h1.4M1063.6 1168.9h1.4M1064.9 1168.9h1.4M1067.5 1168.9h1.4M1072.7 1168.9h1.4M1075.3 1168.9h1.4M1064.9 1170.4h1.4M1067.5 1170.4h1.4" stroke="#ff4090" stroke-width="1.6" fill="none"/>
<path d="M1116.7 813.6h1.5M1116.1 820.7h1.5M1116.4 821.2h1.5M1116.2 835h1.5M1115.7 848.6h1.5M1116.6 853.8h1.5M1116.8 856.5h1.5M1116.5 872.9h1.5M1116.2 900.6h1.5M1116.5 901.1h1.5M1115.9 902.7h1.5" stroke="#ff4090" stroke-width="1.5" fill="none"/>
<path d="M1508.8 836.8h1.6M1509.3 874h1.6M1508.8 881.2h1.6M1508.6 893.5h1.6M1507.5 900.8h1.6M1508.7 912.4h1.6M1402.4 936.6h1.6M1509.6 945.9h1.6M1508.6 984.9h1.6M1273.8 991.3h1.6M1508.4 1008.2h1.6M1402.6 1017.6h1.6M1272 1026h1.6M1507.7 1047.6h1.6M1509.2 1053.9h1.6M1507.9 1056.6h1.6M1401.4 1063.6h1.6M1508.4 1065.1h1.6M1272.3 1081.3h1.6M1274 1107.7h1.6M1507.3 1109.4h1.6M1509.1 1116.1h1.6M1507.8 1130.1h1.6M1507.6 1136.2h1.6M1508.8 1136.4h1.6M1273.7 1153.8h1.6M1274.8 1160.5h1.6M1509.7 1162.1h1.6M1508.4 1169.5h1.6M1508 1181.9h1.6M1508.3 1195.9h1.6M1271.9 1203.8h1.6M1274.2 1206.1h1.6M1272.6 1214.4h1.6M1273.7 1220.1h1.6M1115.3 1228.2h1.6M1401 1233.4h1.6M1508.9 1255.2h1.6M1273.1 1256.2h1.6M1115.3 1256.7h1.6M1114.4 1258h1.6" stroke="#ff4090" stroke-width="1.6" fill="none"/>
<path d="M1157 1211.7h1.8" stroke="#ff4090" stroke-width="1.8" fill="none"/>
<path d="M1480.9 788.7h1.9M1480.5 846.2h1.9M1480.5 849.2h1.9M1480.5 852.3h1.9M1159.2 881.9h1.9M1206 904.5h1.9M1309.4 920.8h1.9M1345.8 944.4h1.9M1444.6 963h1.9M1249.3 972.4h1.9M1438.6 1014.6h1.9M1343.7 1023.6h1.9M1445 1142.4h1.9M1067.4 1231.5h1.9M1481 1231.7h1.9M1065.8 1234.5h1.9" stroke="#ff4090" stroke-width="1.9" fill="none"/>
<path d="M1273.6 781.2h2M1272 818.1h2M1509.7 904h2M1508.5 915.1h2M1402.1 921.7h2M1402.1 924.7h2M1402.1 927.8h2M1273 928.1h2M1402.1 930.8h2M1401.9 935.6h2M1508.7 935.6h2M1508.9 948.1h2M1509.9 964h2M1272.1 966.5h2M1509.5 975.2h2M1509.6 981.8h2M1508 985.3h2M1508.4 996.1h2M1507.8 1013.9h2M1274.4 1020h2M1508.8 1101h2M1400.8 1136.5h2M1272.6 1167.1h2M1509.6 1180.9h2M1401.5 1183.6h2M1400.6 1190.2h2M1400.6 1193.3h2M1400.6 1196.3h2M1400.6 1199.4h2M1275.1 1251.3h2M1271.7 1255.7h2" stroke="#ff4090" stroke-width="2" fill="none"/>
<path d="M1113.4 780h2.2M1480.5 803.9h2.2M1481.8 814.2h2.2M1481.8 817.3h2.2M1481.4 819h2.2M1481.8 820.3h2.2M1481.8 823.4h2.2M1344.3 824.1h2.2M1481.4 825.5h2.2M1481.4 828.6h2.2M1481.4 831.6h2.2M1481.4 834.7h2.2M1345.5 835.7h2.2M1481.4 837.7h2.2M1481.9 844h2.2M1526.9 898.4h2.2M1401.9 977.3h2.2M1402.8 1072.8h2.2M1377.9 1132.2h2.2M1061 1146.8h2.2M1248 1166.4h2.2M1043.7 1240.8h2.2M1276.8 1251.6h2.2M1482.9 1259.3h2.2" stroke="#ff4090" stroke-width="2.2" fill="none"/>
<path d="M1480.5 816.4h2.4M1480.5 819.4h2.4M1480.5 822.5h2.4M1482.9 835.9h2.4M1482.7 838.1h2.4M1233.2 846.8h2.4M1370.2 947.9h2.4M1292.3 965h2.4M1271.3 978.5h2.4M1377 1000.8h2.4M1356.3 1005.2h2.4M1274.7 1044.5h2.4M1047.5 1127.8h2.4M1217.7 1246.2h2.4" stroke="#ff4090" stroke-width="2.4" fill="none"/>
<path d="M1115.9 902.4h0.9" stroke="#ff0030" stroke-width="0.9" fill="none"/>
<path d="M1116.3 861.8h1.1M1116.9 884.9h1.1M1116.3 896h1.1" stroke="#ff0030" stroke-width="1.1" fill="none"/>
<path d="M1508.9 944.6h1.3M1509.8 969.9h1.3M1508.9 1006.1h1.3M1509.3 1022.4h1.3M1510 1024.5h1.3M1508.8 1105.4h1.3M1508.6 1112.6h1.3M1509 1149h1.3M1509.9 1159.2h1.3M1509.6 1160.7h1.3M1509.8 1209.8h1.3" stroke="#ff0030" stroke-width="1.3" fill="none"/>
<path d="M1131.5 785.3h1.4M1126.3 786.8h1.4M1125 788.4h1.4M1125 791.4h1.4M1108 811.2h1.4M1111.9 811.2h1.4M1108 812.7h1.4M1101.4 817.3h1.4M1156.3 894.9h1.4M1160.2 896.4h1.4M1157.6 897.9h1.4M1156.3 899.5h1.4M1158.9 899.5h1.4M1157.6 901h1.4M1157.6 902.5h1.4M1156.3 907.1h1.4M1160.2 907.1h1.4M1156.3 908.6h1.4M1157.6 908.6h1.4M1156.3 910.1h1.4M1157.6 910.1h1.4M1155 914.7h1.4M1153.7 917.7h1.4M1151.1 919.2h1.4M1155 919.2h1.4M1149.8 920.8h1.4M1155 922.3h1.4M1149.8 928.4h1.4M1152.4 928.4h1.4M1145.8 931.4h1.4M1147.2 932.9h1.4M1147.2 937.5h1.4M1145.8 940.6h1.4M1140.6 942.1h1.4M1141.9 942.1h1.4M1141.9 943.6h1.4M1138 948.2h1.4M1140.6 948.2h1.4M1143.2 948.2h1.4M1135.4 951.2h1.4M1139.3 952.7h1.4M1141.9 952.7h1.4M1131.5 954.3h1.4M1131.5 957.3h1.4M1134.1 960.3h1.4M1126.3 964.9h1.4M1128.9 966.4h1.4M1121 969.5h1.4M1118.4 971h1.4M1113.2 978.6h1.4M1115.8 978.6h1.4M1109.3 980.1h1.4M1113.2 980.1h1.4M1109.3 983.2h1.4M1108 984.7h1.4M1100.1 989.3h1.4M1098.8 992.3h1.4M1094.9 995.3h1.4M1092.3 996.9h1.4M1087.1 998.4h1.4M1076.6 1003h1.4M1076.6 1006h1.4M1079.2 1006h1.4M1071.4 1009h1.4M1166.7 1050.1h1.4M1166.7 1051.7h1.4M1166.7 1054.7h1.4M1166.7 1056.2h1.4M1168.1 1057.7h1.4M1169.4 1057.7h1.4M1166.7 1059.3h1.4M1169.4 1059.3h1.4M1168.1 1060.8h1.4M1166.7 1062.3h1.4M1168.1 1062.3h1.4M1169.4 1062.3h1.4M1168.1 1063.8h1.4M1168.1 1065.4h1.4M1165.4 1066.9h1.4M1168.1 1066.9h1.4M1166.7 1068.4h1.4M1166.7 1069.9h1.4M1168.1 1069.9h1.4M1168.1 1071.4h1.4M1166.7 1073h1.4M1166.7 1074.5h1.4M1166.7 1076h1.4M1166.7 1077.5h1.4M1166.7 1079.1h1.4M1166.7 1080.6h1.4M1165.4 1082.1h1.4M1165.4 1083.6h1.4M1165.4 1085.1h1.4M1165.4 1086.7h1.4M1166.7 1086.7h1.4M1164.1 1089.7h1.4M1165.4 1089.7h1.4M1164.1 1091.2h1.4M1164.1 1092.8h1.4M1164.1 1094.3h1.4M1164.1 1095.8h1.4M1162.8 1098.8h1.4M1162.8 1100.4h1.4M1162.8 1101.9h1.4M1161.5 1103.4h1.4M1162.8 1103.4h1.4M1160.2 1106.5h1.4M1161.5 1108h1.4M1160.2 1109.5h1.4M1160.2 1111h1.4M1155 1114.1h1.4M1157.6 1114.1h1.4M1160.2 1114.1h1.4M1153.7 1117.1h1.4M1155 1117.1h1.4M1156.3 1117.1h1.4M1155 1118.6h1.4M1157.6 1118.6h1.4M1152.4 1120.1h1.4M1157.6 1121.7h1.4M1148.5 1124.7h1.4M1149.8 1126.2h1.4M1151.1 1126.2h1.4M1145.8 1127.8h1.4M1143.2 1129.3h1.4M1145.8 1129.3h1.4M1145.8 1130.8h1.4M1141.9 1132.3h1.4M1143.2 1133.8h1.4M1139.3 1135.4h1.4M1138 1136.9h1.4M1139.3 1136.9h1.4M1140.6 1136.9h1.4M1136.7 1138.4h1.4M1138 1138.4h1.4M1134.1 1139.9h1.4M1135.4 1139.9h1.4M1136.7 1139.9h1.4M1130.2 1141.5h1.4M1131.5 1141.5h1.4M1136.7 1141.5h1.4M1130.2 1143h1.4M1127.6 1144.5h1.4M1130.2 1144.5h1.4M1125 1146h1.4M1127.6 1146h1.4M1126.3 1147.5h1.4M1125 1149.1h1.4M1113.2 1152.1h1.4M1115.8 1152.1h1.4M1118.4 1152.1h1.4M1110.6 1153.6h1.4M1111.9 1153.6h1.4M1114.5 1153.6h1.4M1106.7 1155.2h1.4M1108 1155.2h1.4M1109.3 1155.2h1.4M1110.6 1155.2h1.4M1101.4 1156.7h1.4M1104.1 1156.7h1.4M1108 1156.7h1.4M1091 1158.2h1.4M1098.8 1158.2h1.4M1102.8 1158.2h1.4M1092.3 1159.7h1.4M1097.5 1159.7h1.4M1092.3 1161.2h1.4M1094.9 1161.2h1.4M1091 1162.8h1.4M1072.7 1164.3h1.4M1087.1 1164.3h1.4M1074 1165.8h1.4M1076.6 1165.8h1.4M1077.9 1165.8h1.4M1079.2 1165.8h1.4M1081.9 1165.8h1.4M1067.5 1167.3h1.4M1070.1 1167.3h1.4M1075.3 1167.3h1.4M1077.9 1167.3h1.4M1080.5 1167.3h1.4M1066.2 1168.9h1.4M1068.8 1168.9h1.4M1070.1 1168.9h1.4M1071.4 1168.9h1.4M1063.6 1170.4h1.4M1066.2 1170.4h1.4" stroke="#ff0030" stroke-width="1.6" fill="none"/>
<path d="M1116 881.6h1.5M1115.4 888.4h1.5M1116.1 893.4h1.5" stroke="#ff0030" stroke-width="1.5" fill="none"/>
<path d="M1508.8 899.3h1.6M1509.1 924.6h1.6M1509.4 942h1.6M1508 969.5h1.6M1510.3 1004.4h1.6M1509.1 1034h1.6M1509.3 1035.5h1.6M1508 1044.2h1.6M1509 1080.7h1.6M1507.8 1130.4h1.6M1508.4 1270.5h1.6" stroke="#ff0030" stroke-width="1.6" fill="none"/>
<path d="M1156.7 1205.4h1.8" stroke="#ff0030" stroke-width="1.8" fill="none"/>
<path d="M1532.7 794.5h1.9M1483.5 813.9h1.9M1483.5 817h1.9M1483.5 820h1.9M1483.5 823.1h1.9M1483.5 826.1h1.9M1545.9 936.9h1.9M1340 999.6h1.9M1273.5 1008.3h1.9M1290.3 1019.5h1.9M1421.8 1057.7h1.9M1391.5 1212.1h1.9M1481.8 1223.6h1.9M1479.5 1245.2h1.9" stroke="#ff0030" stroke-width="1.9" fill="none"/>
<path d="M1508 914.8h2M1510.8 963.9h2M1509 1002.2h2M1508.7 1013.9h2M1509.8 1038.5h2M1509.3 1055.1h2M1508.8 1083.7h2M1510.2 1101.6h2M1509.6 1184.7h2" stroke="#ff0030" stroke-width="2" fill="none"/>
<path d="M1350.9 791.7h2.2M1436.7 888.5h2.2M1274.2 962.3h2.2M1538.4 1086.8h2.2M1480.2 1225h2.2M1479.1 1237.8h2.2M1417.8 1245h2.2M1480.9 1257.4h2.2" stroke="#ff0030" stroke-width="2.2" fill="none"/>
<path d="M1478.7 783.2h2.4M1488.5 809.8h2.4M1267.8 900.6h2.4M1264.6 1082.6h2.4M1483.1 1114.2h2.4M1297 1114.5h2.4M1552.8 1201.5h2.4M1481.8 1247.1h2.4M1480.1 1255.2h2.4M1484.7 1268.5h2.4M1446.1 1269.9h2.4" stroke="#ff0030" stroke-width="2.4" fill="none"/>
<path d="M1073.6 822.8h0.9M1074.2 915.1h0.9M1116.7 1133.2h0.9M1095.8 1144h0.9M1096.5 1156.6h0.9M1096.5 1192.2h0.9" stroke="#f8b8b0" stroke-width="0.9" fill="none"/>
<path d="M1072.9 824.8h1.1M1074.2 850.9h1.1M1074.6 888.6h1.1M1073.8 912.6h1.1M1117.3 1019h1.1M1116.4 1073.3h1.1M1116.5 1118.2h1.1M1096.3 1135.2h1.1M1096.6 1137.6h1.1M1116.2 1144.1h1.1M1097.8 1158.8h1.1M1096.7 1166.6h1.1M1096.5 1179h1.1M1096.5 1179.7h1.1" stroke="#f8b8b0" stroke-width="1.1" fill="none"/>
<path d="M1116 1032.2h1.3M1115.6 1079h1.3M1115.6 1080.8h1.3M1116.3 1107.6h1.3M1339 1133.3h1.3M1508.7 1134.9h1.3M1338.8 1135.2h1.3M1509 1135.3h1.3M1339.6 1139.3h1.3M1338.9 1140.5h1.3M1339.7 1141.1h1.3M1338.9 1143.5h1.3M1339.7 1144.2h1.3M1339.8 1144.4h1.3M1339.7 1147.2h1.3M1338.7 1147.5h1.3M1339 1151.2h1.3M1339.3 1151.3h1.3M1339 1154.2h1.3M1339.3 1154.4h1.3M1339.3 1157.4h1.3M1339.6 1159.5h1.3M1339.3 1160.5h1.3M1339.6 1162.5h1.3M1339.4 1175.2h1.3M1339.4 1178.2h1.3M1339.4 1181.3h1.3M1338.8 1183.5h1.3M1339.4 1184.3h1.3M1339.5 1194.1h1.3M1339 1195.2h1.3M1339.5 1197.2h1.3M1339 1198.3h1.3M1339.5 1200.2h1.3M1339 1201.3h1.3M1339 1204.4h1.3M1339 1213.1h1.3M1340.1 1215.9h1.3M1340.1 1218.9h1.3M1340.1 1222h1.3M1340.1 1225h1.3M1340.1 1228.1h1.3M1339.6 1249.1h1.3M1339.4 1249.3h1.3M1340.1 1252.1h1.3M1339.4 1252.4h1.3M1339.6 1254.9h1.3M1340.1 1255.1h1.3M1339.4 1255.4h1.3M1339.1 1258.2h1.3M1340.1 1258.2h1.3M1340.1 1261.2h1.3M1508.2 1272.3h1.3" stroke="#f8b8b0" stroke-width="1.3" fill="none"/>
<path d="M1217.7 812.7h1.4M1216.4 814.2h1.4M1217.7 814.2h1.4M1219 817.3h1.4M1216.4 821.8h1.4" stroke="#f8b8b0" stroke-width="1.6" fill="none"/>
<path d="M1510.1 790.7h1.6M1509 888.7h1.6M1253.8 903.8h1.6M1510.1 904.4h1.6M1255.4 906.8h1.6M1509.7 943.7h1.6M1255.1 953.4h1.6M1508.8 969.8h1.6M1255.3 972.1h1.6M1255.3 975.1h1.6M1255.2 975.8h1.6M1255.2 976.4h1.6M1255.3 978.2h1.6M1255.2 978.8h1.6M1255.8 980.1h1.6M1255.3 981.2h1.6M1255.2 981.9h1.6M1255.8 983.2h1.6M1255.3 984.3h1.6M1255.2 984.9h1.6M1255.8 986.2h1.6M1255.2 988h1.6M1255.1 991.1h1.6M1408.5 995h1.6M1408.5 998.1h1.6M1408.6 999.4h1.6M1507.8 1017h1.6M1255.2 1033.8h1.6M1255.2 1036.8h1.6M1408.5 1037.9h1.6M1509.7 1038.1h1.6M1254.7 1038.2h1.6M1255.2 1039.9h1.6M1510 1040.3h1.6M1254.7 1041.3h1.6M1255.2 1042.9h1.6M1254.7 1044.3h1.6M1254.7 1047.4h1.6M1255.7 1059.2h1.6M1255.7 1062.3h1.6M1255.7 1065.3h1.6M1255.7 1068.4h1.6M1508 1078h1.6M1408.5 1080.1h1.6M1408.5 1083.1h1.6M1408.5 1086.2h1.6M1408.5 1089.2h1.6M1408.8 1090.8h1.6M1408.3 1100.3h1.6M1254.6 1101.1h1.6M1408.3 1103.3h1.6M1254.8 1106.3h1.6M1408.3 1106.4h1.6M1254.8 1109.3h1.6M1254.8 1112.4h1.6M1254.8 1115.4h1.6M1408.6 1117.8h1.6M1408.6 1120.9h1.6M1408.6 1123.9h1.6M1508.3 1124.7h1.6M1255.5 1125.9h1.6M1408.6 1127h1.6M1509.1 1130h1.6M1408.9 1131.7h1.6M1409.1 1132.9h1.6M1338.8 1134.1h1.6M1409.1 1135.9h1.6M1338.8 1137.1h1.6M1340.3 1137.9h1.6M1339.6 1138.5h1.6M1409.1 1139h1.6M1338.7 1139.2h1.6M1339 1140h1.6M1338.8 1140.2h1.6M1409.1 1140.6h1.6M1340.3 1140.9h1.6M1338.7 1142.3h1.6M1338.8 1143.2h1.6M1340.3 1144h1.6M1338.7 1145.3h1.6M1338.8 1146.3h1.6M1340.3 1147h1.6M1339.5 1147.3h1.6M1340.3 1150.1h1.6M1339 1151h1.6M1254.7 1152h1.6M1338.8 1152.2h1.6M1339.3 1153.5h1.6M1339 1154.1h1.6M1254.7 1155.1h1.6M1338.8 1155.3h1.6M1339 1157.1h1.6M1339.5 1157.6h1.6M1339.7 1157.9h1.6M1254.7 1158.1h1.6M1338.8 1158.3h1.6M1339 1160.2h1.6M1254.7 1161.2h1.6M1339 1163.2h1.6M1254.7 1164.2h1.6M1339.7 1167.3h1.6M1338.5 1168.9h1.6M1339.3 1177.1h1.6M1339.3 1177.2h1.6M1339.3 1180.1h1.6M1338.6 1182.9h1.6M1338.6 1186h1.6M1409.3 1186.2h1.6M1338.6 1189h1.6M1409.3 1189.3h1.6M1339.3 1189.4h1.6M1338.6 1192.1h1.6M1508.5 1194.5h1.6M1338.6 1195.1h1.6M1338.6 1196.4h1.6M1338.6 1198.1h1.6M1338.6 1201.1h1.6M1339.7 1210h1.6M1408.4 1212.6h1.6M1408.4 1215.6h1.6M1339.1 1218.5h1.6M1408.4 1218.7h1.6M1338.8 1220h1.6M1408.4 1221.7h1.6M1338.8 1222.6h1.6M1339.2 1223.3h1.6M1409.4 1223.7h1.6M1409.4 1226.8h1.6M1408.7 1229.4h1.6M1409.4 1229.8h1.6M1407.9 1231.6h1.6M1408.7 1232.4h1.6M1409.4 1232.9h1.6M1408.1 1234.8h1.6M1408.7 1235.5h1.6M1409.4 1235.9h1.6M1408.1 1237.9h1.6M1408.1 1240.9h1.6M1338.6 1241.4h1.6M1339.3 1243.6h1.6M1408.1 1244h1.6M1339.1 1244.6h1.6M1339.3 1246.6h1.6M1408.1 1247h1.6M1409.8 1247.1h1.6M1339.3 1249.7h1.6M1409.8 1250.1h1.6M1339.3 1252.7h1.6M1409.8 1253.2h1.6M1339.9 1253.8h1.6M1339.3 1255.8h1.6M1409.8 1256.2h1.6" stroke="#f8b8b0" stroke-width="1.6" fill="none"/>
<path d="M1341.7 999.3h1.9M1311.7 1129.9h1.9" stroke="#f8b8b0" stroke-width="1.9" fill="none"/>
<path d="M1509.3 897.9h2M1255 921.4h2M1254.9 922.8h2M1254.8 923.2h2M1255 924.4h2M1254.8 926.3h2M1255 927.5h2M1255 930.5h2M1255 933.6h2M1408.3 964.2h2M1408.3 967.2h2M1408.3 970.3h2M1255.1 976.6h2M1255 985.3h2M1254.2 985.3h2M1255 988.3h2M1254.2 988.3h2M1255.3 989.9h2M1255 991.4h2M1254.2 991.4h2M1255 994.4h2M1255 997.5h2M1255.4 1008h2M1254.6 1022.4h2M1254.6 1030.5h2M1254.6 1033.5h2M1408.4 1034.6h2M1254.6 1036.6h2M1408.4 1037.6h2M1255.3 1038h2M1408.4 1040.7h2M1255.3 1041.1h2M1255 1041.5h2M1408.4 1043.7h2M1255 1044.5h2M1408.6 1046.7h2M1408.4 1046.8h2M1255 1047.6h2M1408.6 1049.7h2M1255 1050.6h2M1409 1051.1h2M1408.6 1052.8h2M1255 1053.7h2M1409 1054.1h2M1408.6 1055.8h2M1256 1066.5h2M1256 1069.5h2M1255.2 1077.6h2M1408.2 1080.5h2M1255.2 1080.7h2M1408.9 1080.9h2M1254.6 1081.9h2M1254.2 1083.5h2M1255.2 1083.7h2M1254.6 1084.9h2M1255.2 1086.8h2M1254.6 1088h2M1409 1088.9h2M1255.2 1089.8h2M1254.6 1091h2M1409 1091.9h2M1254.6 1094.1h2M1408.5 1102.4h2M1408.4 1104.2h2M1408.5 1105.4h2M1408.8 1122.5h2M1408.8 1125.6h2M1254.3 1127.4h2M1408.8 1128.6h2M1408.8 1131.7h2M1254.1 1147h2M1409.1 1149.4h2M1409.1 1152.4h2M1409.1 1155.5h2M1409.1 1158.5h2M1409.1 1161.6h2M1255 1164.1h2M1255 1167.1h2M1255 1170.2h2M1255 1173.2h2M1409.1 1176.4h2M1408.3 1176.5h2M1409.1 1179.5h2M1408.3 1179.5h2M1409.1 1182.5h2M1409.1 1185.6h2M1408.8 1189.7h2M1409 1202.1h2M1409 1205.1h2M1409 1208.2h2M1409 1211.2h2M1409.1 1234.3h2M1409.1 1237.3h2M1409 1239h2M1409 1242h2M1408.7 1244.3h2M1409.1 1246.8h2M1409.1 1249.9h2" stroke="#f8b8b0" stroke-width="2" fill="none"/>
<path d="M1377.7 824.8h2.2M1296.8 981h2.2M1417.2 994.1h2.2M1423.4 1053.4h2.2M1393 1166.8h2.2" stroke="#f8b8b0" stroke-width="2.2" fill="none"/>
<path d="M1405.9 823.6h2.4M1383.4 1065.2h2.4M1395.6 1152.8h2.4M1436.9 1171.7h2.4M1341.2 1194.8h2.4" stroke="#f8b8b0" stroke-width="2.4" fill="none"/>
<path d="M1096.2 868.2h0.9" stroke="#b000a0" stroke-width="0.9" fill="none"/>
<path d="M1186.5 780.7h1M1186.5 789.9h1M1202.2 799h1M1186.5 805.1h1M1183.9 811.2h1M1181.3 817.3h1M1207.4 823.4h1M1215.2 826.4h1M1212.6 829.4h1M1165.6 844.7h1M1168.2 872.1h1M1149.9 899.5h1M1163 899.5h1M1168.2 899.5h1M1131.7 923.8h1M1160.4 923.8h1M1121.2 932.9h1M1134.3 932.9h1M1108.2 936h1M1110.8 936h1M1131.7 936h1M1147.3 936h1M1178.7 936h1M1131.7 939h1M1105.5 942.1h1M1131.7 945.1h1M1147.3 945.1h1M1149.9 945.1h1M1113.4 948.2h1M1105.5 954.3h1M1105.5 957.3h1M1152.6 957.3h1M1139.5 960.3h1M1113.4 963.4h1M1121.2 963.4h1M1160.4 963.4h1M1152.6 966.4h1M1110.8 975.6h1M1126.4 975.6h1M1147.3 975.6h1M1118.6 981.6h1M1116 984.7h1M1089.9 990.8h1M1097.7 999.9h1M1095.1 1006h1M1102.9 1155.2h1M1089.9 1167.3h1" stroke="#b000a0" stroke-width="1.2" fill="none"/>
<path d="M1095 939.6h1.1M1095.6 999.5h1.1M1095.4 1002.9h1.1" stroke="#b000a0" stroke-width="1.1" fill="none"/>
<path d="M1204.7 799h1.2M1204.7 811.2h1.2M1183.8 814.2h1.2M1212.5 814.2h1.2M1207.3 826.4h1.2M1170.7 835.5h1.2M1207.3 835.5h1.2M1209.9 835.5h1.2M1204.7 844.7h1.2M1165.5 850.8h1.2M1181.2 850.8h1.2M1199.5 856.8h1.2M1162.9 862.9h1.2M1165.5 862.9h1.2M1160.3 878.2h1.2M1162.9 878.2h1.2M1162.9 881.2h1.2M1155.1 893.4h1.2M1155.1 896.4h1.2M1149.8 905.5h1.2M1162.9 905.5h1.2M1162.9 908.6h1.2M1149.8 911.6h1.2M1157.7 911.6h1.2M1168.1 914.7h1.2M1149.8 917.7h1.2M1176 917.7h1.2M1168.1 923.8h1.2M1147.2 929.9h1.2M1157.7 932.9h1.2M1144.6 936h1.2M1118.5 939h1.2M1110.7 945.1h1.2M1144.6 945.1h1.2M1131.6 951.2h1.2M1155.1 957.3h1.2M1105.4 960.3h1.2M1115.9 960.3h1.2M1126.3 960.3h1.2M1147.2 960.3h1.2M1115.9 966.4h1.2M1134.2 966.4h1.2M1128.9 972.5h1.2M1123.7 975.6h1.2M1092.4 987.7h1.2M1118.5 990.8h1.2M1113.3 1155.2h1.2M1115.9 1155.2h1.2" stroke="#b000a0" stroke-width="1.4" fill="none"/>
<path d="M1507.6 826.4h1.3M1401.2 828.8h1.3M1401.2 831.8h1.3M1401.2 834.9h1.3M1401.2 837.9h1.3M1401.2 841h1.3M1402.2 854.2h1.3M1403 878.2h1.3M1403 881.3h1.3M1508.8 885.4h1.3M1402.7 930.8h1.3M1402.7 933.9h1.3M1402.7 936.9h1.3M1402.7 940h1.3M1509.3 946.9h1.3M1507.9 958.1h1.3M1402.2 983.7h1.3M1402.4 985.5h1.3M1402.2 986.7h1.3M1402.2 989.8h1.3M1402.1 1046.5h1.3M1402.3 1057.2h1.3M1507.4 1059.5h1.3M1509.2 1112.3h1.3M1401.6 1138.9h1.3M1509.1 1146.5h1.3M1508.7 1147.4h1.3M1509.2 1152.2h1.3M1510.8 1153.2h1.3M1402.2 1159.1h1.3M1402.2 1162.1h1.3M1402.2 1165.2h1.3M1402.2 1168.2h1.3M1401.6 1169.8h1.3M1402.2 1171.3h1.3M1158.3 1222.7h1.3M1098.1 1232.5h1.3M1115.6 1236.7h1.3M1095.2 1256.8h1.3M1402 1258.4h1.3M1402 1261.5h1.3" stroke="#b000a0" stroke-width="1.3" fill="none"/>
<path d="M1128.9 780.7h1.4M1127.6 785.3h1.4M1183.7 786.8h1.4M1186.3 786.8h1.4M1126.3 788.4h1.4M1183.7 789.9h1.4M1126.3 792.9h1.4M1123.6 794.4h1.4M1181.1 799h1.4M1207.2 799h1.4M1183.7 802.1h1.4M1115.8 803.6h1.4M1117.1 803.6h1.4M1115.8 808.1h1.4M1181.1 808.1h1.4M1212.5 809.7h1.4M1213.8 809.7h1.4M1216.4 809.7h1.4M1211.1 811.2h1.4M1212.5 811.2h1.4M1213.8 811.2h1.4M1215.1 811.2h1.4M1211.1 812.7h1.4M1213.8 812.7h1.4M1215.1 812.7h1.4M1108 814.2h1.4M1209.8 817.3h1.4M1100.1 820.3h1.4M1102.8 820.3h1.4M1181.1 820.3h1.4M1207.2 820.3h1.4M1212.5 823.4h1.4M1096.2 827.9h1.4M1207.2 829.4h1.4M1217.7 829.4h1.4M1212.5 838.6h1.4M1217.7 838.6h1.4M1168.1 841.6h1.4M1181.1 844.7h1.4M1207.2 847.7h1.4M1199.4 853.8h1.4M1209.8 859.9h1.4M1196.8 866h1.4M1202 872.1h1.4M1187.6 885.8h1.4M1160.2 887.3h1.4M1188.9 887.3h1.4M1157.6 893.4h1.4M1185 894.9h1.4M1188.9 897.9h1.4M1186.3 899.5h1.4M1191.6 899.5h1.4M1185 902.5h1.4M1128.9 905.5h1.4M1155 905.5h1.4M1160.2 908.6h1.4M1165.4 908.6h1.4M1141.9 914.7h1.4M1144.5 914.7h1.4M1162.8 914.7h1.4M1181.1 914.7h1.4M1188.9 914.7h1.4M1144.5 917.7h1.4M1160.2 917.7h1.4M1162.8 917.7h1.4M1168.1 917.7h1.4M1182.4 919.2h1.4M1183.7 919.2h1.4M1152.4 920.8h1.4M1175.9 922.3h1.4M1178.5 922.3h1.4M1134.1 923.8h1.4M1165.4 923.8h1.4M1170.7 923.8h1.4M1123.6 926.9h1.4M1177.2 926.9h1.4M1157.6 929.9h1.4M1181.1 929.9h1.4M1126.3 932.9h1.4M1128.9 932.9h1.4M1139.3 932.9h1.4M1139.3 936h1.4M1177.2 937.5h1.4M1149.8 939h1.4M1152.4 939h1.4M1118.4 942.1h1.4M1121 942.1h1.4M1139.3 942.1h1.4M1160.2 942.1h1.4M1173.3 943.6h1.4M1108 945.1h1.4M1147.2 948.2h1.4M1100.1 951.2h1.4M1113.2 951.2h1.4M1141.9 951.2h1.4M1149.8 951.2h1.4M1157.6 951.2h1.4M1158.9 951.2h1.4M1173.3 951.2h1.4M1162.8 952.7h1.4M1100.1 954.3h1.4M1139.3 954.3h1.4M1173.3 954.3h1.4M1123.6 957.3h1.4M1141.9 957.3h1.4M1102.8 960.3h1.4M1123.6 960.3h1.4M1115.8 969.5h1.4M1136.7 969.5h1.4M1152.4 969.5h1.4M1113.2 972.5h1.4M1152.4 972.5h1.4M1097.5 975.6h1.4M1110.6 978.6h1.4M1105.4 981.6h1.4M1131.5 981.6h1.4M1105.4 984.7h1.4M1110.6 984.7h1.4M1113.2 984.7h1.4M1126.3 984.7h1.4M1100.1 987.7h1.4M1110.6 987.7h1.4M1092.3 990.8h1.4M1110.6 990.8h1.4M1115.8 990.8h1.4M1096.2 992.3h1.4M1105.4 993.8h1.4M1110.6 993.8h1.4M1110.6 999.9h1.4M1077.9 1004.5h1.4M1157.6 1111h1.4M1158.9 1111h1.4M1157.6 1112.5h1.4M1158.9 1112.5h1.4M1156.3 1115.6h1.4M1149.8 1123.2h1.4M1149.8 1124.7h1.4M1151.1 1124.7h1.4M1147.2 1127.8h1.4M1141.9 1133.8h1.4M1132.8 1141.5h1.4M1126.3 1146h1.4M1122.3 1149.1h1.4M1111.9 1155.2h1.4M1102.8 1156.7h1.4M1106.7 1156.7h1.4M1092.3 1158.2h1.4M1096.2 1158.2h1.4M1113.2 1158.2h1.4M1094.9 1159.7h1.4M1081.9 1161.2h1.4M1089.7 1161.2h1.4M1080.5 1165.8h1.4M1083.2 1165.8h1.4M1071.4 1167.3h1.4" stroke="#b000a0" stroke-width="1.6" fill="none"/>
<path d="M1401.4 792.4h1.6M1401.4 795.5h1.6M1401.4 798.5h1.6M1401.4 801.6h1.6M1402.5 850.6h1.6M1401.9 877.1h1.6M1401.9 880.1h1.6M1401.9 883.2h1.6M1401.9 886.2h1.6M1401.9 889.3h1.6M1508.9 890.6h1.6M1402.7 898.8h1.6M1402.7 901.9h1.6M1401.1 927.1h1.6M1402.1 941.4h1.6M1401.4 978.2h1.6M1401.4 981.2h1.6M1401.4 984.3h1.6M1401.4 987.3h1.6M1401.4 990.4h1.6M1508.6 997.7h1.6M1509.2 1007h1.6M1402.1 1051.3h1.6M1402.5 1079.6h1.6M1401.6 1095.8h1.6M1401.6 1098.9h1.6M1401.6 1101.9h1.6M1401 1103.2h1.6M1401.9 1147.5h1.6M1401.4 1158.7h1.6M1507.9 1181.2h1.6M1508.9 1184.3h1.6M1509.2 1187.4h1.6M1096.3 1256.9h1.6" stroke="#b000a0" stroke-width="1.6" fill="none"/>
<path d="M1158.6 1216.4h1.8M1157.1 1219.8h1.8" stroke="#b000a0" stroke-width="1.8" fill="none"/>
<path d="M1479.6 783.6h1.9M1478.7 800.5h1.9M1267 806.7h1.9M1561.8 812.5h1.9M1481.6 830.8h1.9M1481.6 833.8h1.9M1345.4 842h1.9M1345.4 845.1h1.9M1345.4 848.1h1.9M1346.5 848.2h1.9M1345.4 851.2h1.9M1392.2 851.5h1.9M1345.4 854.2h1.9M1276 874.3h1.9M1473.7 877.8h1.9M1384.7 882.1h1.9M1318.8 892.6h1.9M1335.3 896.4h1.9M1431.6 941.5h1.9M1328.6 943.3h1.9M1332.8 964.1h1.9M1208.8 987.5h1.9M1404.8 992.6h1.9M1077.1 994h1.9M1331.7 1034.9h1.9M1331.7 1037.9h1.9M1331.7 1041h1.9M1331.7 1044h1.9M1329.1 1055.1h1.9M1057.8 1074.9h1.9M1345.6 1086.5h1.9M1332.6 1087.5h1.9M1265 1092.4h1.9M1331.6 1114.6h1.9M1478.3 1168.8h1.9M1294.5 1195.3h1.9M1236.6 1205.1h1.9M1392.3 1206.5h1.9M1345.9 1213.1h1.9M1274.4 1221.3h1.9M1465.7 1234.3h1.9M1332.4 1261.9h1.9M1332.4 1265h1.9M1481.8 1272.9h1.9" stroke="#b000a0" stroke-width="1.9" fill="none"/>
<path d="M1508.6 812.3h2M1402.6 813.4h2M1402.6 816.4h2M1402.6 819.5h2M1508.5 822.1h2M1401.1 842.1h2M1401.1 845.1h2M1402.5 865.7h2M1402.5 868.8h2M1402.5 871.8h2M1402.5 874.9h2M1402.5 877.9h2M1400.2 887.1h2M1508.6 892h2M1508 896.3h2M1508.2 956.6h2M1401.3 967.5h2M1401.3 970.5h2M1401.3 973.6h2M1402 975h2M1509.3 982.6h2M1400.8 1007.1h2M1400.8 1010.2h2M1400.8 1013.2h2M1402.3 1073h2M1402.3 1076h2M1402.3 1079.1h2M1402.3 1082.1h2M1402.3 1085.2h2M1400.9 1107.3h2M1510.7 1153.9h2M1508.6 1171.1h2M1509.3 1274.5h2" stroke="#b000a0" stroke-width="2" fill="none"/>
<path d="M1267.5 796.7h2.2M1435.4 802.8h2.2M1401 815.4h2.2M1401 818.5h2.2M1401 819.2h2.2M1331.7 831.5h2.2M1283.5 834h2.2M1500.2 835.5h2.2M1332.8 842.1h2.2M1332.8 845.2h2.2M1392.5 852.7h2.2M1345.3 859.9h2.2M1345.3 863h2.2M1345.3 866h2.2M1345.3 869.1h2.2M1400.8 878h2.2M1346.8 878.1h2.2M1401 880.1h2.2M1412.2 880.7h2.2M1462 890.2h2.2M1401.3 900.1h2.2M1401.3 903.2h2.2M1264.2 903.5h2.2M1432.3 906.2h2.2M1405.7 911.1h2.2M1106 926h2.2M1402.3 936.8h2.2M1400.7 936.8h2.2M1400.7 939.8h2.2M1332.1 940.3h2.2M1400.7 942.9h2.2M1400.7 945.9h2.2M1400.7 949h2.2M1401.7 959.1h2.2M1401.7 962.2h2.2M1401.7 965.2h2.2M1401.7 968.3h2.2M1401.7 971.3h2.2M1401.4 981.9h2.2M1361.2 988.8h2.2M1434.5 1005.4h2.2M1401.4 1014h2.2M1305.4 1032.6h2.2M1401.1 1060.5h2.2M1345.2 1063.9h2.2M1400.7 1071.3h2.2M1459.2 1077.7h2.2M1447 1080.3h2.2M1395 1080.9h2.2M1331.6 1098h2.2M1401.5 1098.2h2.2M1401.4 1098.3h2.2M1331.6 1101h2.2M1401.4 1101.4h2.2M1345.1 1101.4h2.2M1401.4 1104.4h2.2M1401.4 1107.5h2.2M1401.4 1110.5h2.2M1400.7 1113.3h2.2M1401.6 1129.6h2.2M1303.7 1139.2h2.2M1400.2 1143.6h2.2M1399.5 1143.9h2.2M1400.7 1152.1h2.2M1296.7 1154.7h2.2M1400.7 1155.1h2.2M1400.7 1158.2h2.2M1400.7 1161.2h2.2M1390 1162.7h2.2M1345 1166.7h2.2M1401.7 1167.1h2.2M1401.5 1170.4h2.2M1392.9 1185.4h2.2M1435.6 1220.2h2.2M1332.7 1222.5h2.2M1332.7 1225.5h2.2M1544.9 1250.3h2.2M1400.7 1256.2h2.2M1461.2 1263.3h2.2M1466.6 1266.6h2.2M1323.2 1273.8h2.2" stroke="#b000a0" stroke-width="2.2" fill="none"/>
<path d="M1274.6 804.3h2.4M1326.2 806.1h2.4M1326.2 809.1h2.4M1326.2 812.2h2.4M1326.2 815.2h2.4M1326.2 818.3h2.4M1331.4 825.5h2.4M1524 827h2.4M1331.4 828.5h2.4M1331.4 831.6h2.4M1345.3 834.4h2.4M1331.4 834.6h2.4M1331.4 837.7h2.4M1351.8 847h2.4M1275.3 868.2h2.4M1394.8 871.5h2.4M1436.2 872h2.4M1499.8 876.1h2.4M1344.6 915.8h2.4M1334.6 916.5h2.4M1329 919.1h2.4M1421.7 936.2h2.4M1331.5 953.2h2.4M1331.5 956.3h2.4M1331.5 959.3h2.4M1544.7 967.9h2.4M1332.2 980.9h2.4M1332.2 983.9h2.4M1413.8 986.9h2.4M1332.2 987h2.4M1344.7 992.1h2.4M1375.1 995h2.4M1282.5 1024.8h2.4M1336.6 1036.2h2.4M1345.9 1042.4h2.4M1386.5 1053.9h2.4M1245.6 1083.5h2.4M1320.1 1083.6h2.4M1496.1 1100.6h2.4M1299.8 1118.7h2.4M1345.1 1122.1h2.4M1459 1123.3h2.4M1471.6 1127.6h2.4M1333.4 1163.8h2.4M1483 1166.6h2.4M1314.2 1189h2.4M1309.4 1228.5h2.4M1499.8 1229.7h2.4M1336 1234h2.4M1331.4 1268.6h2.4" stroke="#b000a0" stroke-width="2.4" fill="none"/>
<path d="M1204.8 805.1h1M1202.2 820.3h1M1202.2 841.6h1M1199.6 862.9h1M1199.6 866h1M1189.1 899.5h1M1176.1 911.6h1M1173.5 926.9h1" stroke="#80b868" stroke-width="1.2" fill="none"/>
<path d="M1204.7 817.3h1.2M1199.5 820.3h1.2M1202.1 826.4h1.2M1202.1 835.5h1.2M1199.5 869h1.2M1202.1 869h1.2M1189 905.5h1.2M1160.3 951.2h1.2M1139.4 972.5h1.2" stroke="#80b868" stroke-width="1.4" fill="none"/>
<path d="M1152.4 779.2h1.4M1153.7 783.8h1.4M1155 783.8h1.4M1148.5 785.3h1.4M1147.2 788.4h1.4M1139.3 796h1.4M1141.9 796h1.4M1136.7 800.5h1.4M1136.7 802.1h1.4M1207.2 802.1h1.4M1132.8 805.1h1.4M1134.1 805.1h1.4M1134.1 806.6h1.4M1204.6 808.1h1.4M1122.3 817.3h1.4M1202 817.3h1.4M1202 829.4h1.4M1204.6 829.4h1.4M1204.6 832.5h1.4M1199.4 838.6h1.4M1199.4 844.7h1.4M1199.4 847.7h1.4M1199.4 850.8h1.4M1194.2 884.2h1.4M1190.3 885.8h1.4M1191.6 885.8h1.4M1192.9 885.8h1.4M1192.9 887.3h1.4M1188.9 888.8h1.4M1186.3 890.3h1.4M1191.6 890.3h1.4M1194.2 890.3h1.4M1190.3 891.8h1.4M1187.6 896.4h1.4M1188.9 896.4h1.4M1188.9 901h1.4M1183.7 902.5h1.4M1186.3 902.5h1.4M1187.6 904h1.4M1168.1 905.5h1.4M1183.7 905.5h1.4M1190.3 907.1h1.4M1191.6 908.6h1.4M1173.3 911.6h1.4M1183.7 911.6h1.4M1181.1 913.2h1.4M1182.4 914.7h1.4M1185 916.2h1.4M1181.1 919.2h1.4M1183.7 923.8h1.4M1178.5 925.3h1.4M1168.1 926.9h1.4M1178.5 926.9h1.4M1177.2 929.9h1.4M1178.5 929.9h1.4M1178.5 931.4h1.4M1173.3 932.9h1.4M1175.9 932.9h1.4M1172 934.5h1.4M1174.6 934.5h1.4M1175.9 934.5h1.4M1178.5 934.5h1.4M1173.3 937.5h1.4M1175.9 939h1.4M1173.3 940.6h1.4M1170.7 943.6h1.4M1168.1 945.1h1.4M1169.4 945.1h1.4M1172 945.1h1.4M1173.3 945.1h1.4M1178.5 945.1h1.4M1168.1 946.6h1.4M1168.1 948.2h1.4M1169.4 948.2h1.4M1168.1 949.7h1.4M1169.4 949.7h1.4M1166.7 951.2h1.4M1160.2 954.3h1.4M1161.5 954.3h1.4M1157.6 957.3h1.4M1160.2 958.8h1.4M1152.4 960.3h1.4M1156.3 960.3h1.4M1158.9 960.3h1.4M1152.4 961.9h1.4M1153.7 961.9h1.4M1158.9 961.9h1.4M1149.8 963.4h1.4M1151.1 963.4h1.4M1144.5 966.4h1.4M1156.3 966.4h1.4M1141.9 969.5h1.4M1145.8 969.5h1.4M1144.5 972.5h1.4M1207.2 972.5h1.4M1135.4 974h1.4M1136.7 974h1.4M1144.5 974h1.4M1141.9 977.1h1.4M1205.9 977.1h1.4M1123.6 980.1h1.4M1126.3 981.6h1.4M1127.6 981.6h1.4M1134.1 981.6h1.4M1119.7 984.7h1.4M1109.3 986.2h1.4M1207.2 986.2h1.4M1105.4 987.7h1.4M1111.9 987.7h1.4M1123.6 987.7h1.4M1125 987.7h1.4M1205.9 987.7h1.4M1108 989.3h1.4M1109.3 989.3h1.4M1110.6 989.3h1.4M1111.9 989.3h1.4M1118.4 989.3h1.4M1098.8 990.8h1.4M1105.4 990.8h1.4M1117.1 990.8h1.4M1098.8 995.3h1.4M1207.2 996.9h1.4M1207.2 999.9h1.4M1205.9 1003h1.4M1205.9 1009h1.4M1207.2 1009h1.4M1205.9 1013.6h1.4M1205.9 1016.7h1.4M1204.6 1024.3h1.4M1205.9 1028.8h1.4M1204.6 1030.4h1.4M1204.6 1031.9h1.4M1204.6 1038h1.4M1204.6 1039.5h1.4M1203.3 1044h1.4M1204.6 1044h1.4M1204.6 1045.6h1.4M1204.6 1048.6h1.4M1202 1053.2h1.4M1203.3 1056.2h1.4M1204.6 1057.7h1.4M1202 1059.3h1.4M1204.6 1060.8h1.4M1200.7 1062.3h1.4M1202 1062.3h1.4M1202 1066.9h1.4M1200.7 1074.5h1.4M1200.7 1080.6h1.4M1202 1083.6h1.4M1199.4 1085.1h1.4M1199.4 1088.2h1.4M1202 1091.2h1.4M1199.4 1095.8h1.4M1196.8 1098.8h1.4M1192.9 1108h1.4M1191.6 1111h1.4M1192.9 1111h1.4M1194.2 1112.5h1.4M1191.6 1117.1h1.4M1188.9 1118.6h1.4M1183.7 1120.1h1.4M1187.6 1120.1h1.4M1182.4 1121.7h1.4M1177.2 1127.8h1.4M1173.3 1130.8h1.4M1173.3 1132.3h1.4M1170.7 1133.8h1.4M1173.3 1133.8h1.4M1166.7 1135.4h1.4M1168.1 1135.4h1.4M1170.7 1135.4h1.4M1161.5 1138.4h1.4M1162.8 1138.4h1.4M1166.7 1138.4h1.4M1169.4 1138.4h1.4M1160.2 1141.5h1.4M1161.5 1141.5h1.4M1158.9 1143h1.4M1145.8 1144.5h1.4M1156.3 1144.5h1.4M1153.7 1146h1.4M1151.1 1147.5h1.4M1152.4 1147.5h1.4M1138 1149.1h1.4M1141.9 1149.1h1.4M1147.2 1149.1h1.4M1132.8 1150.6h1.4M1134.1 1150.6h1.4M1139.3 1150.6h1.4M1141.9 1150.6h1.4M1125 1153.6h1.4M1121 1155.2h1.4M1123.6 1155.2h1.4M1128.9 1155.2h1.4M1115.8 1156.7h1.4M1118.4 1156.7h1.4M1109.3 1158.2h1.4M1119.7 1158.2h1.4M1121 1158.2h1.4M1104.1 1159.7h1.4M1105.4 1159.7h1.4M1111.9 1159.7h1.4M1097.5 1161.2h1.4M1098.8 1161.2h1.4M1104.1 1161.2h1.4M1084.5 1200.8h1.4M1085.8 1202.3h1.4M1075.3 1261.7h1.4M1077.9 1261.7h1.4M1108 1261.7h1.4M1079.2 1263.2h1.4M1092.3 1263.2h1.4M1106.7 1263.2h1.4M1076.6 1264.7h1.4M1087.1 1264.7h1.4M1105.4 1264.7h1.4M1087.1 1266.3h1.4M1094.9 1266.3h1.4" stroke="#80b868" stroke-width="1.6" fill="none"/>
<path d="M1096.6 1155.7h0.9" stroke="#d8d800" stroke-width="0.9" fill="none"/>
<path d="M1217.9 823.4h1M1207.4 850.8h1M1204.8 859.9h1M1197 890.3h1M1183.9 893.4h1M1178.7 920.8h1" stroke="#d8d800" stroke-width="1.2" fill="none"/>
<path d="M1097.3 1160h1.1M1096.8 1162.3h1.1M1096.5 1171.7h1.1" stroke="#d8d800" stroke-width="1.1" fill="none"/>
<path d="M1202.1 853.8h1.2M1196.9 859.9h1.2M1196.9 869h1.2M1186.4 896.4h1.2M1183.8 920.8h1.2" stroke="#d8d800" stroke-width="1.4" fill="none"/>
<path d="M1276.7 779.7h1.3M1275.9 791.2h1.3M1275.3 795.3h1.3M1275.1 803.1h1.3M1274.6 819.4h1.3M1275.6 827.7h1.3M1275.3 835.2h1.3M1276.5 839h1.3M1273.8 841.7h1.3M1275.3 850.7h1.3M1275.2 852h1.3M1274.9 854.9h1.3M1275.4 856.7h1.3M1274.8 864.1h1.3M1275.1 865.4h1.3M1274.9 867.8h1.3M1275.1 873.1h1.3M1274.6 875h1.3M1507.7 875.2h1.3M1274.1 876h1.3M1275.7 876.6h1.3M1274.9 880.5h1.3M1275.3 885.5h1.3M1509.8 887.3h1.3M1275.3 889.4h1.3M1274.6 891.7h1.3M1275.3 893.2h1.3M1275.9 901.3h1.3M1276.4 902h1.3M1275.4 903.8h1.3M1275.3 904.3h1.3M1275.2 904.6h1.3M1507.9 911.3h1.3M1275.4 911.9h1.3M1274.7 912.9h1.3M1275.4 919.1h1.3M1275 921.6h1.3M1275.1 933.5h1.3M1275.4 935.8h1.3M1275.3 937.5h1.3M1275.2 939.1h1.3M1275.2 939.9h1.3M1275.7 941.8h1.3M1275.6 944.8h1.3M1275.6 947h1.3M1274.9 955.6h1.3M1275.3 959.8h1.3M1275.1 965.1h1.3M1275.4 965.7h1.3M1275.6 967.3h1.3M1290.5 967.5h1.3M1275.2 967.8h1.3M1274.8 971.1h1.3M1290.7 971.9h1.3M1275.1 972.9h1.3M1274 973.5h1.3M1275.5 973.6h1.3M1275.3 975.9h1.3M1275 977.9h1.3M1275.5 978.4h1.3M1275.2 978.8h1.3M1274.9 979.2h1.3M1275.7 980.7h1.3M1275.1 984.3h1.3M1275 985.9h1.3M1291.3 993.5h1.3M1275 993.7h1.3M1275.1 994.1h1.3M1275.5 994.2h1.3M1274.8 995.3h1.3M1291.3 996.5h1.3M1275.7 997.1h1.3M1275.1 997.8h1.3M1291.3 999.6h1.3M1290.8 1000.2h1.3M1276.2 1001.3h1.3M1291.3 1002.6h1.3M1275.4 1006.3h1.3M1275 1009.7h1.3M1275.2 1010.9h1.3M1290.5 1012.9h1.3M1276.4 1016.7h1.3M1275 1020.6h1.3M1275.7 1022.5h1.3M1276.1 1025h1.3M1275.7 1028.5h1.3M1291.1 1029.5h1.3M1291.1 1032.6h1.3M1275.6 1033.5h1.3M1274.9 1034.6h1.3M1291.1 1035.6h1.3M1291.9 1037.1h1.3M1291.1 1038.7h1.3M1290.9 1039.4h1.3M1291.1 1041.7h1.3M1275.2 1042.2h1.3M1275.6 1042.5h1.3M1291 1044.5h1.3M1274.8 1045.1h1.3M1291.5 1046.4h1.3M1275.2 1048.9h1.3M1276.1 1051.5h1.3M1507.6 1054.5h1.3M1290.8 1057.7h1.3M1275.8 1059h1.3M1275.8 1059.2h1.3M1275.4 1060.8h1.3M1275.4 1066.2h1.3M1275.4 1070.4h1.3M1290.5 1073.8h1.3M1274.5 1074.7h1.3M1276.1 1075.4h1.3M1290.5 1075.6h1.3M1275.1 1083.1h1.3M1275.2 1083.5h1.3M1276 1083.6h1.3M1276.2 1088h1.3M1275.3 1089.5h1.3M1291.2 1089.6h1.3M1290.2 1091.7h1.3M1275.5 1094h1.3M1291.3 1096.9h1.3M1508.4 1100.1h1.3M1275.2 1104.5h1.3M1274.8 1105h1.3M1274.9 1105.8h1.3M1275 1107.8h1.3M1275.5 1110.1h1.3M1275.1 1116.4h1.3M1274.6 1125.9h1.3M1274.6 1128.4h1.3M1189.5 1129.9h1.3M1274.9 1131.3h1.3M1275.4 1132.9h1.3M1274.9 1134h1.3M1275.9 1137.4h1.3M1290.4 1145h1.3M1275.1 1146h1.3M1275 1149h1.3M1291 1149.8h1.3M1275.4 1150.5h1.3M1274.8 1155.6h1.3M1275.6 1160.3h1.3M1275.5 1163.5h1.3M1275.1 1163.7h1.3M1275 1166.8h1.3M1275 1167.6h1.3M1275.8 1168.1h1.3M1275.5 1169.2h1.3M1510.1 1169.4h1.3M1274.7 1173.7h1.3M1275.1 1175.7h1.3M1291.3 1178.4h1.3M1275.8 1186.5h1.3M1275.4 1189.4h1.3M1275.3 1189.7h1.3M1275.3 1199.4h1.3M1291.5 1200.1h1.3M1509.2 1201h1.3M1290.8 1202.5h1.3M1275.6 1202.9h1.3M1274.6 1204.7h1.3M1275.7 1205.4h1.3M1290.9 1207.4h1.3M1291.3 1209.5h1.3M1291.3 1212.5h1.3M1291.1 1214.7h1.3M1291.3 1215.6h1.3M1275 1215.7h1.3M1275.8 1217.9h1.3M1291.3 1218.6h1.3M1275.1 1218.7h1.3M1291.3 1220.8h1.3M1275.2 1223.4h1.3M1188.7 1223.6h1.3M1276.1 1223.9h1.3M1275 1226.8h1.3M1275.2 1227.3h1.3M1290.6 1227.5h1.3M1290.6 1230.6h1.3M1275.1 1234.9h1.3M1274.1 1240.5h1.3M1187.5 1240.9h1.3M1114.3 1241.8h1.3M1275.2 1245.8h1.3M1290.6 1251.3h1.3M1290.6 1254.4h1.3M1276.2 1256.5h1.3M1275.6 1256.9h1.3M1290.6 1257.4h1.3M1290.6 1260.5h1.3M1115 1261.5h1.3M1274.4 1265.1h1.3M1275.3 1265.2h1.3M1275.1 1265.2h1.3M1275.3 1267h1.3M1275.9 1267.4h1.3M1275.7 1267.7h1.3M1274.9 1270.2h1.3M1275.6 1272.7h1.3M1291.9 1273.2h1.3M1290.8 1274.2h1.3M1274.4 1274.7h1.3M1291.9 1276.2h1.3M1275 1276.7h1.3M1290.8 1277.3h1.3" stroke="#d8d800" stroke-width="1.3" fill="none"/>
<path d="M1217.7 809.7h1.4M1217.7 811.2h1.4M1219 814.2h1.4M1212.5 817.3h1.4M1217.7 817.3h1.4M1219 818.8h1.4M1216.4 820.3h1.4M1212.5 826.4h1.4M1209.8 832.5h1.4M1209.8 834h1.4M1211.1 834h1.4M1211.1 835.5h1.4M1212.5 835.5h1.4M1213.8 835.5h1.4M1208.5 837.1h1.4M1209.8 837.1h1.4M1212.5 837.1h1.4M1213.8 837.1h1.4M1207.2 838.6h1.4M1209.8 838.6h1.4M1211.1 838.6h1.4M1209.8 840.1h1.4M1211.1 840.1h1.4M1213.8 840.1h1.4M1216.4 840.1h1.4M1211.1 841.6h1.4M1212.5 841.6h1.4M1215.1 841.6h1.4M1209.8 843.1h1.4M1212.5 843.1h1.4M1211.1 844.7h1.4M1207.2 853.8h1.4M1202 859.9h1.4M1207.2 859.9h1.4M1202 862.9h1.4M1188.9 884.2h1.4M1183.7 899.5h1.4M1186.3 926.9h1.4M1173.3 929.9h1.4M1175.9 929.9h1.4M1175.9 942.1h1.4M1094.9 1260.2h1.4M1079.2 1261.7h1.4M1083.2 1261.7h1.4M1091 1261.7h1.4M1097.5 1261.7h1.4M1100.1 1261.7h1.4M1091 1263.2h1.4M1094.9 1263.2h1.4M1104.1 1263.2h1.4M1075.3 1264.7h1.4M1083.2 1264.7h1.4M1053.1 1266.3h1.4M1046.6 1267.8h1.4M1047.9 1267.8h1.4M1049.2 1267.8h1.4M1050.5 1267.8h1.4M1104.1 1267.8h1.4M1046.6 1269.3h1.4" stroke="#d8d800" stroke-width="1.6" fill="none"/>
<path d="M1275.4 791.6h1.6M1275.4 794.3h1.6M1272 799.2h1.6M1274.8 803.7h1.6M1507.9 816.3h1.6M1275.1 830.4h1.6M1273.3 833.3h1.6M1274.5 836.4h1.6M1275 837.6h1.6M1275.6 851.7h1.6M1275.4 857.8h1.6M1508.5 863.1h1.6M1273.7 872.6h1.6M1275.1 873h1.6M1274.2 877h1.6M1275.5 883.1h1.6M1274.7 885.3h1.6M1275.7 886.9h1.6M1274.9 888.2h1.6M1274.3 889.8h1.6M1274.6 890.8h1.6M1508.3 891.2h1.6M1275.4 898.6h1.6M1509.3 903.5h1.6M1275.5 905.6h1.6M1274.9 909.4h1.6M1274.1 914.2h1.6M1274.2 916.1h1.6M1275.3 919.3h1.6M1274.7 921.4h1.6M1272.9 930.8h1.6M1275.4 934.8h1.6M1275.5 939h1.6M1274 945.6h1.6M1275.1 948.2h1.6M1275.5 950.1h1.6M1275.8 953.4h1.6M1274 961.1h1.6M1275.4 971.5h1.6M1275.2 972.6h1.6M1275.1 974.9h1.6M1275.9 977.4h1.6M1275.5 979.7h1.6M1508.9 981.7h1.6M1274.6 982.1h1.6M1275.1 983.3h1.6M1275.2 993.4h1.6M1274.7 995.7h1.6M1275.7 1003.2h1.6M1275.1 1006.8h1.6M1291.3 1010.4h1.6M1290.6 1014.2h1.6M1274.4 1016.2h1.6M1290.9 1016.2h1.6M1507.9 1023.8h1.6M1272.3 1033h1.6M1275 1035.9h1.6M1275.1 1040.4h1.6M1289.8 1042.1h1.6M1275.7 1043.5h1.6M1275.1 1046.5h1.6M1274.4 1047.6h1.6M1274.9 1049.2h1.6M1275.1 1052.1h1.6M1509.3 1052.2h1.6M1291 1054h1.6M1290.4 1054.6h1.6M1275.5 1056.3h1.6M1291 1057h1.6M1290.4 1057.7h1.6M1291 1060.1h1.6M1290.4 1060.7h1.6M1291.4 1062.2h1.6M1291 1063.1h1.6M1290.4 1063.8h1.6M1291 1064.8h1.6M1291.4 1065.3h1.6M1291 1066.2h1.6M1273.8 1066.3h1.6M1274.9 1073.9h1.6M1508.6 1079.2h1.6M1290.8 1092h1.6M1291 1092.1h1.6M1291.5 1096.7h1.6M1290 1098.5h1.6M1274.8 1101h1.6M1508.5 1101.2h1.6M1290 1101.6h1.6M1275 1104.2h1.6M1290 1104.6h1.6M1290 1107.7h1.6M1290 1110.7h1.6M1275.8 1114.7h1.6M1291.2 1114.7h1.6M1291.2 1117.8h1.6M1275.6 1118.9h1.6M1275.9 1120.1h1.6M1291.2 1126.8h1.6M1275.8 1128.4h1.6M1275.3 1132.3h1.6M1274.9 1135.2h1.6M1275.2 1150h1.6M1272.9 1159h1.6M1275 1163h1.6M1290.8 1169.8h1.6M1290.8 1172.2h1.6M1290.8 1172.9h1.6M1290.8 1175.3h1.6M1290.8 1175.9h1.6M1275.8 1176.5h1.6M1290.8 1178.3h1.6M1290.8 1181.4h1.6M1274.4 1182.2h1.6M1275.3 1184.1h1.6M1274.9 1184.2h1.6M1290.8 1184.4h1.6M1290.9 1194.4h1.6M1275.7 1196.5h1.6M1291.7 1199.3h1.6M1291.2 1200.7h1.6M1274.3 1201.1h1.6M1291.7 1202.4h1.6M1290.6 1204.8h1.6M1291.7 1205.4h1.6M1274.4 1206.1h1.6M1275.2 1206.2h1.6M1291.7 1208.5h1.6M1290.1 1208.7h1.6M1275.4 1210.7h1.6M1291.7 1211.5h1.6M1290.1 1211.8h1.6M1290.1 1214.8h1.6M1274.6 1216h1.6M1275.7 1216.6h1.6M1274.4 1219.1h1.6M1275.1 1228h1.6M1115.7 1228.7h1.6M1275 1235.7h1.6M1291.5 1238.3h1.6M1275.3 1244.1h1.6M1115.1 1244.7h1.6M1275.8 1246.3h1.6M1115.1 1247.9h1.6M1290.7 1250.2h1.6M1274.9 1252.3h1.6M1290.1 1253.7h1.6M1291.1 1261.3h1.6M1275.2 1263.6h1.6M1291.1 1264.3h1.6M1291.1 1267.4h1.6M1291.1 1270.4h1.6" stroke="#d8d800" stroke-width="1.6" fill="none"/>
<path d="M1189.2 1130.6h1.8M1188.3 1181.4h1.8" stroke="#d8d800" stroke-width="1.8" fill="none"/>
<path d="M1481.7 780.4h1.9M1153 790.3h1.9M1481 815.7h1.9M1479.8 816.5h1.9M1481 818.7h1.9M1481 821.8h1.9M1481 824.8h1.9M1281.1 843.8h1.9M1478.6 844.2h1.9M1289.1 853.1h1.9M1334.1 896.7h1.9M1289 926h1.9M1274.5 985.7h1.9M1217.4 1006.9h1.9M1280.8 1017.4h1.9M1317.9 1032.8h1.9M1523.8 1093.5h1.9M1474.2 1123.1h1.9M1473.9 1134.4h1.9M1474.5 1135.2h1.9M1474.7 1136.6h1.9M1474.5 1138.2h1.9M1474.7 1139.7h1.9M1474.5 1141.3h1.9M1474.7 1142.7h1.9M1474.5 1144.3h1.9M1474.7 1145.8h1.9M1474.7 1148.8h1.9M1290.5 1230.8h1.9M1482.6 1269.8h1.9" stroke="#d8d800" stroke-width="1.9" fill="none"/>
<path d="M1272.2 819.3h2M1508.9 926.5h2M1272.6 943.7h2M1291 964.7h2M1289.9 970.5h2M1290.8 976.6h2M1272.9 988.8h2M1290.6 998.3h2M1290.8 1010.1h2M1290.8 1013.2h2M1290.8 1016.2h2M1291.2 1027.2h2M1272.7 1027.5h2M1289.9 1051.1h2M1290.5 1051.4h2M1289.9 1054.1h2M1290.5 1054.5h2M1290.2 1071h2M1290.2 1074.1h2M1290 1074.2h2M1290.2 1077.1h2M1290.2 1080.2h2M1273.2 1083.3h2M1272.6 1083.4h2M1290.5 1098h2M1290.5 1101h2M1508.7 1101h2M1290.5 1104.1h2M1290.5 1107.1h2M1270.9 1110.8h2M1290.1 1113.2h2M1290.6 1114.6h2M1290.1 1116.3h2M1290.1 1119.3h2M1290.1 1122.4h2M1290.9 1124.9h2M1291.3 1146h2M1508.9 1146.5h2M1290.8 1158.3h2M1507.7 1164.6h2M1290.1 1167.5h2M1290.1 1170.6h2M1290.1 1173.6h2M1290.8 1175.9h2M1291 1188.4h2M1290.6 1201.6h2M1290.6 1207.3h2M1290.1 1208.6h2M1291.5 1210.6h2M1272.8 1226.2h2M1270.6 1236.5h2M1271.6 1246.7h2M1290.6 1248.3h2M1291.4 1263.5h2M1290.6 1270.7h2M1290.6 1271.6h2M1290.6 1273.8h2M1290.6 1276.8h2" stroke="#d8d800" stroke-width="2" fill="none"/>
<path d="M1481.7 818.2h2.2M1481.3 820.1h2.2M1283.3 877.4h2.2M1291.2 905.5h2.2M1288.6 905.5h2.2M1281.2 921.9h2.2M1519.6 957.9h2.2M1214.7 1018.3h2.2M1206.8 1025.3h2.2M1474.5 1120.7h2.2M1474.2 1120.9h2.2M1474.2 1123.9h2.2M1474.2 1127h2.2M1474.2 1130h2.2M1212.7 1146.7h2.2M1266.9 1159.1h2.2M1251 1187.8h2.2M1368 1219.7h2.2M1485.2 1238.2h2.2M1484.9 1238.2h2.2M1480.7 1242h2.2M1480.7 1245h2.2M1480.7 1248.1h2.2M1480.7 1251.1h2.2M1485.5 1251.6h2.2M1511.1 1252.8h2.2M1480.7 1254.2h2.2M1485.5 1254.6h2.2M1485.5 1257.7h2.2M1331.3 1274.4h2.2" stroke="#d8d800" stroke-width="2.2" fill="none"/>
<path d="M1482.3 785.2h2.4M1479.9 786.5h2.4M1481.9 787h2.4M1289.3 788.5h2.4M1478 816.1h2.4M1478 819.1h2.4M1479.6 821.1h2.4M1478 822.2h2.4M1478 825.2h2.4M1290.4 859.9h2.4M1289.8 867.4h2.4M1286.9 867.5h2.4M1289.9 869.2h2.4M1473.2 898.1h2.4M1289.4 925.6h2.4M1290.6 945.2h2.4M1051.6 951.1h2.4M1473.9 1125.8h2.4M1473.9 1133.6h2.4M1077.7 1163.7h2.4M1313.5 1175.8h2.4M1482.4 1253.3h2.4M1482.4 1256.3h2.4M1481 1266.1h2.4M1484.9 1268.2h2.4M1484.9 1271.2h2.4M1484.9 1274.3h2.4M1484.9 1277.3h2.4" stroke="#d8d800" stroke-width="2.4" fill="none"/>
<path d="M1043.4 1183.3L1069.5 1178.2L1095.5 1174L1116.3 1170.9L1132.4 1167.5L1147.1 1162.9L1159.1 1156.8L1167.1 1150.1L1170.2 1144.5L1170.6 1140.1L1170.2 1136.8" stroke="#333" stroke-width="1.6" fill="none" stroke-linejoin="round"/>
<path d="M1064.8 1169.5L1082.8 1165.1L1102.9 1158.4L1123 1149.1L1139 1138.4L1149.7 1126.3L1156.4 1115.6L1159.8 1110L1160.5 1111.3L1165.5 1093.9L1168.2 1073.8L1169.6 1051.1L1170.2 1020.3L1170.4 980.1L1170.4 940L1170.5 937.3" stroke="#333" stroke-width="1.4" fill="none" stroke-linejoin="round"/>
<path d="M1043.4 1020.3L1069.5 1049.7L1096.2 1073.8L1123 1092.6L1149.7 1112.6L1160.5 1120.7L1169.8 1132.7" stroke="#333" stroke-width="1.6" fill="none" stroke-dasharray="6.5 4.5"/>
<path d="M1043.4 1279V777.7H1567.2" stroke="#262626" stroke-width="1.7" fill="none"/>
<path d="M1567.2 777.7V1279" stroke="#46464e" stroke-width="1.6" fill="none"/><path d="M1568 1279H1042.6" stroke="#262626" stroke-width="1.7" fill="none"/>
<path d="M1043.4 1279.2h-7.4M1043.4 1273h-3.8M1043.4 1266.9h-7.4M1043.4 1260.8h-3.8M1043.4 1254.7h-3.8M1043.4 1248.6h-3.8M1043.4 1242.5h-3.8M1043.4 1236.4h-7.4M1043.4 1230.3h-3.8M1043.4 1224.2h-3.8M1043.4 1218h-3.8M1043.4 1211.9h-3.8M1043.4 1205.8h-7.4M1043.4 1199.7h-3.8M1043.4 1193.6h-3.8M1043.4 1187.5h-3.8M1043.4 1181.4h-3.8M1043.4 1175.3h-7.4M1043.4 1169.2h-3.8M1043.4 1163.1h-3.8M1043.4 1157h-3.8M1043.4 1150.8h-3.8M1043.4 1144.7h-7.4M1043.4 1138.6h-3.8M1043.4 1132.5h-3.8M1043.4 1126.4h-3.8M1043.4 1120.3h-3.8M1043.4 1114.2h-7.4M1043.4 1108.1h-3.8M1043.4 1102h-3.8M1043.4 1095.8h-3.8M1043.4 1089.7h-3.8M1043.4 1083.6h-7.4M1043.4 1077.5h-3.8M1043.4 1071.4h-3.8M1043.4 1065.3h-3.8M1043.4 1059.2h-3.8M1043.4 1053.1h-7.4M1043.4 1047h-3.8M1043.4 1040.9h-3.8M1043.4 1034.8h-3.8M1043.4 1028.6h-3.8M1043.4 1022.5h-7.4M1043.4 1016.4h-3.8M1043.4 1010.3h-3.8M1043.4 1004.2h-3.8M1043.4 998.1h-3.8M1043.4 992h-7.4M1043.4 985.9h-3.8M1043.4 979.8h-3.8M1043.4 973.6h-3.8M1043.4 967.5h-3.8M1043.4 961.4h-7.4M1043.4 955.3h-3.8M1043.4 949.2h-3.8M1043.4 943.1h-3.8M1043.4 937h-3.8M1043.4 930.9h-7.4M1043.4 924.8h-3.8M1043.4 918.7h-3.8M1043.4 912.5h-3.8M1043.4 906.4h-3.8M1043.4 900.3h-7.4M1043.4 894.2h-3.8M1043.4 888.1h-3.8M1043.4 882h-3.8M1043.4 875.9h-3.8M1043.4 869.8h-7.4M1043.4 863.7h-3.8M1043.4 857.6h-3.8M1043.4 851.5h-3.8M1043.4 845.3h-3.8M1043.4 839.2h-7.4M1043.4 833.1h-3.8M1043.4 827h-3.8M1043.4 820.9h-3.8M1043.4 814.8h-3.8M1043.4 808.7h-7.4M1043.4 802.6h-3.8M1043.4 796.5h-3.8M1043.4 790.3h-3.8M1043.4 784.2h-3.8M1043.4 778.1h-7.4M1043.4 1279v7.2M1095.6 1279v7.2M1147.9 1279v7.2M1200.2 1279v7.2M1252.5 1279v7.2M1304.8 1279v7.2M1357.1 1279v7.2M1409.4 1279v7.2M1461.7 1279v7.2M1514 1279v7.2M1566.2 1279v7.2" stroke="#262626" stroke-width="1.5" fill="none"/>
<g font-family="'Liberation Sans',Arial,Helvetica,sans-serif" font-weight="bold" font-size="15.3" fill="#111" stroke="#111" stroke-width=".45">
<g text-anchor="end">
<text transform="translate(1032.1 1285.2) scale(.86 1)">80</text>
<text transform="translate(1032.1 1211.8) scale(.86 1)">200</text>
<text transform="translate(1032.1 1150.7) scale(.86 1)">300</text>
<text transform="translate(1032.1 1089.6) scale(.86 1)">400</text>
<text transform="translate(1032.1 1028.5) scale(.86 1)">500</text>
<text transform="translate(1032.1 967.4) scale(.86 1)">600</text>
<text transform="translate(1032.1 906.3) scale(.86 1)">700</text>
<text transform="translate(1032.1 845.2) scale(.86 1)">800</text>
<text transform="translate(1032.1 784.1) scale(.86 1)">900</text>
</g><g text-anchor="middle">
<text transform="translate(1043.4 1304.2) scale(.86 1.03)">1</text>
<text transform="translate(1095.6 1304.2) scale(.86 1.03)">2</text>
<text transform="translate(1147.9 1304.2) scale(.86 1.03)">3</text>
<text transform="translate(1200.2 1304.2) scale(.86 1.03)">4</text>
<text transform="translate(1252.5 1304.2) scale(.86 1.03)">5</text>
<text transform="translate(1304.8 1304.2) scale(.86 1.03)">6</text>
<text transform="translate(1357.1 1304.2) scale(.86 1.03)">7</text>
<text transform="translate(1409.4 1304.2) scale(.86 1.03)">8</text>
<text transform="translate(1461.7 1304.2) scale(.86 1.03)">9</text>
<text transform="translate(1514 1304.2) scale(.86 1.03)">10</text>
<text transform="translate(1566.2 1304.2) scale(.86 1.03)">11</text>
</g></g>
<g font-family="'Liberation Sans',Arial,Helvetica,sans-serif" font-weight="bold" font-size="13.8" letter-spacing=".5" fill="#fff">
<rect x="1573.8" y="776.4" width="46.6" height="19.3" fill="#909090"/>
<text x="1575.2" y="792.6">NoVal</text>
<rect x="1573.8" y="797.3" width="46.6" height="19.3" fill="#10d8f8"/>
<text x="1575.2" y="813.5">NNE</text>
<rect x="1573.8" y="818.1" width="46.6" height="19.3" fill="#40a8f8"/>
<text x="1575.2" y="834.3">E</text>
<rect x="1573.8" y="839" width="46.6" height="19.3" fill="#b000a0"/>
<text x="1575.2" y="855.2">W</text>
<rect x="1573.8" y="859.9" width="46.6" height="19.3" fill="#ff4090"/>
<text x="1575.2" y="876.1">Vo-</text>
<rect x="1573.8" y="880.8" width="46.6" height="19.3" fill="#ff0030"/>
<text x="1575.2" y="897">Vo+</text>
<rect x="1573.8" y="901.6" width="46.6" height="19.3" fill="#f8b8b0"/>
<text x="1575.2" y="917.8">SSW</text>
<rect x="1573.8" y="922.5" width="46.6" height="19.3" fill="#008010"/>
<text x="1575.2" y="938.7">X-</text>
<rect x="1573.8" y="943.4" width="46.6" height="19.3" fill="#80b868"/>
<text x="1575.2" y="959.6">X+</text>
<rect x="1573.8" y="964.2" width="46.6" height="19.3" fill="#d8d800"/>
<text x="1575.2" y="980.4">SSE</text>
<rect x="1573.8" y="985.1" width="46.6" height="19.3" fill="#2800e0"/>
<text x="1575.2" y="1001.3">NNW</text>
</g>
<rect x="1157" y="1035.2" width="67.8" height="114.3" fill="none" stroke="#f5101a" stroke-width="3.7"/>
<text x="1031.2" y="762.6" font-family="'Liberation Sans',Arial,Helvetica,sans-serif" font-size="41.5" letter-spacing="1.3" fill="#000" stroke="#000" stroke-width="1.4" stroke-linejoin="round">(d)</text>
</svg>
</body></html>
